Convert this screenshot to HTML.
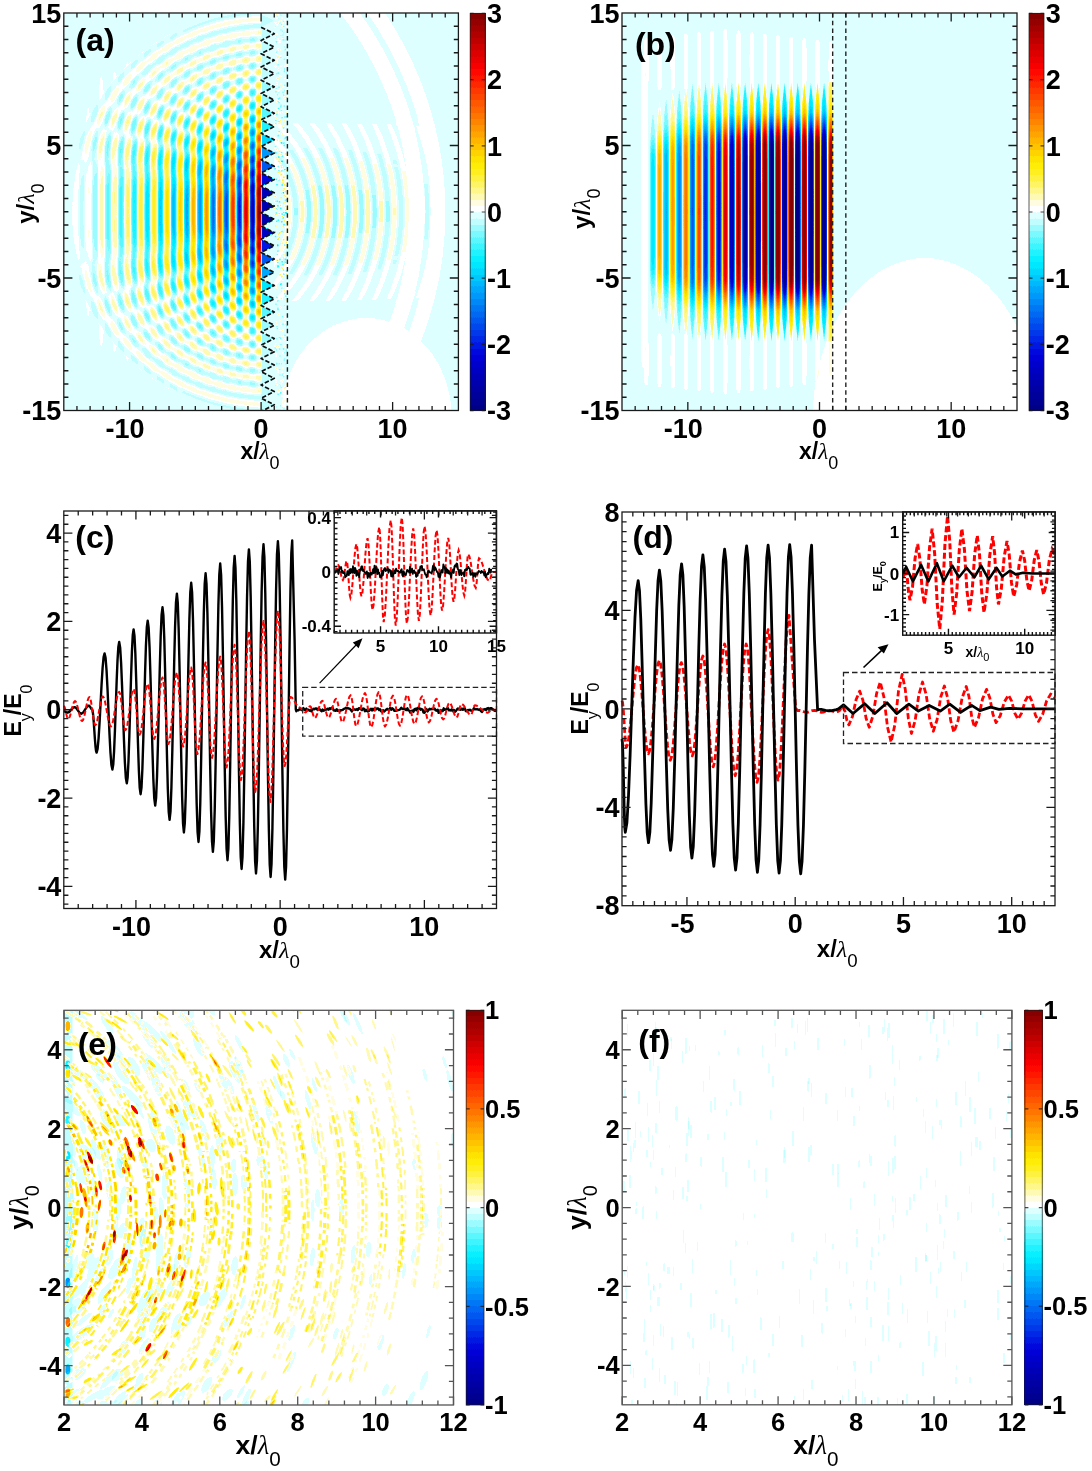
<!DOCTYPE html><html><head><meta charset="utf-8"><title>figure</title><style>html,body{margin:0;padding:0;background:#fff;}svg{display:block;}.p{mix-blend-mode:plus-lighter;}</style></head><body><svg width="1092" height="1471" viewBox="0 0 1092 1471" font-family='"Liberation Sans", Arial, sans-serif'><rect width="1092" height="1471" fill="#fff"/><defs><filter id="cma" filterUnits="userSpaceOnUse" x="61.8" y="11" width="398.6" height="401.5" color-interpolation-filters="sRGB"><feColorMatrix type="matrix" values="0.62 -0.62 0 0 0.5 0.62 -0.62 0 0 0.5 0.62 -0.62 0 0 0.5 0 0 0 0 1"/><feComponentTransfer><feFuncR type="discrete" tableValues="0 0 0 0 0 0 0 0 0 0 0 0 0 0 0 0 0 0 0 0 0 0 0 0 0 0 0 0 0 0 0 0 0 0 0 0 0 0 0 0 0 0 0 0 0 0 0 0 0 0 0 0 0 0 0 0 0 0 0 0 0 0 0 0 0 0 0 0 0 0 0 0 0 0 0 0 0 0 0 0 0 0 0 0 0 0 0 0 0 0 0 0 0 0 0 0 0.035 0.035 0.035 0.035 0.129 0.129 0.129 0.129 0.238 0.238 0.238 0.238 0.357 0.357 0.357 0.357 0.482 0.482 0.482 0.482 0.614 0.614 0.614 0.614 0.75 0.75 0.75 0.75 0.871 0.871 0.871 0.871 1 1 1 1 1 1 1 1 1 1 1 1 1 1 1 1 1 1 1 1 1 1 1 1 1 1 1 1 1 1 1 1 1 1 1 1 1 1 1 1 1 1 1 1 1 1 1 1 1 1 1 1 1 1 1 1 1 1 1 1 1 1 1 1 1 1 1 1 1 1 1 1 1 1 1 1 1 1 1 1 1 1 1 1 1 1 1 1 1 1 1 1 0.974 0.974 0.974 0.974 0.919 0.919 0.919 0.919 0.863 0.863 0.863 0.863 0.808 0.808 0.808 0.808 0.752 0.752 0.752 0.752 0.697 0.697 0.697 0.697 0.641 0.641 0.641 0.641 0.585 0.585 0.585 0.585 0.53 0.53 0.53 0.53"/><feFuncG type="discrete" tableValues="0 0 0 0 0 0 0 0 0 0 0 0 0 0 0 0 0 0 0 0 0 0 0 0 0 0 0 0 0 0 0 0 0 0 0 0 0.034 0.034 0.034 0.034 0.096 0.096 0.096 0.096 0.159 0.159 0.159 0.159 0.222 0.222 0.222 0.222 0.284 0.284 0.284 0.284 0.347 0.347 0.347 0.347 0.409 0.409 0.409 0.409 0.472 0.472 0.472 0.472 0.534 0.534 0.534 0.534 0.597 0.597 0.597 0.597 0.66 0.66 0.66 0.66 0.722 0.722 0.722 0.722 0.785 0.785 0.785 0.785 0.847 0.847 0.847 0.847 0.91 0.91 0.91 0.91 0.945 0.945 0.945 0.945 0.953 0.953 0.953 0.953 0.961 0.961 0.961 0.961 0.969 0.969 0.969 0.969 0.977 0.977 0.977 0.977 0.985 0.985 0.985 0.985 0.993 0.993 0.993 0.993 1 1 1 1 1 1 1 1 0.992 0.992 0.992 0.992 0.981 0.981 0.981 0.981 0.971 0.971 0.971 0.971 0.96 0.96 0.96 0.96 0.949 0.949 0.949 0.949 0.938 0.938 0.938 0.938 0.927 0.927 0.927 0.927 0.891 0.891 0.891 0.891 0.83 0.83 0.83 0.83 0.768 0.768 0.768 0.768 0.707 0.707 0.707 0.707 0.646 0.646 0.646 0.646 0.585 0.585 0.585 0.585 0.523 0.523 0.523 0.523 0.462 0.462 0.462 0.462 0.401 0.401 0.401 0.401 0.339 0.339 0.339 0.339 0.278 0.278 0.278 0.278 0.217 0.217 0.217 0.217 0.156 0.156 0.156 0.156 0.094 0.094 0.094 0.094 0.033 0.033 0.033 0.033 0 0 0 0 0 0 0 0 0 0 0 0 0 0 0 0 0 0 0 0 0 0 0 0 0 0 0 0 0 0 0 0 0 0 0 0"/><feFuncB type="discrete" tableValues="0.529 0.529 0.529 0.529 0.569 0.569 0.569 0.569 0.608 0.608 0.608 0.608 0.648 0.648 0.648 0.648 0.687 0.687 0.687 0.687 0.726 0.726 0.726 0.726 0.766 0.766 0.766 0.766 0.805 0.805 0.805 0.805 0.845 0.845 0.845 0.845 0.872 0.872 0.872 0.872 0.889 0.889 0.889 0.889 0.905 0.905 0.905 0.905 0.92 0.92 0.92 0.92 0.933 0.933 0.933 0.933 0.945 0.945 0.945 0.945 0.956 0.956 0.956 0.956 0.966 0.966 0.966 0.966 0.974 0.974 0.974 0.974 0.982 0.982 0.982 0.982 0.988 0.988 0.988 0.988 0.993 0.993 0.993 0.993 0.996 0.996 0.996 0.996 0.999 0.999 0.999 0.999 1 1 1 1 1 1 1 1 1 1 1 1 1 1 1 1 1 1 1 1 1 1 1 1 1 1 1 1 1 1 1 1 1 1 1 1 1 1 1 1 0.875 0.875 0.875 0.875 0.705 0.705 0.705 0.705 0.543 0.543 0.543 0.543 0.392 0.392 0.392 0.392 0.253 0.253 0.253 0.253 0.13 0.13 0.13 0.13 0.031 0.031 0.031 0.031 0 0 0 0 0 0 0 0 0 0 0 0 0 0 0 0 0 0 0 0 0 0 0 0 0 0 0 0 0 0 0 0 0 0 0 0 0 0 0 0 0 0 0 0 0 0 0 0 0 0 0 0 0 0 0 0 0 0 0 0 0 0 0 0 0 0 0 0 0 0 0 0 0 0 0 0 0 0 0 0 0 0 0 0 0 0 0 0 0 0 0 0 0 0 0 0"/></feComponentTransfer></filter>
<filter id="cmb" filterUnits="userSpaceOnUse" x="620" y="11" width="399" height="401.5" color-interpolation-filters="sRGB"><feColorMatrix type="matrix" values="0.62 -0.62 0 0 0.5 0.62 -0.62 0 0 0.5 0.62 -0.62 0 0 0.5 0 0 0 0 1"/><feComponentTransfer><feFuncR type="discrete" tableValues="0 0 0 0 0 0 0 0 0 0 0 0 0 0 0 0 0 0 0 0 0 0 0 0 0 0 0 0 0 0 0 0 0 0 0 0 0 0 0 0 0 0 0 0 0 0 0 0 0 0 0 0 0 0 0 0 0 0 0 0 0 0 0 0 0 0 0 0 0 0 0 0 0 0 0 0 0 0 0 0 0 0 0 0 0 0 0 0 0 0 0 0 0 0 0 0 0.035 0.035 0.035 0.035 0.129 0.129 0.129 0.129 0.238 0.238 0.238 0.238 0.357 0.357 0.357 0.357 0.482 0.482 0.482 0.482 0.614 0.614 0.614 0.614 0.75 0.75 0.75 0.75 0.871 0.871 0.871 0.871 1 1 1 1 1 1 1 1 1 1 1 1 1 1 1 1 1 1 1 1 1 1 1 1 1 1 1 1 1 1 1 1 1 1 1 1 1 1 1 1 1 1 1 1 1 1 1 1 1 1 1 1 1 1 1 1 1 1 1 1 1 1 1 1 1 1 1 1 1 1 1 1 1 1 1 1 1 1 1 1 1 1 1 1 1 1 1 1 1 1 1 1 0.974 0.974 0.974 0.974 0.919 0.919 0.919 0.919 0.863 0.863 0.863 0.863 0.808 0.808 0.808 0.808 0.752 0.752 0.752 0.752 0.697 0.697 0.697 0.697 0.641 0.641 0.641 0.641 0.585 0.585 0.585 0.585 0.53 0.53 0.53 0.53"/><feFuncG type="discrete" tableValues="0 0 0 0 0 0 0 0 0 0 0 0 0 0 0 0 0 0 0 0 0 0 0 0 0 0 0 0 0 0 0 0 0 0 0 0 0.034 0.034 0.034 0.034 0.096 0.096 0.096 0.096 0.159 0.159 0.159 0.159 0.222 0.222 0.222 0.222 0.284 0.284 0.284 0.284 0.347 0.347 0.347 0.347 0.409 0.409 0.409 0.409 0.472 0.472 0.472 0.472 0.534 0.534 0.534 0.534 0.597 0.597 0.597 0.597 0.66 0.66 0.66 0.66 0.722 0.722 0.722 0.722 0.785 0.785 0.785 0.785 0.847 0.847 0.847 0.847 0.91 0.91 0.91 0.91 0.945 0.945 0.945 0.945 0.953 0.953 0.953 0.953 0.961 0.961 0.961 0.961 0.969 0.969 0.969 0.969 0.977 0.977 0.977 0.977 0.985 0.985 0.985 0.985 0.993 0.993 0.993 0.993 1 1 1 1 1 1 1 1 0.992 0.992 0.992 0.992 0.981 0.981 0.981 0.981 0.971 0.971 0.971 0.971 0.96 0.96 0.96 0.96 0.949 0.949 0.949 0.949 0.938 0.938 0.938 0.938 0.927 0.927 0.927 0.927 0.891 0.891 0.891 0.891 0.83 0.83 0.83 0.83 0.768 0.768 0.768 0.768 0.707 0.707 0.707 0.707 0.646 0.646 0.646 0.646 0.585 0.585 0.585 0.585 0.523 0.523 0.523 0.523 0.462 0.462 0.462 0.462 0.401 0.401 0.401 0.401 0.339 0.339 0.339 0.339 0.278 0.278 0.278 0.278 0.217 0.217 0.217 0.217 0.156 0.156 0.156 0.156 0.094 0.094 0.094 0.094 0.033 0.033 0.033 0.033 0 0 0 0 0 0 0 0 0 0 0 0 0 0 0 0 0 0 0 0 0 0 0 0 0 0 0 0 0 0 0 0 0 0 0 0"/><feFuncB type="discrete" tableValues="0.529 0.529 0.529 0.529 0.569 0.569 0.569 0.569 0.608 0.608 0.608 0.608 0.648 0.648 0.648 0.648 0.687 0.687 0.687 0.687 0.726 0.726 0.726 0.726 0.766 0.766 0.766 0.766 0.805 0.805 0.805 0.805 0.845 0.845 0.845 0.845 0.872 0.872 0.872 0.872 0.889 0.889 0.889 0.889 0.905 0.905 0.905 0.905 0.92 0.92 0.92 0.92 0.933 0.933 0.933 0.933 0.945 0.945 0.945 0.945 0.956 0.956 0.956 0.956 0.966 0.966 0.966 0.966 0.974 0.974 0.974 0.974 0.982 0.982 0.982 0.982 0.988 0.988 0.988 0.988 0.993 0.993 0.993 0.993 0.996 0.996 0.996 0.996 0.999 0.999 0.999 0.999 1 1 1 1 1 1 1 1 1 1 1 1 1 1 1 1 1 1 1 1 1 1 1 1 1 1 1 1 1 1 1 1 1 1 1 1 1 1 1 1 0.875 0.875 0.875 0.875 0.705 0.705 0.705 0.705 0.543 0.543 0.543 0.543 0.392 0.392 0.392 0.392 0.253 0.253 0.253 0.253 0.13 0.13 0.13 0.13 0.031 0.031 0.031 0.031 0 0 0 0 0 0 0 0 0 0 0 0 0 0 0 0 0 0 0 0 0 0 0 0 0 0 0 0 0 0 0 0 0 0 0 0 0 0 0 0 0 0 0 0 0 0 0 0 0 0 0 0 0 0 0 0 0 0 0 0 0 0 0 0 0 0 0 0 0 0 0 0 0 0 0 0 0 0 0 0 0 0 0 0 0 0 0 0 0 0 0 0 0 0 0 0"/></feComponentTransfer></filter>
<filter id="cme" filterUnits="userSpaceOnUse" x="62" y="1008.3" width="393.5" height="398.7" color-interpolation-filters="sRGB"><feColorMatrix type="matrix" values="0.62 -0.62 0 0 0.5 0.62 -0.62 0 0 0.5 0.62 -0.62 0 0 0.5 0 0 0 0 1"/><feComponentTransfer><feFuncR type="discrete" tableValues="0 0 0 0 0 0 0 0 0 0 0 0 0 0 0 0 0 0 0 0 0 0 0 0 0 0 0 0 0 0 0 0 0 0 0 0 0 0 0 0 0 0 0 0 0 0 0 0 0 0 0 0 0 0 0 0 0 0 0 0 0 0 0 0 0 0 0 0 0 0 0 0 0 0 0 0 0 0 0 0 0 0 0 0 0 0 0 0 0 0 0 0 0 0 0 0 0.035 0.035 0.035 0.035 0.129 0.129 0.129 0.129 0.238 0.238 0.238 0.238 0.357 0.357 0.357 0.357 0.482 0.482 0.482 0.482 0.614 0.614 0.614 0.614 0.75 0.75 0.75 0.75 0.871 0.871 0.871 0.871 1 1 1 1 1 1 1 1 1 1 1 1 1 1 1 1 1 1 1 1 1 1 1 1 1 1 1 1 1 1 1 1 1 1 1 1 1 1 1 1 1 1 1 1 1 1 1 1 1 1 1 1 1 1 1 1 1 1 1 1 1 1 1 1 1 1 1 1 1 1 1 1 1 1 1 1 1 1 1 1 1 1 1 1 1 1 1 1 1 1 1 1 0.974 0.974 0.974 0.974 0.919 0.919 0.919 0.919 0.863 0.863 0.863 0.863 0.808 0.808 0.808 0.808 0.752 0.752 0.752 0.752 0.697 0.697 0.697 0.697 0.641 0.641 0.641 0.641 0.585 0.585 0.585 0.585 0.53 0.53 0.53 0.53"/><feFuncG type="discrete" tableValues="0 0 0 0 0 0 0 0 0 0 0 0 0 0 0 0 0 0 0 0 0 0 0 0 0 0 0 0 0 0 0 0 0 0 0 0 0.034 0.034 0.034 0.034 0.096 0.096 0.096 0.096 0.159 0.159 0.159 0.159 0.222 0.222 0.222 0.222 0.284 0.284 0.284 0.284 0.347 0.347 0.347 0.347 0.409 0.409 0.409 0.409 0.472 0.472 0.472 0.472 0.534 0.534 0.534 0.534 0.597 0.597 0.597 0.597 0.66 0.66 0.66 0.66 0.722 0.722 0.722 0.722 0.785 0.785 0.785 0.785 0.847 0.847 0.847 0.847 0.91 0.91 0.91 0.91 0.945 0.945 0.945 0.945 0.953 0.953 0.953 0.953 0.961 0.961 0.961 0.961 0.969 0.969 0.969 0.969 0.977 0.977 0.977 0.977 0.985 0.985 0.985 0.985 0.993 0.993 0.993 0.993 1 1 1 1 1 1 1 1 0.992 0.992 0.992 0.992 0.981 0.981 0.981 0.981 0.971 0.971 0.971 0.971 0.96 0.96 0.96 0.96 0.949 0.949 0.949 0.949 0.938 0.938 0.938 0.938 0.927 0.927 0.927 0.927 0.891 0.891 0.891 0.891 0.83 0.83 0.83 0.83 0.768 0.768 0.768 0.768 0.707 0.707 0.707 0.707 0.646 0.646 0.646 0.646 0.585 0.585 0.585 0.585 0.523 0.523 0.523 0.523 0.462 0.462 0.462 0.462 0.401 0.401 0.401 0.401 0.339 0.339 0.339 0.339 0.278 0.278 0.278 0.278 0.217 0.217 0.217 0.217 0.156 0.156 0.156 0.156 0.094 0.094 0.094 0.094 0.033 0.033 0.033 0.033 0 0 0 0 0 0 0 0 0 0 0 0 0 0 0 0 0 0 0 0 0 0 0 0 0 0 0 0 0 0 0 0 0 0 0 0"/><feFuncB type="discrete" tableValues="0.529 0.529 0.529 0.529 0.569 0.569 0.569 0.569 0.608 0.608 0.608 0.608 0.648 0.648 0.648 0.648 0.687 0.687 0.687 0.687 0.726 0.726 0.726 0.726 0.766 0.766 0.766 0.766 0.805 0.805 0.805 0.805 0.845 0.845 0.845 0.845 0.872 0.872 0.872 0.872 0.889 0.889 0.889 0.889 0.905 0.905 0.905 0.905 0.92 0.92 0.92 0.92 0.933 0.933 0.933 0.933 0.945 0.945 0.945 0.945 0.956 0.956 0.956 0.956 0.966 0.966 0.966 0.966 0.974 0.974 0.974 0.974 0.982 0.982 0.982 0.982 0.988 0.988 0.988 0.988 0.993 0.993 0.993 0.993 0.996 0.996 0.996 0.996 0.999 0.999 0.999 0.999 1 1 1 1 1 1 1 1 1 1 1 1 1 1 1 1 1 1 1 1 1 1 1 1 1 1 1 1 1 1 1 1 1 1 1 1 1 1 1 1 0.875 0.875 0.875 0.875 0.705 0.705 0.705 0.705 0.543 0.543 0.543 0.543 0.392 0.392 0.392 0.392 0.253 0.253 0.253 0.253 0.13 0.13 0.13 0.13 0.031 0.031 0.031 0.031 0 0 0 0 0 0 0 0 0 0 0 0 0 0 0 0 0 0 0 0 0 0 0 0 0 0 0 0 0 0 0 0 0 0 0 0 0 0 0 0 0 0 0 0 0 0 0 0 0 0 0 0 0 0 0 0 0 0 0 0 0 0 0 0 0 0 0 0 0 0 0 0 0 0 0 0 0 0 0 0 0 0 0 0 0 0 0 0 0 0 0 0 0 0 0 0"/></feComponentTransfer></filter>
<filter id="cmf" filterUnits="userSpaceOnUse" x="620.2" y="1008.3" width="393.7" height="398.5" color-interpolation-filters="sRGB"><feColorMatrix type="matrix" values="0.62 -0.62 0 0 0.5 0.62 -0.62 0 0 0.5 0.62 -0.62 0 0 0.5 0 0 0 0 1"/><feComponentTransfer><feFuncR type="discrete" tableValues="0 0 0 0 0 0 0 0 0 0 0 0 0 0 0 0 0 0 0 0 0 0 0 0 0 0 0 0 0 0 0 0 0 0 0 0 0 0 0 0 0 0 0 0 0 0 0 0 0 0 0 0 0 0 0 0 0 0 0 0 0 0 0 0 0 0 0 0 0 0 0 0 0 0 0 0 0 0 0 0 0 0 0 0 0 0 0 0 0 0 0 0 0 0 0 0 0.035 0.035 0.035 0.035 0.129 0.129 0.129 0.129 0.238 0.238 0.238 0.238 0.357 0.357 0.357 0.357 0.482 0.482 0.482 0.482 0.614 0.614 0.614 0.614 0.75 0.75 0.75 0.75 0.871 0.871 0.871 0.871 1 1 1 1 1 1 1 1 1 1 1 1 1 1 1 1 1 1 1 1 1 1 1 1 1 1 1 1 1 1 1 1 1 1 1 1 1 1 1 1 1 1 1 1 1 1 1 1 1 1 1 1 1 1 1 1 1 1 1 1 1 1 1 1 1 1 1 1 1 1 1 1 1 1 1 1 1 1 1 1 1 1 1 1 1 1 1 1 1 1 1 1 0.974 0.974 0.974 0.974 0.919 0.919 0.919 0.919 0.863 0.863 0.863 0.863 0.808 0.808 0.808 0.808 0.752 0.752 0.752 0.752 0.697 0.697 0.697 0.697 0.641 0.641 0.641 0.641 0.585 0.585 0.585 0.585 0.53 0.53 0.53 0.53"/><feFuncG type="discrete" tableValues="0 0 0 0 0 0 0 0 0 0 0 0 0 0 0 0 0 0 0 0 0 0 0 0 0 0 0 0 0 0 0 0 0 0 0 0 0.034 0.034 0.034 0.034 0.096 0.096 0.096 0.096 0.159 0.159 0.159 0.159 0.222 0.222 0.222 0.222 0.284 0.284 0.284 0.284 0.347 0.347 0.347 0.347 0.409 0.409 0.409 0.409 0.472 0.472 0.472 0.472 0.534 0.534 0.534 0.534 0.597 0.597 0.597 0.597 0.66 0.66 0.66 0.66 0.722 0.722 0.722 0.722 0.785 0.785 0.785 0.785 0.847 0.847 0.847 0.847 0.91 0.91 0.91 0.91 0.945 0.945 0.945 0.945 0.953 0.953 0.953 0.953 0.961 0.961 0.961 0.961 0.969 0.969 0.969 0.969 0.977 0.977 0.977 0.977 0.985 0.985 0.985 0.985 0.993 0.993 0.993 0.993 1 1 1 1 1 1 1 1 0.992 0.992 0.992 0.992 0.981 0.981 0.981 0.981 0.971 0.971 0.971 0.971 0.96 0.96 0.96 0.96 0.949 0.949 0.949 0.949 0.938 0.938 0.938 0.938 0.927 0.927 0.927 0.927 0.891 0.891 0.891 0.891 0.83 0.83 0.83 0.83 0.768 0.768 0.768 0.768 0.707 0.707 0.707 0.707 0.646 0.646 0.646 0.646 0.585 0.585 0.585 0.585 0.523 0.523 0.523 0.523 0.462 0.462 0.462 0.462 0.401 0.401 0.401 0.401 0.339 0.339 0.339 0.339 0.278 0.278 0.278 0.278 0.217 0.217 0.217 0.217 0.156 0.156 0.156 0.156 0.094 0.094 0.094 0.094 0.033 0.033 0.033 0.033 0 0 0 0 0 0 0 0 0 0 0 0 0 0 0 0 0 0 0 0 0 0 0 0 0 0 0 0 0 0 0 0 0 0 0 0"/><feFuncB type="discrete" tableValues="0.529 0.529 0.529 0.529 0.569 0.569 0.569 0.569 0.608 0.608 0.608 0.608 0.648 0.648 0.648 0.648 0.687 0.687 0.687 0.687 0.726 0.726 0.726 0.726 0.766 0.766 0.766 0.766 0.805 0.805 0.805 0.805 0.845 0.845 0.845 0.845 0.872 0.872 0.872 0.872 0.889 0.889 0.889 0.889 0.905 0.905 0.905 0.905 0.92 0.92 0.92 0.92 0.933 0.933 0.933 0.933 0.945 0.945 0.945 0.945 0.956 0.956 0.956 0.956 0.966 0.966 0.966 0.966 0.974 0.974 0.974 0.974 0.982 0.982 0.982 0.982 0.988 0.988 0.988 0.988 0.993 0.993 0.993 0.993 0.996 0.996 0.996 0.996 0.999 0.999 0.999 0.999 1 1 1 1 1 1 1 1 1 1 1 1 1 1 1 1 1 1 1 1 1 1 1 1 1 1 1 1 1 1 1 1 1 1 1 1 1 1 1 1 0.875 0.875 0.875 0.875 0.705 0.705 0.705 0.705 0.543 0.543 0.543 0.543 0.392 0.392 0.392 0.392 0.253 0.253 0.253 0.253 0.13 0.13 0.13 0.13 0.031 0.031 0.031 0.031 0 0 0 0 0 0 0 0 0 0 0 0 0 0 0 0 0 0 0 0 0 0 0 0 0 0 0 0 0 0 0 0 0 0 0 0 0 0 0 0 0 0 0 0 0 0 0 0 0 0 0 0 0 0 0 0 0 0 0 0 0 0 0 0 0 0 0 0 0 0 0 0 0 0 0 0 0 0 0 0 0 0 0 0 0 0 0 0 0 0 0 0 0 0 0 0"/></feComponentTransfer></filter>
<filter id="cmca" filterUnits="userSpaceOnUse" x="469.2" y="12.4" width="17" height="399.2" color-interpolation-filters="sRGB"><feColorMatrix type="matrix" values="0.5 -0.5 0 0 0.5 0.5 -0.5 0 0 0.5 0.5 -0.5 0 0 0.5 0 0 0 0 1"/><feComponentTransfer><feFuncR type="discrete" tableValues="0 0 0 0 0 0 0 0 0 0 0 0 0 0 0 0 0 0 0 0 0 0 0 0 0 0 0 0 0 0 0 0 0 0 0 0 0 0 0 0 0 0 0 0 0 0 0 0 0 0 0 0 0 0 0 0 0 0 0 0 0 0 0 0 0 0 0 0 0 0 0 0 0 0 0 0 0 0 0 0 0 0 0 0 0 0 0 0 0 0 0 0 0 0 0 0 0.035 0.035 0.035 0.035 0.129 0.129 0.129 0.129 0.238 0.238 0.238 0.238 0.357 0.357 0.357 0.357 0.482 0.482 0.482 0.482 0.614 0.614 0.614 0.614 0.75 0.75 0.75 0.75 0.871 0.871 0.871 0.871 1 1 1 1 1 1 1 1 1 1 1 1 1 1 1 1 1 1 1 1 1 1 1 1 1 1 1 1 1 1 1 1 1 1 1 1 1 1 1 1 1 1 1 1 1 1 1 1 1 1 1 1 1 1 1 1 1 1 1 1 1 1 1 1 1 1 1 1 1 1 1 1 1 1 1 1 1 1 1 1 1 1 1 1 1 1 1 1 1 1 1 1 0.974 0.974 0.974 0.974 0.919 0.919 0.919 0.919 0.863 0.863 0.863 0.863 0.808 0.808 0.808 0.808 0.752 0.752 0.752 0.752 0.697 0.697 0.697 0.697 0.641 0.641 0.641 0.641 0.585 0.585 0.585 0.585 0.53 0.53 0.53 0.53"/><feFuncG type="discrete" tableValues="0 0 0 0 0 0 0 0 0 0 0 0 0 0 0 0 0 0 0 0 0 0 0 0 0 0 0 0 0 0 0 0 0 0 0 0 0.034 0.034 0.034 0.034 0.096 0.096 0.096 0.096 0.159 0.159 0.159 0.159 0.222 0.222 0.222 0.222 0.284 0.284 0.284 0.284 0.347 0.347 0.347 0.347 0.409 0.409 0.409 0.409 0.472 0.472 0.472 0.472 0.534 0.534 0.534 0.534 0.597 0.597 0.597 0.597 0.66 0.66 0.66 0.66 0.722 0.722 0.722 0.722 0.785 0.785 0.785 0.785 0.847 0.847 0.847 0.847 0.91 0.91 0.91 0.91 0.945 0.945 0.945 0.945 0.953 0.953 0.953 0.953 0.961 0.961 0.961 0.961 0.969 0.969 0.969 0.969 0.977 0.977 0.977 0.977 0.985 0.985 0.985 0.985 0.993 0.993 0.993 0.993 1 1 1 1 1 1 1 1 0.992 0.992 0.992 0.992 0.981 0.981 0.981 0.981 0.971 0.971 0.971 0.971 0.96 0.96 0.96 0.96 0.949 0.949 0.949 0.949 0.938 0.938 0.938 0.938 0.927 0.927 0.927 0.927 0.891 0.891 0.891 0.891 0.83 0.83 0.83 0.83 0.768 0.768 0.768 0.768 0.707 0.707 0.707 0.707 0.646 0.646 0.646 0.646 0.585 0.585 0.585 0.585 0.523 0.523 0.523 0.523 0.462 0.462 0.462 0.462 0.401 0.401 0.401 0.401 0.339 0.339 0.339 0.339 0.278 0.278 0.278 0.278 0.217 0.217 0.217 0.217 0.156 0.156 0.156 0.156 0.094 0.094 0.094 0.094 0.033 0.033 0.033 0.033 0 0 0 0 0 0 0 0 0 0 0 0 0 0 0 0 0 0 0 0 0 0 0 0 0 0 0 0 0 0 0 0 0 0 0 0"/><feFuncB type="discrete" tableValues="0.529 0.529 0.529 0.529 0.569 0.569 0.569 0.569 0.608 0.608 0.608 0.608 0.648 0.648 0.648 0.648 0.687 0.687 0.687 0.687 0.726 0.726 0.726 0.726 0.766 0.766 0.766 0.766 0.805 0.805 0.805 0.805 0.845 0.845 0.845 0.845 0.872 0.872 0.872 0.872 0.889 0.889 0.889 0.889 0.905 0.905 0.905 0.905 0.92 0.92 0.92 0.92 0.933 0.933 0.933 0.933 0.945 0.945 0.945 0.945 0.956 0.956 0.956 0.956 0.966 0.966 0.966 0.966 0.974 0.974 0.974 0.974 0.982 0.982 0.982 0.982 0.988 0.988 0.988 0.988 0.993 0.993 0.993 0.993 0.996 0.996 0.996 0.996 0.999 0.999 0.999 0.999 1 1 1 1 1 1 1 1 1 1 1 1 1 1 1 1 1 1 1 1 1 1 1 1 1 1 1 1 1 1 1 1 1 1 1 1 1 1 1 1 0.875 0.875 0.875 0.875 0.705 0.705 0.705 0.705 0.543 0.543 0.543 0.543 0.392 0.392 0.392 0.392 0.253 0.253 0.253 0.253 0.13 0.13 0.13 0.13 0.031 0.031 0.031 0.031 0 0 0 0 0 0 0 0 0 0 0 0 0 0 0 0 0 0 0 0 0 0 0 0 0 0 0 0 0 0 0 0 0 0 0 0 0 0 0 0 0 0 0 0 0 0 0 0 0 0 0 0 0 0 0 0 0 0 0 0 0 0 0 0 0 0 0 0 0 0 0 0 0 0 0 0 0 0 0 0 0 0 0 0 0 0 0 0 0 0 0 0 0 0 0 0"/></feComponentTransfer></filter>
<filter id="cmcb" filterUnits="userSpaceOnUse" x="1028" y="12.4" width="17" height="399.2" color-interpolation-filters="sRGB"><feColorMatrix type="matrix" values="0.5 -0.5 0 0 0.5 0.5 -0.5 0 0 0.5 0.5 -0.5 0 0 0.5 0 0 0 0 1"/><feComponentTransfer><feFuncR type="discrete" tableValues="0 0 0 0 0 0 0 0 0 0 0 0 0 0 0 0 0 0 0 0 0 0 0 0 0 0 0 0 0 0 0 0 0 0 0 0 0 0 0 0 0 0 0 0 0 0 0 0 0 0 0 0 0 0 0 0 0 0 0 0 0 0 0 0 0 0 0 0 0 0 0 0 0 0 0 0 0 0 0 0 0 0 0 0 0 0 0 0 0 0 0 0 0 0 0 0 0.035 0.035 0.035 0.035 0.129 0.129 0.129 0.129 0.238 0.238 0.238 0.238 0.357 0.357 0.357 0.357 0.482 0.482 0.482 0.482 0.614 0.614 0.614 0.614 0.75 0.75 0.75 0.75 0.871 0.871 0.871 0.871 1 1 1 1 1 1 1 1 1 1 1 1 1 1 1 1 1 1 1 1 1 1 1 1 1 1 1 1 1 1 1 1 1 1 1 1 1 1 1 1 1 1 1 1 1 1 1 1 1 1 1 1 1 1 1 1 1 1 1 1 1 1 1 1 1 1 1 1 1 1 1 1 1 1 1 1 1 1 1 1 1 1 1 1 1 1 1 1 1 1 1 1 0.974 0.974 0.974 0.974 0.919 0.919 0.919 0.919 0.863 0.863 0.863 0.863 0.808 0.808 0.808 0.808 0.752 0.752 0.752 0.752 0.697 0.697 0.697 0.697 0.641 0.641 0.641 0.641 0.585 0.585 0.585 0.585 0.53 0.53 0.53 0.53"/><feFuncG type="discrete" tableValues="0 0 0 0 0 0 0 0 0 0 0 0 0 0 0 0 0 0 0 0 0 0 0 0 0 0 0 0 0 0 0 0 0 0 0 0 0.034 0.034 0.034 0.034 0.096 0.096 0.096 0.096 0.159 0.159 0.159 0.159 0.222 0.222 0.222 0.222 0.284 0.284 0.284 0.284 0.347 0.347 0.347 0.347 0.409 0.409 0.409 0.409 0.472 0.472 0.472 0.472 0.534 0.534 0.534 0.534 0.597 0.597 0.597 0.597 0.66 0.66 0.66 0.66 0.722 0.722 0.722 0.722 0.785 0.785 0.785 0.785 0.847 0.847 0.847 0.847 0.91 0.91 0.91 0.91 0.945 0.945 0.945 0.945 0.953 0.953 0.953 0.953 0.961 0.961 0.961 0.961 0.969 0.969 0.969 0.969 0.977 0.977 0.977 0.977 0.985 0.985 0.985 0.985 0.993 0.993 0.993 0.993 1 1 1 1 1 1 1 1 0.992 0.992 0.992 0.992 0.981 0.981 0.981 0.981 0.971 0.971 0.971 0.971 0.96 0.96 0.96 0.96 0.949 0.949 0.949 0.949 0.938 0.938 0.938 0.938 0.927 0.927 0.927 0.927 0.891 0.891 0.891 0.891 0.83 0.83 0.83 0.83 0.768 0.768 0.768 0.768 0.707 0.707 0.707 0.707 0.646 0.646 0.646 0.646 0.585 0.585 0.585 0.585 0.523 0.523 0.523 0.523 0.462 0.462 0.462 0.462 0.401 0.401 0.401 0.401 0.339 0.339 0.339 0.339 0.278 0.278 0.278 0.278 0.217 0.217 0.217 0.217 0.156 0.156 0.156 0.156 0.094 0.094 0.094 0.094 0.033 0.033 0.033 0.033 0 0 0 0 0 0 0 0 0 0 0 0 0 0 0 0 0 0 0 0 0 0 0 0 0 0 0 0 0 0 0 0 0 0 0 0"/><feFuncB type="discrete" tableValues="0.529 0.529 0.529 0.529 0.569 0.569 0.569 0.569 0.608 0.608 0.608 0.608 0.648 0.648 0.648 0.648 0.687 0.687 0.687 0.687 0.726 0.726 0.726 0.726 0.766 0.766 0.766 0.766 0.805 0.805 0.805 0.805 0.845 0.845 0.845 0.845 0.872 0.872 0.872 0.872 0.889 0.889 0.889 0.889 0.905 0.905 0.905 0.905 0.92 0.92 0.92 0.92 0.933 0.933 0.933 0.933 0.945 0.945 0.945 0.945 0.956 0.956 0.956 0.956 0.966 0.966 0.966 0.966 0.974 0.974 0.974 0.974 0.982 0.982 0.982 0.982 0.988 0.988 0.988 0.988 0.993 0.993 0.993 0.993 0.996 0.996 0.996 0.996 0.999 0.999 0.999 0.999 1 1 1 1 1 1 1 1 1 1 1 1 1 1 1 1 1 1 1 1 1 1 1 1 1 1 1 1 1 1 1 1 1 1 1 1 1 1 1 1 0.875 0.875 0.875 0.875 0.705 0.705 0.705 0.705 0.543 0.543 0.543 0.543 0.392 0.392 0.392 0.392 0.253 0.253 0.253 0.253 0.13 0.13 0.13 0.13 0.031 0.031 0.031 0.031 0 0 0 0 0 0 0 0 0 0 0 0 0 0 0 0 0 0 0 0 0 0 0 0 0 0 0 0 0 0 0 0 0 0 0 0 0 0 0 0 0 0 0 0 0 0 0 0 0 0 0 0 0 0 0 0 0 0 0 0 0 0 0 0 0 0 0 0 0 0 0 0 0 0 0 0 0 0 0 0 0 0 0 0 0 0 0 0 0 0 0 0 0 0 0 0"/></feComponentTransfer></filter>
<filter id="cmce" filterUnits="userSpaceOnUse" x="465.2" y="1009.3" width="19.8" height="396.7" color-interpolation-filters="sRGB"><feColorMatrix type="matrix" values="0.5 -0.5 0 0 0.5 0.5 -0.5 0 0 0.5 0.5 -0.5 0 0 0.5 0 0 0 0 1"/><feComponentTransfer><feFuncR type="discrete" tableValues="0 0 0 0 0 0 0 0 0 0 0 0 0 0 0 0 0 0 0 0 0 0 0 0 0 0 0 0 0 0 0 0 0 0 0 0 0 0 0 0 0 0 0 0 0 0 0 0 0 0 0 0 0 0 0 0 0 0 0 0 0 0 0 0 0 0 0 0 0 0 0 0 0 0 0 0 0 0 0 0 0 0 0 0 0 0 0 0 0 0 0 0 0 0 0 0 0.035 0.035 0.035 0.035 0.129 0.129 0.129 0.129 0.238 0.238 0.238 0.238 0.357 0.357 0.357 0.357 0.482 0.482 0.482 0.482 0.614 0.614 0.614 0.614 0.75 0.75 0.75 0.75 0.871 0.871 0.871 0.871 1 1 1 1 1 1 1 1 1 1 1 1 1 1 1 1 1 1 1 1 1 1 1 1 1 1 1 1 1 1 1 1 1 1 1 1 1 1 1 1 1 1 1 1 1 1 1 1 1 1 1 1 1 1 1 1 1 1 1 1 1 1 1 1 1 1 1 1 1 1 1 1 1 1 1 1 1 1 1 1 1 1 1 1 1 1 1 1 1 1 1 1 0.974 0.974 0.974 0.974 0.919 0.919 0.919 0.919 0.863 0.863 0.863 0.863 0.808 0.808 0.808 0.808 0.752 0.752 0.752 0.752 0.697 0.697 0.697 0.697 0.641 0.641 0.641 0.641 0.585 0.585 0.585 0.585 0.53 0.53 0.53 0.53"/><feFuncG type="discrete" tableValues="0 0 0 0 0 0 0 0 0 0 0 0 0 0 0 0 0 0 0 0 0 0 0 0 0 0 0 0 0 0 0 0 0 0 0 0 0.034 0.034 0.034 0.034 0.096 0.096 0.096 0.096 0.159 0.159 0.159 0.159 0.222 0.222 0.222 0.222 0.284 0.284 0.284 0.284 0.347 0.347 0.347 0.347 0.409 0.409 0.409 0.409 0.472 0.472 0.472 0.472 0.534 0.534 0.534 0.534 0.597 0.597 0.597 0.597 0.66 0.66 0.66 0.66 0.722 0.722 0.722 0.722 0.785 0.785 0.785 0.785 0.847 0.847 0.847 0.847 0.91 0.91 0.91 0.91 0.945 0.945 0.945 0.945 0.953 0.953 0.953 0.953 0.961 0.961 0.961 0.961 0.969 0.969 0.969 0.969 0.977 0.977 0.977 0.977 0.985 0.985 0.985 0.985 0.993 0.993 0.993 0.993 1 1 1 1 1 1 1 1 0.992 0.992 0.992 0.992 0.981 0.981 0.981 0.981 0.971 0.971 0.971 0.971 0.96 0.96 0.96 0.96 0.949 0.949 0.949 0.949 0.938 0.938 0.938 0.938 0.927 0.927 0.927 0.927 0.891 0.891 0.891 0.891 0.83 0.83 0.83 0.83 0.768 0.768 0.768 0.768 0.707 0.707 0.707 0.707 0.646 0.646 0.646 0.646 0.585 0.585 0.585 0.585 0.523 0.523 0.523 0.523 0.462 0.462 0.462 0.462 0.401 0.401 0.401 0.401 0.339 0.339 0.339 0.339 0.278 0.278 0.278 0.278 0.217 0.217 0.217 0.217 0.156 0.156 0.156 0.156 0.094 0.094 0.094 0.094 0.033 0.033 0.033 0.033 0 0 0 0 0 0 0 0 0 0 0 0 0 0 0 0 0 0 0 0 0 0 0 0 0 0 0 0 0 0 0 0 0 0 0 0"/><feFuncB type="discrete" tableValues="0.529 0.529 0.529 0.529 0.569 0.569 0.569 0.569 0.608 0.608 0.608 0.608 0.648 0.648 0.648 0.648 0.687 0.687 0.687 0.687 0.726 0.726 0.726 0.726 0.766 0.766 0.766 0.766 0.805 0.805 0.805 0.805 0.845 0.845 0.845 0.845 0.872 0.872 0.872 0.872 0.889 0.889 0.889 0.889 0.905 0.905 0.905 0.905 0.92 0.92 0.92 0.92 0.933 0.933 0.933 0.933 0.945 0.945 0.945 0.945 0.956 0.956 0.956 0.956 0.966 0.966 0.966 0.966 0.974 0.974 0.974 0.974 0.982 0.982 0.982 0.982 0.988 0.988 0.988 0.988 0.993 0.993 0.993 0.993 0.996 0.996 0.996 0.996 0.999 0.999 0.999 0.999 1 1 1 1 1 1 1 1 1 1 1 1 1 1 1 1 1 1 1 1 1 1 1 1 1 1 1 1 1 1 1 1 1 1 1 1 1 1 1 1 0.875 0.875 0.875 0.875 0.705 0.705 0.705 0.705 0.543 0.543 0.543 0.543 0.392 0.392 0.392 0.392 0.253 0.253 0.253 0.253 0.13 0.13 0.13 0.13 0.031 0.031 0.031 0.031 0 0 0 0 0 0 0 0 0 0 0 0 0 0 0 0 0 0 0 0 0 0 0 0 0 0 0 0 0 0 0 0 0 0 0 0 0 0 0 0 0 0 0 0 0 0 0 0 0 0 0 0 0 0 0 0 0 0 0 0 0 0 0 0 0 0 0 0 0 0 0 0 0 0 0 0 0 0 0 0 0 0 0 0 0 0 0 0 0 0 0 0 0 0 0 0"/></feComponentTransfer></filter>
<filter id="cmcf" filterUnits="userSpaceOnUse" x="1023.9" y="1009.3" width="19.4" height="396.5" color-interpolation-filters="sRGB"><feColorMatrix type="matrix" values="0.5 -0.5 0 0 0.5 0.5 -0.5 0 0 0.5 0.5 -0.5 0 0 0.5 0 0 0 0 1"/><feComponentTransfer><feFuncR type="discrete" tableValues="0 0 0 0 0 0 0 0 0 0 0 0 0 0 0 0 0 0 0 0 0 0 0 0 0 0 0 0 0 0 0 0 0 0 0 0 0 0 0 0 0 0 0 0 0 0 0 0 0 0 0 0 0 0 0 0 0 0 0 0 0 0 0 0 0 0 0 0 0 0 0 0 0 0 0 0 0 0 0 0 0 0 0 0 0 0 0 0 0 0 0 0 0 0 0 0 0.035 0.035 0.035 0.035 0.129 0.129 0.129 0.129 0.238 0.238 0.238 0.238 0.357 0.357 0.357 0.357 0.482 0.482 0.482 0.482 0.614 0.614 0.614 0.614 0.75 0.75 0.75 0.75 0.871 0.871 0.871 0.871 1 1 1 1 1 1 1 1 1 1 1 1 1 1 1 1 1 1 1 1 1 1 1 1 1 1 1 1 1 1 1 1 1 1 1 1 1 1 1 1 1 1 1 1 1 1 1 1 1 1 1 1 1 1 1 1 1 1 1 1 1 1 1 1 1 1 1 1 1 1 1 1 1 1 1 1 1 1 1 1 1 1 1 1 1 1 1 1 1 1 1 1 0.974 0.974 0.974 0.974 0.919 0.919 0.919 0.919 0.863 0.863 0.863 0.863 0.808 0.808 0.808 0.808 0.752 0.752 0.752 0.752 0.697 0.697 0.697 0.697 0.641 0.641 0.641 0.641 0.585 0.585 0.585 0.585 0.53 0.53 0.53 0.53"/><feFuncG type="discrete" tableValues="0 0 0 0 0 0 0 0 0 0 0 0 0 0 0 0 0 0 0 0 0 0 0 0 0 0 0 0 0 0 0 0 0 0 0 0 0.034 0.034 0.034 0.034 0.096 0.096 0.096 0.096 0.159 0.159 0.159 0.159 0.222 0.222 0.222 0.222 0.284 0.284 0.284 0.284 0.347 0.347 0.347 0.347 0.409 0.409 0.409 0.409 0.472 0.472 0.472 0.472 0.534 0.534 0.534 0.534 0.597 0.597 0.597 0.597 0.66 0.66 0.66 0.66 0.722 0.722 0.722 0.722 0.785 0.785 0.785 0.785 0.847 0.847 0.847 0.847 0.91 0.91 0.91 0.91 0.945 0.945 0.945 0.945 0.953 0.953 0.953 0.953 0.961 0.961 0.961 0.961 0.969 0.969 0.969 0.969 0.977 0.977 0.977 0.977 0.985 0.985 0.985 0.985 0.993 0.993 0.993 0.993 1 1 1 1 1 1 1 1 0.992 0.992 0.992 0.992 0.981 0.981 0.981 0.981 0.971 0.971 0.971 0.971 0.96 0.96 0.96 0.96 0.949 0.949 0.949 0.949 0.938 0.938 0.938 0.938 0.927 0.927 0.927 0.927 0.891 0.891 0.891 0.891 0.83 0.83 0.83 0.83 0.768 0.768 0.768 0.768 0.707 0.707 0.707 0.707 0.646 0.646 0.646 0.646 0.585 0.585 0.585 0.585 0.523 0.523 0.523 0.523 0.462 0.462 0.462 0.462 0.401 0.401 0.401 0.401 0.339 0.339 0.339 0.339 0.278 0.278 0.278 0.278 0.217 0.217 0.217 0.217 0.156 0.156 0.156 0.156 0.094 0.094 0.094 0.094 0.033 0.033 0.033 0.033 0 0 0 0 0 0 0 0 0 0 0 0 0 0 0 0 0 0 0 0 0 0 0 0 0 0 0 0 0 0 0 0 0 0 0 0"/><feFuncB type="discrete" tableValues="0.529 0.529 0.529 0.529 0.569 0.569 0.569 0.569 0.608 0.608 0.608 0.608 0.648 0.648 0.648 0.648 0.687 0.687 0.687 0.687 0.726 0.726 0.726 0.726 0.766 0.766 0.766 0.766 0.805 0.805 0.805 0.805 0.845 0.845 0.845 0.845 0.872 0.872 0.872 0.872 0.889 0.889 0.889 0.889 0.905 0.905 0.905 0.905 0.92 0.92 0.92 0.92 0.933 0.933 0.933 0.933 0.945 0.945 0.945 0.945 0.956 0.956 0.956 0.956 0.966 0.966 0.966 0.966 0.974 0.974 0.974 0.974 0.982 0.982 0.982 0.982 0.988 0.988 0.988 0.988 0.993 0.993 0.993 0.993 0.996 0.996 0.996 0.996 0.999 0.999 0.999 0.999 1 1 1 1 1 1 1 1 1 1 1 1 1 1 1 1 1 1 1 1 1 1 1 1 1 1 1 1 1 1 1 1 1 1 1 1 1 1 1 1 0.875 0.875 0.875 0.875 0.705 0.705 0.705 0.705 0.543 0.543 0.543 0.543 0.392 0.392 0.392 0.392 0.253 0.253 0.253 0.253 0.13 0.13 0.13 0.13 0.031 0.031 0.031 0.031 0 0 0 0 0 0 0 0 0 0 0 0 0 0 0 0 0 0 0 0 0 0 0 0 0 0 0 0 0 0 0 0 0 0 0 0 0 0 0 0 0 0 0 0 0 0 0 0 0 0 0 0 0 0 0 0 0 0 0 0 0 0 0 0 0 0 0 0 0 0 0 0 0 0 0 0 0 0 0 0 0 0 0 0 0 0 0 0 0 0 0 0 0 0 0 0"/></feComponentTransfer></filter>
<linearGradient id="cbg" x1="0" y1="0" x2="0" y2="1"><stop offset="0" stop-color="#ff0000"/><stop offset="0.5" stop-color="#000000"/><stop offset="1" stop-color="#00ff00"/></linearGradient>
<clipPath id="clipa"><rect x="63.8" y="13" width="394.6" height="397.5"/></clipPath>
<clipPath id="clipb"><rect x="622" y="13" width="395" height="397.5"/></clipPath>
<clipPath id="clipe"><rect x="64" y="1010.3" width="389.5" height="394.7"/></clipPath>
<clipPath id="clipf"><rect x="622.2" y="1010.3" width="389.7" height="394.5"/></clipPath>
<linearGradient id="lp" x1="0" y1="0" x2="1" y2="0"><stop offset="0" stop-color="#000000"/><stop offset="0.08" stop-color="#6a0000"/><stop offset="0.17" stop-color="#a30000"/><stop offset="0.25" stop-color="#cc0000"/><stop offset="0.33" stop-color="#e80000"/><stop offset="0.42" stop-color="#f90000"/><stop offset="0.5" stop-color="#ff0000"/><stop offset="0.58" stop-color="#f90000"/><stop offset="0.67" stop-color="#e80000"/><stop offset="0.75" stop-color="#cc0000"/><stop offset="0.83" stop-color="#a30000"/><stop offset="0.92" stop-color="#6a0000"/><stop offset="1" stop-color="#000000"/></linearGradient>
<linearGradient id="ln" x1="0" y1="0" x2="1" y2="0"><stop offset="0" stop-color="#000000"/><stop offset="0.08" stop-color="#006a00"/><stop offset="0.17" stop-color="#00a300"/><stop offset="0.25" stop-color="#00cc00"/><stop offset="0.33" stop-color="#00e800"/><stop offset="0.42" stop-color="#00f900"/><stop offset="0.5" stop-color="#00ff00"/><stop offset="0.58" stop-color="#00f900"/><stop offset="0.67" stop-color="#00e800"/><stop offset="0.75" stop-color="#00cc00"/><stop offset="0.83" stop-color="#00a300"/><stop offset="0.92" stop-color="#006a00"/><stop offset="1" stop-color="#000000"/></linearGradient>
<linearGradient id="envbg" x1="0" y1="0" x2="0" y2="1"><stop offset="0" stop-color="#fff" stop-opacity="0.1"/><stop offset="0.04" stop-color="#fff" stop-opacity="0.18"/><stop offset="0.09" stop-color="#fff" stop-opacity="0.24"/><stop offset="0.12" stop-color="#fff" stop-opacity="0.3"/><stop offset="0.15" stop-color="#fff" stop-opacity="0.45"/><stop offset="0.18" stop-color="#fff" stop-opacity="0.6"/><stop offset="0.21" stop-color="#fff" stop-opacity="0.78"/><stop offset="0.24" stop-color="#fff" stop-opacity="0.9"/><stop offset="0.3" stop-color="#fff" stop-opacity="0.97"/><stop offset="0.5" stop-color="#fff" stop-opacity="1"/><stop offset="0.7" stop-color="#fff" stop-opacity="0.97"/><stop offset="0.76" stop-color="#fff" stop-opacity="0.9"/><stop offset="0.79" stop-color="#fff" stop-opacity="0.78"/><stop offset="0.82" stop-color="#fff" stop-opacity="0.6"/><stop offset="0.85" stop-color="#fff" stop-opacity="0.45"/><stop offset="0.88" stop-color="#fff" stop-opacity="0.3"/><stop offset="0.91" stop-color="#fff" stop-opacity="0.24"/><stop offset="0.96" stop-color="#fff" stop-opacity="0.18"/><stop offset="1" stop-color="#fff" stop-opacity="0.1"/></linearGradient><mask id="envb" maskContentUnits="objectBoundingBox"><rect width="1" height="1" fill="url(#envbg)"/></mask>
<linearGradient id="envsg" x1="0" y1="0" x2="0" y2="1"><stop offset="0" stop-color="#fff" stop-opacity="0"/><stop offset="0.1" stop-color="#fff" stop-opacity="0.5"/><stop offset="0.3" stop-color="#fff" stop-opacity="0.9"/><stop offset="0.5" stop-color="#fff" stop-opacity="1"/><stop offset="0.7" stop-color="#fff" stop-opacity="0.9"/><stop offset="0.9" stop-color="#fff" stop-opacity="0.5"/><stop offset="1" stop-color="#fff" stop-opacity="0"/></linearGradient><mask id="envs" maskContentUnits="objectBoundingBox"><rect width="1" height="1" fill="url(#envsg)"/></mask>
<linearGradient id="envgg" x1="0" y1="0" x2="0" y2="1"><stop offset="0" stop-color="#fff" stop-opacity="0.01"/><stop offset="0.05" stop-color="#fff" stop-opacity="0.02"/><stop offset="0.09" stop-color="#fff" stop-opacity="0.04"/><stop offset="0.14" stop-color="#fff" stop-opacity="0.08"/><stop offset="0.18" stop-color="#fff" stop-opacity="0.14"/><stop offset="0.23" stop-color="#fff" stop-opacity="0.24"/><stop offset="0.27" stop-color="#fff" stop-opacity="0.37"/><stop offset="0.32" stop-color="#fff" stop-opacity="0.53"/><stop offset="0.36" stop-color="#fff" stop-opacity="0.7"/><stop offset="0.41" stop-color="#fff" stop-opacity="0.85"/><stop offset="0.45" stop-color="#fff" stop-opacity="0.96"/><stop offset="0.5" stop-color="#fff" stop-opacity="1"/><stop offset="0.5" stop-color="#fff" stop-opacity="1"/><stop offset="0.55" stop-color="#fff" stop-opacity="0.96"/><stop offset="0.59" stop-color="#fff" stop-opacity="0.85"/><stop offset="0.64" stop-color="#fff" stop-opacity="0.7"/><stop offset="0.68" stop-color="#fff" stop-opacity="0.53"/><stop offset="0.73" stop-color="#fff" stop-opacity="0.37"/><stop offset="0.77" stop-color="#fff" stop-opacity="0.24"/><stop offset="0.82" stop-color="#fff" stop-opacity="0.14"/><stop offset="0.86" stop-color="#fff" stop-opacity="0.08"/><stop offset="0.91" stop-color="#fff" stop-opacity="0.04"/><stop offset="0.95" stop-color="#fff" stop-opacity="0.02"/><stop offset="1" stop-color="#fff" stop-opacity="0.01"/></linearGradient><mask id="envg" maskContentUnits="objectBoundingBox"><rect width="1" height="1" fill="url(#envgg)"/></mask><clipPath id="aleft"><rect x="63.8" y="13" width="197.3" height="397.5"/></clipPath><linearGradient id="alg" x1="0" y1="0" x2="0" y2="1"><stop offset="0" stop-color="#fff" stop-opacity="1"/><stop offset="0.27" stop-color="#fff" stop-opacity="1"/><stop offset="0.38" stop-color="#fff" stop-opacity="0.45"/><stop offset="0.5" stop-color="#fff" stop-opacity="0.12"/><stop offset="0.62" stop-color="#fff" stop-opacity="0.45"/><stop offset="0.73" stop-color="#fff" stop-opacity="1"/><stop offset="1" stop-color="#fff" stop-opacity="1"/></linearGradient><mask id="almask" maskUnits="userSpaceOnUse" x="63.8" y="13" width="394.6" height="397.5"><rect x="63.8" y="13" width="394.6" height="397.5" fill="url(#alg)"/></mask><clipPath id="aright"><rect x="274.25" y="13" width="184.15" height="397.5"/></clipPath><radialGradient id="aangm" cx="0" cy="0.5" r="1" gradientTransform="translate(0,0.5) scale(1,1) translate(0,-0.5)"><stop offset="0" stop-color="#fff" stop-opacity="1"/><stop offset="1" stop-color="#fff" stop-opacity="1"/></radialGradient><linearGradient id="angg" x1="0" y1="0" x2="0" y2="1"><stop offset="0" stop-color="#fff" stop-opacity="0"/><stop offset="0.27" stop-color="#fff" stop-opacity="0"/><stop offset="0.4" stop-color="#fff" stop-opacity="0.6"/><stop offset="0.5" stop-color="#fff" stop-opacity="1"/><stop offset="0.6" stop-color="#fff" stop-opacity="0.6"/><stop offset="0.73" stop-color="#fff" stop-opacity="0"/><stop offset="1" stop-color="#fff" stop-opacity="0"/></linearGradient><mask id="amask" maskUnits="userSpaceOnUse" x="63.8" y="13" width="394.6" height="397.5"><rect x="63.8" y="13" width="394.6" height="397.5" fill="url(#angg)"/></mask>
<linearGradient id="lpc" x1="0" y1="0" x2="1" y2="0"><stop offset="0" stop-color="#000"/><stop offset="0.3" stop-color="#b00000"/><stop offset="0.5" stop-color="#ff0000"/><stop offset="1" stop-color="#ff0000"/></linearGradient>

</defs>
<g clip-path="url(#clipa)"><g filter="url(#cma)"><rect x="61.8" y="11" width="398.6" height="401.5" fill="rgb(0,2,0)"/>
<g clip-path="url(#aleft)"><g mask="url(#almask)" class="p"><circle cx="267.68" cy="211.75" r="8.55" fill="none" stroke="rgb(18,0,0)" stroke-width="6.05"  class="p"/><circle cx="267.68" cy="211.75" r="8.55" fill="none" stroke="rgb(14,0,0)" stroke-width="3.42"  class="p"/><circle cx="267.68" cy="211.75" r="15.13" fill="none" stroke="rgb(0,17,0)" stroke-width="6.05"  class="p"/><circle cx="267.68" cy="211.75" r="15.13" fill="none" stroke="rgb(0,12,0)" stroke-width="3.42"  class="p"/><circle cx="267.68" cy="211.75" r="21.7" fill="none" stroke="rgb(18,0,0)" stroke-width="6.05"  class="p"/><circle cx="267.68" cy="211.75" r="21.7" fill="none" stroke="rgb(14,0,0)" stroke-width="3.42"  class="p"/><circle cx="267.68" cy="211.75" r="28.28" fill="none" stroke="rgb(0,17,0)" stroke-width="6.05"  class="p"/><circle cx="267.68" cy="211.75" r="28.28" fill="none" stroke="rgb(0,12,0)" stroke-width="3.42"  class="p"/><circle cx="267.68" cy="211.75" r="34.86" fill="none" stroke="rgb(18,0,0)" stroke-width="6.05"  class="p"/><circle cx="267.68" cy="211.75" r="34.86" fill="none" stroke="rgb(14,0,0)" stroke-width="3.42"  class="p"/><circle cx="267.68" cy="211.75" r="41.43" fill="none" stroke="rgb(0,16,0)" stroke-width="6.05"  class="p"/><circle cx="267.68" cy="211.75" r="41.43" fill="none" stroke="rgb(0,12,0)" stroke-width="3.42"  class="p"/><circle cx="267.68" cy="211.75" r="48.01" fill="none" stroke="rgb(18,0,0)" stroke-width="6.05"  class="p"/><circle cx="267.68" cy="211.75" r="48.01" fill="none" stroke="rgb(13,0,0)" stroke-width="3.42"  class="p"/><circle cx="267.68" cy="211.75" r="54.59" fill="none" stroke="rgb(0,15,0)" stroke-width="6.05"  class="p"/><circle cx="267.68" cy="211.75" r="54.59" fill="none" stroke="rgb(0,11,0)" stroke-width="3.42"  class="p"/><circle cx="267.68" cy="211.75" r="61.16" fill="none" stroke="rgb(16,0,0)" stroke-width="6.05"  class="p"/><circle cx="267.68" cy="211.75" r="61.16" fill="none" stroke="rgb(12,0,0)" stroke-width="3.42"  class="p"/><circle cx="267.68" cy="211.75" r="67.74" fill="none" stroke="rgb(0,14,0)" stroke-width="6.05"  class="p"/><circle cx="267.68" cy="211.75" r="67.74" fill="none" stroke="rgb(0,11,0)" stroke-width="3.42"  class="p"/><circle cx="267.68" cy="211.75" r="74.32" fill="none" stroke="rgb(15,0,0)" stroke-width="6.05"  class="p"/><circle cx="267.68" cy="211.75" r="74.32" fill="none" stroke="rgb(11,0,0)" stroke-width="3.42"  class="p"/><circle cx="267.68" cy="211.75" r="80.89" fill="none" stroke="rgb(0,13,0)" stroke-width="6.05"  class="p"/><circle cx="267.68" cy="211.75" r="80.89" fill="none" stroke="rgb(0,10,0)" stroke-width="3.42"  class="p"/><circle cx="267.68" cy="211.75" r="87.47" fill="none" stroke="rgb(14,0,0)" stroke-width="6.05"  class="p"/><circle cx="267.68" cy="211.75" r="87.47" fill="none" stroke="rgb(10,0,0)" stroke-width="3.42"  class="p"/><circle cx="267.68" cy="211.75" r="94.05" fill="none" stroke="rgb(0,12,0)" stroke-width="6.05"  class="p"/><circle cx="267.68" cy="211.75" r="94.05" fill="none" stroke="rgb(0,9,0)" stroke-width="3.42"  class="p"/><circle cx="267.68" cy="211.75" r="100.62" fill="none" stroke="rgb(12,0,0)" stroke-width="6.05"  class="p"/><circle cx="267.68" cy="211.75" r="100.62" fill="none" stroke="rgb(9,0,0)" stroke-width="3.42"  class="p"/><circle cx="267.68" cy="211.75" r="107.2" fill="none" stroke="rgb(0,10,0)" stroke-width="6.05"  class="p"/><circle cx="267.68" cy="211.75" r="107.2" fill="none" stroke="rgb(0,8,0)" stroke-width="3.42"  class="p"/><circle cx="267.68" cy="211.75" r="113.78" fill="none" stroke="rgb(11,0,0)" stroke-width="6.05"  class="p"/><circle cx="267.68" cy="211.75" r="113.78" fill="none" stroke="rgb(8,0,0)" stroke-width="3.42"  class="p"/><circle cx="267.68" cy="211.75" r="120.35" fill="none" stroke="rgb(0,9,0)" stroke-width="6.05"  class="p"/><circle cx="267.68" cy="211.75" r="120.35" fill="none" stroke="rgb(0,7,0)" stroke-width="3.42"  class="p"/><circle cx="267.68" cy="211.75" r="126.93" fill="none" stroke="rgb(10,0,0)" stroke-width="6.05"  class="p"/><circle cx="267.68" cy="211.75" r="126.93" fill="none" stroke="rgb(7,0,0)" stroke-width="3.42"  class="p"/><circle cx="267.68" cy="211.75" r="133.51" fill="none" stroke="rgb(0,8,0)" stroke-width="6.05"  class="p"/><circle cx="267.68" cy="211.75" r="133.51" fill="none" stroke="rgb(0,6,0)" stroke-width="3.42"  class="p"/><circle cx="267.68" cy="211.75" r="140.08" fill="none" stroke="rgb(9,0,0)" stroke-width="6.05"  class="p"/><circle cx="267.68" cy="211.75" r="140.08" fill="none" stroke="rgb(7,0,0)" stroke-width="3.42"  class="p"/><circle cx="267.68" cy="211.75" r="146.66" fill="none" stroke="rgb(0,7,0)" stroke-width="6.05"  class="p"/><circle cx="267.68" cy="211.75" r="146.66" fill="none" stroke="rgb(0,6,0)" stroke-width="3.42"  class="p"/><circle cx="267.68" cy="211.75" r="153.24" fill="none" stroke="rgb(8,0,0)" stroke-width="6.05"  class="p"/><circle cx="267.68" cy="211.75" r="153.24" fill="none" stroke="rgb(6,0,0)" stroke-width="3.42"  class="p"/><circle cx="267.68" cy="211.75" r="159.81" fill="none" stroke="rgb(0,6,0)" stroke-width="6.05"  class="p"/><circle cx="267.68" cy="211.75" r="159.81" fill="none" stroke="rgb(0,5,0)" stroke-width="3.42"  class="p"/><circle cx="267.68" cy="211.75" r="166.39" fill="none" stroke="rgb(7,0,0)" stroke-width="6.05"  class="p"/><circle cx="267.68" cy="211.75" r="166.39" fill="none" stroke="rgb(5,0,0)" stroke-width="3.42"  class="p"/><circle cx="267.68" cy="211.75" r="172.97" fill="none" stroke="rgb(0,6,0)" stroke-width="6.05"  class="p"/><circle cx="267.68" cy="211.75" r="172.97" fill="none" stroke="rgb(0,4,0)" stroke-width="3.42"  class="p"/><circle cx="267.68" cy="211.75" r="179.54" fill="none" stroke="rgb(6,0,0)" stroke-width="6.05"  class="p"/><circle cx="267.68" cy="211.75" r="179.54" fill="none" stroke="rgb(4,0,0)" stroke-width="3.42"  class="p"/><circle cx="267.68" cy="211.75" r="186.12" fill="none" stroke="rgb(0,5,0)" stroke-width="6.05"  class="p"/><circle cx="267.68" cy="211.75" r="186.12" fill="none" stroke="rgb(0,4,0)" stroke-width="3.42"  class="p"/><circle cx="267.68" cy="211.75" r="192.7" fill="none" stroke="rgb(5,0,0)" stroke-width="6.05"  class="p"/><circle cx="267.68" cy="211.75" r="192.7" fill="none" stroke="rgb(4,0,0)" stroke-width="3.42"  class="p"/><circle cx="267.68" cy="211.75" r="199.27" fill="none" stroke="rgb(0,4,0)" stroke-width="6.05"  class="p"/><circle cx="267.68" cy="211.75" r="199.27" fill="none" stroke="rgb(0,3,0)" stroke-width="3.42"  class="p"/></g></g>
<rect x="84.85" y="31.02" width="6.58" height="361.46" fill="url(#lp)" opacity="0.02" mask="url(#envg)" class="p"/>
<rect x="98" y="31.02" width="6.58" height="361.46" fill="url(#lp)" opacity="0.06" mask="url(#envg)" class="p"/>
<rect x="111.15" y="31.02" width="6.58" height="361.46" fill="url(#lp)" opacity="0.07" mask="url(#envg)" class="p"/>
<rect x="124.31" y="31.02" width="6.58" height="361.46" fill="url(#lp)" opacity="0.1" mask="url(#envg)" class="p"/>
<rect x="137.46" y="31.02" width="6.58" height="361.46" fill="url(#lp)" opacity="0.14" mask="url(#envg)" class="p"/>
<rect x="150.61" y="31.02" width="6.58" height="361.46" fill="url(#lp)" opacity="0.17" mask="url(#envg)" class="p"/>
<rect x="163.77" y="31.02" width="6.58" height="361.46" fill="url(#lp)" opacity="0.21" mask="url(#envg)" class="p"/>
<rect x="176.92" y="31.02" width="6.58" height="361.46" fill="url(#lp)" opacity="0.23" mask="url(#envg)" class="p"/>
<rect x="190.07" y="31.02" width="6.58" height="361.46" fill="url(#lp)" opacity="0.29" mask="url(#envg)" class="p"/>
<rect x="203.23" y="31.02" width="6.58" height="361.46" fill="url(#lp)" opacity="0.33" mask="url(#envg)" class="p"/>
<rect x="216.38" y="31.02" width="6.58" height="361.46" fill="url(#lp)" opacity="0.41" mask="url(#envg)" class="p"/>
<rect x="229.53" y="31.02" width="6.58" height="361.46" fill="url(#lp)" opacity="0.5" mask="url(#envg)" class="p"/>
<rect x="242.69" y="31.02" width="6.58" height="361.46" fill="url(#lp)" opacity="0.64" mask="url(#envg)" class="p"/>
<rect x="255.84" y="31.02" width="6.58" height="361.46" fill="url(#lp)" opacity="0.8" mask="url(#envg)" class="p"/>
<rect x="78.27" y="31.02" width="6.58" height="361.46" fill="url(#ln)" opacity="0.02" mask="url(#envg)" class="p"/>
<rect x="91.42" y="31.02" width="6.58" height="361.46" fill="url(#ln)" opacity="0.06" mask="url(#envg)" class="p"/>
<rect x="104.58" y="31.02" width="6.58" height="361.46" fill="url(#ln)" opacity="0.1" mask="url(#envg)" class="p"/>
<rect x="117.73" y="31.02" width="6.58" height="361.46" fill="url(#ln)" opacity="0.13" mask="url(#envg)" class="p"/>
<rect x="130.88" y="31.02" width="6.58" height="361.46" fill="url(#ln)" opacity="0.17" mask="url(#envg)" class="p"/>
<rect x="144.04" y="31.02" width="6.58" height="361.46" fill="url(#ln)" opacity="0.21" mask="url(#envg)" class="p"/>
<rect x="157.19" y="31.02" width="6.58" height="361.46" fill="url(#ln)" opacity="0.24" mask="url(#envg)" class="p"/>
<rect x="170.34" y="31.02" width="6.58" height="361.46" fill="url(#ln)" opacity="0.27" mask="url(#envg)" class="p"/>
<rect x="183.5" y="31.02" width="6.58" height="361.46" fill="url(#ln)" opacity="0.3" mask="url(#envg)" class="p"/>
<rect x="196.65" y="31.02" width="6.58" height="361.46" fill="url(#ln)" opacity="0.34" mask="url(#envg)" class="p"/>
<rect x="209.8" y="31.02" width="6.58" height="361.46" fill="url(#ln)" opacity="0.4" mask="url(#envg)" class="p"/>
<rect x="222.96" y="31.02" width="6.58" height="361.46" fill="url(#ln)" opacity="0.46" mask="url(#envg)" class="p"/>
<rect x="236.11" y="31.02" width="6.58" height="361.46" fill="url(#ln)" opacity="0.54" mask="url(#envg)" class="p"/>
<rect x="249.26" y="31.02" width="6.58" height="361.46" fill="url(#ln)" opacity="0.67" mask="url(#envg)" class="p"/>
<polygon points="261.1,13.93 274.25,20.55 261.1,27.18" fill="rgb(0,6,0)" class="p"/><polygon points="261.1,27.18 274.25,33.8 261.1,40.43" fill="rgb(0,6,0)" class="p"/><polygon points="261.1,40.43 274.25,47.05 261.1,53.68" fill="rgb(0,6,0)" class="p"/><polygon points="261.1,53.68 274.25,60.3 261.1,66.93" fill="rgb(0,7,0)" class="p"/><polygon points="261.1,66.93 274.25,73.55 261.1,80.18" fill="rgb(0,8,0)" class="p"/><polygon points="261.1,80.18 274.25,86.8 261.1,93.43" fill="rgb(0,11,0)" class="p"/><polygon points="261.1,93.43 274.25,100.05 261.1,106.68" fill="rgb(0,16,0)" class="p"/><polygon points="261.1,106.68 274.25,113.3 261.1,119.93" fill="rgb(0,25,0)" class="p"/><polygon points="261.1,119.93 274.25,126.55 261.1,133.18" fill="rgb(0,39,0)" class="p"/><polygon points="261.1,133.18 274.25,139.8 261.1,146.43" fill="rgb(0,59,0)" class="p"/><polygon points="261.1,146.43 274.25,153.05 261.1,159.68" fill="rgb(0,85,0)" class="p"/><polygon points="261.1,159.68 274.25,166.3 261.1,172.93" fill="rgb(0,114,0)" class="p"/><polygon points="261.1,172.93 274.25,179.55 261.1,186.18" fill="rgb(0,143,0)" class="p"/><polygon points="261.1,186.18 274.25,192.8 261.1,199.43" fill="rgb(0,166,0)" class="p"/><polygon points="261.1,199.43 274.25,206.05 261.1,212.68" fill="rgb(0,178,0)" class="p"/><polygon points="261.1,212.68 274.25,219.3 261.1,225.93" fill="rgb(0,177,0)" class="p"/><polygon points="261.1,225.93 274.25,232.55 261.1,239.18" fill="rgb(0,163,0)" class="p"/><polygon points="261.1,239.18 274.25,245.8 261.1,252.43" fill="rgb(0,139,0)" class="p"/><polygon points="261.1,252.43 274.25,259.05 261.1,265.68" fill="rgb(0,110,0)" class="p"/><polygon points="261.1,265.68 274.25,272.3 261.1,278.93" fill="rgb(0,81,0)" class="p"/><polygon points="261.1,278.93 274.25,285.55 261.1,292.18" fill="rgb(0,56,0)" class="p"/><polygon points="261.1,292.18 274.25,298.8 261.1,305.43" fill="rgb(0,37,0)" class="p"/><polygon points="261.1,305.43 274.25,312.05 261.1,318.68" fill="rgb(0,24,0)" class="p"/><polygon points="261.1,318.68 274.25,325.3 261.1,331.93" fill="rgb(0,15,0)" class="p"/><polygon points="261.1,331.93 274.25,338.55 261.1,345.18" fill="rgb(0,11,0)" class="p"/><polygon points="261.1,345.18 274.25,351.8 261.1,358.43" fill="rgb(0,8,0)" class="p"/><polygon points="261.1,358.43 274.25,365.05 261.1,371.68" fill="rgb(0,7,0)" class="p"/><polygon points="261.1,371.68 274.25,378.3 261.1,384.93" fill="rgb(0,6,0)" class="p"/><polygon points="261.1,384.93 274.25,391.55 261.1,398.18" fill="rgb(0,6,0)" class="p"/><polygon points="261.1,398.18 274.25,404.8 261.1,411.43" fill="rgb(0,6,0)" class="p"/><polygon points="261.1,411.43 274.25,418.05 261.1,424.68" fill="rgb(0,6,0)" class="p"/>
<g clip-path="url(#aright)"><g mask="url(#amask)" class="p"><circle cx="195.33" cy="211.75" r="94.05" fill="none" stroke="rgb(11,0,0)" stroke-width="4.47"  class="p"/><circle cx="195.33" cy="211.75" r="100.62" fill="none" stroke="rgb(0,13,0)" stroke-width="4.47"  class="p"/><circle cx="195.33" cy="211.75" r="107.2" fill="none" stroke="rgb(14,0,0)" stroke-width="4.47"  class="p"/><circle cx="195.33" cy="211.75" r="113.78" fill="none" stroke="rgb(0,16,0)" stroke-width="4.47"  class="p"/><circle cx="195.33" cy="211.75" r="120.35" fill="none" stroke="rgb(17,0,0)" stroke-width="4.47"  class="p"/><circle cx="195.33" cy="211.75" r="126.93" fill="none" stroke="rgb(0,17,0)" stroke-width="4.47"  class="p"/><circle cx="195.33" cy="211.75" r="133.51" fill="none" stroke="rgb(17,0,0)" stroke-width="4.47"  class="p"/><circle cx="195.33" cy="211.75" r="140.08" fill="none" stroke="rgb(0,17,0)" stroke-width="4.47"  class="p"/><circle cx="195.33" cy="211.75" r="146.66" fill="none" stroke="rgb(17,0,0)" stroke-width="4.47"  class="p"/><circle cx="195.33" cy="211.75" r="153.24" fill="none" stroke="rgb(0,17,0)" stroke-width="4.47"  class="p"/><circle cx="195.33" cy="211.75" r="159.81" fill="none" stroke="rgb(17,0,0)" stroke-width="4.47"  class="p"/><circle cx="195.33" cy="211.75" r="166.39" fill="none" stroke="rgb(0,16,0)" stroke-width="4.47"  class="p"/><circle cx="195.33" cy="211.75" r="172.97" fill="none" stroke="rgb(16,0,0)" stroke-width="4.47"  class="p"/><circle cx="195.33" cy="211.75" r="179.54" fill="none" stroke="rgb(0,15,0)" stroke-width="4.47"  class="p"/><circle cx="195.33" cy="211.75" r="186.12" fill="none" stroke="rgb(14,0,0)" stroke-width="4.47"  class="p"/><circle cx="195.33" cy="211.75" r="192.7" fill="none" stroke="rgb(0,14,0)" stroke-width="4.47"  class="p"/><circle cx="195.33" cy="211.75" r="199.27" fill="none" stroke="rgb(13,0,0)" stroke-width="4.47"  class="p"/><circle cx="195.33" cy="211.75" r="205.85" fill="none" stroke="rgb(0,12,0)" stroke-width="4.47"  class="p"/><circle cx="195.33" cy="211.75" r="212.43" fill="none" stroke="rgb(11,0,0)" stroke-width="4.47"  class="p"/><circle cx="195.33" cy="211.75" r="219" fill="none" stroke="rgb(0,10,0)" stroke-width="4.47"  class="p"/><circle cx="195.33" cy="211.75" r="225.58" fill="none" stroke="rgb(10,0,0)" stroke-width="4.47"  class="p"/><circle cx="195.33" cy="211.75" r="232.16" fill="none" stroke="rgb(0,9,0)" stroke-width="4.47"  class="p"/><circle cx="195.33" cy="211.75" r="238.73" fill="none" stroke="rgb(8,0,0)" stroke-width="4.47"  class="p"/></g></g>
<g clip-path="url(#aright)"><circle cx="88.13" cy="211.75" r="349.88" fill="none" stroke="rgb(3,0,0)" stroke-width="14.47"  class="p"/><circle cx="88.13" cy="211.75" r="328.83" fill="none" stroke="rgb(2,0,0)" stroke-width="15.78"  class="p"/></g>
<ellipse cx="366.33" cy="417.12" rx="85.5" ry="99.38" fill="rgb(3,0,0)" class="p"/>
<rect x="278.03" y="72.74" width="1.6" height="1.6" fill="rgb(0,15,0)" class="p"/><rect x="275.1" y="225.21" width="1.6" height="1.6" fill="rgb(34,0,0)" class="p"/><rect x="274.93" y="213.94" width="1.6" height="1.6" fill="rgb(35,0,0)" class="p"/><rect x="279.31" y="40.66" width="1.6" height="1.6" fill="rgb(12,0,0)" class="p"/><rect x="279.2" y="340.43" width="1.6" height="1.6" fill="rgb(16,0,0)" class="p"/><rect x="276.85" y="261.46" width="1.6" height="1.6" fill="rgb(0,30,0)" class="p"/><rect x="280.98" y="170.09" width="1.6" height="1.6" fill="rgb(0,31,0)" class="p"/><rect x="274.8" y="352.95" width="1.6" height="1.6" fill="rgb(14,0,0)" class="p"/><rect x="275.93" y="59.65" width="1.6" height="1.6" fill="rgb(13,0,0)" class="p"/><rect x="283.76" y="84.57" width="1.6" height="1.6" fill="rgb(0,16,0)" class="p"/><rect x="281.7" y="160.47" width="1.6" height="1.6" fill="rgb(0,30,0)" class="p"/><rect x="274.99" y="36.6" width="1.6" height="1.6" fill="rgb(12,0,0)" class="p"/><rect x="282.18" y="182.33" width="1.6" height="1.6" fill="rgb(33,0,0)" class="p"/><rect x="281.08" y="192.46" width="1.6" height="1.6" fill="rgb(34,0,0)" class="p"/><rect x="283.51" y="289.8" width="1.6" height="1.6" fill="rgb(24,0,0)" class="p"/><rect x="280.95" y="220.98" width="1.6" height="1.6" fill="rgb(0,34,0)" class="p"/><rect x="282.75" y="127.02" width="1.6" height="1.6" fill="rgb(0,23,0)" class="p"/><rect x="275.63" y="178.58" width="1.6" height="1.6" fill="rgb(0,32,0)" class="p"/><rect x="276.02" y="206.63" width="1.6" height="1.6" fill="rgb(35,0,0)" class="p"/><rect x="282.04" y="315.77" width="1.6" height="1.6" fill="rgb(0,20,0)" class="p"/><rect x="284.46" y="137.24" width="1.6" height="1.6" fill="rgb(0,25,0)" class="p"/><rect x="281.18" y="242.64" width="1.6" height="1.6" fill="rgb(33,0,0)" class="p"/><rect x="284.04" y="387.09" width="1.6" height="1.6" fill="rgb(12,0,0)" class="p"/><rect x="281.99" y="37.03" width="1.6" height="1.6" fill="rgb(0,12,0)" class="p"/><rect x="281.79" y="406.27" width="1.6" height="1.6" fill="rgb(0,11,0)" class="p"/><rect x="277.57" y="165.77" width="1.6" height="1.6" fill="rgb(0,30,0)" class="p"/><rect x="274.52" y="195.83" width="1.6" height="1.6" fill="rgb(34,0,0)" class="p"/><rect x="275.62" y="36.35" width="1.6" height="1.6" fill="rgb(0,12,0)" class="p"/><rect x="275.76" y="111.06" width="1.6" height="1.6" fill="rgb(20,0,0)" class="p"/><rect x="284.41" y="44.91" width="1.6" height="1.6" fill="rgb(12,0,0)" class="p"/><rect x="280.66" y="362.82" width="1.6" height="1.6" fill="rgb(0,13,0)" class="p"/><rect x="284.32" y="123.25" width="1.6" height="1.6" fill="rgb(22,0,0)" class="p"/><rect x="278.43" y="363.14" width="1.6" height="1.6" fill="rgb(0,13,0)" class="p"/><rect x="276.01" y="82.78" width="1.6" height="1.6" fill="rgb(16,0,0)" class="p"/><rect x="276.97" y="205.05" width="1.6" height="1.6" fill="rgb(0,35,0)" class="p"/><rect x="277.32" y="14.62" width="1.6" height="1.6" fill="rgb(11,0,0)" class="p"/><rect x="278.56" y="237.27" width="1.6" height="1.6" fill="rgb(0,33,0)" class="p"/><rect x="282.3" y="217.13" width="1.6" height="1.6" fill="rgb(0,35,0)" class="p"/><rect x="282.13" y="34.38" width="1.6" height="1.6" fill="rgb(0,12,0)" class="p"/><rect x="283.34" y="359.31" width="1.6" height="1.6" fill="rgb(0,14,0)" class="p"/><rect x="278.83" y="171" width="1.6" height="1.6" fill="rgb(31,0,0)" class="p"/><rect x="281.64" y="37.65" width="1.6" height="1.6" fill="rgb(12,0,0)" class="p"/><rect x="276.69" y="77.27" width="1.6" height="1.6" fill="rgb(15,0,0)" class="p"/><rect x="274.87" y="13.09" width="1.6" height="1.6" fill="rgb(11,0,0)" class="p"/><rect x="275.44" y="156.99" width="1.6" height="1.6" fill="rgb(29,0,0)" class="p"/><rect x="284.44" y="256.17" width="1.6" height="1.6" fill="rgb(31,0,0)" class="p"/><rect x="277.19" y="150.57" width="1.6" height="1.6" fill="rgb(28,0,0)" class="p"/><rect x="275.68" y="349.18" width="1.6" height="1.6" fill="rgb(0,15,0)" class="p"/><rect x="279.68" y="204.6" width="1.6" height="1.6" fill="rgb(35,0,0)" class="p"/><rect x="275.44" y="148.68" width="1.6" height="1.6" fill="rgb(27,0,0)" class="p"/><rect x="283.91" y="76.93" width="1.6" height="1.6" fill="rgb(15,0,0)" class="p"/><rect x="285.34" y="222.19" width="1.6" height="1.6" fill="rgb(34,0,0)" class="p"/><rect x="280.58" y="23.71" width="1.6" height="1.6" fill="rgb(0,11,0)" class="p"/><rect x="285.66" y="354.88" width="1.6" height="1.6" fill="rgb(0,14,0)" class="p"/><rect x="277.3" y="158.21" width="1.6" height="1.6" fill="rgb(29,0,0)" class="p"/><rect x="283.25" y="223.91" width="1.6" height="1.6" fill="rgb(0,34,0)" class="p"/><rect x="278.1" y="101.32" width="1.6" height="1.6" fill="rgb(0,18,0)" class="p"/><rect x="285.73" y="350.64" width="1.6" height="1.6" fill="rgb(0,15,0)" class="p"/><rect x="283.79" y="305.99" width="1.6" height="1.6" fill="rgb(21,0,0)" class="p"/><rect x="280.29" y="153.8" width="1.6" height="1.6" fill="rgb(28,0,0)" class="p"/><rect x="274.58" y="123.65" width="1.6" height="1.6" fill="rgb(22,0,0)" class="p"/><rect x="282.32" y="391.78" width="1.6" height="1.6" fill="rgb(12,0,0)" class="p"/><rect x="285.17" y="404.26" width="1.6" height="1.6" fill="rgb(0,11,0)" class="p"/><rect x="278.5" y="100.3" width="1.6" height="1.6" fill="rgb(18,0,0)" class="p"/><rect x="276.55" y="93.93" width="1.6" height="1.6" fill="rgb(0,17,0)" class="p"/><rect x="284.74" y="345.81" width="1.6" height="1.6" fill="rgb(15,0,0)" class="p"/><rect x="281.86" y="329.66" width="1.6" height="1.6" fill="rgb(17,0,0)" class="p"/><rect x="281.95" y="373.27" width="1.6" height="1.6" fill="rgb(0,13,0)" class="p"/><rect x="282.99" y="202.3" width="1.6" height="1.6" fill="rgb(34,0,0)" class="p"/><rect x="283.45" y="144.68" width="1.6" height="1.6" fill="rgb(0,27,0)" class="p"/><rect x="285.58" y="169.75" width="1.6" height="1.6" fill="rgb(31,0,0)" class="p"/><rect x="285.29" y="300.02" width="1.6" height="1.6" fill="rgb(22,0,0)" class="p"/><rect x="275.73" y="72.86" width="1.6" height="1.6" fill="rgb(0,15,0)" class="p"/><rect x="283.65" y="70.89" width="1.6" height="1.6" fill="rgb(0,14,0)" class="p"/><rect x="285.68" y="273.28" width="1.6" height="1.6" fill="rgb(28,0,0)" class="p"/><rect x="280.65" y="64.87" width="1.6" height="1.6" fill="rgb(14,0,0)" class="p"/><rect x="285.57" y="270.27" width="1.6" height="1.6" fill="rgb(0,28,0)" class="p"/><rect x="285.13" y="184.79" width="1.6" height="1.6" fill="rgb(0,33,0)" class="p"/><rect x="283.88" y="96.57" width="1.6" height="1.6" fill="rgb(18,0,0)" class="p"/><rect x="277.67" y="108.25" width="1.6" height="1.6" fill="rgb(0,20,0)" class="p"/><rect x="277.28" y="178.93" width="1.6" height="1.6" fill="rgb(32,0,0)" class="p"/><rect x="284.86" y="153.1" width="1.6" height="1.6" fill="rgb(28,0,0)" class="p"/><rect x="281.05" y="371.1" width="1.6" height="1.6" fill="rgb(13,0,0)" class="p"/><rect x="284.95" y="211.65" width="1.6" height="1.6" fill="rgb(0,35,0)" class="p"/><rect x="280.35" y="20.41" width="1.6" height="1.6" fill="rgb(11,0,0)" class="p"/><rect x="276.39" y="14.56" width="1.6" height="1.6" fill="rgb(0,11,0)" class="p"/><rect x="276.26" y="200.5" width="1.6" height="1.6" fill="rgb(0,34,0)" class="p"/><rect x="280.74" y="142.09" width="1.6" height="1.6" fill="rgb(0,26,0)" class="p"/><rect x="280.73" y="323.57" width="1.6" height="1.6" fill="rgb(18,0,0)" class="p"/><rect x="280.78" y="111.4" width="1.6" height="1.6" fill="rgb(20,0,0)" class="p"/><rect x="283.25" y="214.05" width="1.6" height="1.6" fill="rgb(0,35,0)" class="p"/><rect x="283.11" y="374.35" width="1.6" height="1.6" fill="rgb(13,0,0)" class="p"/><rect x="281.39" y="213.2" width="1.6" height="1.6" fill="rgb(0,35,0)" class="p"/><rect x="282.33" y="192.13" width="1.6" height="1.6" fill="rgb(0,34,0)" class="p"/><rect x="279.82" y="385.83" width="1.6" height="1.6" fill="rgb(0,12,0)" class="p"/><rect x="284.47" y="386.1" width="1.6" height="1.6" fill="rgb(12,0,0)" class="p"/><rect x="280.77" y="386.53" width="1.6" height="1.6" fill="rgb(0,12,0)" class="p"/><rect x="275.85" y="61.16" width="1.6" height="1.6" fill="rgb(13,0,0)" class="p"/><rect x="275.1" y="108.29" width="1.6" height="1.6" fill="rgb(20,0,0)" class="p"/><rect x="282.05" y="323.44" width="1.6" height="1.6" fill="rgb(0,18,0)" class="p"/><rect x="276.05" y="296.58" width="1.6" height="1.6" fill="rgb(0,23,0)" class="p"/><rect x="275.92" y="362.6" width="1.6" height="1.6" fill="rgb(0,13,0)" class="p"/><rect x="276.81" y="390.19" width="1.6" height="1.6" fill="rgb(12,0,0)" class="p"/><rect x="279.93" y="404.99" width="1.6" height="1.6" fill="rgb(0,11,0)" class="p"/><rect x="276.13" y="183.88" width="1.6" height="1.6" fill="rgb(0,33,0)" class="p"/><rect x="278.21" y="90.51" width="1.6" height="1.6" fill="rgb(17,0,0)" class="p"/><rect x="282.67" y="20.72" width="1.6" height="1.6" fill="rgb(0,11,0)" class="p"/><rect x="279.39" y="20.16" width="1.6" height="1.6" fill="rgb(11,0,0)" class="p"/><rect x="281.52" y="215.86" width="1.6" height="1.6" fill="rgb(35,0,0)" class="p"/><rect x="285.73" y="325.19" width="1.6" height="1.6" fill="rgb(0,18,0)" class="p"/><rect x="275.47" y="118.16" width="1.6" height="1.6" fill="rgb(21,0,0)" class="p"/><rect x="283.33" y="120.1" width="1.6" height="1.6" fill="rgb(22,0,0)" class="p"/><rect x="279.17" y="373.92" width="1.6" height="1.6" fill="rgb(0,13,0)" class="p"/><rect x="277.27" y="72.15" width="1.6" height="1.6" fill="rgb(0,15,0)" class="p"/><rect x="280.9" y="290.37" width="1.6" height="1.6" fill="rgb(24,0,0)" class="p"/><rect x="274.92" y="285.53" width="1.6" height="1.6" fill="rgb(25,0,0)" class="p"/><rect x="275.1" y="384.59" width="1.6" height="1.6" fill="rgb(0,12,0)" class="p"/><rect x="283.59" y="46.16" width="1.6" height="1.6" fill="rgb(0,12,0)" class="p"/><rect x="275.03" y="354.66" width="1.6" height="1.6" fill="rgb(14,0,0)" class="p"/><rect x="278.21" y="232.01" width="1.6" height="1.6" fill="rgb(0,34,0)" class="p"/><rect x="277.37" y="64.17" width="1.6" height="1.6" fill="rgb(0,14,0)" class="p"/><rect x="277.03" y="56.34" width="1.6" height="1.6" fill="rgb(13,0,0)" class="p"/><rect x="274.84" y="92.9" width="1.6" height="1.6" fill="rgb(17,0,0)" class="p"/><rect x="277.81" y="313.76" width="1.6" height="1.6" fill="rgb(20,0,0)" class="p"/><rect x="280.08" y="83.45" width="1.6" height="1.6" fill="rgb(16,0,0)" class="p"/><rect x="274.46" y="112.18" width="1.6" height="1.6" fill="rgb(20,0,0)" class="p"/><rect x="282.8" y="231.22" width="1.6" height="1.6" fill="rgb(34,0,0)" class="p"/><rect x="279.79" y="383.12" width="1.6" height="1.6" fill="rgb(12,0,0)" class="p"/><rect x="283.8" y="184.14" width="1.6" height="1.6" fill="rgb(33,0,0)" class="p"/><rect x="283.98" y="168.66" width="1.6" height="1.6" fill="rgb(0,31,0)" class="p"/><rect x="282.27" y="402.05" width="1.6" height="1.6" fill="rgb(11,0,0)" class="p"/><rect x="283.95" y="292.86" width="1.6" height="1.6" fill="rgb(0,24,0)" class="p"/><rect x="278.97" y="150.63" width="1.6" height="1.6" fill="rgb(28,0,0)" class="p"/><rect x="275.77" y="41.01" width="1.6" height="1.6" fill="rgb(0,12,0)" class="p"/><rect x="277.23" y="77.65" width="1.6" height="1.6" fill="rgb(15,0,0)" class="p"/><rect x="284.06" y="357.73" width="1.6" height="1.6" fill="rgb(0,14,0)" class="p"/><rect x="277.54" y="108.92" width="1.6" height="1.6" fill="rgb(20,0,0)" class="p"/><rect x="279.61" y="75.38" width="1.6" height="1.6" fill="rgb(15,0,0)" class="p"/><rect x="277.32" y="393.87" width="1.6" height="1.6" fill="rgb(0,11,0)" class="p"/><rect x="280.63" y="109.8" width="1.6" height="1.6" fill="rgb(0,20,0)" class="p"/><rect x="277.86" y="154.21" width="1.6" height="1.6" fill="rgb(28,0,0)" class="p"/><rect x="278.7" y="200.96" width="1.6" height="1.6" fill="rgb(0,34,0)" class="p"/><rect x="276.6" y="212.88" width="1.6" height="1.6" fill="rgb(35,0,0)" class="p"/><rect x="277.33" y="48.54" width="1.6" height="1.6" fill="rgb(12,0,0)" class="p"/><rect x="274.74" y="21.91" width="1.6" height="1.6" fill="rgb(11,0,0)" class="p"/><rect x="276.97" y="244.89" width="1.6" height="1.6" fill="rgb(0,32,0)" class="p"/><rect x="283" y="273.39" width="1.6" height="1.6" fill="rgb(0,28,0)" class="p"/><rect x="284.5" y="167.25" width="1.6" height="1.6" fill="rgb(31,0,0)" class="p"/><rect x="285.73" y="72.19" width="1.6" height="1.6" fill="rgb(0,15,0)" class="p"/><rect x="281.75" y="30.34" width="1.6" height="1.6" fill="rgb(0,12,0)" class="p"/><rect x="284.65" y="261.42" width="1.6" height="1.6" fill="rgb(0,30,0)" class="p"/><rect x="283.72" y="68.17" width="1.6" height="1.6" fill="rgb(0,14,0)" class="p"/><rect x="280.13" y="343.64" width="1.6" height="1.6" fill="rgb(0,15,0)" class="p"/><rect x="283.88" y="244.29" width="1.6" height="1.6" fill="rgb(0,32,0)" class="p"/><rect x="282.21" y="287.56" width="1.6" height="1.6" fill="rgb(25,0,0)" class="p"/><rect x="274.62" y="65.7" width="1.6" height="1.6" fill="rgb(14,0,0)" class="p"/><rect x="275.48" y="343.99" width="1.6" height="1.6" fill="rgb(0,15,0)" class="p"/><rect x="281.57" y="260.99" width="1.6" height="1.6" fill="rgb(0,30,0)" class="p"/><rect x="279.96" y="14.31" width="1.6" height="1.6" fill="rgb(0,11,0)" class="p"/><rect x="282.97" y="212.18" width="1.6" height="1.6" fill="rgb(0,35,0)" class="p"/><rect x="281.94" y="39.16" width="1.6" height="1.6" fill="rgb(0,12,0)" class="p"/><rect x="277.19" y="42.48" width="1.6" height="1.6" fill="rgb(12,0,0)" class="p"/><rect x="282.75" y="94.27" width="1.6" height="1.6" fill="rgb(0,17,0)" class="p"/><rect x="285.62" y="208.6" width="1.6" height="1.6" fill="rgb(35,0,0)" class="p"/><rect x="279.84" y="283.74" width="1.6" height="1.6" fill="rgb(0,26,0)" class="p"/><rect x="281.44" y="267.53" width="1.6" height="1.6" fill="rgb(29,0,0)" class="p"/><rect x="275.97" y="113.56" width="1.6" height="1.6" fill="rgb(0,21,0)" class="p"/><rect x="277.8" y="237.83" width="1.6" height="1.6" fill="rgb(33,0,0)" class="p"/><rect x="274.96" y="119.43" width="1.6" height="1.6" fill="rgb(0,22,0)" class="p"/><rect x="282.32" y="280.58" width="1.6" height="1.6" fill="rgb(26,0,0)" class="p"/><rect x="280.27" y="197.01" width="1.6" height="1.6" fill="rgb(34,0,0)" class="p"/><rect x="275.63" y="366.89" width="1.6" height="1.6" fill="rgb(13,0,0)" class="p"/><rect x="285.65" y="383.76" width="1.6" height="1.6" fill="rgb(12,0,0)" class="p"/><rect x="279.6" y="337.68" width="1.6" height="1.6" fill="rgb(0,16,0)" class="p"/><rect x="279.49" y="119.39" width="1.6" height="1.6" fill="rgb(22,0,0)" class="p"/><rect x="285.27" y="96.44" width="1.6" height="1.6" fill="rgb(0,18,0)" class="p"/><rect x="275.91" y="220.53" width="1.6" height="1.6" fill="rgb(0,35,0)" class="p"/><rect x="275.8" y="337.81" width="1.6" height="1.6" fill="rgb(0,16,0)" class="p"/><rect x="284.59" y="291.52" width="1.6" height="1.6" fill="rgb(24,0,0)" class="p"/><rect x="284.71" y="205.51" width="1.6" height="1.6" fill="rgb(35,0,0)" class="p"/><rect x="274.3" y="207.71" width="1.6" height="1.6" fill="rgb(35,0,0)" class="p"/><rect x="277.77" y="68.72" width="1.6" height="1.6" fill="rgb(14,0,0)" class="p"/><rect x="277.94" y="345.73" width="1.6" height="1.6" fill="rgb(15,0,0)" class="p"/><rect x="283" y="345.29" width="1.6" height="1.6" fill="rgb(15,0,0)" class="p"/><rect x="285.05" y="295.36" width="1.6" height="1.6" fill="rgb(0,23,0)" class="p"/><rect x="277.63" y="160.4" width="1.6" height="1.6" fill="rgb(30,0,0)" class="p"/><rect x="285.89" y="246.31" width="1.6" height="1.6" fill="rgb(32,0,0)" class="p"/><rect x="279.24" y="121.96" width="1.6" height="1.6" fill="rgb(22,0,0)" class="p"/><rect x="275.44" y="343.53" width="1.6" height="1.6" fill="rgb(15,0,0)" class="p"/><rect x="285.16" y="111.73" width="1.6" height="1.6" fill="rgb(20,0,0)" class="p"/><rect x="280.21" y="88.18" width="1.6" height="1.6" fill="rgb(16,0,0)" class="p"/><rect x="285.4" y="363.17" width="1.6" height="1.6" fill="rgb(0,13,0)" class="p"/><rect x="281.61" y="374.72" width="1.6" height="1.6" fill="rgb(0,13,0)" class="p"/><rect x="280.65" y="297.95" width="1.6" height="1.6" fill="rgb(23,0,0)" class="p"/><rect x="282.79" y="191.54" width="1.6" height="1.6" fill="rgb(0,34,0)" class="p"/><rect x="281.76" y="126.34" width="1.6" height="1.6" fill="rgb(23,0,0)" class="p"/><rect x="285.05" y="63.42" width="1.6" height="1.6" fill="rgb(14,0,0)" class="p"/><rect x="278.26" y="130.92" width="1.6" height="1.6" fill="rgb(0,24,0)" class="p"/><rect x="285.63" y="116.03" width="1.6" height="1.6" fill="rgb(0,21,0)" class="p"/><rect x="277.76" y="233.7" width="1.6" height="1.6" fill="rgb(34,0,0)" class="p"/><rect x="276.2" y="77.02" width="1.6" height="1.6" fill="rgb(15,0,0)" class="p"/><rect x="284.81" y="209.84" width="1.6" height="1.6" fill="rgb(35,0,0)" class="p"/><rect x="284.81" y="407.6" width="1.6" height="1.6" fill="rgb(11,0,0)" class="p"/><rect x="275.88" y="89.19" width="1.6" height="1.6" fill="rgb(17,0,0)" class="p"/><rect x="278.24" y="49.07" width="1.6" height="1.6" fill="rgb(13,0,0)" class="p"/><rect x="277.26" y="238.57" width="1.6" height="1.6" fill="rgb(0,33,0)" class="p"/><rect x="282.99" y="176.46" width="1.6" height="1.6" fill="rgb(32,0,0)" class="p"/><rect x="280.36" y="162.24" width="1.6" height="1.6" fill="rgb(30,0,0)" class="p"/><rect x="274.98" y="122.9" width="1.6" height="1.6" fill="rgb(0,22,0)" class="p"/><rect x="275.72" y="212.34" width="1.6" height="1.6" fill="rgb(0,35,0)" class="p"/><rect x="284.31" y="98.52" width="1.6" height="1.6" fill="rgb(18,0,0)" class="p"/><rect x="277.15" y="171.3" width="1.6" height="1.6" fill="rgb(31,0,0)" class="p"/><rect x="285.37" y="349.08" width="1.6" height="1.6" fill="rgb(0,15,0)" class="p"/><rect x="274.51" y="25.77" width="1.6" height="1.6" fill="rgb(0,11,0)" class="p"/><rect x="284.69" y="200.41" width="1.6" height="1.6" fill="rgb(0,34,0)" class="p"/><rect x="274.26" y="168.04" width="1.6" height="1.6" fill="rgb(0,31,0)" class="p"/><rect x="283.87" y="351.76" width="1.6" height="1.6" fill="rgb(0,14,0)" class="p"/><rect x="277.15" y="56.18" width="1.6" height="1.6" fill="rgb(13,0,0)" class="p"/><rect x="280.34" y="283.1" width="1.6" height="1.6" fill="rgb(0,26,0)" class="p"/><rect x="282.66" y="269.35" width="1.6" height="1.6" fill="rgb(0,28,0)" class="p"/><rect x="279.58" y="231.39" width="1.6" height="1.6" fill="rgb(34,0,0)" class="p"/><rect x="283.37" y="105.1" width="1.6" height="1.6" fill="rgb(0,19,0)" class="p"/><rect x="281.78" y="133.3" width="1.6" height="1.6" fill="rgb(24,0,0)" class="p"/><rect x="277.19" y="264.97" width="1.6" height="1.6" fill="rgb(0,29,0)" class="p"/><rect x="275.56" y="40.86" width="1.6" height="1.6" fill="rgb(0,12,0)" class="p"/><rect x="281.05" y="166.68" width="1.6" height="1.6" fill="rgb(31,0,0)" class="p"/><rect x="281.26" y="17.14" width="1.6" height="1.6" fill="rgb(11,0,0)" class="p"/><rect x="279.62" y="392.74" width="1.6" height="1.6" fill="rgb(0,12,0)" class="p"/><rect x="284.55" y="201.22" width="1.6" height="1.6" fill="rgb(34,0,0)" class="p"/><rect x="277.13" y="393.4" width="1.6" height="1.6" fill="rgb(0,11,0)" class="p"/><rect x="277.84" y="21.63" width="1.6" height="1.6" fill="rgb(11,0,0)" class="p"/><rect x="282.11" y="179.33" width="1.6" height="1.6" fill="rgb(32,0,0)" class="p"/><rect x="282.03" y="379.36" width="1.6" height="1.6" fill="rgb(12,0,0)" class="p"/><rect x="274.65" y="146.87" width="1.6" height="1.6" fill="rgb(27,0,0)" class="p"/><rect x="282.21" y="91.44" width="1.6" height="1.6" fill="rgb(0,17,0)" class="p"/><rect x="282.87" y="212.93" width="1.6" height="1.6" fill="rgb(35,0,0)" class="p"/><rect x="285.56" y="136.44" width="1.6" height="1.6" fill="rgb(0,25,0)" class="p"/><rect x="276.94" y="100.69" width="1.6" height="1.6" fill="rgb(0,18,0)" class="p"/><rect x="277.69" y="389.96" width="1.6" height="1.6" fill="rgb(12,0,0)" class="p"/><rect x="276.44" y="101.44" width="1.6" height="1.6" fill="rgb(18,0,0)" class="p"/><rect x="282.01" y="388.71" width="1.6" height="1.6" fill="rgb(12,0,0)" class="p"/><rect x="278.84" y="97.33" width="1.6" height="1.6" fill="rgb(0,18,0)" class="p"/><rect x="275.91" y="33.53" width="1.6" height="1.6" fill="rgb(12,0,0)" class="p"/><rect x="278.84" y="368.67" width="1.6" height="1.6" fill="rgb(0,13,0)" class="p"/><rect x="282.79" y="408.02" width="1.6" height="1.6" fill="rgb(0,11,0)" class="p"/><rect x="278.09" y="86.46" width="1.6" height="1.6" fill="rgb(0,16,0)" class="p"/><rect x="282.95" y="25.63" width="1.6" height="1.6" fill="rgb(0,11,0)" class="p"/><rect x="278.67" y="161.06" width="1.6" height="1.6" fill="rgb(30,0,0)" class="p"/><rect x="276.23" y="14.14" width="1.6" height="1.6" fill="rgb(11,0,0)" class="p"/><rect x="278.35" y="391.38" width="1.6" height="1.6" fill="rgb(12,0,0)" class="p"/><rect x="285.49" y="95.13" width="1.6" height="1.6" fill="rgb(17,0,0)" class="p"/><rect x="283.83" y="338.52" width="1.6" height="1.6" fill="rgb(16,0,0)" class="p"/><rect x="274.83" y="200.49" width="1.6" height="1.6" fill="rgb(34,0,0)" class="p"/><rect x="284.97" y="89.44" width="1.6" height="1.6" fill="rgb(17,0,0)" class="p"/><rect x="284.71" y="24.99" width="1.6" height="1.6" fill="rgb(11,0,0)" class="p"/><rect x="283.71" y="316.6" width="1.6" height="1.6" fill="rgb(19,0,0)" class="p"/><rect x="274.66" y="37.78" width="1.6" height="1.6" fill="rgb(0,12,0)" class="p"/><rect x="277.25" y="308.93" width="1.6" height="1.6" fill="rgb(0,21,0)" class="p"/><rect x="278.2" y="120.84" width="1.6" height="1.6" fill="rgb(0,22,0)" class="p"/><rect x="281.44" y="116.82" width="1.6" height="1.6" fill="rgb(0,21,0)" class="p"/><rect x="277.94" y="122.15" width="1.6" height="1.6" fill="rgb(22,0,0)" class="p"/><rect x="283.06" y="375.92" width="1.6" height="1.6" fill="rgb(0,12,0)" class="p"/><rect x="285.25" y="22.61" width="1.6" height="1.6" fill="rgb(11,0,0)" class="p"/><rect x="279.79" y="391.88" width="1.6" height="1.6" fill="rgb(0,12,0)" class="p"/><rect x="278.76" y="112.41" width="1.6" height="1.6" fill="rgb(20,0,0)" class="p"/><rect x="280" y="380.53" width="1.6" height="1.6" fill="rgb(12,0,0)" class="p"/><rect x="283.61" y="305.44" width="1.6" height="1.6" fill="rgb(0,21,0)" class="p"/><rect x="283.26" y="253.47" width="1.6" height="1.6" fill="rgb(31,0,0)" class="p"/><rect x="277.98" y="156.3" width="1.6" height="1.6" fill="rgb(0,29,0)" class="p"/><rect x="275.17" y="91.14" width="1.6" height="1.6" fill="rgb(0,17,0)" class="p"/><rect x="277.14" y="38.63" width="1.6" height="1.6" fill="rgb(12,0,0)" class="p"/><rect x="280.69" y="142" width="1.6" height="1.6" fill="rgb(0,26,0)" class="p"/><rect x="284.55" y="404.18" width="1.6" height="1.6" fill="rgb(11,0,0)" class="p"/><rect x="275.23" y="51.18" width="1.6" height="1.6" fill="rgb(13,0,0)" class="p"/><rect x="282.52" y="190" width="1.6" height="1.6" fill="rgb(34,0,0)" class="p"/><rect x="279.11" y="258.64" width="1.6" height="1.6" fill="rgb(0,30,0)" class="p"/><rect x="282.97" y="348.41" width="1.6" height="1.6" fill="rgb(0,15,0)" class="p"/><rect x="275.67" y="345.98" width="1.6" height="1.6" fill="rgb(15,0,0)" class="p"/><rect x="280.86" y="160.7" width="1.6" height="1.6" fill="rgb(0,30,0)" class="p"/><rect x="276.57" y="110.98" width="1.6" height="1.6" fill="rgb(20,0,0)" class="p"/><rect x="276.04" y="363.13" width="1.6" height="1.6" fill="rgb(0,13,0)" class="p"/><rect x="278.06" y="169.84" width="1.6" height="1.6" fill="rgb(0,31,0)" class="p"/><rect x="280.17" y="104.63" width="1.6" height="1.6" fill="rgb(0,19,0)" class="p"/><rect x="281.87" y="405.42" width="1.6" height="1.6" fill="rgb(11,0,0)" class="p"/><rect x="279.79" y="337.36" width="1.6" height="1.6" fill="rgb(0,16,0)" class="p"/><rect x="284.91" y="28.98" width="1.6" height="1.6" fill="rgb(11,0,0)" class="p"/><rect x="275.64" y="88.07" width="1.6" height="1.6" fill="rgb(0,16,0)" class="p"/><rect x="281.05" y="381.35" width="1.6" height="1.6" fill="rgb(12,0,0)" class="p"/><rect x="284.35" y="190.85" width="1.6" height="1.6" fill="rgb(34,0,0)" class="p"/><rect x="283.32" y="387.5" width="1.6" height="1.6" fill="rgb(12,0,0)" class="p"/><rect x="281.2" y="258.5" width="1.6" height="1.6" fill="rgb(30,0,0)" class="p"/><rect x="278.55" y="68.98" width="1.6" height="1.6" fill="rgb(14,0,0)" class="p"/><rect x="277.22" y="250.37" width="1.6" height="1.6" fill="rgb(0,32,0)" class="p"/><rect x="276.62" y="17.51" width="1.6" height="1.6" fill="rgb(11,0,0)" class="p"/><rect x="282.16" y="86.32" width="1.6" height="1.6" fill="rgb(16,0,0)" class="p"/><rect x="276.62" y="327.93" width="1.6" height="1.6" fill="rgb(0,18,0)" class="p"/><rect x="274.99" y="53.15" width="1.6" height="1.6" fill="rgb(13,0,0)" class="p"/><rect x="280.66" y="266.12" width="1.6" height="1.6" fill="rgb(29,0,0)" class="p"/><rect x="276.16" y="288.38" width="1.6" height="1.6" fill="rgb(25,0,0)" class="p"/><rect x="277.55" y="134.81" width="1.6" height="1.6" fill="rgb(0,25,0)" class="p"/><rect x="277.89" y="237.34" width="1.6" height="1.6" fill="rgb(33,0,0)" class="p"/><rect x="279.11" y="355.24" width="1.6" height="1.6" fill="rgb(0,14,0)" class="p"/><rect x="278.49" y="91.09" width="1.6" height="1.6" fill="rgb(0,17,0)" class="p"/><rect x="276.63" y="15.33" width="1.6" height="1.6" fill="rgb(0,11,0)" class="p"/><rect x="279.19" y="337.87" width="1.6" height="1.6" fill="rgb(16,0,0)" class="p"/><rect x="284.54" y="195.52" width="1.6" height="1.6" fill="rgb(34,0,0)" class="p"/><rect x="274.43" y="231.41" width="1.6" height="1.6" fill="rgb(0,34,0)" class="p"/><rect x="284.86" y="48.26" width="1.6" height="1.6" fill="rgb(0,12,0)" class="p"/><rect x="278.57" y="212.77" width="1.6" height="1.6" fill="rgb(35,0,0)" class="p"/><rect x="277.55" y="219.38" width="1.6" height="1.6" fill="rgb(0,35,0)" class="p"/><rect x="275.52" y="207.24" width="1.6" height="1.6" fill="rgb(0,35,0)" class="p"/><rect x="285.52" y="91.15" width="1.6" height="1.6" fill="rgb(17,0,0)" class="p"/><rect x="285.24" y="399.32" width="1.6" height="1.6" fill="rgb(11,0,0)" class="p"/><rect x="274.88" y="379.76" width="1.6" height="1.6" fill="rgb(12,0,0)" class="p"/><rect x="284.79" y="258.66" width="1.6" height="1.6" fill="rgb(0,30,0)" class="p"/><rect x="276.12" y="324.19" width="1.6" height="1.6" fill="rgb(18,0,0)" class="p"/><rect x="278.97" y="348.16" width="1.6" height="1.6" fill="rgb(0,15,0)" class="p"/><rect x="276.39" y="99.38" width="1.6" height="1.6" fill="rgb(18,0,0)" class="p"/><rect x="280.29" y="164.9" width="1.6" height="1.6" fill="rgb(30,0,0)" class="p"/><rect x="277.13" y="300.05" width="1.6" height="1.6" fill="rgb(0,22,0)" class="p"/><rect x="274.73" y="235.69" width="1.6" height="1.6" fill="rgb(0,33,0)" class="p"/><rect x="274.7" y="344.93" width="1.6" height="1.6" fill="rgb(15,0,0)" class="p"/><rect x="281.24" y="230.82" width="1.6" height="1.6" fill="rgb(0,34,0)" class="p"/><rect x="277.82" y="179.35" width="1.6" height="1.6" fill="rgb(0,32,0)" class="p"/><rect x="279.21" y="273.9" width="1.6" height="1.6" fill="rgb(28,0,0)" class="p"/><rect x="279.36" y="22.26" width="1.6" height="1.6" fill="rgb(0,11,0)" class="p"/><rect x="279.96" y="106.16" width="1.6" height="1.6" fill="rgb(0,19,0)" class="p"/><rect x="283.34" y="194.48" width="1.6" height="1.6" fill="rgb(34,0,0)" class="p"/><rect x="279.77" y="55.4" width="1.6" height="1.6" fill="rgb(13,0,0)" class="p"/><rect x="279.27" y="49.32" width="1.6" height="1.6" fill="rgb(13,0,0)" class="p"/><rect x="280.2" y="29.14" width="1.6" height="1.6" fill="rgb(0,11,0)" class="p"/><rect x="275.21" y="303.46" width="1.6" height="1.6" fill="rgb(0,22,0)" class="p"/><rect x="280.21" y="34.49" width="1.6" height="1.6" fill="rgb(0,12,0)" class="p"/><rect x="278.66" y="389.54" width="1.6" height="1.6" fill="rgb(12,0,0)" class="p"/><rect x="284.24" y="407.47" width="1.6" height="1.6" fill="rgb(0,11,0)" class="p"/><rect x="283.75" y="89.71" width="1.6" height="1.6" fill="rgb(0,17,0)" class="p"/><rect x="279.99" y="391.83" width="1.6" height="1.6" fill="rgb(0,12,0)" class="p"/><rect x="276.18" y="325.2" width="1.6" height="1.6" fill="rgb(0,18,0)" class="p"/><rect x="275.02" y="151.96" width="1.6" height="1.6" fill="rgb(0,28,0)" class="p"/><rect x="276.1" y="368.03" width="1.6" height="1.6" fill="rgb(13,0,0)" class="p"/><rect x="283.76" y="69.85" width="1.6" height="1.6" fill="rgb(0,14,0)" class="p"/><rect x="284.97" y="95.5" width="1.6" height="1.6" fill="rgb(18,0,0)" class="p"/><rect x="280.15" y="139.35" width="1.6" height="1.6" fill="rgb(26,0,0)" class="p"/><rect x="276.38" y="76.85" width="1.6" height="1.6" fill="rgb(0,15,0)" class="p"/><rect x="282.17" y="367.58" width="1.6" height="1.6" fill="rgb(13,0,0)" class="p"/><rect x="283.4" y="58.57" width="1.6" height="1.6" fill="rgb(0,13,0)" class="p"/><rect x="281.67" y="155.47" width="1.6" height="1.6" fill="rgb(0,29,0)" class="p"/><rect x="280.72" y="242.7" width="1.6" height="1.6" fill="rgb(0,33,0)" class="p"/><rect x="275.47" y="406.21" width="1.6" height="1.6" fill="rgb(0,11,0)" class="p"/><rect x="278.85" y="328.88" width="1.6" height="1.6" fill="rgb(17,0,0)" class="p"/><rect x="285.8" y="241.63" width="1.6" height="1.6" fill="rgb(33,0,0)" class="p"/><rect x="283.16" y="188.14" width="1.6" height="1.6" fill="rgb(33,0,0)" class="p"/><rect x="282.92" y="32.12" width="1.6" height="1.6" fill="rgb(0,12,0)" class="p"/><rect x="277.21" y="266.14" width="1.6" height="1.6" fill="rgb(0,29,0)" class="p"/><rect x="281.08" y="275.82" width="1.6" height="1.6" fill="rgb(27,0,0)" class="p"/><rect x="274.27" y="26.38" width="1.6" height="1.6" fill="rgb(11,0,0)" class="p"/><rect x="281.43" y="184.16" width="1.6" height="1.6" fill="rgb(0,33,0)" class="p"/><rect x="284.69" y="65.28" width="1.6" height="1.6" fill="rgb(14,0,0)" class="p"/><rect x="281.86" y="21.83" width="1.6" height="1.6" fill="rgb(11,0,0)" class="p"/><rect x="278.39" y="55.12" width="1.6" height="1.6" fill="rgb(13,0,0)" class="p"/><rect x="276.87" y="244.1" width="1.6" height="1.6" fill="rgb(0,33,0)" class="p"/><rect x="276.63" y="260.08" width="1.6" height="1.6" fill="rgb(30,0,0)" class="p"/><rect x="275.82" y="383.89" width="1.6" height="1.6" fill="rgb(12,0,0)" class="p"/><rect x="275.99" y="50.94" width="1.6" height="1.6" fill="rgb(0,13,0)" class="p"/><rect x="284.41" y="322.73" width="1.6" height="1.6" fill="rgb(18,0,0)" class="p"/><rect x="277.33" y="17.55" width="1.6" height="1.6" fill="rgb(0,11,0)" class="p"/><rect x="280.81" y="151.73" width="1.6" height="1.6" fill="rgb(0,28,0)" class="p"/><rect x="279.42" y="384.11" width="1.6" height="1.6" fill="rgb(0,12,0)" class="p"/><rect x="277.15" y="370.79" width="1.6" height="1.6" fill="rgb(13,0,0)" class="p"/><rect x="280.45" y="173.77" width="1.6" height="1.6" fill="rgb(32,0,0)" class="p"/><rect x="274.93" y="321.43" width="1.6" height="1.6" fill="rgb(19,0,0)" class="p"/><rect x="280.67" y="385.6" width="1.6" height="1.6" fill="rgb(12,0,0)" class="p"/><rect x="276.58" y="253.8" width="1.6" height="1.6" fill="rgb(0,31,0)" class="p"/><rect x="281.73" y="335.1" width="1.6" height="1.6" fill="rgb(17,0,0)" class="p"/><rect x="277.86" y="131.91" width="1.6" height="1.6" fill="rgb(24,0,0)" class="p"/><rect x="284.62" y="323.06" width="1.6" height="1.6" fill="rgb(0,18,0)" class="p"/><rect x="274.33" y="347.4" width="1.6" height="1.6" fill="rgb(0,15,0)" class="p"/><rect x="279.68" y="306.73" width="1.6" height="1.6" fill="rgb(21,0,0)" class="p"/><rect x="276.89" y="54.69" width="1.6" height="1.6" fill="rgb(13,0,0)" class="p"/><rect x="274.71" y="145.86" width="1.6" height="1.6" fill="rgb(0,27,0)" class="p"/><rect x="282.35" y="347.75" width="1.6" height="1.6" fill="rgb(0,15,0)" class="p"/><rect x="277.35" y="232.3" width="1.6" height="1.6" fill="rgb(34,0,0)" class="p"/><rect x="283.44" y="220.2" width="1.6" height="1.6" fill="rgb(35,0,0)" class="p"/><rect x="281.73" y="395.2" width="1.6" height="1.6" fill="rgb(11,0,0)" class="p"/><rect x="284.51" y="19.03" width="1.6" height="1.6" fill="rgb(11,0,0)" class="p"/><rect x="277" y="307.58" width="1.6" height="1.6" fill="rgb(0,21,0)" class="p"/><rect x="282.95" y="142.44" width="1.6" height="1.6" fill="rgb(0,26,0)" class="p"/><rect x="278.08" y="107.71" width="1.6" height="1.6" fill="rgb(0,20,0)" class="p"/><rect x="281.6" y="287.37" width="1.6" height="1.6" fill="rgb(0,25,0)" class="p"/><rect x="285.66" y="198.92" width="1.6" height="1.6" fill="rgb(0,34,0)" class="p"/><rect x="282.38" y="352.58" width="1.6" height="1.6" fill="rgb(14,0,0)" class="p"/><rect x="282.7" y="238.85" width="1.6" height="1.6" fill="rgb(33,0,0)" class="p"/><rect x="276.72" y="259.56" width="1.6" height="1.6" fill="rgb(30,0,0)" class="p"/><rect x="284.87" y="70.26" width="1.6" height="1.6" fill="rgb(14,0,0)" class="p"/><rect x="275.5" y="380.86" width="1.6" height="1.6" fill="rgb(12,0,0)" class="p"/><rect x="275.91" y="24.38" width="1.6" height="1.6" fill="rgb(11,0,0)" class="p"/><rect x="282.32" y="264.02" width="1.6" height="1.6" fill="rgb(0,29,0)" class="p"/><rect x="282.84" y="39.04" width="1.6" height="1.6" fill="rgb(0,12,0)" class="p"/><rect x="278.49" y="336.75" width="1.6" height="1.6" fill="rgb(0,16,0)" class="p"/><rect x="284.64" y="39.12" width="1.6" height="1.6" fill="rgb(0,12,0)" class="p"/><rect x="284.91" y="386.95" width="1.6" height="1.6" fill="rgb(12,0,0)" class="p"/><rect x="276.65" y="57.34" width="1.6" height="1.6" fill="rgb(13,0,0)" class="p"/><rect x="284.13" y="334.56" width="1.6" height="1.6" fill="rgb(0,17,0)" class="p"/><rect x="283.87" y="263.09" width="1.6" height="1.6" fill="rgb(30,0,0)" class="p"/><rect x="275.42" y="51.75" width="1.6" height="1.6" fill="rgb(0,13,0)" class="p"/><rect x="276.64" y="139.38" width="1.6" height="1.6" fill="rgb(26,0,0)" class="p"/><rect x="274.5" y="114.65" width="1.6" height="1.6" fill="rgb(21,0,0)" class="p"/><rect x="282.59" y="158.74" width="1.6" height="1.6" fill="rgb(29,0,0)" class="p"/><rect x="285.49" y="212.48" width="1.6" height="1.6" fill="rgb(0,35,0)" class="p"/><rect x="281.46" y="25.27" width="1.6" height="1.6" fill="rgb(11,0,0)" class="p"/><rect x="279.34" y="319.12" width="1.6" height="1.6" fill="rgb(19,0,0)" class="p"/><rect x="282.46" y="226" width="1.6" height="1.6" fill="rgb(34,0,0)" class="p"/><rect x="284.3" y="48.99" width="1.6" height="1.6" fill="rgb(0,13,0)" class="p"/><rect x="276.24" y="13.51" width="1.6" height="1.6" fill="rgb(11,0,0)" class="p"/><rect x="283.14" y="400.23" width="1.6" height="1.6" fill="rgb(11,0,0)" class="p"/><rect x="279.97" y="207.63" width="1.6" height="1.6" fill="rgb(0,35,0)" class="p"/><rect x="276.4" y="208.85" width="1.6" height="1.6" fill="rgb(35,0,0)" class="p"/><rect x="283.95" y="116.19" width="1.6" height="1.6" fill="rgb(0,21,0)" class="p"/><rect x="277.56" y="98.03" width="1.6" height="1.6" fill="rgb(0,18,0)" class="p"/><rect x="280.06" y="56.53" width="1.6" height="1.6" fill="rgb(0,13,0)" class="p"/></g></g>
<g clip-path="url(#clipb)"><g filter="url(#cmb)"><rect x="620" y="11" width="399" height="401.5" fill="rgb(0,2,0)"/>
<path d="M656.23 275.35L656.23 148.15Q656.23 124.96 659.52 101.77Q662.82 124.96 662.82 148.15L662.82 275.35Q662.82 298.54 659.52 321.73Q656.23 298.54 656.23 275.35Z" fill="url(#lp)" opacity="0.32" mask="url(#envb)" class="p"/>
<path d="M669.4 284.62L669.4 138.88Q669.4 115.69 672.69 92.5Q675.98 115.69 675.98 138.88L675.98 284.62Q675.98 307.81 672.69 331Q669.4 307.81 669.4 284.62Z" fill="url(#lp)" opacity="0.35" mask="url(#envb)" class="p"/>
<path d="M682.57 291.25L682.57 132.25Q682.57 109.06 685.86 85.88Q689.15 109.06 689.15 132.25L689.15 291.25Q689.15 314.44 685.86 337.62Q682.57 314.44 682.57 291.25Z" fill="url(#lp)" opacity="0.42" mask="url(#envb)" class="p"/>
<path d="M695.73 295.23L695.73 128.27Q695.73 105.09 699.02 81.9Q702.32 105.09 702.32 128.27L702.32 295.23Q702.32 318.41 699.02 341.6Q695.73 318.41 695.73 295.23Z" fill="url(#lp)" opacity="0.5" mask="url(#envb)" class="p"/>
<path d="M708.9 295.23L708.9 128.27Q708.9 105.09 712.19 81.9Q715.48 105.09 715.48 128.27L715.48 295.23Q715.48 318.41 712.19 341.6Q708.9 318.41 708.9 295.23Z" fill="url(#lp)" opacity="0.59" mask="url(#envb)" class="p"/>
<path d="M722.07 295.23L722.07 128.27Q722.07 105.09 725.36 81.9Q728.65 105.09 728.65 128.27L728.65 295.23Q728.65 318.41 725.36 341.6Q722.07 318.41 722.07 295.23Z" fill="url(#lp)" opacity="0.69" mask="url(#envb)" class="p"/>
<path d="M735.23 295.23L735.23 128.27Q735.23 105.09 738.53 81.9Q741.82 105.09 741.82 128.27L741.82 295.23Q741.82 318.41 738.53 341.6Q735.23 318.41 735.23 295.23Z" fill="url(#lp)" opacity="0.78" mask="url(#envb)" class="p"/>
<path d="M748.4 295.23L748.4 128.27Q748.4 105.09 751.69 81.9Q754.98 105.09 754.98 128.27L754.98 295.23Q754.98 318.41 751.69 341.6Q748.4 318.41 748.4 295.23Z" fill="url(#lp)" opacity="0.86" mask="url(#envb)" class="p"/>
<path d="M761.57 295.23L761.57 128.27Q761.57 105.09 764.86 81.9Q768.15 105.09 768.15 128.27L768.15 295.23Q768.15 318.41 764.86 341.6Q761.57 318.41 761.57 295.23Z" fill="url(#lp)" opacity="0.93" mask="url(#envb)" class="p"/>
<path d="M774.73 295.23L774.73 128.27Q774.73 105.09 778.02 81.9Q781.32 105.09 781.32 128.27L781.32 295.23Q781.32 318.41 778.02 341.6Q774.73 318.41 774.73 295.23Z" fill="url(#lp)" opacity="0.96" mask="url(#envb)" class="p"/>
<path d="M787.9 295.23L787.9 128.27Q787.9 105.09 791.19 81.9Q794.48 105.09 794.48 128.27L794.48 295.23Q794.48 318.41 791.19 341.6Q787.9 318.41 787.9 295.23Z" fill="url(#lp)" opacity="0.96" mask="url(#envb)" class="p"/>
<path d="M801.07 295.23L801.07 128.27Q801.07 105.09 804.36 81.9Q807.65 105.09 807.65 128.27L807.65 295.23Q807.65 318.41 804.36 341.6Q801.07 318.41 801.07 295.23Z" fill="url(#lp)" opacity="0.97" mask="url(#envb)" class="p"/>
<path d="M814.23 295.23L814.23 128.27Q814.23 105.09 817.52 81.9Q820.82 105.09 820.82 128.27L820.82 295.23Q820.82 318.41 817.52 341.6Q814.23 318.41 814.23 295.23Z" fill="url(#lp)" opacity="0.97" mask="url(#envb)" class="p"/>
<path d="M649.65 266.92L649.65 156.58Q649.65 133.39 652.94 110.21Q656.23 133.39 656.23 156.58L656.23 266.92Q656.23 290.11 652.94 313.29Q649.65 290.11 649.65 266.92Z" fill="url(#ln)" opacity="0.22" mask="url(#envb)" class="p"/>
<path d="M662.82 279.99L662.82 143.51Q662.82 120.32 666.11 97.14Q669.4 120.32 669.4 143.51L669.4 279.99Q669.4 303.18 666.11 326.36Q662.82 303.18 662.82 279.99Z" fill="url(#ln)" opacity="0.3" mask="url(#envb)" class="p"/>
<path d="M675.98 287.94L675.98 135.56Q675.98 112.38 679.27 89.19Q682.57 112.38 682.57 135.56L682.57 287.94Q682.57 311.12 679.27 334.31Q675.98 311.12 675.98 287.94Z" fill="url(#ln)" opacity="0.38" mask="url(#envb)" class="p"/>
<path d="M689.15 294.31L689.15 129.19Q689.15 106 692.44 82.82Q695.73 106 695.73 129.19L695.73 294.31Q695.73 317.5 692.44 340.68Q689.15 317.5 689.15 294.31Z" fill="url(#ln)" opacity="0.45" mask="url(#envb)" class="p"/>
<path d="M702.32 295.23L702.32 128.27Q702.32 105.09 705.61 81.9Q708.9 105.09 708.9 128.27L708.9 295.23Q708.9 318.41 705.61 341.6Q702.32 318.41 702.32 295.23Z" fill="url(#ln)" opacity="0.53" mask="url(#envb)" class="p"/>
<path d="M715.48 295.23L715.48 128.27Q715.48 105.09 718.77 81.9Q722.07 105.09 722.07 128.27L722.07 295.23Q722.07 318.41 718.77 341.6Q715.48 318.41 715.48 295.23Z" fill="url(#ln)" opacity="0.62" mask="url(#envb)" class="p"/>
<path d="M728.65 295.23L728.65 128.27Q728.65 105.09 731.94 81.9Q735.23 105.09 735.23 128.27L735.23 295.23Q735.23 318.41 731.94 341.6Q728.65 318.41 728.65 295.23Z" fill="url(#ln)" opacity="0.72" mask="url(#envb)" class="p"/>
<path d="M741.82 295.23L741.82 128.27Q741.82 105.09 745.11 81.9Q748.4 105.09 748.4 128.27L748.4 295.23Q748.4 318.41 745.11 341.6Q741.82 318.41 741.82 295.23Z" fill="url(#ln)" opacity="0.8" mask="url(#envb)" class="p"/>
<path d="M754.98 295.23L754.98 128.27Q754.98 105.09 758.27 81.9Q761.57 105.09 761.57 128.27L761.57 295.23Q761.57 318.41 758.27 341.6Q754.98 318.41 754.98 295.23Z" fill="url(#ln)" opacity="0.86" mask="url(#envb)" class="p"/>
<path d="M768.15 295.23L768.15 128.27Q768.15 105.09 771.44 81.9Q774.73 105.09 774.73 128.27L774.73 295.23Q774.73 318.41 771.44 341.6Q768.15 318.41 768.15 295.23Z" fill="url(#ln)" opacity="0.91" mask="url(#envb)" class="p"/>
<path d="M781.32 295.23L781.32 128.27Q781.32 105.09 784.61 81.9Q787.9 105.09 787.9 128.27L787.9 295.23Q787.9 318.41 784.61 341.6Q781.32 318.41 781.32 295.23Z" fill="url(#ln)" opacity="0.92" mask="url(#envb)" class="p"/>
<path d="M794.48 295.23L794.48 128.27Q794.48 105.09 797.77 81.9Q801.07 105.09 801.07 128.27L801.07 295.23Q801.07 318.41 797.77 341.6Q794.48 318.41 794.48 295.23Z" fill="url(#ln)" opacity="0.92" mask="url(#envb)" class="p"/>
<path d="M807.65 295.23L807.65 128.27Q807.65 105.09 810.94 81.9Q814.23 105.09 814.23 128.27L814.23 295.23Q814.23 318.41 810.94 341.6Q807.65 318.41 807.65 295.23Z" fill="url(#ln)" opacity="0.92" mask="url(#envb)" class="p"/>
<path d="M820.82 295.23L820.82 128.27Q820.82 105.09 824.11 81.9Q827.4 105.09 827.4 128.27L827.4 295.23Q827.4 318.41 824.11 341.6Q820.82 318.41 820.82 295.23Z" fill="url(#ln)" opacity="0.93" mask="url(#envb)" class="p"/>
<rect x="827.4" y="81.9" width="5.27" height="259.7" fill="url(#lpc)" opacity="0.8" mask="url(#envb)" class="p"/>
<rect x="643.86" y="35.79" width="5" height="56.71" fill="url(#lp)" opacity="0.02" mask="url(#envs)" class="p"/>
<rect x="643.86" y="331" width="5" height="56.71" fill="url(#lp)" opacity="0.02" mask="url(#envs)" class="p"/>
<rect x="657.02" y="34.2" width="5" height="58.3" fill="url(#lp)" opacity="0.02" mask="url(#envs)" class="p"/>
<rect x="657.02" y="331" width="5" height="58.3" fill="url(#lp)" opacity="0.02" mask="url(#envs)" class="p"/>
<rect x="670.19" y="32.61" width="5" height="59.89" fill="url(#lp)" opacity="0.02" mask="url(#envs)" class="p"/>
<rect x="670.19" y="331" width="5" height="59.89" fill="url(#lp)" opacity="0.02" mask="url(#envs)" class="p"/>
<rect x="683.36" y="31.02" width="5" height="61.48" fill="url(#lp)" opacity="0.02" mask="url(#envs)" class="p"/>
<rect x="683.36" y="331" width="5" height="61.48" fill="url(#lp)" opacity="0.02" mask="url(#envs)" class="p"/>
<rect x="696.52" y="29.43" width="5" height="63.07" fill="url(#lp)" opacity="0.02" mask="url(#envs)" class="p"/>
<rect x="696.52" y="331" width="5" height="63.07" fill="url(#lp)" opacity="0.02" mask="url(#envs)" class="p"/>
<rect x="709.69" y="27.84" width="5" height="64.66" fill="url(#lp)" opacity="0.02" mask="url(#envs)" class="p"/>
<rect x="709.69" y="331" width="5" height="64.66" fill="url(#lp)" opacity="0.02" mask="url(#envs)" class="p"/>
<rect x="722.86" y="26.25" width="5" height="66.25" fill="url(#lp)" opacity="0.02" mask="url(#envs)" class="p"/>
<rect x="722.86" y="331" width="5" height="66.25" fill="url(#lp)" opacity="0.02" mask="url(#envs)" class="p"/>
<rect x="736.02" y="27.84" width="5" height="64.66" fill="url(#lp)" opacity="0.02" mask="url(#envs)" class="p"/>
<rect x="736.02" y="331" width="5" height="64.66" fill="url(#lp)" opacity="0.02" mask="url(#envs)" class="p"/>
<rect x="749.19" y="29.43" width="5" height="63.07" fill="url(#lp)" opacity="0.02" mask="url(#envs)" class="p"/>
<rect x="749.19" y="331" width="5" height="63.07" fill="url(#lp)" opacity="0.02" mask="url(#envs)" class="p"/>
<rect x="762.36" y="31.02" width="5" height="61.48" fill="url(#lp)" opacity="0.02" mask="url(#envs)" class="p"/>
<rect x="762.36" y="331" width="5" height="61.48" fill="url(#lp)" opacity="0.02" mask="url(#envs)" class="p"/>
<rect x="775.52" y="32.61" width="5" height="59.89" fill="url(#lp)" opacity="0.02" mask="url(#envs)" class="p"/>
<rect x="775.52" y="331" width="5" height="59.89" fill="url(#lp)" opacity="0.02" mask="url(#envs)" class="p"/>
<rect x="788.69" y="34.2" width="5" height="58.3" fill="url(#lp)" opacity="0.02" mask="url(#envs)" class="p"/>
<rect x="788.69" y="331" width="5" height="58.3" fill="url(#lp)" opacity="0.02" mask="url(#envs)" class="p"/>
<rect x="801.86" y="35.79" width="5" height="56.71" fill="url(#lp)" opacity="0.02" mask="url(#envs)" class="p"/>
<rect x="801.86" y="331" width="5" height="56.71" fill="url(#lp)" opacity="0.02" mask="url(#envs)" class="p"/>
<rect x="815.02" y="37.38" width="5" height="55.12" fill="url(#lp)" opacity="0.02" mask="url(#envs)" class="p"/>
<rect x="815.02" y="331" width="5" height="55.12" fill="url(#lp)" opacity="0.02" mask="url(#envs)" class="p"/>
<rect x="828.19" y="38.97" width="5" height="53.53" fill="url(#lp)" opacity="0.02" mask="url(#envs)" class="p"/>
<rect x="828.19" y="331" width="5" height="53.53" fill="url(#lp)" opacity="0.02" mask="url(#envs)" class="p"/>
<rect x="640.43" y="46.12" width="7.9" height="331.25" fill="url(#lp)" opacity="0.03" mask="url(#envs)" class="p"/>
<ellipse cx="924.83" cy="417.12" rx="111.92" ry="159" fill="rgb(5,0,0)" class="p"/></g></g>
<g clip-path="url(#clipe)"><g filter="url(#cme)"><rect x="62" y="1008.3" width="393.5" height="398.7" fill="rgb(2,0,0)"/>
<ellipse cx="243.73" cy="1182.64" rx="2.89" ry="8.26" transform="rotate(-4.64 243.73 1182.64)" fill="rgb(0,6,0)" class="p"/><ellipse cx="265.76" cy="1171.09" rx="1.78" ry="8.58" transform="rotate(-6.31 265.76 1171.09)" fill="rgb(0,6,0)" class="p"/><ellipse cx="314.25" cy="1085.07" rx="1.64" ry="7.12" transform="rotate(-17.88 314.25 1085.07)" fill="rgb(0,6,0)" class="p"/><ellipse cx="100.02" cy="1078.1" rx="2.54" ry="5.29" transform="rotate(-38.51 100.02 1078.1)" fill="rgb(0,6,0)" class="p"/><ellipse cx="454.22" cy="1013.2" rx="2.48" ry="9.31" transform="rotate(-20.44 454.22 1013.2)" fill="rgb(0,6,0)" class="p"/><ellipse cx="126.57" cy="1410.56" rx="2.29" ry="5.42" transform="rotate(46.93 126.57 1410.56)" fill="rgb(0,6,0)" class="p"/><ellipse cx="139.57" cy="1315.62" rx="1.55" ry="8.25" transform="rotate(28.02 139.57 1315.62)" fill="rgb(0,6,0)" class="p"/><ellipse cx="239.02" cy="1064.38" rx="2.28" ry="9.48" transform="rotate(-25.26 239.02 1064.38)" fill="rgb(0,6,0)" class="p"/><ellipse cx="262.55" cy="1139.68" rx="2.19" ry="6.95" transform="rotate(-11.72 262.55 1139.68)" fill="rgb(0,6,0)" class="p"/><ellipse cx="460.36" cy="1000.26" rx="2.76" ry="9.95" transform="rotate(-21.45 460.36 1000.26)" fill="rgb(0,6,0)" class="p"/><ellipse cx="189.26" cy="1320.75" rx="1.93" ry="5.49" transform="rotate(24.07 189.26 1320.75)" fill="rgb(0,6,0)" class="p"/><ellipse cx="368.44" cy="1249.32" rx="2.77" ry="7.71" transform="rotate(5.47 368.44 1249.32)" fill="rgb(0,6,0)" class="p"/><ellipse cx="444.62" cy="1062.34" rx="1.5" ry="6.47" transform="rotate(-15.84 444.62 1062.34)" fill="rgb(0,6,0)" class="p"/><ellipse cx="425.64" cy="1220.21" rx="2.97" ry="7.78" transform="rotate(1.46 425.64 1220.21)" fill="rgb(0,6,0)" class="p"/><ellipse cx="93.02" cy="1153.49" rx="2.67" ry="6.89" transform="rotate(-19.18 93.02 1153.49)" fill="rgb(0,6,0)" class="p"/><ellipse cx="98.62" cy="1277.69" rx="2.95" ry="10.31" transform="rotate(23.46 98.62 1277.69)" fill="rgb(0,6,0)" class="p"/><ellipse cx="110.88" cy="1313.76" rx="1.65" ry="5.42" transform="rotate(31.4 110.88 1313.76)" fill="rgb(0,6,0)" class="p"/><ellipse cx="380.65" cy="1342.5" rx="2.34" ry="8.13" transform="rotate(16.78 380.65 1342.5)" fill="rgb(0,6,0)" class="p"/><ellipse cx="139.76" cy="1110.63" rx="1.7" ry="9.51" transform="rotate(-25.54 139.76 1110.63)" fill="rgb(0,6,0)" class="p"/><ellipse cx="110.29" cy="1240.8" rx="1.82" ry="6.89" transform="rotate(10.84 110.29 1240.8)" fill="rgb(0,6,0)" class="p"/><ellipse cx="449.74" cy="1080.71" rx="1.96" ry="11.19" transform="rotate(-13.79 449.74 1080.71)" fill="rgb(0,6,0)" class="p"/><ellipse cx="147.71" cy="1251.88" rx="2.78" ry="9.49" transform="rotate(11.83 147.71 1251.88)" fill="rgb(0,6,0)" class="p"/><ellipse cx="103.86" cy="1002.93" rx="1.82" ry="6.81" transform="rotate(-50.84 103.86 1002.93)" fill="rgb(0,6,0)" class="p"/><ellipse cx="370.98" cy="1279.21" rx="1.94" ry="5.51" transform="rotate(9.29 370.98 1279.21)" fill="rgb(0,6,0)" class="p"/><ellipse cx="99.8" cy="1173.04" rx="1.86" ry="9.21" transform="rotate(-12.02 99.8 1173.04)" fill="rgb(0,6,0)" class="p"/><ellipse cx="211.67" cy="1227.23" rx="2.94" ry="8.39" transform="rotate(4.06 211.67 1227.23)" fill="rgb(0,6,0)" class="p"/><ellipse cx="292.27" cy="1054.3" rx="1.77" ry="6.08" transform="rotate(-23.21 292.27 1054.3)" fill="rgb(0,6,0)" class="p"/><ellipse cx="424.91" cy="1074.69" rx="1.87" ry="6.33" transform="rotate(-15.12 424.91 1074.69)" fill="rgb(0,6,0)" class="p"/><ellipse cx="357.77" cy="1023.39" rx="1.79" ry="11.65" transform="rotate(-23.49 357.77 1023.39)" fill="rgb(0,6,0)" class="p"/><ellipse cx="414.49" cy="1164.33" rx="2.13" ry="5.73" transform="rotate(-5.14 414.49 1164.33)" fill="rgb(0,6,0)" class="p"/><ellipse cx="79.37" cy="1014.07" rx="1.86" ry="9.93" transform="rotate(-53.76 79.37 1014.07)" fill="rgb(0,6,0)" class="p"/><ellipse cx="166.1" cy="1072.21" rx="2.39" ry="7.05" transform="rotate(-30.52 166.1 1072.21)" fill="rgb(0,6,0)" class="p"/><ellipse cx="133.7" cy="1115.46" rx="1.6" ry="6.6" transform="rotate(-25.09 133.7 1115.46)" fill="rgb(0,6,0)" class="p"/><ellipse cx="286.23" cy="1060.21" rx="2.42" ry="6.96" transform="rotate(-22.76 286.23 1060.21)" fill="rgb(0,6,0)" class="p"/><ellipse cx="428.46" cy="1331.5" rx="1.52" ry="6.88" transform="rotate(14.03 428.46 1331.5)" fill="rgb(0,6,0)" class="p"/><ellipse cx="241.07" cy="1391.55" rx="1.76" ry="7.58" transform="rotate(31.03 241.07 1391.55)" fill="rgb(0,6,0)" class="p"/><ellipse cx="291.32" cy="1361.79" rx="2.04" ry="11.24" transform="rotate(23.37 291.32 1361.79)" fill="rgb(0,6,0)" class="p"/><ellipse cx="453.54" cy="1141.99" rx="2.54" ry="9.09" transform="rotate(-7.18 453.54 1141.99)" fill="rgb(0,6,0)" class="p"/><ellipse cx="119.76" cy="1402.16" rx="1.53" ry="11.37" transform="rotate(46.78 119.76 1402.16)" fill="rgb(0,6,0)" class="p"/><ellipse cx="342.49" cy="1014.03" rx="1.53" ry="9.45" transform="rotate(-25.36 342.49 1014.03)" fill="rgb(0,6,0)" class="p"/><ellipse cx="255.59" cy="1111.21" rx="1.98" ry="12" transform="rotate(-16.75 255.59 1111.21)" fill="rgb(0,6,0)" class="p"/><ellipse cx="93.9" cy="1188.36" rx="2.61" ry="11.3" transform="rotate(-7.02 93.9 1188.36)" fill="rgb(0,6,0)" class="p"/><ellipse cx="356.84" cy="1122.43" rx="2.69" ry="11.41" transform="rotate(-11.39 356.84 1122.43)" fill="rgb(0,6,0)" class="p"/><ellipse cx="203.78" cy="1130.19" rx="2.85" ry="11.1" transform="rotate(-16.12 203.78 1130.19)" fill="rgb(0,6,0)" class="p"/><ellipse cx="229.73" cy="1086.1" rx="2.8" ry="9.01" transform="rotate(-22.45 229.73 1086.1)" fill="rgb(0,6,0)" class="p"/><ellipse cx="312.29" cy="1256.88" rx="2.37" ry="9.26" transform="rotate(7.42 312.29 1256.88)" fill="rgb(0,6,0)" class="p"/><ellipse cx="95.86" cy="1149.33" rx="2.99" ry="11.16" transform="rotate(-20.19 95.86 1149.33)" fill="rgb(0,6,0)" class="p"/><ellipse cx="353.31" cy="1254.33" rx="2.6" ry="9.07" transform="rotate(6.35 353.31 1254.33)" fill="rgb(0,6,0)" class="p"/><ellipse cx="239.02" cy="1066.08" rx="1.63" ry="10.25" transform="rotate(-25 239.02 1066.08)" fill="rgb(0,6,0)" class="p"/><ellipse cx="75.84" cy="1165.27" rx="2.22" ry="6.61" transform="rotate(-17.04 75.84 1165.27)" fill="rgb(0,6,0)" class="p"/><ellipse cx="341.44" cy="1208.8" rx="2.42" ry="11.44" transform="rotate(0.16 341.44 1208.8)" fill="rgb(0,6,0)" class="p"/><ellipse cx="165.64" cy="1412.11" rx="1.95" ry="9.75" transform="rotate(41.72 165.64 1412.11)" fill="rgb(0,6,0)" class="p"/><ellipse cx="144.48" cy="1345.88" rx="2.86" ry="9.62" transform="rotate(33.62 144.48 1345.88)" fill="rgb(0,6,0)" class="p"/><ellipse cx="239.58" cy="1043.76" rx="1.99" ry="9.66" transform="rotate(-28.31 239.58 1043.76)" fill="rgb(0,6,0)" class="p"/><ellipse cx="142.86" cy="1236.56" rx="2.71" ry="11.4" transform="rotate(7.98 142.86 1236.56)" fill="rgb(0,6,0)" class="p"/><ellipse cx="413.72" cy="1256.01" rx="2.37" ry="7.22" transform="rotate(5.74 413.72 1256.01)" fill="rgb(0,6,0)" class="p"/><ellipse cx="118.1" cy="1209.13" rx="2.76" ry="10.94" transform="rotate(0.47 118.1 1209.13)" fill="rgb(0,6,0)" class="p"/><ellipse cx="346.56" cy="1019.38" rx="1.92" ry="6.18" transform="rotate(-24.53 346.56 1019.38)" fill="rgb(0,6,0)" class="p"/><ellipse cx="243.04" cy="1301.72" rx="1.82" ry="7.9" transform="rotate(17 243.04 1301.72)" fill="rgb(0,6,0)" class="p"/><ellipse cx="312.6" cy="1210.21" rx="1.97" ry="10.87" transform="rotate(0.39 312.6 1210.21)" fill="rgb(0,6,0)" class="p"/><ellipse cx="454.15" cy="1227.53" rx="1.61" ry="5.22" transform="rotate(2.18 454.15 1227.53)" fill="rgb(0,6,0)" class="p"/><ellipse cx="410.77" cy="1399.48" rx="2.56" ry="8.99" transform="rotate(21.88 410.77 1399.48)" fill="rgb(0,6,0)" class="p"/><ellipse cx="186.77" cy="1085.69" rx="1.53" ry="5.95" transform="rotate(-25.94 186.77 1085.69)" fill="rgb(0,6,0)" class="p"/><ellipse cx="244.7" cy="1406.5" rx="2.74" ry="6.66" transform="rotate(32.73 244.7 1406.5)" fill="rgb(0,6,0)" class="p"/><ellipse cx="119.97" cy="1397.2" rx="2.44" ry="8.13" transform="rotate(46 119.97 1397.2)" fill="rgb(0,6,0)" class="p"/><ellipse cx="314.28" cy="1142.78" rx="2.71" ry="11.71" transform="rotate(-9.69 314.28 1142.78)" fill="rgb(0,6,0)" class="p"/><ellipse cx="335.94" cy="1333.44" rx="2.21" ry="6.25" transform="rotate(17.38 335.94 1333.44)" fill="rgb(0,6,0)" class="p"/><ellipse cx="68.28" cy="1219.28" rx="2.57" ry="6.25" transform="rotate(5.09 68.28 1219.28)" fill="rgb(0,6,0)" class="p"/><ellipse cx="172.2" cy="1272.19" rx="2.55" ry="8.64" transform="rotate(15.3 172.2 1272.19)" fill="rgb(0,6,0)" class="p"/><ellipse cx="308.11" cy="1100.46" rx="2.09" ry="10.54" transform="rotate(-16.01 308.11 1100.46)" fill="rgb(0,6,0)" class="p"/><ellipse cx="424.04" cy="1380.35" rx="2.9" ry="10.06" transform="rotate(19.37 424.04 1380.35)" fill="rgb(0,6,0)" class="p"/><ellipse cx="115.61" cy="1227.09" rx="2.44" ry="11.37" transform="rotate(6.21 115.61 1227.09)" fill="rgb(0,6,0)" class="p"/><ellipse cx="213.7" cy="1178.86" rx="2.82" ry="10.58" transform="rotate(-5.91 213.7 1178.86)" fill="rgb(0,6,0)" class="p"/><ellipse cx="439.14" cy="1222.83" rx="2.48" ry="6.43" transform="rotate(1.72 439.14 1222.83)" fill="rgb(0,6,0)" class="p"/><ellipse cx="350.82" cy="1074.46" rx="2.46" ry="10.02" transform="rotate(-17.72 350.82 1074.46)" fill="rgb(0,6,0)" class="p"/><ellipse cx="148.74" cy="1040.3" rx="2.97" ry="11.84" transform="rotate(-38.26 148.74 1040.3)" fill="rgb(0,6,0)" class="p"/><ellipse cx="277.33" cy="1085.99" rx="1.98" ry="11.37" transform="rotate(-19.56 277.33 1085.99)" fill="rgb(0,6,0)" class="p"/><ellipse cx="403.99" cy="1271.03" rx="1.62" ry="8.09" transform="rotate(7.67 403.99 1271.03)" fill="rgb(0,6,0)" class="p"/><ellipse cx="282.63" cy="1095.43" rx="2.23" ry="5.2" transform="rotate(-17.88 282.63 1095.43)" fill="rgb(0,6,0)" class="p"/><ellipse cx="385.46" cy="1390.04" rx="2.7" ry="6.21" transform="rotate(21.97 385.46 1390.04)" fill="rgb(0,6,0)" class="p"/><ellipse cx="197.09" cy="1087.2" rx="1.71" ry="6.04" transform="rotate(-24.76 197.09 1087.2)" fill="rgb(0,6,0)" class="p"/><ellipse cx="269.21" cy="1114.11" rx="2.76" ry="9.83" transform="rotate(-15.63 269.21 1114.11)" fill="rgb(0,6,0)" class="p"/><ellipse cx="439.74" cy="1210.75" rx="2.92" ry="5.6" transform="rotate(0.35 439.74 1210.75)" fill="rgb(0,6,0)" class="p"/><ellipse cx="151.97" cy="1196.49" rx="1.94" ry="10.1" transform="rotate(-2.96 151.97 1196.49)" fill="rgb(0,6,0)" class="p"/><ellipse cx="317.82" cy="1198.12" rx="2.77" ry="8.92" transform="rotate(-1.42 317.82 1198.12)" fill="rgb(0,6,0)" class="p"/><ellipse cx="187.83" cy="1257.35" rx="2.77" ry="11.3" transform="rotate(11.17 187.83 1257.35)" fill="rgb(0,6,0)" class="p"/><ellipse cx="146.73" cy="1060.89" rx="2.95" ry="8.67" transform="rotate(-34.93 146.73 1060.89)" fill="rgb(0,6,0)" class="p"/><ellipse cx="291.64" cy="1332.76" rx="2.3" ry="8.52" transform="rotate(19.31 291.64 1332.76)" fill="rgb(0,6,0)" class="p"/><ellipse cx="304.45" cy="1405.23" rx="2.95" ry="8.61" transform="rotate(28.1 304.45 1405.23)" fill="rgb(0,6,0)" class="p"/><ellipse cx="223.15" cy="1081.69" rx="2.34" ry="8.44" transform="rotate(-23.65 223.15 1081.69)" fill="rgb(0,6,0)" class="p"/>
<ellipse cx="155.83" cy="1081.82" rx="4.35" ry="15.3" transform="rotate(-16.57 155.83 1081.82)" fill="rgb(0,4,0)" class="p"/><ellipse cx="153.44" cy="1408.42" rx="4.86" ry="12.84" transform="rotate(41.75 153.44 1408.42)" fill="rgb(0,4,0)" class="p"/><ellipse cx="95.02" cy="1220.84" rx="3.86" ry="12.17" transform="rotate(-2.82 95.02 1220.84)" fill="rgb(0,4,0)" class="p"/><ellipse cx="86.27" cy="1415.2" rx="3.2" ry="15.25" transform="rotate(45.85 86.27 1415.2)" fill="rgb(0,4,0)" class="p"/><ellipse cx="68.53" cy="1080.98" rx="4.04" ry="8.14" transform="rotate(-54.9 68.53 1080.98)" fill="rgb(0,4,0)" class="p"/><ellipse cx="109.71" cy="1420.03" rx="3.02" ry="8.94" transform="rotate(62.04 109.71 1420.03)" fill="rgb(0,4,0)" class="p"/><ellipse cx="221.11" cy="1297.46" rx="3.85" ry="13.1" transform="rotate(31.31 221.11 1297.46)" fill="rgb(0,4,0)" class="p"/><ellipse cx="81.42" cy="1333.5" rx="4.23" ry="15.7" transform="rotate(54.39 81.42 1333.5)" fill="rgb(0,4,0)" class="p"/><ellipse cx="115.54" cy="1266.82" rx="2.86" ry="7.59" transform="rotate(8.32 115.54 1266.82)" fill="rgb(0,4,0)" class="p"/><ellipse cx="104.64" cy="1292.33" rx="2.51" ry="13.1" transform="rotate(29.91 104.64 1292.33)" fill="rgb(0,4,0)" class="p"/><ellipse cx="99.2" cy="1071.87" rx="3.29" ry="11.33" transform="rotate(-40.55 99.2 1071.87)" fill="rgb(0,4,0)" class="p"/><ellipse cx="121.13" cy="1120.4" rx="4.94" ry="7.21" transform="rotate(-38.64 121.13 1120.4)" fill="rgb(0,4,0)" class="p"/><ellipse cx="64.19" cy="1413.09" rx="3.42" ry="12.21" transform="rotate(67.01 64.19 1413.09)" fill="rgb(0,4,0)" class="p"/><ellipse cx="214.39" cy="1416.92" rx="2.95" ry="15.6" transform="rotate(23.3 214.39 1416.92)" fill="rgb(0,4,0)" class="p"/><ellipse cx="107.13" cy="1024.5" rx="3.36" ry="10.19" transform="rotate(-33.87 107.13 1024.5)" fill="rgb(0,4,0)" class="p"/><ellipse cx="187.48" cy="1197.12" rx="2.77" ry="13.74" transform="rotate(5.87 187.48 1197.12)" fill="rgb(0,4,0)" class="p"/><ellipse cx="109.14" cy="1405.17" rx="2.73" ry="10.07" transform="rotate(62.32 109.14 1405.17)" fill="rgb(0,4,0)" class="p"/><ellipse cx="211.64" cy="1160.41" rx="3.35" ry="15.32" transform="rotate(2.83 211.64 1160.41)" fill="rgb(0,4,0)" class="p"/><ellipse cx="128.73" cy="1285.74" rx="2.7" ry="8.34" transform="rotate(12.47 128.73 1285.74)" fill="rgb(0,4,0)" class="p"/><ellipse cx="82.87" cy="1127.01" rx="2.9" ry="7.44" transform="rotate(-14.11 82.87 1127.01)" fill="rgb(0,4,0)" class="p"/><ellipse cx="159.87" cy="1247.77" rx="3.98" ry="14.44" transform="rotate(2.3 159.87 1247.77)" fill="rgb(0,4,0)" class="p"/><ellipse cx="72.03" cy="1226.55" rx="2.64" ry="15.24" transform="rotate(5.65 72.03 1226.55)" fill="rgb(0,4,0)" class="p"/><ellipse cx="152.96" cy="1063.39" rx="4.33" ry="15.55" transform="rotate(-44.77 152.96 1063.39)" fill="rgb(0,4,0)" class="p"/><ellipse cx="82.55" cy="1152.06" rx="2.77" ry="10.91" transform="rotate(-12.32 82.55 1152.06)" fill="rgb(0,4,0)" class="p"/><ellipse cx="152.95" cy="1295.12" rx="5" ry="14.67" transform="rotate(20.6 152.95 1295.12)" fill="rgb(0,4,0)" class="p"/><ellipse cx="185.22" cy="1004.74" rx="3.72" ry="13.57" transform="rotate(-40.55 185.22 1004.74)" fill="rgb(0,4,0)" class="p"/><ellipse cx="128.05" cy="1248.66" rx="3.44" ry="15.9" transform="rotate(1.5 128.05 1248.66)" fill="rgb(0,4,0)" class="p"/><ellipse cx="72.48" cy="1011.64" rx="3.75" ry="10.05" transform="rotate(-51.65 72.48 1011.64)" fill="rgb(0,4,0)" class="p"/><ellipse cx="116.62" cy="1087.43" rx="3.4" ry="14.07" transform="rotate(-22.77 116.62 1087.43)" fill="rgb(0,4,0)" class="p"/><ellipse cx="97" cy="1090.47" rx="4.16" ry="13.84" transform="rotate(-30.42 97 1090.47)" fill="rgb(0,4,0)" class="p"/><ellipse cx="143.53" cy="1301.07" rx="4.42" ry="13.22" transform="rotate(23.87 143.53 1301.07)" fill="rgb(0,4,0)" class="p"/><ellipse cx="156.03" cy="1295.53" rx="4.12" ry="12.23" transform="rotate(35.18 156.03 1295.53)" fill="rgb(0,4,0)" class="p"/><ellipse cx="161.77" cy="1313.92" rx="3.66" ry="14.35" transform="rotate(30.39 161.77 1313.92)" fill="rgb(0,4,0)" class="p"/><ellipse cx="71.13" cy="1144.8" rx="3.37" ry="12.8" transform="rotate(-16.28 71.13 1144.8)" fill="rgb(0,4,0)" class="p"/><ellipse cx="75.17" cy="1271.57" rx="4.67" ry="13.2" transform="rotate(35.2 75.17 1271.57)" fill="rgb(0,4,0)" class="p"/><ellipse cx="209.78" cy="1004.69" rx="3.8" ry="11.76" transform="rotate(-22.83 209.78 1004.69)" fill="rgb(0,4,0)" class="p"/><ellipse cx="138.54" cy="1021.2" rx="4.23" ry="13.48" transform="rotate(-43.41 138.54 1021.2)" fill="rgb(0,4,0)" class="p"/><ellipse cx="192.19" cy="1109.46" rx="4.45" ry="12.23" transform="rotate(-30.82 192.19 1109.46)" fill="rgb(0,4,0)" class="p"/><ellipse cx="105.2" cy="1154.9" rx="4.09" ry="13.48" transform="rotate(-9.18 105.2 1154.9)" fill="rgb(0,4,0)" class="p"/><ellipse cx="134.22" cy="1409.01" rx="3.6" ry="12.85" transform="rotate(35.36 134.22 1409.01)" fill="rgb(0,4,0)" class="p"/><ellipse cx="86.92" cy="1151.87" rx="3.68" ry="9.04" transform="rotate(-34.2 86.92 1151.87)" fill="rgb(0,4,0)" class="p"/><ellipse cx="180.33" cy="1397.71" rx="3.29" ry="8.63" transform="rotate(26.9 180.33 1397.71)" fill="rgb(0,4,0)" class="p"/><ellipse cx="71.31" cy="1222.43" rx="4.03" ry="12.31" transform="rotate(2.72 71.31 1222.43)" fill="rgb(0,4,0)" class="p"/><ellipse cx="83.68" cy="1319.4" rx="2.5" ry="10.65" transform="rotate(49.48 83.68 1319.4)" fill="rgb(0,4,0)" class="p"/><ellipse cx="78.27" cy="1371.73" rx="3.43" ry="7.32" transform="rotate(59.32 78.27 1371.73)" fill="rgb(0,4,0)" class="p"/><ellipse cx="142.75" cy="1159.24" rx="3.86" ry="10.05" transform="rotate(-25.37 142.75 1159.24)" fill="rgb(0,4,0)" class="p"/><ellipse cx="235.55" cy="1071.87" rx="4.53" ry="12.78" transform="rotate(-26.77 235.55 1071.87)" fill="rgb(0,4,0)" class="p"/><ellipse cx="159.57" cy="1263.3" rx="3.99" ry="12.07" transform="rotate(3.27 159.57 1263.3)" fill="rgb(0,4,0)" class="p"/><ellipse cx="261.05" cy="1161.35" rx="4.73" ry="7.01" transform="rotate(-12.55 261.05 1161.35)" fill="rgb(0,4,0)" class="p"/><ellipse cx="118.29" cy="1374.79" rx="4.04" ry="8.27" transform="rotate(44.64 118.29 1374.79)" fill="rgb(0,4,0)" class="p"/><ellipse cx="176.75" cy="1260.57" rx="3.07" ry="9.62" transform="rotate(10.36 176.75 1260.57)" fill="rgb(0,4,0)" class="p"/><ellipse cx="183.25" cy="1006.25" rx="4.9" ry="15.22" transform="rotate(-42.78 183.25 1006.25)" fill="rgb(0,4,0)" class="p"/><ellipse cx="113.81" cy="1002.62" rx="3.54" ry="9.87" transform="rotate(-49.34 113.81 1002.62)" fill="rgb(0,4,0)" class="p"/><ellipse cx="98.22" cy="1001.21" rx="3.22" ry="11.29" transform="rotate(-52.3 98.22 1001.21)" fill="rgb(0,4,0)" class="p"/><ellipse cx="142.29" cy="1231.75" rx="4.45" ry="14.44" transform="rotate(0.48 142.29 1231.75)" fill="rgb(0,4,0)" class="p"/><ellipse cx="139.29" cy="1415.16" rx="3.18" ry="15.42" transform="rotate(46.66 139.29 1415.16)" fill="rgb(0,4,0)" class="p"/><ellipse cx="75.65" cy="1306.68" rx="4.97" ry="9.64" transform="rotate(25.28 75.65 1306.68)" fill="rgb(0,4,0)" class="p"/><ellipse cx="121.32" cy="1161.6" rx="4.11" ry="12.43" transform="rotate(-14.78 121.32 1161.6)" fill="rgb(0,4,0)" class="p"/><ellipse cx="65.6" cy="1096.65" rx="3.83" ry="10.03" transform="rotate(-46.93 65.6 1096.65)" fill="rgb(0,4,0)" class="p"/><ellipse cx="103.04" cy="1294.26" rx="3.66" ry="10.25" transform="rotate(28.47 103.04 1294.26)" fill="rgb(0,4,0)" class="p"/><ellipse cx="67.26" cy="1405.26" rx="3.64" ry="15.25" transform="rotate(49.31 67.26 1405.26)" fill="rgb(0,4,0)" class="p"/><ellipse cx="168.09" cy="1042.28" rx="2.54" ry="14.01" transform="rotate(-34.14 168.09 1042.28)" fill="rgb(0,4,0)" class="p"/><ellipse cx="155.66" cy="1118.91" rx="3.7" ry="15.21" transform="rotate(-18.07 155.66 1118.91)" fill="rgb(0,4,0)" class="p"/><ellipse cx="108.74" cy="1256.47" rx="4.63" ry="8.77" transform="rotate(12.63 108.74 1256.47)" fill="rgb(0,4,0)" class="p"/><ellipse cx="106.2" cy="1392.63" rx="4.24" ry="10.9" transform="rotate(57.66 106.2 1392.63)" fill="rgb(0,4,0)" class="p"/><ellipse cx="204.45" cy="1298.72" rx="4.78" ry="8.28" transform="rotate(27.15 204.45 1298.72)" fill="rgb(0,4,0)" class="p"/><ellipse cx="161.42" cy="1208.64" rx="2.88" ry="12.27" transform="rotate(-4.83 161.42 1208.64)" fill="rgb(0,4,0)" class="p"/><ellipse cx="77.3" cy="1074.73" rx="3.08" ry="14.38" transform="rotate(-56.51 77.3 1074.73)" fill="rgb(0,4,0)" class="p"/><ellipse cx="93.82" cy="1409.9" rx="4.95" ry="15.99" transform="rotate(58.94 93.82 1409.9)" fill="rgb(0,4,0)" class="p"/><ellipse cx="175.06" cy="1121.86" rx="4.61" ry="8.97" transform="rotate(-33.29 175.06 1121.86)" fill="rgb(0,4,0)" class="p"/><ellipse cx="181.06" cy="1117.09" rx="3.23" ry="15.26" transform="rotate(-31.25 181.06 1117.09)" fill="rgb(0,4,0)" class="p"/><ellipse cx="216.36" cy="1356.96" rx="3.53" ry="8.45" transform="rotate(31.33 216.36 1356.96)" fill="rgb(0,4,0)" class="p"/><ellipse cx="80.71" cy="1374.66" rx="2.68" ry="7.52" transform="rotate(45.76 80.71 1374.66)" fill="rgb(0,4,0)" class="p"/><ellipse cx="80.17" cy="1175.57" rx="4.7" ry="8.21" transform="rotate(-5.4 80.17 1175.57)" fill="rgb(0,4,0)" class="p"/><ellipse cx="125.56" cy="1164.93" rx="4.85" ry="10.37" transform="rotate(-13.07 125.56 1164.93)" fill="rgb(0,4,0)" class="p"/><ellipse cx="92.18" cy="1397.02" rx="2.88" ry="12.68" transform="rotate(56.64 92.18 1397.02)" fill="rgb(0,4,0)" class="p"/><ellipse cx="235" cy="1184.25" rx="3.16" ry="11.97" transform="rotate(-0.84 235 1184.25)" fill="rgb(0,4,0)" class="p"/><ellipse cx="70.28" cy="1312.43" rx="3.79" ry="8.2" transform="rotate(45.82 70.28 1312.43)" fill="rgb(0,4,0)" class="p"/><ellipse cx="71.33" cy="1106.73" rx="4.28" ry="12.9" transform="rotate(-46.66 71.33 1106.73)" fill="rgb(0,4,0)" class="p"/><ellipse cx="138.68" cy="1384.45" rx="2.73" ry="8.12" transform="rotate(46.24 138.68 1384.45)" fill="rgb(0,4,0)" class="p"/><ellipse cx="111.78" cy="1046.98" rx="3.31" ry="14.17" transform="rotate(-43.19 111.78 1046.98)" fill="rgb(0,4,0)" class="p"/><ellipse cx="96.02" cy="1408.23" rx="2.63" ry="8.36" transform="rotate(58.39 96.02 1408.23)" fill="rgb(0,4,0)" class="p"/><ellipse cx="176.47" cy="1325.69" rx="4.93" ry="12.99" transform="rotate(14.65 176.47 1325.69)" fill="rgb(0,4,0)" class="p"/><ellipse cx="98.96" cy="1070.99" rx="4.06" ry="10.19" transform="rotate(-51.01 98.96 1070.99)" fill="rgb(0,4,0)" class="p"/><ellipse cx="70.59" cy="1159.16" rx="3.46" ry="8.23" transform="rotate(-24.57 70.59 1159.16)" fill="rgb(0,4,0)" class="p"/><ellipse cx="133.83" cy="1066.51" rx="4.51" ry="10.9" transform="rotate(-31.17 133.83 1066.51)" fill="rgb(0,4,0)" class="p"/><ellipse cx="120.03" cy="1168.17" rx="4.35" ry="10.56" transform="rotate(-9.97 120.03 1168.17)" fill="rgb(0,4,0)" class="p"/><ellipse cx="139.53" cy="1379.44" rx="3.01" ry="7.36" transform="rotate(26.26 139.53 1379.44)" fill="rgb(0,4,0)" class="p"/><ellipse cx="132.48" cy="1096.67" rx="3.68" ry="15.01" transform="rotate(-44.54 132.48 1096.67)" fill="rgb(0,4,0)" class="p"/><ellipse cx="121.19" cy="1156.72" rx="3.66" ry="7.9" transform="rotate(-17.59 121.19 1156.72)" fill="rgb(0,4,0)" class="p"/><ellipse cx="89.85" cy="1261.09" rx="4.7" ry="8.37" transform="rotate(15.88 89.85 1261.09)" fill="rgb(0,4,0)" class="p"/><ellipse cx="101.87" cy="1312.49" rx="2.9" ry="9.58" transform="rotate(25.8 101.87 1312.49)" fill="rgb(0,4,0)" class="p"/><ellipse cx="72.32" cy="1407.11" rx="3.42" ry="15.44" transform="rotate(68.7 72.32 1407.11)" fill="rgb(0,4,0)" class="p"/><ellipse cx="152.97" cy="1127.63" rx="3.68" ry="15.51" transform="rotate(-15.07 152.97 1127.63)" fill="rgb(0,4,0)" class="p"/><ellipse cx="149.43" cy="1296.7" rx="4.32" ry="8.47" transform="rotate(27.93 149.43 1296.7)" fill="rgb(0,4,0)" class="p"/><ellipse cx="142.14" cy="1335.1" rx="3.08" ry="7.7" transform="rotate(17.56 142.14 1335.1)" fill="rgb(0,4,0)" class="p"/><ellipse cx="234.73" cy="1265.52" rx="3.67" ry="9.55" transform="rotate(5.3 234.73 1265.52)" fill="rgb(0,4,0)" class="p"/><ellipse cx="186.3" cy="1108.61" rx="2.91" ry="9.16" transform="rotate(-15.06 186.3 1108.61)" fill="rgb(0,4,0)" class="p"/><ellipse cx="150.91" cy="1145.47" rx="4.94" ry="7.06" transform="rotate(-18.26 150.91 1145.47)" fill="rgb(0,4,0)" class="p"/><ellipse cx="227.37" cy="1394.84" rx="3.53" ry="7.4" transform="rotate(41.05 227.37 1394.84)" fill="rgb(0,4,0)" class="p"/><ellipse cx="134.52" cy="1271.59" rx="2.68" ry="15.09" transform="rotate(5.73 134.52 1271.59)" fill="rgb(0,4,0)" class="p"/><ellipse cx="246.24" cy="1397.87" rx="2.63" ry="10.58" transform="rotate(23.76 246.24 1397.87)" fill="rgb(0,4,0)" class="p"/><ellipse cx="74.13" cy="1395.15" rx="3.52" ry="9.75" transform="rotate(46.59 74.13 1395.15)" fill="rgb(0,4,0)" class="p"/><ellipse cx="84.46" cy="1006.61" rx="3.77" ry="10.62" transform="rotate(-63.44 84.46 1006.61)" fill="rgb(0,4,0)" class="p"/><ellipse cx="70.84" cy="1194.3" rx="3.28" ry="7.97" transform="rotate(-18.19 70.84 1194.3)" fill="rgb(0,4,0)" class="p"/><ellipse cx="233.59" cy="1165.75" rx="3.04" ry="7.16" transform="rotate(2.7 233.59 1165.75)" fill="rgb(0,4,0)" class="p"/><ellipse cx="109.75" cy="1190.76" rx="3.93" ry="10.39" transform="rotate(-5.99 109.75 1190.76)" fill="rgb(0,4,0)" class="p"/><ellipse cx="152.54" cy="1031.6" rx="3.62" ry="14.44" transform="rotate(-44.95 152.54 1031.6)" fill="rgb(0,4,0)" class="p"/><ellipse cx="152.65" cy="1325.31" rx="3.28" ry="7.79" transform="rotate(17.03 152.65 1325.31)" fill="rgb(0,4,0)" class="p"/><ellipse cx="84.22" cy="1287.42" rx="2.7" ry="9.2" transform="rotate(17.41 84.22 1287.42)" fill="rgb(0,4,0)" class="p"/><ellipse cx="206.71" cy="1384.84" rx="3.94" ry="9.21" transform="rotate(31.05 206.71 1384.84)" fill="rgb(0,4,0)" class="p"/><ellipse cx="176.08" cy="1400.31" rx="3.22" ry="10.36" transform="rotate(29.77 176.08 1400.31)" fill="rgb(0,4,0)" class="p"/><ellipse cx="109.55" cy="1378.79" rx="3.28" ry="13.77" transform="rotate(42.4 109.55 1378.79)" fill="rgb(0,4,0)" class="p"/><ellipse cx="219.59" cy="1141.96" rx="3.94" ry="10.98" transform="rotate(-5.23 219.59 1141.96)" fill="rgb(0,4,0)" class="p"/><ellipse cx="121.21" cy="1072.61" rx="4.89" ry="13.55" transform="rotate(-31.57 121.21 1072.61)" fill="rgb(0,4,0)" class="p"/><ellipse cx="82.57" cy="1074.62" rx="2.83" ry="7.59" transform="rotate(-46.04 82.57 1074.62)" fill="rgb(0,4,0)" class="p"/><ellipse cx="122.62" cy="1348.59" rx="4.19" ry="9.57" transform="rotate(30.07 122.62 1348.59)" fill="rgb(0,4,0)" class="p"/><ellipse cx="185.94" cy="1183.26" rx="2.63" ry="8.17" transform="rotate(-19.75 185.94 1183.26)" fill="rgb(0,4,0)" class="p"/><ellipse cx="115.43" cy="1268.54" rx="4.87" ry="12.51" transform="rotate(29.64 115.43 1268.54)" fill="rgb(0,4,0)" class="p"/><ellipse cx="73.77" cy="1266.3" rx="2.53" ry="12.26" transform="rotate(18.21 73.77 1266.3)" fill="rgb(0,4,0)" class="p"/><ellipse cx="145.88" cy="1068.29" rx="2.74" ry="11.77" transform="rotate(-26.86 145.88 1068.29)" fill="rgb(0,4,0)" class="p"/><ellipse cx="122.2" cy="1230.58" rx="4.49" ry="8.06" transform="rotate(20.21 122.2 1230.58)" fill="rgb(0,4,0)" class="p"/><ellipse cx="171.77" cy="1285.63" rx="3.65" ry="10.91" transform="rotate(30.77 171.77 1285.63)" fill="rgb(0,4,0)" class="p"/><ellipse cx="188.15" cy="1021.67" rx="4.92" ry="12.36" transform="rotate(-35.44 188.15 1021.67)" fill="rgb(0,4,0)" class="p"/><ellipse cx="111.87" cy="1376.64" rx="3.55" ry="7.47" transform="rotate(53.46 111.87 1376.64)" fill="rgb(0,4,0)" class="p"/><ellipse cx="83.95" cy="1174.83" rx="4.7" ry="10.53" transform="rotate(-13.17 83.95 1174.83)" fill="rgb(0,4,0)" class="p"/><ellipse cx="66.77" cy="1328.87" rx="3" ry="12.06" transform="rotate(36.51 66.77 1328.87)" fill="rgb(0,4,0)" class="p"/><ellipse cx="144.9" cy="1317.82" rx="3.12" ry="15.84" transform="rotate(23.43 144.9 1317.82)" fill="rgb(0,4,0)" class="p"/><ellipse cx="165.65" cy="1062.63" rx="4.05" ry="10.61" transform="rotate(-21.82 165.65 1062.63)" fill="rgb(0,4,0)" class="p"/><ellipse cx="155.55" cy="1211.86" rx="2.92" ry="7.89" transform="rotate(-12.77 155.55 1211.86)" fill="rgb(0,4,0)" class="p"/><ellipse cx="179.09" cy="1114.85" rx="3" ry="14.17" transform="rotate(-8.9 179.09 1114.85)" fill="rgb(0,4,0)" class="p"/><ellipse cx="116.98" cy="1052.86" rx="4.5" ry="10.39" transform="rotate(-37 116.98 1052.86)" fill="rgb(0,4,0)" class="p"/><ellipse cx="169.51" cy="1416.49" rx="3.97" ry="8.66" transform="rotate(42.19 169.51 1416.49)" fill="rgb(0,4,0)" class="p"/><ellipse cx="116.19" cy="1409.26" rx="3.46" ry="11.28" transform="rotate(42.73 116.19 1409.26)" fill="rgb(0,4,0)" class="p"/><ellipse cx="107.68" cy="1120.97" rx="4.96" ry="14.34" transform="rotate(-29.97 107.68 1120.97)" fill="rgb(0,4,0)" class="p"/><ellipse cx="170.26" cy="1135.11" rx="4.5" ry="10.27" transform="rotate(-16.12 170.26 1135.11)" fill="rgb(0,4,0)" class="p"/><ellipse cx="119.08" cy="1167.77" rx="3.81" ry="9.56" transform="rotate(-6.97 119.08 1167.77)" fill="rgb(0,4,0)" class="p"/><ellipse cx="93.4" cy="1269.09" rx="4.4" ry="13.43" transform="rotate(23.9 93.4 1269.09)" fill="rgb(0,4,0)" class="p"/><ellipse cx="79.62" cy="1290.01" rx="3.19" ry="13.44" transform="rotate(42.97 79.62 1290.01)" fill="rgb(0,4,0)" class="p"/><ellipse cx="181.23" cy="1135.21" rx="4.74" ry="13.19" transform="rotate(-2.76 181.23 1135.21)" fill="rgb(0,4,0)" class="p"/><ellipse cx="121" cy="1063.46" rx="4.03" ry="8.88" transform="rotate(-30.92 121 1063.46)" fill="rgb(0,4,0)" class="p"/><ellipse cx="228.88" cy="1318.87" rx="3.86" ry="10.54" transform="rotate(35 228.88 1318.87)" fill="rgb(0,4,0)" class="p"/><ellipse cx="81.35" cy="1419.53" rx="2.95" ry="12.88" transform="rotate(52.52 81.35 1419.53)" fill="rgb(0,4,0)" class="p"/><ellipse cx="202.07" cy="1159.25" rx="2.77" ry="13.2" transform="rotate(-13.7 202.07 1159.25)" fill="rgb(0,4,0)" class="p"/><ellipse cx="164.93" cy="1184.88" rx="3.44" ry="14.98" transform="rotate(0.77 164.93 1184.88)" fill="rgb(0,4,0)" class="p"/><ellipse cx="79.45" cy="1306.69" rx="4.74" ry="8.51" transform="rotate(38.57 79.45 1306.69)" fill="rgb(0,4,0)" class="p"/><ellipse cx="128.71" cy="1151.04" rx="3.06" ry="7.56" transform="rotate(-8.44 128.71 1151.04)" fill="rgb(0,4,0)" class="p"/><ellipse cx="198.32" cy="1046.27" rx="3.54" ry="10.83" transform="rotate(-24.75 198.32 1046.27)" fill="rgb(0,4,0)" class="p"/><ellipse cx="123.02" cy="1195.39" rx="3.26" ry="9.53" transform="rotate(8.37 123.02 1195.39)" fill="rgb(0,4,0)" class="p"/>
<path d="M48.79 1287.16A134.65 134.65 0 0 0 56.48 1274.98" fill="none" stroke="rgb(47,0,0)" stroke-width="2.23" stroke-dasharray="3.89 4.17 8.71 6.5 6.34 3.59" stroke-dashoffset="18.51" class="p"/><path d="M51.64 1289.23A138.16 138.16 0 0 0 59.53 1276.73" fill="none" stroke="rgb(25,0,0)" stroke-width="2.43" stroke-dasharray="8.46 2.11 4.36 3.14 7.81 3.61" stroke-dashoffset="2.1" class="p"/><path d="M45.55 1284.81A130.67 130.67 0 0 0 53.02 1272.98" fill="none" stroke="rgb(35,0,0)" stroke-width="2.45" stroke-dasharray="3.86 4.55 4.75 2.99 6.71 4.18" stroke-dashoffset="10.59" class="p"/><path d="M56.73 1275.12A134.94 134.94 0 0 0 62.71 1263.11" fill="none" stroke="rgb(36,0,0)" stroke-width="2.28" stroke-dasharray="7.42 5.19 6.71 6.26 7.28 6.28" stroke-dashoffset="16.21" class="p"/><path d="M58.76 1276.29A137.27 137.27 0 0 0 64.84 1264.06" fill="none" stroke="rgb(55,0,0)" stroke-width="2.16" stroke-dasharray="5.21 3.57 9.46 3.09 9.99 6.44" stroke-dashoffset="14.53" class="p"/><path d="M52.21 1272.52A129.75 129.75 0 0 0 57.96 1260.97" fill="none" stroke="rgb(23,0,0)" stroke-width="2.82" stroke-dasharray="3.68 6.16 5.95 5.95 3.88 4.01" stroke-dashoffset="4.02" class="p"/><path d="M61.27 1262.46A133.37 133.37 0 0 0 67.44 1245.35" fill="none" stroke="rgb(72,0,0)" stroke-width="2.23" stroke-dasharray="9.78 2.58 6.54 5.79 6.52 5.43" stroke-dashoffset="2.12" class="p"/><path d="M66.44 1264.79A139.03 139.03 0 0 0 72.87 1246.95" fill="none" stroke="rgb(24,0,0)" stroke-width="3.01" stroke-dasharray="6.86 4.57 6.98 2.73 4.29 3.02" stroke-dashoffset="18.54" class="p"/><path d="M58.84 1261.37A130.71 130.71 0 0 0 64.88 1244.59" fill="none" stroke="rgb(19,0,0)" stroke-width="2.62" stroke-dasharray="3.43 6.76 6.23 5.82 5.29 4.33" stroke-dashoffset="12.02" class="p"/><path d="M68.43 1245.64A134.41 134.41 0 0 0 71.23 1233.97" fill="none" stroke="rgb(64,0,0)" stroke-width="2.2" stroke-dasharray="8.91 2.91 6.18 5.7 5.84 2.98" stroke-dashoffset="0.31" class="p"/><path d="M72.85 1246.94A139.01 139.01 0 0 0 75.75 1234.87" fill="none" stroke="rgb(59,0,0)" stroke-width="2.61" stroke-dasharray="8.61 5.52 9.03 5.15 5.83 5" stroke-dashoffset="16.1" class="p"/><path d="M65.48 1244.77A131.33 131.33 0 0 0 68.21 1233.37" fill="none" stroke="rgb(25,0,0)" stroke-width="3.06" stroke-dasharray="9.38 5.72 8.45 6.07 5.84 6.48" stroke-dashoffset="15.35" class="p"/><path d="M71.49 1234.02A134.67 134.67 0 0 0 73.83 1214.99" fill="none" stroke="rgb(50,0,0)" stroke-width="2.77" stroke-dasharray="8.06 2.35 5.39 4.34 3.07 3.78" stroke-dashoffset="4.64" class="p"/><path d="M74.97 1234.72A138.22 138.22 0 0 0 77.38 1215.18" fill="none" stroke="rgb(62,0,0)" stroke-width="3.2" stroke-dasharray="7.66 3.69 7.62 4.85 6.73 3.95" stroke-dashoffset="14.03" class="p"/><path d="M67.07 1233.14A130.16 130.16 0 0 0 69.33 1214.74" fill="none" stroke="rgb(41,0,0)" stroke-width="2.06" stroke-dasharray="9.86 2.11 7.31 5.69 4.8 4.01" stroke-dashoffset="7.51" class="p"/><path d="M74.27 1215.01A135.1 135.1 0 0 0 74.35 1202.13" fill="none" stroke="rgb(42,0,0)" stroke-width="2.77" stroke-dasharray="9.34 4.75 6.55 6.84 6.98 6.98" stroke-dashoffset="1.52" class="p"/><path d="M77.3 1215.18A138.14 138.14 0 0 0 77.39 1202" fill="none" stroke="rgb(48,0,0)" stroke-width="2.59" stroke-dasharray="8.31 2.23 9.51 2.8 6.3 2.85" stroke-dashoffset="1.17" class="p"/><path d="M69.54 1214.75A130.37 130.37 0 0 0 69.62 1202.32" fill="none" stroke="rgb(47,0,0)" stroke-width="2.67" stroke-dasharray="5.94 4.63 7.18 3.83 5 5.28" stroke-dashoffset="14.33" class="p"/><path d="M72.58 1202.2A133.33 133.33 0 0 0 71.22 1187.69" fill="none" stroke="rgb(30,0,0)" stroke-width="2.9" stroke-dasharray="4.72 2.21 4.1 5.77 5.73 6.49" stroke-dashoffset="19.78" class="p"/><path d="M78.15 1201.97A138.9 138.9 0 0 0 76.74 1186.85" fill="none" stroke="rgb(62,0,0)" stroke-width="2.63" stroke-dasharray="3.51 6.53 6.01 4.39 9.81 3.22" stroke-dashoffset="14.45" class="p"/><path d="M69.08 1202.34A129.83 129.83 0 0 0 67.76 1188.21" fill="none" stroke="rgb(32,0,0)" stroke-width="2.24" stroke-dasharray="9.85 6.08 7.23 2.58 7.37 4.28" stroke-dashoffset="10.56" class="p"/><path d="M73.41 1187.36A135.54 135.54 0 0 0 70.88 1174.44" fill="none" stroke="rgb(51,0,0)" stroke-width="2.64" stroke-dasharray="7.68 4.28 4.83 4.91 5.94 5.89" stroke-dashoffset="19.05" class="p"/><path d="M76.16 1186.94A138.32 138.32 0 0 0 73.57 1173.76" fill="none" stroke="rgb(53,0,0)" stroke-width="2.33" stroke-dasharray="4.67 2.57 9.25 5.92 7.37 3.8" stroke-dashoffset="11.3" class="p"/><path d="M67.73 1188.22A129.8 129.8 0 0 0 65.3 1175.85" fill="none" stroke="rgb(35,0,0)" stroke-width="3.05" stroke-dasharray="7.43 5.77 4.33 3.24 9.86 6.58" stroke-dashoffset="1.22" class="p"/><path d="M70.05 1174.65A134.68 134.68 0 0 0 65.86 1160.8" fill="none" stroke="rgb(49,0,0)" stroke-width="2.66" stroke-dasharray="7.36 2.51 6.79 2.36 3.61 5.38" stroke-dashoffset="7.46" class="p"/><path d="M73.43 1173.79A138.17 138.17 0 0 0 69.14 1159.58" fill="none" stroke="rgb(41,0,0)" stroke-width="2.97" stroke-dasharray="4.47 3.72 8.21 6.19 3.52 2.6" stroke-dashoffset="15.38" class="p"/><path d="M66.46 1175.55A130.99 130.99 0 0 0 62.39 1162.08" fill="none" stroke="rgb(23,0,0)" stroke-width="2.39" stroke-dasharray="5.97 3.29 8.67 3.84 7.58 6.95" stroke-dashoffset="14.92" class="p"/><path d="M65.98 1160.75A134.81 134.81 0 0 0 57.54 1141.92" fill="none" stroke="rgb(47,0,0)" stroke-width="2.58" stroke-dasharray="5.58 2.49 9.13 2.39 3.58 4.82" stroke-dashoffset="5.98" class="p"/><path d="M68.39 1159.86A137.38 137.38 0 0 0 59.79 1140.67" fill="none" stroke="rgb(51,0,0)" stroke-width="2.83" stroke-dasharray="3.53 3.07 7.63 2.41 5.13 5.62" stroke-dashoffset="2.86" class="p"/><path d="M63.19 1161.79A131.84 131.84 0 0 0 54.93 1143.37" fill="none" stroke="rgb(26,0,0)" stroke-width="3.13" stroke-dasharray="8.08 3.83 3.82 5.55 6.98 6.59" stroke-dashoffset="8.76" class="p"/><path d="M58.44 1306.03A153.64 153.64 0 0 0 69.62 1290.22" fill="none" stroke="rgb(59,0,0)" stroke-width="2.62" stroke-dasharray="6.94 2.88 8.31 6.4 4.97 2.11" stroke-dashoffset="11.35" class="p"/><path d="M61.51 1308.57A157.6 157.6 0 0 0 72.97 1292.35" fill="none" stroke="rgb(51,0,0)" stroke-width="2.1" stroke-dasharray="7.56 6.02 3.45 4.73 8.52 2.42" stroke-dashoffset="17.98" class="p"/><path d="M55.68 1303.75A150.08 150.08 0 0 0 66.6 1288.31" fill="none" stroke="rgb(16,0,0)" stroke-width="2.92" stroke-dasharray="7.44 2.72 8.22 5.25 4.72 3.1" stroke-dashoffset="15.29" class="p"/><path d="M69.35 1290.05A153.33 153.33 0 0 0 77.81 1274.42" fill="none" stroke="rgb(40,0,0)" stroke-width="3.1" stroke-dasharray="9.78 5.36 6.46 4.69 8.05 5.54" stroke-dashoffset="16.52" class="p"/><path d="M72.92 1292.31A157.53 157.53 0 0 0 81.61 1276.25" fill="none" stroke="rgb(44,0,0)" stroke-width="2.63" stroke-dasharray="8.97 6.03 8.84 6.44 9.7 5.2" stroke-dashoffset="16.05" class="p"/><path d="M66.41 1288.19A149.86 149.86 0 0 0 74.67 1272.91" fill="none" stroke="rgb(27,0,0)" stroke-width="2.25" stroke-dasharray="5.94 2.73 8.19 6.96 5.63 2.84" stroke-dashoffset="5.84" class="p"/><path d="M78.18 1274.6A153.73 153.73 0 0 0 86.71 1252.08" fill="none" stroke="rgb(30,0,0)" stroke-width="2.55" stroke-dasharray="5.16 2.57 7.54 5.88 4.26 2.31" stroke-dashoffset="18.19" class="p"/><path d="M80.5 1275.72A156.31 156.31 0 0 0 89.18 1252.83" fill="none" stroke="rgb(23,0,0)" stroke-width="2.27" stroke-dasharray="3.76 2.92 4.52 3.18 8.02 4.97" stroke-dashoffset="5.62" class="p"/><path d="M75.71 1273.41A151 151 0 0 0 84.09 1251.29" fill="none" stroke="rgb(21,0,0)" stroke-width="3.06" stroke-dasharray="8.3 3.56 6.84 6.09 6.36 3.3" stroke-dashoffset="6.84" class="p"/><path d="M86.56 1252.04A153.58 153.58 0 0 0 90.88 1233.02" fill="none" stroke="rgb(76,0,0)" stroke-width="2.63" stroke-dasharray="6.38 3.11 3.35 6.74 8.61 3.92" stroke-dashoffset="5.49" class="p"/><path d="M90.12 1253.11A157.29 157.29 0 0 0 94.55 1233.63" fill="none" stroke="rgb(62,0,0)" stroke-width="2.86" stroke-dasharray="7.6 3.19 3.08 4.36 5.6 5.98" stroke-dashoffset="3.15" class="p"/><path d="M83.24 1251.04A150.11 150.11 0 0 0 87.47 1232.45" fill="none" stroke="rgb(22,0,0)" stroke-width="2.32" stroke-dasharray="5.25 3.3 9.08 4.58 7.46 6.97" stroke-dashoffset="3.01" class="p"/><path d="M90.8 1233.01A153.49 153.49 0 0 0 92.81 1211.18" fill="none" stroke="rgb(29,0,0)" stroke-width="2.12" stroke-dasharray="8.75 6.23 8.75 2.41 4.89 5.58" stroke-dashoffset="9.37" class="p"/><path d="M95.06 1233.72A157.81 157.81 0 0 0 97.13 1211.28" fill="none" stroke="rgb(62,0,0)" stroke-width="2.11" stroke-dasharray="7.11 6.29 5.13 5.95 5.92 6.58" stroke-dashoffset="4.17" class="p"/><path d="M87.31 1232.42A149.96 149.96 0 0 0 89.28 1211.1" fill="none" stroke="rgb(34,0,0)" stroke-width="2.37" stroke-dasharray="6.68 2.79 8.82 3.56 5.18 2.38" stroke-dashoffset="14.3" class="p"/><path d="M92.57 1211.18A153.25 153.25 0 0 0 92 1193.74" fill="none" stroke="rgb(65,0,0)" stroke-width="2.01" stroke-dasharray="3.74 3.97 6.23 6.83 8.81 5.27" stroke-dashoffset="14.2" class="p"/><path d="M95.87 1211.25A156.55 156.55 0 0 0 95.28 1193.44" fill="none" stroke="rgb(33,0,0)" stroke-width="2.74" stroke-dasharray="6.95 4.29 3.07 6.96 8.6 3.03" stroke-dashoffset="7.52" class="p"/><path d="M88.96 1211.09A149.63 149.63 0 0 0 88.39 1194.07" fill="none" stroke="rgb(34,0,0)" stroke-width="2.88" stroke-dasharray="5.09 3.69 5.75 5.33 4.8 3" stroke-dashoffset="18.9" class="p"/><path d="M91.54 1193.78A152.79 152.79 0 0 0 88.59 1174.43" fill="none" stroke="rgb(66,0,0)" stroke-width="2.85" stroke-dasharray="5.32 6.13 3.65 2.7 3.66 5.39" stroke-dashoffset="8.05" class="p"/><path d="M96.75 1193.31A158.03 158.03 0 0 0 93.71 1173.29" fill="none" stroke="rgb(57,0,0)" stroke-width="2.09" stroke-dasharray="7.15 2.45 4.59 2.79 3.87 4.03" stroke-dashoffset="8.54" class="p"/><path d="M88.56 1194.06A149.8 149.8 0 0 0 85.67 1175.08" fill="none" stroke="rgb(33,0,0)" stroke-width="2.02" stroke-dasharray="7.53 5.83 8.75 3.93 5.32 4.06" stroke-dashoffset="14" class="p"/><path d="M89.04 1174.33A153.25 153.25 0 0 0 82.13 1151.19" fill="none" stroke="rgb(66,0,0)" stroke-width="2.13" stroke-dasharray="7.62 5.04 3.13 3.66 5.4 5.25" stroke-dashoffset="10.19" class="p"/><path d="M92.75 1173.51A157.04 157.04 0 0 0 85.66 1149.8" fill="none" stroke="rgb(53,0,0)" stroke-width="2.42" stroke-dasharray="8.78 5.06 4.11 5.83 9.32 4.74" stroke-dashoffset="2.84" class="p"/><path d="M85.21 1175.18A149.33 149.33 0 0 0 78.47 1152.64" fill="none" stroke="rgb(38,0,0)" stroke-width="2.75" stroke-dasharray="9.91 4.58 8.01 6.18 4.38 6.72" stroke-dashoffset="1.66" class="p"/><path d="M81.6 1151.4A152.69 152.69 0 0 0 75.05 1136.7" fill="none" stroke="rgb(53,0,0)" stroke-width="3.17" stroke-dasharray="7.88 3.65 9.5 3.81 6.24 2.62" stroke-dashoffset="18.08" class="p"/><path d="M84.84 1150.12A156.16 156.16 0 0 0 78.13 1135.08" fill="none" stroke="rgb(41,0,0)" stroke-width="2.72" stroke-dasharray="6.93 4.8 4.85 6.55 9.94 6.09" stroke-dashoffset="16.49" class="p"/><path d="M78.11 1152.78A148.94 148.94 0 0 0 71.72 1138.44" fill="none" stroke="rgb(24,0,0)" stroke-width="2.09" stroke-dasharray="9.28 3.2 7.02 6.15 4.3 4.74" stroke-dashoffset="3.6" class="p"/><path d="M74.8 1136.83A152.41 152.41 0 0 0 62.28 1116.34" fill="none" stroke="rgb(65,0,0)" stroke-width="2.96" stroke-dasharray="7.61 3.54 7.7 5.69 5.67 4.96" stroke-dashoffset="3.99" class="p"/><path d="M78.57 1134.85A156.65 156.65 0 0 0 65.7 1113.8" fill="none" stroke="rgb(36,0,0)" stroke-width="2.68" stroke-dasharray="4 3.93 6.99 2.87 6.64 3.32" stroke-dashoffset="12.83" class="p"/><path d="M73.08 1137.72A150.48 150.48 0 0 0 60.72 1117.5" fill="none" stroke="rgb(16,0,0)" stroke-width="2.75" stroke-dasharray="7.7 2.72 9.72 5 6.29 4.06" stroke-dashoffset="15.16" class="p"/><path d="M63.24 1115.63A153.6 153.6 0 0 0 49.38 1099.04" fill="none" stroke="rgb(42,0,0)" stroke-width="3.09" stroke-dasharray="9.96 6.19 8.99 4.05 6.04 4.83" stroke-dashoffset="10.5" class="p"/><path d="M66.49 1113.21A157.63 157.63 0 0 0 52.27 1096.19" fill="none" stroke="rgb(32,0,0)" stroke-width="2.72" stroke-dasharray="9.33 3.6 3.38 5.63 9.3 5.66" stroke-dashoffset="6.1" class="p"/><path d="M60.41 1117.73A150.09 150.09 0 0 0 46.87 1101.52" fill="none" stroke="rgb(28,0,0)" stroke-width="2.83" stroke-dasharray="3.49 2.62 6.13 4.51 5.78 2.26" stroke-dashoffset="4.78" class="p"/><path d="M48.72 1343.23A172.8 172.8 0 0 0 66.24 1326.52" fill="none" stroke="rgb(37,0,0)" stroke-width="2" stroke-dasharray="9.32 2.49 8.55 2.62 6.76 6.75" stroke-dashoffset="5.99" class="p"/><path d="M50.62 1345.59A175.81 175.81 0 0 0 68.45 1328.59" fill="none" stroke="rgb(24,0,0)" stroke-width="2.06" stroke-dasharray="3.44 6.48 8.71 3.99 5.5 4.93" stroke-dashoffset="17.97" class="p"/><path d="M47.46 1341.68A170.82 170.82 0 0 0 64.79 1325.16" fill="none" stroke="rgb(17,0,0)" stroke-width="3.11" stroke-dasharray="6.49 6.67 9.84 4.36 4.45 3.48" stroke-dashoffset="3.91" class="p"/><path d="M67.34 1327.55A174.29 174.29 0 0 0 83.16 1307.44" fill="none" stroke="rgb(34,0,0)" stroke-width="2.23" stroke-dasharray="6.31 2.86 9.16 6.98 4.41 5.16" stroke-dashoffset="1" class="p"/><path d="M70.01 1330.05A177.93 177.93 0 0 0 86.17 1309.52" fill="none" stroke="rgb(20,0,0)" stroke-width="2.84" stroke-dasharray="8.08 3.56 9.3 6.35 7.99 2.67" stroke-dashoffset="8.9" class="p"/><path d="M64.61 1324.99A170.57 170.57 0 0 0 80.1 1305.31" fill="none" stroke="rgb(14,0,0)" stroke-width="2.8" stroke-dasharray="4.56 3.54 7.97 2.98 4.27 3.18" stroke-dashoffset="7.45" class="p"/><path d="M81.64 1306.38A172.44 172.44 0 0 0 93.34 1286.31" fill="none" stroke="rgb(59,0,0)" stroke-width="2.77" stroke-dasharray="7.13 3.14 5.11 6.63 7.67 3.38" stroke-dashoffset="19.66" class="p"/><path d="M84.53 1308.38A175.94 175.94 0 0 0 96.47 1287.91" fill="none" stroke="rgb(33,0,0)" stroke-width="2.96" stroke-dasharray="6.7 4.65 3.32 5 4.99 3.25" stroke-dashoffset="5.7" class="p"/><path d="M79.47 1304.87A169.81 169.81 0 0 0 90.99 1285.11" fill="none" stroke="rgb(32,0,0)" stroke-width="2.04" stroke-dasharray="4.72 3.4 6.84 2.93 9.28 6.94" stroke-dashoffset="15.01" class="p"/><path d="M94.23 1286.77A173.44 173.44 0 0 0 102.12 1268.38" fill="none" stroke="rgb(66,0,0)" stroke-width="2.94" stroke-dasharray="6.5 2.9 6.89 5.22 5.52 5.29" stroke-dashoffset="10.11" class="p"/><path d="M96.78 1288.07A176.29 176.29 0 0 0 104.79 1269.38" fill="none" stroke="rgb(50,0,0)" stroke-width="2.73" stroke-dasharray="7.79 4.6 9.66 2.87 8.46 2.83" stroke-dashoffset="8.81" class="p"/><path d="M90.1 1284.66A168.81 168.81 0 0 0 97.77 1266.76" fill="none" stroke="rgb(36,0,0)" stroke-width="2.6" stroke-dasharray="8.51 5.96 4.65 4.45 4.55 4.9" stroke-dashoffset="11.94" class="p"/><path d="M101.56 1268.17A172.85 172.85 0 0 0 108.2 1245.13" fill="none" stroke="rgb(54,0,0)" stroke-width="2.53" stroke-dasharray="9.11 2.9 4.06 2.09 6.47 4.17" stroke-dashoffset="15.97" class="p"/><path d="M104.37 1269.22A175.84 175.84 0 0 0 111.12 1245.78" fill="none" stroke="rgb(24,0,0)" stroke-width="2.37" stroke-dasharray="9.35 4.84 6.8 5.96 4.67 2.73" stroke-dashoffset="6.29" class="p"/><path d="M98.04 1266.86A169.1 169.1 0 0 0 104.54 1244.32" fill="none" stroke="rgb(34,0,0)" stroke-width="2.31" stroke-dasharray="6.68 3.32 7.12 2.44 8.74 2.86" stroke-dashoffset="13.81" class="p"/><path d="M109.34 1245.38A174.01 174.01 0 0 0 112.94 1220.05" fill="none" stroke="rgb(67,0,0)" stroke-width="2.59" stroke-dasharray="3.43 4.05 5.55 3.08 9.79 2.21" stroke-dashoffset="19.72" class="p"/><path d="M111.71 1245.91A176.43 176.43 0 0 0 115.36 1220.22" fill="none" stroke="rgb(28,0,0)" stroke-width="2.47" stroke-dasharray="6.19 5.72 3.27 3.2 9.23 2.71" stroke-dashoffset="8.49" class="p"/><path d="M104.73 1244.36A169.29 169.29 0 0 0 108.23 1219.71" fill="none" stroke="rgb(19,0,0)" stroke-width="2.66" stroke-dasharray="3.24 6.98 8.34 5.67 4.61 3.27" stroke-dashoffset="9.23" class="p"/><path d="M111.97 1219.98A173.03 173.03 0 0 0 111.81 1193.29" fill="none" stroke="rgb(47,0,0)" stroke-width="2.07" stroke-dasharray="5.36 6.91 7.28 2.2 5.82 5.25" stroke-dashoffset="13.89" class="p"/><path d="M115.16 1220.21A176.24 176.24 0 0 0 115.01 1193.03" fill="none" stroke="rgb(57,0,0)" stroke-width="2.94" stroke-dasharray="7.13 6.43 6.24 3.96 8.9 3.91" stroke-dashoffset="6.95" class="p"/><path d="M109.98 1219.84A171.05 171.05 0 0 0 109.83 1193.46" fill="none" stroke="rgb(23,0,0)" stroke-width="2.54" stroke-dasharray="6.85 2.82 4.43 3.07 6.27 3.54" stroke-dashoffset="13.58" class="p"/><path d="M111.62 1193.31A172.85 172.85 0 0 0 107.67 1167.81" fill="none" stroke="rgb(38,0,0)" stroke-width="2.22" stroke-dasharray="5.68 2.36 7.84 3.81 4.92 2.09" stroke-dashoffset="7.86" class="p"/><path d="M116.19 1192.93A177.43 177.43 0 0 0 112.14 1166.75" fill="none" stroke="rgb(59,0,0)" stroke-width="2.92" stroke-dasharray="8.01 3.34 5.53 2.77 9.56 3.8" stroke-dashoffset="18.14" class="p"/><path d="M107.65 1193.64A168.85 168.85 0 0 0 103.79 1168.73" fill="none" stroke="rgb(17,0,0)" stroke-width="2.62" stroke-dasharray="5.25 3.92 3.58 6.41 5.28 5.85" stroke-dashoffset="7.88" class="p"/><path d="M108.69 1167.57A173.88 173.88 0 0 0 103.67 1149.99" fill="none" stroke="rgb(29,0,0)" stroke-width="2.16" stroke-dasharray="4.06 4.98 3.22 3.56 5.97 4.72" stroke-dashoffset="5.21" class="p"/><path d="M112.46 1166.68A177.76 177.76 0 0 0 107.33 1148.7" fill="none" stroke="rgb(49,0,0)" stroke-width="2.46" stroke-dasharray="7.66 2.74 4.43 3.4 7.99 4.03" stroke-dashoffset="4.52" class="p"/><path d="M105.88 1168.23A171.01 171.01 0 0 0 100.95 1150.94" fill="none" stroke="rgb(24,0,0)" stroke-width="2.97" stroke-dasharray="5.41 3.08 3.28 2.12 7.41 4.83" stroke-dashoffset="5.96" class="p"/><path d="M102.31 1150.47A172.44 172.44 0 0 0 93.3 1128.91" fill="none" stroke="rgb(66,0,0)" stroke-width="2.76" stroke-dasharray="4.51 5.45 7.67 6.78 9.08 3.17" stroke-dashoffset="8.55" class="p"/><path d="M106.47 1149.01A176.85 176.85 0 0 0 97.24 1126.9" fill="none" stroke="rgb(34,0,0)" stroke-width="2.48" stroke-dasharray="3.42 3.92 5.3 4.49 4.96 2.79" stroke-dashoffset="3.33" class="p"/><path d="M100.02 1151.27A170.02 170.02 0 0 0 91.14 1130.01" fill="none" stroke="rgb(33,0,0)" stroke-width="2.84" stroke-dasharray="4.68 2.47 5.39 4.11 4.06 4.91" stroke-dashoffset="14" class="p"/><path d="M93.79 1128.66A172.99 172.99 0 0 0 86.27 1115.08" fill="none" stroke="rgb(40,0,0)" stroke-width="2.56" stroke-dasharray="5.55 2.31 5.83 2.27 6.47 4.93" stroke-dashoffset="5.07" class="p"/><path d="M97.53 1126.75A177.18 177.18 0 0 0 89.82 1112.84" fill="none" stroke="rgb(20,0,0)" stroke-width="2.56" stroke-dasharray="5.43 6.46 6.96 3.31 7.68 2.93" stroke-dashoffset="19.09" class="p"/><path d="M90.56 1130.31A169.37 169.37 0 0 0 83.19 1117.02" fill="none" stroke="rgb(23,0,0)" stroke-width="2.5" stroke-dasharray="7.03 6.71 8.4 5.14 7.35 4.05" stroke-dashoffset="16.59" class="p"/><path d="M85.92 1115.3A172.58 172.58 0 0 0 70.8 1094.32" fill="none" stroke="rgb(36,0,0)" stroke-width="3.17" stroke-dasharray="9.37 2.19 3.95 4.54 5.16 3.8" stroke-dashoffset="3.85" class="p"/><path d="M89.89 1112.8A177.26 177.26 0 0 0 74.36 1091.25" fill="none" stroke="rgb(24,0,0)" stroke-width="2.59" stroke-dasharray="7.76 3.17 3.01 4.72 5.76 3.2" stroke-dashoffset="10.96" class="p"/><path d="M84.06 1116.47A170.4 170.4 0 0 0 69.14 1095.75" fill="none" stroke="rgb(27,0,0)" stroke-width="2.38" stroke-dasharray="6.93 6.16 9.78 3.67 5.43 6.43" stroke-dashoffset="13.91" class="p"/><path d="M71.87 1093.4A173.98 173.98 0 0 0 55.46 1076.34" fill="none" stroke="rgb(52,0,0)" stroke-width="2.34" stroke-dasharray="8.77 2.8 7.35 4.45 6.95 3.85" stroke-dashoffset="10.68" class="p"/><path d="M73.38 1092.09A175.98 175.98 0 0 0 56.79 1074.84" fill="none" stroke="rgb(22,0,0)" stroke-width="2.08" stroke-dasharray="4.75 3.62 4.24 4.57 3.88 2.32" stroke-dashoffset="14.1" class="p"/><path d="M68.31 1096.46A169.32 169.32 0 0 0 52.35 1079.86" fill="none" stroke="rgb(14,0,0)" stroke-width="2.06" stroke-dasharray="6.16 5.86 6.36 2.81 9.06 6.35" stroke-dashoffset="10.15" class="p"/><path d="M65.36 1354.24A191.84 191.84 0 0 0 82.66 1336.9" fill="none" stroke="rgb(29,0,0)" stroke-width="2.8" stroke-dasharray="7.95 5.11 8.82 6.01 3.88 3.88" stroke-dashoffset="3.69" class="p"/><path d="M67.92 1357.21A195.74 195.74 0 0 0 85.57 1339.53" fill="none" stroke="rgb(13,0,0)" stroke-width="2.76" stroke-dasharray="7.1 6.71 9.79 2.67 7.81 4.1" stroke-dashoffset="18.67" class="p"/><path d="M62.89 1351.36A188.08 188.08 0 0 0 79.85 1334.37" fill="none" stroke="rgb(27,0,0)" stroke-width="3.19" stroke-dasharray="3.34 5.57 3.83 2.21 5 5.66" stroke-dashoffset="6.6" class="p"/><path d="M83.33 1337.51A192.75 192.75 0 0 0 94.17 1324.01" fill="none" stroke="rgb(36,0,0)" stroke-width="2.47" stroke-dasharray="6.38 3.87 5.16 6 8.87 3.42" stroke-dashoffset="15.31" class="p"/><path d="M86.5 1340.37A196.99 196.99 0 0 0 97.58 1326.57" fill="none" stroke="rgb(40,0,0)" stroke-width="2.13" stroke-dasharray="5.73 5.47 6.82 6 4.03 2.88" stroke-dashoffset="5.03" class="p"/><path d="M80.03 1334.54A188.33 188.33 0 0 0 90.62 1321.35" fill="none" stroke="rgb(20,0,0)" stroke-width="2.33" stroke-dasharray="3.84 3.62 3.13 4.83 4.01 5.13" stroke-dashoffset="9.64" class="p"/><path d="M94.88 1324.55A193.63 193.63 0 0 0 106.88 1306.07" fill="none" stroke="rgb(29,0,0)" stroke-width="2.58" stroke-dasharray="3.36 2.32 9.25 3.55 3.55 2.91" stroke-dashoffset="4.04" class="p"/><path d="M96.99 1326.14A196.26 196.26 0 0 0 109.15 1307.4" fill="none" stroke="rgb(40,0,0)" stroke-width="2.79" stroke-dasharray="6.39 4.07 8.65 3.98 3.4 4.75" stroke-dashoffset="5.54" class="p"/><path d="M90.51 1321.26A188.19 188.19 0 0 0 102.17 1303.3" fill="none" stroke="rgb(32,0,0)" stroke-width="2.03" stroke-dasharray="9.05 6.97 6.1 6.17 8.07 2.88" stroke-dashoffset="2.38" class="p"/><path d="M105.93 1305.51A192.53 192.53 0 0 0 114.13 1289.5" fill="none" stroke="rgb(36,0,0)" stroke-width="2.01" stroke-dasharray="8.27 3.55 6.6 2.05 4.47 6.8" stroke-dashoffset="16.2" class="p"/><path d="M109.81 1307.79A197.03 197.03 0 0 0 118.21 1291.41" fill="none" stroke="rgb(42,0,0)" stroke-width="2.12" stroke-dasharray="8.15 4 8.62 6.14 8.37 6.93" stroke-dashoffset="8.05" class="p"/><path d="M103.16 1303.88A189.33 189.33 0 0 0 111.23 1288.14" fill="none" stroke="rgb(29,0,0)" stroke-width="2.44" stroke-dasharray="4.75 6.55 3.16 4.88 4.59 3.94" stroke-dashoffset="16.22" class="p"/><path d="M113.46 1289.19A191.8 191.8 0 0 0 121.41 1268.82" fill="none" stroke="rgb(50,0,0)" stroke-width="2.89" stroke-dasharray="5.48 3.4 9.34 3.61 3.66 3.67" stroke-dashoffset="14.86" class="p"/><path d="M117.26 1290.97A195.98 195.98 0 0 0 125.38 1270.16" fill="none" stroke="rgb(37,0,0)" stroke-width="2.01" stroke-dasharray="7.76 2.89 3.74 2.71 5.45 4.15" stroke-dashoffset="8.07" class="p"/><path d="M111.93 1288.47A190.1 190.1 0 0 0 119.8 1268.28" fill="none" stroke="rgb(22,0,0)" stroke-width="2.13" stroke-dasharray="6.76 6.76 4.43 6.4 5.25 5.77" stroke-dashoffset="8.6" class="p"/><path d="M121.35 1268.8A191.73 191.73 0 0 0 128.46 1239.7" fill="none" stroke="rgb(35,0,0)" stroke-width="2.39" stroke-dasharray="5.86 5.53 4.24 3.37 7.74 6.74" stroke-dashoffset="7.14" class="p"/><path d="M126.17 1270.42A196.81 196.81 0 0 0 133.47 1240.55" fill="none" stroke="rgb(56,0,0)" stroke-width="3.07" stroke-dasharray="4.04 5.17 5.65 5.22 4.49 5.08" stroke-dashoffset="12.57" class="p"/><path d="M118.47 1267.84A188.7 188.7 0 0 0 125.47 1239.19" fill="none" stroke="rgb(29,0,0)" stroke-width="2.5" stroke-dasharray="6.97 2.57 8.86 5.45 6.17 5.33" stroke-dashoffset="4.6" class="p"/><path d="M128.39 1239.69A191.66 191.66 0 0 0 130.89 1214.74" fill="none" stroke="rgb(53,0,0)" stroke-width="3.12" stroke-dasharray="6.61 2.16 7.39 4.23 7.15 4.97" stroke-dashoffset="9.37" class="p"/><path d="M133.78 1240.6A197.12 197.12 0 0 0 136.35 1214.94" fill="none" stroke="rgb(58,0,0)" stroke-width="2.15" stroke-dasharray="8.17 3.56 8.16 6.95 5.81 6.34" stroke-dashoffset="9.82" class="p"/><path d="M124.73 1239.07A187.95 187.95 0 0 0 127.18 1214.6" fill="none" stroke="rgb(23,0,0)" stroke-width="3.19" stroke-dasharray="8.88 5.25 9.56 6.15 8.58 4.56" stroke-dashoffset="17.4" class="p"/><path d="M130.71 1214.73A191.47 191.47 0 0 0 129.87 1188.2" fill="none" stroke="rgb(39,0,0)" stroke-width="2.77" stroke-dasharray="8.65 4.27 6.75 6.33 4.37 3.4" stroke-dashoffset="11.1" class="p"/><path d="M135.9 1214.93A196.67 196.67 0 0 0 135.04 1187.67" fill="none" stroke="rgb(51,0,0)" stroke-width="3.09" stroke-dasharray="6.44 3.21 8.6 6.28 8.4 4.75" stroke-dashoffset="3.04" class="p"/><path d="M127.94 1214.63A188.71 188.71 0 0 0 127.11 1188.48" fill="none" stroke="rgb(27,0,0)" stroke-width="2.22" stroke-dasharray="3.7 2.18 5.42 6.32 8.84 2.59" stroke-dashoffset="16.98" class="p"/><path d="M131.25 1188.06A192.86 192.86 0 0 0 127.11 1162.95" fill="none" stroke="rgb(68,0,0)" stroke-width="2.24" stroke-dasharray="3.5 6.94 4.45 5.15 9.14 5.64" stroke-dashoffset="8.62" class="p"/><path d="M133.48 1187.83A195.11 195.11 0 0 0 129.29 1162.43" fill="none" stroke="rgb(22,0,0)" stroke-width="2.22" stroke-dasharray="5.38 3.58 7.41 3.39 7.22 5.47" stroke-dashoffset="13.88" class="p"/><path d="M127.82 1188.41A189.41 189.41 0 0 0 123.75 1163.75" fill="none" stroke="rgb(29,0,0)" stroke-width="3.19" stroke-dasharray="3.9 2.58 9.59 5.05 5.5 2.98" stroke-dashoffset="14.73" class="p"/><path d="M126.74 1163.04A192.49 192.49 0 0 0 120.62 1142.01" fill="none" stroke="rgb(38,0,0)" stroke-width="2.55" stroke-dasharray="5.86 2.73 7.42 4.12 8.74 4.04" stroke-dashoffset="18.83" class="p"/><path d="M130.54 1162.13A196.39 196.39 0 0 0 124.3 1140.68" fill="none" stroke="rgb(32,0,0)" stroke-width="3.03" stroke-dasharray="7.93 3.18 7.05 3.42 9.11 3.43" stroke-dashoffset="9.1" class="p"/><path d="M123.18 1163.88A188.83 188.83 0 0 0 117.18 1143.26" fill="none" stroke="rgb(39,0,0)" stroke-width="2.34" stroke-dasharray="5.71 5.72 7.21 4.24 3.45 4.1" stroke-dashoffset="19.09" class="p"/><path d="M120.26 1142.15A192.1 192.1 0 0 0 112.26 1122.82" fill="none" stroke="rgb(52,0,0)" stroke-width="2.5" stroke-dasharray="7.7 3.22 5.88 2.66 9.27 3.26" stroke-dashoffset="16.41" class="p"/><path d="M124.4 1140.65A196.5 196.5 0 0 0 116.22 1120.88" fill="none" stroke="rgb(46,0,0)" stroke-width="2.45" stroke-dasharray="7.13 4.73 3.7 6.48 3.62 3.82" stroke-dashoffset="13.38" class="p"/><path d="M116.9 1143.36A188.54 188.54 0 0 0 109.05 1124.39" fill="none" stroke="rgb(22,0,0)" stroke-width="2.56" stroke-dasharray="9.29 6.75 3.16 5.16 6.28 3.81" stroke-dashoffset="13.42" class="p"/><path d="M111.68 1123.1A191.46 191.46 0 0 0 99.46 1101.25" fill="none" stroke="rgb(57,0,0)" stroke-width="3.2" stroke-dasharray="9.84 6.96 5.77 6.14 7.55 5.51" stroke-dashoffset="9.24" class="p"/><path d="M116.26 1120.86A196.54 196.54 0 0 0 103.71 1098.43" fill="none" stroke="rgb(29,0,0)" stroke-width="2.47" stroke-dasharray="7.59 3.09 9.93 3.05 5.59 2.71" stroke-dashoffset="1.67" class="p"/><path d="M108.64 1124.59A188.08 188.08 0 0 0 96.63 1103.13" fill="none" stroke="rgb(16,0,0)" stroke-width="2.93" stroke-dasharray="7.54 5.12 8.19 3.27 8.68 5.65" stroke-dashoffset="9.37" class="p"/><path d="M100.87 1100.31A193.15 193.15 0 0 0 90.89 1086.29" fill="none" stroke="rgb(48,0,0)" stroke-width="2.13" stroke-dasharray="9.61 6.48 3.17 3.76 6.75 4.67" stroke-dashoffset="6.03" class="p"/><path d="M102.74 1099.07A195.38 195.38 0 0 0 92.65 1084.88" fill="none" stroke="rgb(29,0,0)" stroke-width="2.93" stroke-dasharray="3.87 4.84 3.91 2.44 6.59 3.47" stroke-dashoffset="8.28" class="p"/><path d="M96.7 1103.09A188.16 188.16 0 0 0 86.98 1089.42" fill="none" stroke="rgb(13,0,0)" stroke-width="3.02" stroke-dasharray="4.52 4.26 6.91 4.3 8.96 2.52" stroke-dashoffset="19.41" class="p"/><path d="M90.79 1086.37A193.02 193.02 0 0 0 74.84 1068.33" fill="none" stroke="rgb(30,0,0)" stroke-width="2.98" stroke-dasharray="7.29 6.32 9.75 4.07 3.07 2.77" stroke-dashoffset="14.25" class="p"/><path d="M92.28 1085.18A194.92 194.92 0 0 0 76.17 1066.96" fill="none" stroke="rgb(18,0,0)" stroke-width="3.02" stroke-dasharray="6.72 2.14 3.77 3.5 9.76 5.22" stroke-dashoffset="8.32" class="p"/><path d="M88.43 1088.26A190.01 190.01 0 0 0 72.73 1070.5" fill="none" stroke="rgb(12,0,0)" stroke-width="3.06" stroke-dasharray="4.83 2.56 9.43 3.64 6.42 5.27" stroke-dashoffset="11.36" class="p"/><path d="M74.22 1068.97A192.14 192.14 0 0 0 56.53 1053.34" fill="none" stroke="rgb(40,0,0)" stroke-width="2.57" stroke-dasharray="5.76 3.5 8.18 3.29 5.58 4.15" stroke-dashoffset="8.61" class="p"/><path d="M76.26 1066.87A195.04 195.04 0 0 0 58.3 1051.01" fill="none" stroke="rgb(22,0,0)" stroke-width="2.27" stroke-dasharray="3.35 6.18 3.43 4.64 6.83 4" stroke-dashoffset="7.44" class="p"/><path d="M71.19 1072.09A187.81 187.81 0 0 0 53.89 1056.81" fill="none" stroke="rgb(14,0,0)" stroke-width="3.16" stroke-dasharray="6.39 3.15 8.25 4.44 3.06 4.03" stroke-dashoffset="11.87" class="p"/><path d="M48.89 1391.97A212.32 212.32 0 0 0 70.21 1377.09" fill="none" stroke="rgb(22,0,0)" stroke-width="2.51" stroke-dasharray="8.28 2.27 3.65 3.26 4.89 5.98" stroke-dashoffset="8.05" class="p"/><path d="M50.61 1394.87A215.66 215.66 0 0 0 72.27 1379.75" fill="none" stroke="rgb(14,0,0)" stroke-width="2.98" stroke-dasharray="7.76 2.43 9.89 6.16 5.3 3.59" stroke-dashoffset="12.85" class="p"/><path d="M69.81 1376.57A211.67 211.67 0 0 0 91.88 1356.38" fill="none" stroke="rgb(14,0,0)" stroke-width="2.9" stroke-dasharray="7.37 4.76 9.49 5.19 3.16 6.67" stroke-dashoffset="0.11" class="p"/><path d="M72.22 1379.69A215.57 215.57 0 0 0 94.69 1359.13" fill="none" stroke="rgb(24,0,0)" stroke-width="2.53" stroke-dasharray="5.93 5.4 9.89 6.58 3.52 5.91" stroke-dashoffset="7.56" class="p"/><path d="M67.77 1373.93A208.36 208.36 0 0 0 89.5 1354.06" fill="none" stroke="rgb(14,0,0)" stroke-width="3" stroke-dasharray="6.06 2.59 5.24 5.67 3.5 2.58" stroke-dashoffset="10.96" class="p"/><path d="M92.31 1356.81A212.27 212.27 0 0 0 105.61 1341.4" fill="none" stroke="rgb(18,0,0)" stroke-width="2.64" stroke-dasharray="5.17 6.77 6.92 6.61 4.48 4.07" stroke-dashoffset="2.47" class="p"/><path d="M94.59 1359.02A215.43 215.43 0 0 0 108.08 1343.39" fill="none" stroke="rgb(31,0,0)" stroke-width="2.59" stroke-dasharray="6.31 2.16 6.02 3.89 7.72 6.64" stroke-dashoffset="7.76" class="p"/><path d="M88.96 1353.54A207.62 207.62 0 0 0 101.97 1338.47" fill="none" stroke="rgb(22,0,0)" stroke-width="2.2" stroke-dasharray="3.74 5.71 4.17 4.93 4.41 3.73" stroke-dashoffset="11.83" class="p"/><path d="M105.35 1341.19A211.94 211.94 0 0 0 120.33 1319.44" fill="none" stroke="rgb(29,0,0)" stroke-width="2.39" stroke-dasharray="7.02 6.21 5.51 4.92 6.36 6.9" stroke-dashoffset="4.67" class="p"/><path d="M107.61 1343.01A214.83 214.83 0 0 0 122.79 1320.97" fill="none" stroke="rgb(20,0,0)" stroke-width="2.86" stroke-dasharray="8.11 4.87 4.8 2.32 8.77 3.89" stroke-dashoffset="12.35" class="p"/><path d="M101.89 1338.41A207.52 207.52 0 0 0 116.55 1317.11" fill="none" stroke="rgb(20,0,0)" stroke-width="2.12" stroke-dasharray="9.83 6.55 6.19 4.43 4.62 5.77" stroke-dashoffset="16.95" class="p"/><path d="M119.13 1318.7A210.54 210.54 0 0 0 128.23 1301.94" fill="none" stroke="rgb(43,0,0)" stroke-width="2.97" stroke-dasharray="6.98 4.76 5.33 2.76 9.66 5.82" stroke-dashoffset="15.68" class="p"/><path d="M123.77 1321.57A215.98 215.98 0 0 0 133.1 1304.37" fill="none" stroke="rgb(21,0,0)" stroke-width="3.08" stroke-dasharray="4.39 4.67 7.27 2.6 8.35 4.91" stroke-dashoffset="13.79" class="p"/><path d="M115.98 1316.76A206.85 206.85 0 0 0 124.92 1300.29" fill="none" stroke="rgb(19,0,0)" stroke-width="2.3" stroke-dasharray="9.66 5.59 5.04 6.29 8.09 3.32" stroke-dashoffset="10.74" class="p"/><path d="M129.85 1302.75A212.35 212.35 0 0 0 138.64 1282" fill="none" stroke="rgb(32,0,0)" stroke-width="2.61" stroke-dasharray="4.77 2.66 6.39 3.36 5 3.39" stroke-dashoffset="3.2" class="p"/><path d="M132.79 1304.22A215.63 215.63 0 0 0 141.71 1283.15" fill="none" stroke="rgb(42,0,0)" stroke-width="3.1" stroke-dasharray="8.98 5.05 6.81 5.67 6.74 5.3" stroke-dashoffset="5.2" class="p"/><path d="M126.85 1301.25A209.01 209.01 0 0 0 135.5 1280.83" fill="none" stroke="rgb(14,0,0)" stroke-width="2.88" stroke-dasharray="9.56 3.81 8.51 3.17 6.17 3.85" stroke-dashoffset="10.11" class="p"/><path d="M136.94 1281.37A210.55 210.55 0 0 0 144.56 1255.46" fill="none" stroke="rgb(37,0,0)" stroke-width="3.08" stroke-dasharray="4.63 6.75 3.77 6.7 7.6 2.36" stroke-dashoffset="11.31" class="p"/><path d="M141.26 1282.98A215.15 215.15 0 0 0 149.04 1256.5" fill="none" stroke="rgb(22,0,0)" stroke-width="2.04" stroke-dasharray="9.92 3.55 9.1 2.31 7.66 2.34" stroke-dashoffset="19.66" class="p"/><path d="M134.21 1280.35A207.64 207.64 0 0 0 141.72 1254.8" fill="none" stroke="rgb(30,0,0)" stroke-width="2.63" stroke-dasharray="8.99 5.92 6.65 2.39 6.69 2.92" stroke-dashoffset="9.98" class="p"/><path d="M144.63 1255.48A210.63 210.63 0 0 0 148.35 1234.25" fill="none" stroke="rgb(55,0,0)" stroke-width="2.67" stroke-dasharray="5.92 4.43 3.55 4.43 6.9 6.86" stroke-dashoffset="6" class="p"/><path d="M147.79 1256.21A213.87 213.87 0 0 0 151.56 1234.66" fill="none" stroke="rgb(31,0,0)" stroke-width="3.12" stroke-dasharray="7.91 6.69 9.83 6.75 9.48 6.29" stroke-dashoffset="9.79" class="p"/><path d="M140.98 1254.63A206.88 206.88 0 0 0 144.63 1233.77" fill="none" stroke="rgb(30,0,0)" stroke-width="3.15" stroke-dasharray="7.8 5.06 7.29 6.67 3.6 4.6" stroke-dashoffset="2.23" class="p"/><path d="M149.91 1234.45A212.2 212.2 0 0 0 151.5 1202.71" fill="none" stroke="rgb(68,0,0)" stroke-width="2.91" stroke-dasharray="3.17 2.16 8.81 5.44 6.64 4.9" stroke-dashoffset="0.01" class="p"/><path d="M153.3 1234.88A215.62 215.62 0 0 0 154.92 1202.63" fill="none" stroke="rgb(23,0,0)" stroke-width="2.02" stroke-dasharray="8.56 6.88 8.83 4.04 5.35 3.73" stroke-dashoffset="5.25" class="p"/><path d="M144.9 1233.81A207.16 207.16 0 0 0 146.46 1202.82" fill="none" stroke="rgb(31,0,0)" stroke-width="2.21" stroke-dasharray="6.68 3.68 7.72 4.27 4.64 6.41" stroke-dashoffset="5.07" class="p"/><path d="M150.05 1202.74A210.74 210.74 0 0 0 147.93 1177.07" fill="none" stroke="rgb(60,0,0)" stroke-width="3.05" stroke-dasharray="5.33 3.19 7.58 3.3 6.66 3.27" stroke-dashoffset="4.64" class="p"/><path d="M153.69 1202.65A214.39 214.39 0 0 0 151.54 1176.54" fill="none" stroke="rgb(31,0,0)" stroke-width="2.92" stroke-dasharray="5.31 5.63 7.72 5.95 6.78 2.39" stroke-dashoffset="4.36" class="p"/><path d="M147.96 1202.79A208.65 208.65 0 0 0 145.86 1177.37" fill="none" stroke="rgb(26,0,0)" stroke-width="2.16" stroke-dasharray="9.93 3.85 5.5 6.56 9.93 3.94" stroke-dashoffset="15.65" class="p"/><path d="M148.66 1176.96A211.48 211.48 0 0 0 144.02 1153.68" fill="none" stroke="rgb(58,0,0)" stroke-width="2.02" stroke-dasharray="5.66 3.44 7.15 5.71 6.33 6.09" stroke-dashoffset="7.61" class="p"/><path d="M153.13 1176.3A215.99 215.99 0 0 0 148.39 1152.53" fill="none" stroke="rgb(22,0,0)" stroke-width="2.41" stroke-dasharray="9.4 2.72 4.44 6.39 9.72 6.66" stroke-dashoffset="2.84" class="p"/><path d="M145.09 1177.48A207.87 207.87 0 0 0 140.53 1154.6" fill="none" stroke="rgb(33,0,0)" stroke-width="3.14" stroke-dasharray="9.62 2.96 3.95 5.39 9.18 5.63" stroke-dashoffset="7.45" class="p"/><path d="M143.17 1153.91A210.6 210.6 0 0 0 137.17 1134.43" fill="none" stroke="rgb(34,0,0)" stroke-width="2.22" stroke-dasharray="9.57 2.36 4.29 3.74 3.34 3.53" stroke-dashoffset="10.54" class="p"/><path d="M146.99 1152.9A214.54 214.54 0 0 0 140.88 1133.05" fill="none" stroke="rgb(36,0,0)" stroke-width="2.09" stroke-dasharray="6.97 5.81 6.69 6.74 3.57 3.11" stroke-dashoffset="15.21" class="p"/><path d="M140.54 1154.6A207.88 207.88 0 0 0 134.62 1135.37" fill="none" stroke="rgb(36,0,0)" stroke-width="3.17" stroke-dasharray="6.53 2.8 5.31 4.84 5.06 5.96" stroke-dashoffset="12.06" class="p"/><path d="M137.26 1134.39A210.69 210.69 0 0 0 124.61 1105.93" fill="none" stroke="rgb(38,0,0)" stroke-width="2.06" stroke-dasharray="4.34 6.72 9.85 2.12 8.34 4" stroke-dashoffset="3.46" class="p"/><path d="M140.6 1133.16A214.24 214.24 0 0 0 127.73 1104.22" fill="none" stroke="rgb(38,0,0)" stroke-width="2.56" stroke-dasharray="4.48 2.1 4.54 6 6.49 5.26" stroke-dashoffset="0.3" class="p"/><path d="M134.4 1135.45A207.64 207.64 0 0 0 121.92 1107.41" fill="none" stroke="rgb(19,0,0)" stroke-width="2.38" stroke-dasharray="3.29 3.3 7.33 3.85 6.31 5.12" stroke-dashoffset="17.68" class="p"/><path d="M126.08 1105.12A212.37 212.37 0 0 0 111.66 1081.84" fill="none" stroke="rgb(31,0,0)" stroke-width="3.02" stroke-dasharray="6.78 4.3 5.33 6.57 4.63 6.68" stroke-dashoffset="3.25" class="p"/><path d="M129.3 1103.36A216.03 216.03 0 0 0 114.63 1079.67" fill="none" stroke="rgb(27,0,0)" stroke-width="2.19" stroke-dasharray="9.89 3.44 4.2 5.62 4.65 4.92" stroke-dashoffset="5.68" class="p"/><path d="M121.19 1107.81A206.81 206.81 0 0 0 107.15 1085.13" fill="none" stroke="rgb(13,0,0)" stroke-width="2.45" stroke-dasharray="7.81 3.74 6.92 4.49 9.46 4.57" stroke-dashoffset="9.93" class="p"/><path d="M110.52 1082.67A210.97 210.97 0 0 0 96.51 1065.01" fill="none" stroke="rgb(32,0,0)" stroke-width="3.16" stroke-dasharray="7.42 4.31 3.63 4.49 6.37 5.21" stroke-dashoffset="8.85" class="p"/><path d="M113.64 1080.39A214.81 214.81 0 0 0 99.37 1062.41" fill="none" stroke="rgb(15,0,0)" stroke-width="2.6" stroke-dasharray="8.6 3.17 8.8 5.99 4.78 6.51" stroke-dashoffset="11.1" class="p"/><path d="M107.56 1084.84A207.31 207.31 0 0 0 93.78 1067.49" fill="none" stroke="rgb(25,0,0)" stroke-width="2.24" stroke-dasharray="6.43 4.41 5.03 6.21 6.52 3.71" stroke-dashoffset="16.68" class="p"/><path d="M97.44 1064.17A212.22 212.22 0 0 0 75.59 1042.76" fill="none" stroke="rgb(37,0,0)" stroke-width="2.21" stroke-dasharray="9.42 5.43 8.58 5.56 8.67 6.01" stroke-dashoffset="6.07" class="p"/><path d="M100.25 1061.61A216 216 0 0 0 78.01 1039.82" fill="none" stroke="rgb(16,0,0)" stroke-width="3.09" stroke-dasharray="9.44 2.11 6.58 3.72 8.54 5.05" stroke-dashoffset="12.89" class="p"/><path d="M94.73 1066.63A208.58 208.58 0 0 0 73.25 1045.58" fill="none" stroke="rgb(9,0,0)" stroke-width="2.83" stroke-dasharray="7.67 2.55 9.88 6.36 5.17 2.93" stroke-dashoffset="19.7" class="p"/><path d="M75.78 1042.52A212.52 212.52 0 0 0 53.37 1025.91" fill="none" stroke="rgb(14,0,0)" stroke-width="2.68" stroke-dasharray="8.09 2.29 9.07 5.84 8.5 6.37" stroke-dashoffset="12.78" class="p"/><path d="M77.78 1040.1A215.63 215.63 0 0 0 55.04 1023.25" fill="none" stroke="rgb(18,0,0)" stroke-width="2.78" stroke-dasharray="5.69 3.77 3.16 2.81 8.57 3.14" stroke-dashoffset="13.89" class="p"/><path d="M73.5 1045.28A208.97 208.97 0 0 0 51.47 1028.94" fill="none" stroke="rgb(13,0,0)" stroke-width="2.4" stroke-dasharray="5.21 3.36 4.31 5.24 7.8 6.71" stroke-dashoffset="18.23" class="p"/><path d="M57.39 1410.32A232.23 232.23 0 0 0 81.17 1394" fill="none" stroke="rgb(17,0,0)" stroke-width="2.24" stroke-dasharray="3.25 6.31 6.75 4.37 8.21 3.25" stroke-dashoffset="4.83" class="p"/><path d="M58.96 1413.02A235.32 235.32 0 0 0 83.06 1396.49" fill="none" stroke="rgb(11,0,0)" stroke-width="2.5" stroke-dasharray="3.49 2.26 5.49 4.63 9.64 5.2" stroke-dashoffset="4.71" class="p"/><path d="M56.03 1407.99A229.56 229.56 0 0 0 79.54 1391.86" fill="none" stroke="rgb(10,0,0)" stroke-width="2.77" stroke-dasharray="9.71 2.61 6.03 5.43 8.34 4.78" stroke-dashoffset="18.05" class="p"/><path d="M80.73 1393.43A231.51 231.51 0 0 0 99.13 1377.42" fill="none" stroke="rgb(21,0,0)" stroke-width="2.66" stroke-dasharray="9.98 4.64 4.33 5.83 3.4 2.75" stroke-dashoffset="14.39" class="p"/><path d="M83.16 1396.62A235.48 235.48 0 0 0 101.88 1380.34" fill="none" stroke="rgb(19,0,0)" stroke-width="2.13" stroke-dasharray="5.24 5.83 7.53 5.53 6.2 4.16" stroke-dashoffset="19.09" class="p"/><path d="M79.02 1391.18A228.7 228.7 0 0 0 97.2 1375.36" fill="none" stroke="rgb(16,0,0)" stroke-width="2.51" stroke-dasharray="3.39 2.36 4.89 5.47 6.06 2.64" stroke-dashoffset="14.88" class="p"/><path d="M98.72 1376.98A230.91 230.91 0 0 0 116.9 1357.26" fill="none" stroke="rgb(26,0,0)" stroke-width="2.57" stroke-dasharray="7.77 5.08 3.32 5.55 3.9 2.27" stroke-dashoffset="1.46" class="p"/><path d="M102.7 1381.21A236.67 236.67 0 0 0 121.33 1361" fill="none" stroke="rgb(17,0,0)" stroke-width="2.38" stroke-dasharray="6.28 2.53 9.68 6.26 6.41 4.94" stroke-dashoffset="2.4" class="p"/><path d="M97.55 1375.74A229.21 229.21 0 0 0 115.6 1356.16" fill="none" stroke="rgb(11,0,0)" stroke-width="2.31" stroke-dasharray="4.55 6.33 6.56 4.05 5.79 6.44" stroke-dashoffset="14.16" class="p"/><path d="M117.69 1357.92A231.93 231.93 0 0 0 133.98 1335.49" fill="none" stroke="rgb(24,0,0)" stroke-width="2.93" stroke-dasharray="6.06 4.27 5.21 5.12 5.88 3.52" stroke-dashoffset="9.47" class="p"/><path d="M120.9 1360.63A236.11 236.11 0 0 0 137.48 1337.79" fill="none" stroke="rgb(30,0,0)" stroke-width="2.81" stroke-dasharray="6.18 3.88 9.29 6.88 8.5 4.01" stroke-dashoffset="5.93" class="p"/><path d="M115.14 1355.78A228.62 228.62 0 0 0 131.2 1333.67" fill="none" stroke="rgb(20,0,0)" stroke-width="2.92" stroke-dasharray="9.65 5.28 7.68 4.18 7.57 3.13" stroke-dashoffset="19.6" class="p"/><path d="M135.04 1336.19A233.19 233.19 0 0 0 147.89 1313.41" fill="none" stroke="rgb(38,0,0)" stroke-width="2.48" stroke-dasharray="3.12 4.08 8.36 3.3 7.29 3.1" stroke-dashoffset="3.93" class="p"/><path d="M137.52 1337.82A236.15 236.15 0 0 0 150.54 1314.75" fill="none" stroke="rgb(35,0,0)" stroke-width="2.85" stroke-dasharray="3.42 4.91 8.75 6.19 5.74 4.95" stroke-dashoffset="14.93" class="p"/><path d="M130.78 1333.39A228.12 228.12 0 0 0 143.36 1311.11" fill="none" stroke="rgb(20,0,0)" stroke-width="2.94" stroke-dasharray="4.76 5.53 6.93 4.72 9.91 2.68" stroke-dashoffset="14.53" class="p"/><path d="M146.42 1312.66A231.54 231.54 0 0 0 159.84 1279.32" fill="none" stroke="rgb(29,0,0)" stroke-width="2.8" stroke-dasharray="6.97 4.64 6.47 2.84 7.38 6.47" stroke-dashoffset="16.12" class="p"/><path d="M149.69 1314.32A235.2 235.2 0 0 0 163.32 1280.45" fill="none" stroke="rgb(27,0,0)" stroke-width="3.14" stroke-dasharray="4.02 5.03 6.22 4.65 9.94 4.85" stroke-dashoffset="15.18" class="p"/><path d="M143.81 1311.33A228.62 228.62 0 0 0 157.05 1278.41" fill="none" stroke="rgb(13,0,0)" stroke-width="2.43" stroke-dasharray="5.1 5.46 7.83 6.14 5.66 3.37" stroke-dashoffset="0.48" class="p"/><path d="M159.39 1279.17A231.07 231.07 0 0 0 165.96 1253.48" fill="none" stroke="rgb(47,0,0)" stroke-width="2.14" stroke-dasharray="4.04 3.56 9.11 6.67 4.75 2.89" stroke-dashoffset="15.88" class="p"/><path d="M164.1 1280.7A236.02 236.02 0 0 0 170.81 1254.46" fill="none" stroke="rgb(40,0,0)" stroke-width="2.25" stroke-dasharray="4.85 4.45 7.87 2.14 8.73 6.3" stroke-dashoffset="13.99" class="p"/><path d="M157.21 1278.46A228.79 228.79 0 0 0 163.72 1253.02" fill="none" stroke="rgb(21,0,0)" stroke-width="2.68" stroke-dasharray="9.15 3.09 6.32 3.57 6.09 6.06" stroke-dashoffset="19.74" class="p"/><path d="M167.86 1253.86A233.01 233.01 0 0 0 171.34 1229.84" fill="none" stroke="rgb(32,0,0)" stroke-width="2.99" stroke-dasharray="7.34 2.75 9.75 3.71 6.08 4.16" stroke-dashoffset="13.54" class="p"/><path d="M169.73 1254.24A234.91 234.91 0 0 0 173.23 1230.02" fill="none" stroke="rgb(24,0,0)" stroke-width="2.44" stroke-dasharray="5.49 5.53 4.51 6.41 9.11 3.13" stroke-dashoffset="14.37" class="p"/><path d="M163.14 1252.91A228.19 228.19 0 0 0 166.54 1229.38" fill="none" stroke="rgb(15,0,0)" stroke-width="2.05" stroke-dasharray="7.87 2.31 8.89 4.72 7.08 2.48" stroke-dashoffset="19.69" class="p"/><path d="M170.83 1229.79A232.49 232.49 0 0 0 171.71 1199.4" fill="none" stroke="rgb(60,0,0)" stroke-width="2.8" stroke-dasharray="3.44 2.51 3.15 5.48 4.23 3.36" stroke-dashoffset="6.45" class="p"/><path d="M172.73 1229.97A234.41 234.41 0 0 0 173.63 1199.33" fill="none" stroke="rgb(35,0,0)" stroke-width="2.31" stroke-dasharray="5.02 4.81 5.49 3.8 4.74 3.46" stroke-dashoffset="6.21" class="p"/><path d="M167.47 1229.47A229.13 229.13 0 0 0 168.34 1199.52" fill="none" stroke="rgb(29,0,0)" stroke-width="3.06" stroke-dasharray="4.88 2.56 8.92 4.35 6.58 3.56" stroke-dashoffset="12.45" class="p"/><path d="M171.93 1199.39A232.71 232.71 0 0 0 168.78 1168.14" fill="none" stroke="rgb(52,0,0)" stroke-width="2.64" stroke-dasharray="6.5 4.07 5.73 4.52 6.28 4.64" stroke-dashoffset="17.85" class="p"/><path d="M175.62 1199.26A236.4 236.4 0 0 0 172.42 1167.51" fill="none" stroke="rgb(26,0,0)" stroke-width="2.23" stroke-dasharray="3.16 3.51 3.22 5.98 7.34 3.43" stroke-dashoffset="16.72" class="p"/><path d="M168.73 1199.5A229.51 229.51 0 0 0 165.62 1168.68" fill="none" stroke="rgb(31,0,0)" stroke-width="3.19" stroke-dasharray="7.84 5.72 6.18 3.99 6.87 6.4" stroke-dashoffset="16.71" class="p"/><path d="M167.14 1168.42A231.05 231.05 0 0 0 162.59 1147.28" fill="none" stroke="rgb(32,0,0)" stroke-width="3.19" stroke-dasharray="9.8 4.72 6.6 3.55 9.03 4.58" stroke-dashoffset="19.87" class="p"/><path d="M172.18 1167.55A236.16 236.16 0 0 0 167.53 1145.94" fill="none" stroke="rgb(18,0,0)" stroke-width="2.52" stroke-dasharray="4.04 3.95 7.48 2.55 6.94 6.7" stroke-dashoffset="11.84" class="p"/><path d="M164.29 1168.91A228.15 228.15 0 0 0 159.79 1148.03" fill="none" stroke="rgb(27,0,0)" stroke-width="2.65" stroke-dasharray="4.21 4.32 9.3 5.37 4.52 4.23" stroke-dashoffset="11.56" class="p"/><path d="M163.68 1146.98A232.17 232.17 0 0 0 153.91 1117.73" fill="none" stroke="rgb(21,0,0)" stroke-width="3.15" stroke-dasharray="4.54 5.28 4.5 2.36 8.33 3.67" stroke-dashoffset="2.03" class="p"/><path d="M166.13 1146.32A234.7 234.7 0 0 0 156.25 1116.75" fill="none" stroke="rgb(35,0,0)" stroke-width="2.96" stroke-dasharray="4.84 6.07 8.07 5.79 3.4 2.17" stroke-dashoffset="4.04" class="p"/><path d="M160.47 1147.85A228.85 228.85 0 0 0 150.83 1119.02" fill="none" stroke="rgb(13,0,0)" stroke-width="2.22" stroke-dasharray="4.14 4.37 9.71 3.61 4.82 6.14" stroke-dashoffset="12.3" class="p"/><path d="M154.79 1117.36A233.13 233.13 0 0 0 138.75 1085.23" fill="none" stroke="rgb(19,0,0)" stroke-width="2.59" stroke-dasharray="6.94 3.91 8.77 3.26 8 2.93" stroke-dashoffset="4.8" class="p"/><path d="M157.45 1116.25A236.01 236.01 0 0 0 141.21 1083.72" fill="none" stroke="rgb(21,0,0)" stroke-width="3.01" stroke-dasharray="9.42 5.37 3.46 2.93 4.66 3.45" stroke-dashoffset="19.59" class="p"/><path d="M150.61 1119.11A228.6 228.6 0 0 0 134.88 1087.61" fill="none" stroke="rgb(23,0,0)" stroke-width="2.46" stroke-dasharray="7.4 3.92 8.02 4.47 3.41 4.46" stroke-dashoffset="0.97" class="p"/><path d="M137.81 1085.81A232.04 232.04 0 0 0 126.31 1068.37" fill="none" stroke="rgb(42,0,0)" stroke-width="2.6" stroke-dasharray="5.6 3.65 4.04 4.96 9.4 2.9" stroke-dashoffset="15.32" class="p"/><path d="M140.75 1084.01A235.47 235.47 0 0 0 129.08 1066.31" fill="none" stroke="rgb(25,0,0)" stroke-width="2.23" stroke-dasharray="4.67 2.95 8.07 2.39 9.05 2.17" stroke-dashoffset="16.88" class="p"/><path d="M133.89 1088.22A227.45 227.45 0 0 0 122.62 1071.13" fill="none" stroke="rgb(19,0,0)" stroke-width="2.19" stroke-dasharray="8.22 5.81 8.06 2.26 8.78 2.74" stroke-dashoffset="0.57" class="p"/><path d="M125.91 1068.67A231.54 231.54 0 0 0 103.57 1042.23" fill="none" stroke="rgb(22,0,0)" stroke-width="2.14" stroke-dasharray="3.61 2.23 8.92 5.01 9.41 2.19" stroke-dashoffset="3.82" class="p"/><path d="M129.26 1066.17A235.7 235.7 0 0 0 106.52 1039.26" fill="none" stroke="rgb(13,0,0)" stroke-width="2.18" stroke-dasharray="4.4 5.2 4.18 2.84 6.75 3.88" stroke-dashoffset="10.16" class="p"/><path d="M123.65 1070.35A228.74 228.74 0 0 0 101.58 1044.24" fill="none" stroke="rgb(13,0,0)" stroke-width="3.07" stroke-dasharray="6.32 2.2 7.31 2.97 5.35 2.05" stroke-dashoffset="7.84" class="p"/><path d="M103.56 1042.24A231.53 231.53 0 0 0 81.91 1022.77" fill="none" stroke="rgb(29,0,0)" stroke-width="2.05" stroke-dasharray="3.92 3.92 7.96 3.86 7.95 6.54" stroke-dashoffset="5.86" class="p"/><path d="M105.77 1040.02A234.64 234.64 0 0 0 83.83 1020.29" fill="none" stroke="rgb(20,0,0)" stroke-width="2.92" stroke-dasharray="8.49 5.5 9.47 2.93 5.75 6.26" stroke-dashoffset="19.6" class="p"/><path d="M102.26 1043.55A229.7 229.7 0 0 0 80.78 1024.24" fill="none" stroke="rgb(15,0,0)" stroke-width="3.07" stroke-dasharray="9.06 3.81 7.24 6.79 9.29 4.89" stroke-dashoffset="16.78" class="p"/><path d="M81.91 1022.78A231.52 231.52 0 0 0 56.45 1005.25" fill="none" stroke="rgb(24,0,0)" stroke-width="2.75" stroke-dasharray="4.01 4.02 6.95 2.66 8.47 2.31" stroke-dashoffset="6.46" class="p"/><path d="M83.94 1020.15A234.82 234.82 0 0 0 58.11 1002.37" fill="none" stroke="rgb(15,0,0)" stroke-width="2.83" stroke-dasharray="4.34 4.24 9 6.93 4.84 3.83" stroke-dashoffset="16.98" class="p"/><path d="M69.49 1423.87A249.92 249.92 0 0 0 96.4 1404.66" fill="none" stroke="rgb(8,0,0)" stroke-width="2.51" stroke-dasharray="8.01 3.16 6.37 5.61 9 6.68" stroke-dashoffset="7.95" class="p"/><path d="M71.68 1427.5A254.13 254.13 0 0 0 99.04 1407.98" fill="none" stroke="rgb(9,0,0)" stroke-width="2.24" stroke-dasharray="8.19 4.31 7.8 2.76 8.48 6.83" stroke-dashoffset="3.24" class="p"/><path d="M96.61 1404.93A250.25 250.25 0 0 0 118.12 1385.13" fill="none" stroke="rgb(12,0,0)" stroke-width="2.04" stroke-dasharray="8.11 4.86 7.72 6.84 3.41 2.49" stroke-dashoffset="16.49" class="p"/><path d="M98.18 1406.9A252.75 252.75 0 0 0 119.9 1386.9" fill="none" stroke="rgb(16,0,0)" stroke-width="2.28" stroke-dasharray="6.83 6.28 5.61 2.56 7.49 2.13" stroke-dashoffset="3.23" class="p"/><path d="M118.27 1385.28A250.47 250.47 0 0 0 138.64 1361.42" fill="none" stroke="rgb(14,0,0)" stroke-width="3.06" stroke-dasharray="7.22 6.12 5.41 2.6 7.7 5.64" stroke-dashoffset="11.64" class="p"/><path d="M120.65 1387.64A253.8 253.8 0 0 0 141.28 1363.46" fill="none" stroke="rgb(23,0,0)" stroke-width="2.01" stroke-dasharray="7.74 6.87 5.01 5.87 7.43 4.34" stroke-dashoffset="5.27" class="p"/><path d="M116.17 1383.19A247.53 247.53 0 0 0 136.29 1359.61" fill="none" stroke="rgb(14,0,0)" stroke-width="3.19" stroke-dasharray="6.57 4.55 3.41 2.66 7.25 5.41" stroke-dashoffset="5.8" class="p"/><path d="M139.47 1362.06A251.52 251.52 0 0 0 156.15 1336.88" fill="none" stroke="rgb(26,0,0)" stroke-width="2.43" stroke-dasharray="8.63 3.97 9.44 4.42 5.79 4.4" stroke-dashoffset="0.93" class="p"/><path d="M141.22 1363.41A253.72 253.72 0 0 0 158.05 1338.01" fill="none" stroke="rgb(19,0,0)" stroke-width="2.92" stroke-dasharray="3.56 5.39 4.05 2.75 5.96 5.01" stroke-dashoffset="5.9" class="p"/><path d="M136.47 1359.75A247.76 247.76 0 0 0 152.91 1334.94" fill="none" stroke="rgb(14,0,0)" stroke-width="2.16" stroke-dasharray="9.22 3.07 3.08 6.43 6.38 2.66" stroke-dashoffset="14.98" class="p"/><path d="M155.71 1336.61A251 251 0 0 0 166.46 1315.98" fill="none" stroke="rgb(35,0,0)" stroke-width="2.17" stroke-dasharray="4.5 4.23 7.24 2.25 9.55 3.68" stroke-dashoffset="2.18" class="p"/><path d="M158.11 1338.04A253.78 253.78 0 0 0 168.98 1317.18" fill="none" stroke="rgb(14,0,0)" stroke-width="2.72" stroke-dasharray="7.56 4.35 9.3 5.95 4.45 2.23" stroke-dashoffset="6.02" class="p"/><path d="M152.57 1334.74A247.37 247.37 0 0 0 163.17 1314.41" fill="none" stroke="rgb(25,0,0)" stroke-width="2.38" stroke-dasharray="4.46 5.22 3.51 6.62 9.64 5.09" stroke-dashoffset="18.07" class="p"/><path d="M165.48 1315.51A249.92 249.92 0 0 0 178.33 1281.81" fill="none" stroke="rgb(20,0,0)" stroke-width="2.66" stroke-dasharray="6.53 2.7 6.82 6.75 9.05 3.24" stroke-dashoffset="3.37" class="p"/><path d="M168.18 1316.8A252.91 252.91 0 0 0 181.18 1282.7" fill="none" stroke="rgb(34,0,0)" stroke-width="2.14" stroke-dasharray="8.32 3.68 5.94 5.48 8.09 4.32" stroke-dashoffset="3.39" class="p"/><path d="M161.91 1313.81A245.97 245.97 0 0 0 174.55 1280.64" fill="none" stroke="rgb(27,0,0)" stroke-width="2.73" stroke-dasharray="6.47 5.22 5.55 3.84 4.23 6.87" stroke-dashoffset="14.05" class="p"/><path d="M178.53 1281.88A250.14 250.14 0 0 0 185.97 1250.08" fill="none" stroke="rgb(43,0,0)" stroke-width="2.45" stroke-dasharray="8.39 5.04 9.14 6.85 5.85 5.24" stroke-dashoffset="7.32" class="p"/><path d="M182.4 1283.08A254.19 254.19 0 0 0 189.96 1250.77" fill="none" stroke="rgb(36,0,0)" stroke-width="2.46" stroke-dasharray="5.47 3.76 8.93 6 7.73 6.22" stroke-dashoffset="5.02" class="p"/><path d="M175.69 1281A247.17 247.17 0 0 0 183.04 1249.58" fill="none" stroke="rgb(20,0,0)" stroke-width="2.17" stroke-dasharray="3.7 5.99 9.45 3.51 5.65 2.59" stroke-dashoffset="17.84" class="p"/><path d="M186 1250.09A250.17 250.17 0 0 0 188.83 1226.66" fill="none" stroke="rgb(32,0,0)" stroke-width="2.35" stroke-dasharray="8.31 3.13 9.14 3.76 6.31 3.01" stroke-dashoffset="5.56" class="p"/><path d="M190.31 1250.83A254.54 254.54 0 0 0 193.18 1226.99" fill="none" stroke="rgb(41,0,0)" stroke-width="2.09" stroke-dasharray="3.21 5.19 8.62 3.63 4.34 2.6" stroke-dashoffset="12.06" class="p"/><path d="M182.4 1249.47A246.52 246.52 0 0 0 185.18 1226.38" fill="none" stroke="rgb(14,0,0)" stroke-width="3.17" stroke-dasharray="6.17 4.99 5.24 2.17 5.95 3.77" stroke-dashoffset="18.45" class="p"/><path d="M188.2 1226.61A249.55 249.55 0 0 0 188.24 1189.25" fill="none" stroke="rgb(46,0,0)" stroke-width="2.49" stroke-dasharray="3.88 6.04 3.63 4.79 3.68 2.46" stroke-dashoffset="19.84" class="p"/><path d="M191.7 1226.88A253.05 253.05 0 0 0 191.74 1189" fill="none" stroke="rgb(37,0,0)" stroke-width="2.8" stroke-dasharray="9.28 6.78 8.31 5.23 6.31 5.89" stroke-dashoffset="10.6" class="p"/><path d="M184.68 1226.34A246.01 246.01 0 0 0 184.72 1189.51" fill="none" stroke="rgb(24,0,0)" stroke-width="2.11" stroke-dasharray="6.61 5.57 7.82 4.85 8.52 6.13" stroke-dashoffset="0.94" class="p"/><path d="M189.85 1189.14A251.16 251.16 0 0 0 186.84 1164.27" fill="none" stroke="rgb(60,0,0)" stroke-width="2.4" stroke-dasharray="5.17 4.2 6.26 4.82 4.96 5.89" stroke-dashoffset="16.07" class="p"/><path d="M192.93 1188.91A254.24 254.24 0 0 0 189.88 1163.74" fill="none" stroke="rgb(18,0,0)" stroke-width="2.71" stroke-dasharray="6.83 2.47 9.19 2.35 4.87 5.84" stroke-dashoffset="8.26" class="p"/><path d="M185.63 1189.45A246.92 246.92 0 0 0 182.67 1165" fill="none" stroke="rgb(26,0,0)" stroke-width="2.24" stroke-dasharray="4.42 4.31 4.8 5.38 3.75 2.69" stroke-dashoffset="11.63" class="p"/><path d="M186.78 1164.28A251.09 251.09 0 0 0 182.09 1142.54" fill="none" stroke="rgb(58,0,0)" stroke-width="2.91" stroke-dasharray="8.85 3.9 4.11 6.13 9.84 2.89" stroke-dashoffset="18.74" class="p"/><path d="M189.16 1163.86A253.51 253.51 0 0 0 184.43 1141.92" fill="none" stroke="rgb(23,0,0)" stroke-width="2.15" stroke-dasharray="3.84 2.82 4.62 6.5 9.37 4.37" stroke-dashoffset="4.82" class="p"/><path d="M183.02 1164.94A247.28 247.28 0 0 0 178.4 1143.53" fill="none" stroke="rgb(27,0,0)" stroke-width="2.55" stroke-dasharray="8.04 5.88 6.06 4.28 6.28 3.85" stroke-dashoffset="14.23" class="p"/><path d="M182.37 1142.47A251.38 251.38 0 0 0 173.84 1115.82" fill="none" stroke="rgb(39,0,0)" stroke-width="2.51" stroke-dasharray="4.02 2.23 5.71 3.8 3.23 2.4" stroke-dashoffset="16.75" class="p"/><path d="M184.03 1142.02A253.1 253.1 0 0 0 175.44 1115.19" fill="none" stroke="rgb(16,0,0)" stroke-width="2.46" stroke-dasharray="5.22 3.84 5.18 2.69 7.13 6.2" stroke-dashoffset="2.11" class="p"/><path d="M178.59 1143.48A247.47 247.47 0 0 0 170.19 1117.25" fill="none" stroke="rgb(12,0,0)" stroke-width="2.38" stroke-dasharray="8.36 3.15 8.07 5.95 3.58 2.94" stroke-dashoffset="14.74" class="p"/><path d="M173.88 1115.8A251.42 251.42 0 0 0 162.69 1090.63" fill="none" stroke="rgb(31,0,0)" stroke-width="2.72" stroke-dasharray="5.49 4.36 8.56 3.31 8.67 6.6" stroke-dashoffset="18.76" class="p"/><path d="M176.54 1114.76A254.28 254.28 0 0 0 165.23 1089.3" fill="none" stroke="rgb(18,0,0)" stroke-width="3.01" stroke-dasharray="9.94 3 8.63 2.61 5.12 4.21" stroke-dashoffset="4.08" class="p"/><path d="M169.81 1117.39A247.07 247.07 0 0 0 158.82 1092.66" fill="none" stroke="rgb(27,0,0)" stroke-width="3.13" stroke-dasharray="9.06 4.55 3.35 3.43 5.05 4.09" stroke-dashoffset="16.39" class="p"/><path d="M161.53 1091.24A250.11 250.11 0 0 0 150 1070.99" fill="none" stroke="rgb(22,0,0)" stroke-width="2.66" stroke-dasharray="8.12 3.7 4.59 2.32 3.36 4.06" stroke-dashoffset="11.3" class="p"/><path d="M164.43 1089.72A253.38 253.38 0 0 0 152.75 1069.21" fill="none" stroke="rgb(18,0,0)" stroke-width="2.06" stroke-dasharray="3.12 5.37 5.35 4.46 5.64 3.35" stroke-dashoffset="5.96" class="p"/><path d="M157.64 1093.28A245.73 245.73 0 0 0 146.31 1073.39" fill="none" stroke="rgb(11,0,0)" stroke-width="2.63" stroke-dasharray="3.21 4.4 3.14 6.39 5.52 4.22" stroke-dashoffset="2.03" class="p"/><path d="M150.65 1070.58A250.88 250.88 0 0 0 129.36 1041.64" fill="none" stroke="rgb(25,0,0)" stroke-width="3.07" stroke-dasharray="6.45 3.72 8.26 4.52 8.55 6.18" stroke-dashoffset="13.48" class="p"/><path d="M153.38 1068.8A254.13 254.13 0 0 0 131.82 1039.49" fill="none" stroke="rgb(18,0,0)" stroke-width="2.9" stroke-dasharray="6.73 4.9 6.68 6.1 9.01 2.26" stroke-dashoffset="11.97" class="p"/><path d="M147.75 1072.46A247.44 247.44 0 0 0 126.76 1043.91" fill="none" stroke="rgb(20,0,0)" stroke-width="2.17" stroke-dasharray="3.35 4.38 5.63 6.74 4.15 4.82" stroke-dashoffset="9.78" class="p"/><path d="M128.22 1042.64A249.37 249.37 0 0 0 103.91 1017.78" fill="none" stroke="rgb(16,0,0)" stroke-width="2.33" stroke-dasharray="9.18 2.04 4.57 5.67 9.15 5.89" stroke-dashoffset="14.19" class="p"/><path d="M132.3 1039.07A254.75 254.75 0 0 0 107.46 1013.68" fill="none" stroke="rgb(18,0,0)" stroke-width="2.13" stroke-dasharray="3.42 6.67 6.69 2.17 6.36 3.69" stroke-dashoffset="18.69" class="p"/><path d="M105.23 1016.25A251.38 251.38 0 0 0 81.77 997.74" fill="none" stroke="rgb(12,0,0)" stroke-width="2.72" stroke-dasharray="7.71 2.55 5.33 4.05 6.31 4.18" stroke-dashoffset="18.63" class="p"/><path d="M107.63 1013.49A255 255 0 0 0 83.82 994.71" fill="none" stroke="rgb(17,0,0)" stroke-width="2.42" stroke-dasharray="8.8 3.14 4.71 4.3 7.5 5.03" stroke-dashoffset="6.25" class="p"/><path d="M80.87 999.06A249.8 249.8 0 0 0 61.01 986.57" fill="none" stroke="rgb(9,0,0)" stroke-width="3.08" stroke-dasharray="8.12 6.2 3.29 3.18 4.7 5.93" stroke-dashoffset="2.05" class="p"/><path d="M83.2 995.62A253.91 253.91 0 0 0 63.02 982.92" fill="none" stroke="rgb(15,0,0)" stroke-width="2.33" stroke-dasharray="9.8 5.58 6.31 5.73 8.37 4.55" stroke-dashoffset="13.25" class="p"/><path d="M87.51 1434.06A268.08 268.08 0 0 0 119.6 1408.75" fill="none" stroke="rgb(16,0,0)" stroke-width="3.01" stroke-dasharray="8.94 6.11 6.97 2.37 8.12 6.18" stroke-dashoffset="1.23" class="p"/><path d="M89.86 1437.66A272.34 272.34 0 0 0 122.47 1411.94" fill="none" stroke="rgb(12,0,0)" stroke-width="2.83" stroke-dasharray="6.42 6.47 9.94 4.23 7.73 5.33" stroke-dashoffset="12.79" class="p"/><path d="M119.54 1408.68A267.99 267.99 0 0 0 147.18 1379.11" fill="none" stroke="rgb(20,0,0)" stroke-width="2.13" stroke-dasharray="8.62 4.31 4.44 4.26 7.76 4.74" stroke-dashoffset="7.96" class="p"/><path d="M123.25 1412.82A273.51 273.51 0 0 0 151.46 1382.65" fill="none" stroke="rgb(10,0,0)" stroke-width="2.02" stroke-dasharray="4.59 3.11 5.91 5.48 9.39 5.38" stroke-dashoffset="12.18" class="p"/><path d="M118.61 1407.64A266.6 266.6 0 0 0 146.1 1378.23" fill="none" stroke="rgb(12,0,0)" stroke-width="2.82" stroke-dasharray="7.3 3.77 5.37 2.36 7.65 2.27" stroke-dashoffset="13.36" class="p"/><path d="M148.74 1380.4A270 270 0 0 0 169.01 1351.53" fill="none" stroke="rgb(28,0,0)" stroke-width="2.77" stroke-dasharray="9.72 6.06 9.93 4.3 3.1 5.07" stroke-dashoffset="12.24" class="p"/><path d="M151.69 1382.83A273.8 273.8 0 0 0 172.24 1353.56" fill="none" stroke="rgb(15,0,0)" stroke-width="2.93" stroke-dasharray="3.03 6.15 7.37 6.93 7.15 6.26" stroke-dashoffset="9.25" class="p"/><path d="M145.7 1377.9A266.09 266.09 0 0 0 165.68 1349.45" fill="none" stroke="rgb(18,0,0)" stroke-width="2.33" stroke-dasharray="5.78 2.06 5.28 3.76 9.95 3.97" stroke-dashoffset="1.95" class="p"/><path d="M168.35 1351.12A269.22 269.22 0 0 0 182.34 1325.12" fill="none" stroke="rgb(24,0,0)" stroke-width="2.23" stroke-dasharray="3.87 4.99 5.96 6.01 5.38 6.89" stroke-dashoffset="4.53" class="p"/><path d="M170.41 1352.41A271.64 271.64 0 0 0 184.53 1326.18" fill="none" stroke="rgb(12,0,0)" stroke-width="2.64" stroke-dasharray="5.11 6.48 5.04 4.44 6.67 3.33" stroke-dashoffset="6.99" class="p"/><path d="M164.57 1348.75A264.78 264.78 0 0 0 178.34 1323.18" fill="none" stroke="rgb(13,0,0)" stroke-width="2.07" stroke-dasharray="8.71 5.85 7.91 4.97 9.07 5.71" stroke-dashoffset="14.96" class="p"/><path d="M182.3 1325.1A269.17 269.17 0 0 0 196.57 1288.06" fill="none" stroke="rgb(46,0,0)" stroke-width="3.16" stroke-dasharray="8.43 2.79 6.97 5.12 7.23 2.67" stroke-dashoffset="5.38" class="p"/><path d="M185.06 1326.44A272.23 272.23 0 0 0 199.49 1288.98" fill="none" stroke="rgb(37,0,0)" stroke-width="2.73" stroke-dasharray="5.69 2.35 7.68 3.3 4.53 3.51" stroke-dashoffset="13.29" class="p"/><path d="M178.22 1323.13A264.65 264.65 0 0 0 192.25 1286.71" fill="none" stroke="rgb(26,0,0)" stroke-width="2.7" stroke-dasharray="9.94 6.44 9.45 3.27 8.77 2.45" stroke-dashoffset="1.98" class="p"/><path d="M196.54 1288.05A269.14 269.14 0 0 0 205.65 1247.26" fill="none" stroke="rgb(24,0,0)" stroke-width="2.98" stroke-dasharray="8.02 4.64 3.01 5.97 3.43 6.43" stroke-dashoffset="8.93" class="p"/><path d="M200.35 1289.24A273.13 273.13 0 0 0 209.59 1247.85" fill="none" stroke="rgb(17,0,0)" stroke-width="2.87" stroke-dasharray="7.9 2.2 6.68 6.63 7.75 2.58" stroke-dashoffset="6.59" class="p"/><path d="M193.8 1287.2A266.28 266.28 0 0 0 202.81 1246.84" fill="none" stroke="rgb(28,0,0)" stroke-width="2.42" stroke-dasharray="7.05 4.07 6.68 3.38 5.01 6.44" stroke-dashoffset="7.34" class="p"/><path d="M205.91 1247.3A269.41 269.41 0 0 0 208.5 1219.98" fill="none" stroke="rgb(22,0,0)" stroke-width="2.06" stroke-dasharray="9.74 5.76 9.87 4.95 3.44 2.82" stroke-dashoffset="12.44" class="p"/><path d="M208.82 1247.73A272.35 272.35 0 0 0 211.43 1220.12" fill="none" stroke="rgb(46,0,0)" stroke-width="2.5" stroke-dasharray="5.07 3.17 4.55 2.74 3.2 4.47" stroke-dashoffset="19.02" class="p"/><path d="M202.65 1246.81A266.12 266.12 0 0 0 205.2 1219.83" fill="none" stroke="rgb(20,0,0)" stroke-width="2.06" stroke-dasharray="8.79 4.66 3.72 2.15 7.27 6.37" stroke-dashoffset="4.65" class="p"/><path d="M207.19 1219.92A268.1 268.1 0 0 0 206.37 1183.22" fill="none" stroke="rgb(54,0,0)" stroke-width="2.65" stroke-dasharray="8.09 3.22 4.09 6.84 9.41 6.62" stroke-dashoffset="7.38" class="p"/><path d="M211.04 1220.1A271.96 271.96 0 0 0 210.22 1182.87" fill="none" stroke="rgb(45,0,0)" stroke-width="2.43" stroke-dasharray="3.47 3.48 3.3 6.4 5.48 2.41" stroke-dashoffset="8.67" class="p"/><path d="M205.49 1219.85A266.4 266.4 0 0 0 204.68 1183.38" fill="none" stroke="rgb(27,0,0)" stroke-width="2.31" stroke-dasharray="7.61 2.48 6.74 2.28 6.09 6.04" stroke-dashoffset="4.88" class="p"/><path d="M206.72 1183.19A268.45 268.45 0 0 0 202.2 1152.34" fill="none" stroke="rgb(50,0,0)" stroke-width="2.27" stroke-dasharray="3.03 4.77 6.76 5.57 9.64 5.47" stroke-dashoffset="9.64" class="p"/><path d="M211.72 1182.73A273.47 273.47 0 0 0 207.12 1151.3" fill="none" stroke="rgb(25,0,0)" stroke-width="3.12" stroke-dasharray="6.87 2.45 7.86 4.08 3.35 2.6" stroke-dashoffset="17.62" class="p"/><path d="M202.96 1183.53A264.67 264.67 0 0 0 198.5 1153.11" fill="none" stroke="rgb(21,0,0)" stroke-width="2.15" stroke-dasharray="9.89 2.85 8.08 6.71 4.46 2.02" stroke-dashoffset="16.07" class="p"/><path d="M203.63 1152.03A269.91 269.91 0 0 0 194.33 1117.9" fill="none" stroke="rgb(35,0,0)" stroke-width="2.96" stroke-dasharray="3.8 5.21 3.96 2.67 7.16 5.22" stroke-dashoffset="2.74" class="p"/><path d="M207.26 1151.27A273.62 273.62 0 0 0 197.83 1116.66" fill="none" stroke="rgb(23,0,0)" stroke-width="2.59" stroke-dasharray="4.01 4.46 3.2 6.34 7.77 6.04" stroke-dashoffset="16.7" class="p"/><path d="M198.97 1153.02A265.15 265.15 0 0 0 189.83 1119.48" fill="none" stroke="rgb(28,0,0)" stroke-width="3.18" stroke-dasharray="8.64 3.08 5.42 2.28 8.35 4.37" stroke-dashoffset="8.62" class="p"/><path d="M194.6 1117.8A270.21 270.21 0 0 0 178.77 1080.7" fill="none" stroke="rgb(44,0,0)" stroke-width="2.81" stroke-dasharray="8.3 6.41 9.47 3.36 7.32 2.32" stroke-dashoffset="10.12" class="p"/><path d="M197.7 1116.71A273.48 273.48 0 0 0 181.67 1079.16" fill="none" stroke="rgb(16,0,0)" stroke-width="2.89" stroke-dasharray="6.98 2.33 6.23 2.4 5.92 6.09" stroke-dashoffset="9.15" class="p"/><path d="M189.45 1119.61A264.76 264.76 0 0 0 173.94 1083.26" fill="none" stroke="rgb(17,0,0)" stroke-width="2.08" stroke-dasharray="3.39 5.95 6.99 4.04 4.02 4.29" stroke-dashoffset="1.59" class="p"/><path d="M178.01 1081.1A269.35 269.35 0 0 0 161.81 1053.75" fill="none" stroke="rgb(16,0,0)" stroke-width="3.01" stroke-dasharray="8.79 5.05 9.07 4.77 4.12 3.38" stroke-dashoffset="12.92" class="p"/><path d="M180 1080.05A271.59 271.59 0 0 0 163.66 1052.47" fill="none" stroke="rgb(22,0,0)" stroke-width="2.31" stroke-dasharray="3.34 3 6.02 6.22 9.6 4.96" stroke-dashoffset="11.18" class="p"/><path d="M174.01 1083.22A264.83 264.83 0 0 0 158.08 1056.33" fill="none" stroke="rgb(14,0,0)" stroke-width="3.05" stroke-dasharray="9.52 3.03 4.43 2.08 3.2 6.04" stroke-dashoffset="0.31" class="p"/><path d="M161.18 1054.19A268.58 268.58 0 0 0 140.12 1026.85" fill="none" stroke="rgb(15,0,0)" stroke-width="2.91" stroke-dasharray="7.3 6.56 8.23 3.4 7.25 3.45" stroke-dashoffset="17.39" class="p"/><path d="M163.79 1052.38A271.75 271.75 0 0 0 142.49 1024.72" fill="none" stroke="rgb(19,0,0)" stroke-width="2.37" stroke-dasharray="9.24 3.73 9.68 4.91 4.8 5.23" stroke-dashoffset="0.79" class="p"/><path d="M159.58 1055.29A266.65 266.65 0 0 0 138.68 1028.15" fill="none" stroke="rgb(13,0,0)" stroke-width="2.44" stroke-dasharray="4.69 2.5 8.44 2.71 8.28 3.36" stroke-dashoffset="16.57" class="p"/><path d="M140.1 1026.87A268.56 268.56 0 0 0 112.11 999.28" fill="none" stroke="rgb(22,0,0)" stroke-width="2.68" stroke-dasharray="7.23 6.68 7.36 4.91 5.27 3.9" stroke-dashoffset="12.84" class="p"/><path d="M143.2 1024.08A272.7 272.7 0 0 0 114.77 996.07" fill="none" stroke="rgb(16,0,0)" stroke-width="2.66" stroke-dasharray="8.04 3.13 3.19 3.83 6.04 6.23" stroke-dashoffset="12.11" class="p"/><path d="M138.7 1028.13A266.69 266.69 0 0 0 110.91 1000.73" fill="none" stroke="rgb(10,0,0)" stroke-width="3.06" stroke-dasharray="7.75 4.79 6.87 3.18 3.86 4.2" stroke-dashoffset="5.86" class="p"/><path d="M112.03 999.38A268.43 268.43 0 0 0 84.52 978.84" fill="none" stroke="rgb(12,0,0)" stroke-width="2.24" stroke-dasharray="6.18 2.89 8.52 2.43 4.6 3.39" stroke-dashoffset="1.6" class="p"/><path d="M114.69 996.17A272.57 272.57 0 0 0 86.76 975.31" fill="none" stroke="rgb(10,0,0)" stroke-width="2.35" stroke-dasharray="4.2 5.21 7.2 5.12 6.36 5.06" stroke-dashoffset="13.77" class="p"/><path d="M116.71 1438.4A288.63 288.63 0 0 0 142.17 1415.75" fill="none" stroke="rgb(14,0,0)" stroke-width="2.75" stroke-dasharray="8.03 2.93 9.68 6.91 6.47 6.98" stroke-dashoffset="1.74" class="p"/><path d="M142.46 1416.05A289.04 289.04 0 0 0 168.72 1385.89" fill="none" stroke="rgb(17,0,0)" stroke-width="2.8" stroke-dasharray="8.48 4.18 8.19 5.02 7.44 4.74" stroke-dashoffset="1.81" class="p"/><path d="M144.27 1417.91A291.62 291.62 0 0 0 170.77 1387.48" fill="none" stroke="rgb(14,0,0)" stroke-width="2.43" stroke-dasharray="7.93 4.14 9.79 4.41 4.16 4.56" stroke-dashoffset="17.77" class="p"/><path d="M168.51 1385.73A288.78 288.78 0 0 0 190.36 1352.35" fill="none" stroke="rgb(14,0,0)" stroke-width="3.09" stroke-dasharray="6.62 6.98 3.62 6.29 3.04 6.89" stroke-dashoffset="12.75" class="p"/><path d="M171.48 1388.04A292.52 292.52 0 0 0 193.62 1354.23" fill="none" stroke="rgb(15,0,0)" stroke-width="2.57" stroke-dasharray="4.15 3.78 6.09 6.35 3.8 4.7" stroke-dashoffset="15.85" class="p"/><path d="M166.1 1383.85A285.74 285.74 0 0 0 187.72 1350.83" fill="none" stroke="rgb(13,0,0)" stroke-width="2.06" stroke-dasharray="5.26 6.77 7.19 3.36 6.83 6.34" stroke-dashoffset="9.75" class="p"/><path d="M191.07 1352.76A289.59 289.59 0 0 0 204.96 1324.59" fill="none" stroke="rgb(17,0,0)" stroke-width="2.57" stroke-dasharray="4.62 4.19 5.95 5.01 4.89 5.1" stroke-dashoffset="16.09" class="p"/><path d="M193.02 1353.88A291.83 291.83 0 0 0 207.02 1325.49" fill="none" stroke="rgb(15,0,0)" stroke-width="2.82" stroke-dasharray="9.84 4.73 5.34 3.27 7.99 4.18" stroke-dashoffset="17.2" class="p"/><path d="M188.33 1351.18A286.44 286.44 0 0 0 202.08 1323.32" fill="none" stroke="rgb(12,0,0)" stroke-width="2.67" stroke-dasharray="9.09 4.19 5.81 4.89 6.66 4.74" stroke-dashoffset="14.86" class="p"/><path d="M205.07 1324.63A289.7 289.7 0 0 0 214.7 1298.92" fill="none" stroke="rgb(43,0,0)" stroke-width="2.59" stroke-dasharray="3.11 2.26 8.73 3.38 3.21 2.88" stroke-dashoffset="0.4" class="p"/><path d="M207.74 1325.81A292.61 292.61 0 0 0 217.47 1299.84" fill="none" stroke="rgb(16,0,0)" stroke-width="3.03" stroke-dasharray="3.09 2.27 5.21 4.45 9.78 5.24" stroke-dashoffset="18.21" class="p"/><path d="M201.1 1322.88A285.37 285.37 0 0 0 210.59 1297.56" fill="none" stroke="rgb(21,0,0)" stroke-width="2.24" stroke-dasharray="4.68 3.86 6.36 2.55 9.47 4.41" stroke-dashoffset="16.1" class="p"/><path d="M214.13 1298.73A289.1 289.1 0 0 0 222.12 1268.66" fill="none" stroke="rgb(36,0,0)" stroke-width="2.83" stroke-dasharray="3.64 3.21 4.31 4.53 7.81 3.14" stroke-dashoffset="15.02" class="p"/><path d="M216.39 1299.48A291.47 291.47 0 0 0 224.44 1269.16" fill="none" stroke="rgb(39,0,0)" stroke-width="2.77" stroke-dasharray="5.33 6.98 6.19 4.55 4.24 2.42" stroke-dashoffset="0.7" class="p"/><path d="M211.71 1297.93A286.55 286.55 0 0 0 219.62 1268.12" fill="none" stroke="rgb(12,0,0)" stroke-width="2.82" stroke-dasharray="6.8 2.98 4.84 5.84 6.12 2.74" stroke-dashoffset="12.44" class="p"/><path d="M221.94 1268.62A288.91 288.91 0 0 0 227.07 1234.39" fill="none" stroke="rgb(39,0,0)" stroke-width="2.15" stroke-dasharray="7.92 6.19 8.5 3.24 8.46 2.52" stroke-dashoffset="3.69" class="p"/><path d="M225.33 1269.35A292.38 292.38 0 0 0 230.52 1234.71" fill="none" stroke="rgb(31,0,0)" stroke-width="2.92" stroke-dasharray="4.99 6.72 6.03 6.08 9.61 4.26" stroke-dashoffset="7.99" class="p"/><path d="M219.12 1268.01A286.03 286.03 0 0 0 224.19 1234.12" fill="none" stroke="rgb(15,0,0)" stroke-width="2.47" stroke-dasharray="7.61 6.61 7.81 3.58 6.68 3.78" stroke-dashoffset="0.13" class="p"/><path d="M227.48 1234.43A289.33 289.33 0 0 0 228.56 1199.02" fill="none" stroke="rgb(39,0,0)" stroke-width="2.52" stroke-dasharray="4.03 5.66 4.78 4.02 4.73 4.99" stroke-dashoffset="8.5" class="p"/><path d="M231.1 1234.76A292.96 292.96 0 0 0 232.19 1198.91" fill="none" stroke="rgb(39,0,0)" stroke-width="2.58" stroke-dasharray="6.86 2.53 6.44 3.26 5.09 6.74" stroke-dashoffset="3.12" class="p"/><path d="M222.42 1233.96A284.25 284.25 0 0 0 223.49 1199.17" fill="none" stroke="rgb(26,0,0)" stroke-width="2.44" stroke-dasharray="3.83 3.11 3.89 2.12 9.35 6.82" stroke-dashoffset="14.68" class="p"/><path d="M228.83 1199.01A289.6 289.6 0 0 0 225.12 1160.04" fill="none" stroke="rgb(22,0,0)" stroke-width="2.61" stroke-dasharray="8.37 2.34 4.63 5.89 8.37 3.17" stroke-dashoffset="12.07" class="p"/><path d="M231.78 1198.93A292.55 292.55 0 0 0 228.03 1159.55" fill="none" stroke="rgb(31,0,0)" stroke-width="2.76" stroke-dasharray="4.29 2.34 4.32 4.62 7.17 4.3" stroke-dashoffset="12.91" class="p"/><path d="M224.75 1199.14A285.51 285.51 0 0 0 221.09 1160.71" fill="none" stroke="rgb(21,0,0)" stroke-width="2.83" stroke-dasharray="8.89 4.66 9.16 6.93 8.79 5.86" stroke-dashoffset="4.95" class="p"/><path d="M224.88 1160.08A289.36 289.36 0 0 0 219.18 1133.01" fill="none" stroke="rgb(41,0,0)" stroke-width="2.36" stroke-dasharray="4.74 5.06 6.85 5.04 6 3.2" stroke-dashoffset="17.71" class="p"/><path d="M228.41 1159.49A292.93 292.93 0 0 0 222.64 1132.09" fill="none" stroke="rgb(24,0,0)" stroke-width="2.97" stroke-dasharray="5.2 4.24 6 5.16 8.29 5.84" stroke-dashoffset="19.44" class="p"/><path d="M220.66 1160.78A285.07 285.07 0 0 0 215.04 1134.11" fill="none" stroke="rgb(20,0,0)" stroke-width="2.62" stroke-dasharray="6.13 5.26 5.2 6.15 5.92 4.78" stroke-dashoffset="0.21" class="p"/><path d="M219.6 1132.9A289.78 289.78 0 0 0 210.15 1103.08" fill="none" stroke="rgb(31,0,0)" stroke-width="2.02" stroke-dasharray="9.66 2.69 9.32 6.86 8.54 3.4" stroke-dashoffset="1.37" class="p"/><path d="M221.86 1132.3A292.12 292.12 0 0 0 212.33 1102.24" fill="none" stroke="rgb(21,0,0)" stroke-width="2.11" stroke-dasharray="9.57 5.37 8.77 6.17 4.25 4.52" stroke-dashoffset="9.92" class="p"/><path d="M215.83 1133.9A285.89 285.89 0 0 0 206.51 1104.49" fill="none" stroke="rgb(25,0,0)" stroke-width="2.7" stroke-dasharray="5.02 5.33 3.99 3.28 3.41 4.9" stroke-dashoffset="8.39" class="p"/><path d="M209.71 1103.25A289.31 289.31 0 0 0 190.9 1062.8" fill="none" stroke="rgb(32,0,0)" stroke-width="3.15" stroke-dasharray="6.98 6.37 4.26 3.46 6.86 5" stroke-dashoffset="0.93" class="p"/><path d="M212.53 1102.16A292.33 292.33 0 0 0 193.52 1061.29" fill="none" stroke="rgb(30,0,0)" stroke-width="2.31" stroke-dasharray="6.27 3.03 8.34 5.14 8.98 4.76" stroke-dashoffset="9.32" class="p"/><path d="M205.83 1104.75A285.16 285.16 0 0 0 187.29 1064.88" fill="none" stroke="rgb(14,0,0)" stroke-width="2.89" stroke-dasharray="7.06 2.75 4.77 2.59 3.19 4.63" stroke-dashoffset="18.04" class="p"/><path d="M189.88 1063.39A288.14 288.14 0 0 0 169.36 1031.76" fill="none" stroke="rgb(23,0,0)" stroke-width="2.82" stroke-dasharray="5 6.49 5.44 6.23 4.71 6.76" stroke-dashoffset="14.63" class="p"/><path d="M194.18 1060.91A293.09 293.09 0 0 0 173.31 1028.74" fill="none" stroke="rgb(11,0,0)" stroke-width="2.11" stroke-dasharray="5.7 3.89 5.34 3.81 4.12 4" stroke-dashoffset="7.08" class="p"/><path d="M187.31 1064.87A285.19 285.19 0 0 0 167 1033.56" fill="none" stroke="rgb(14,0,0)" stroke-width="3.12" stroke-dasharray="6 6.87 9.16 5.53 8.89 6.57" stroke-dashoffset="11.86" class="p"/><path d="M170.6 1030.81A289.69 289.69 0 0 0 153.57 1010.01" fill="none" stroke="rgb(14,0,0)" stroke-width="2.58" stroke-dasharray="5.3 5.11 3.05 5.77 3.52 4.11" stroke-dashoffset="12.65" class="p"/><path d="M172.4 1029.43A291.96 291.96 0 0 0 155.24 1008.47" fill="none" stroke="rgb(9,0,0)" stroke-width="2.33" stroke-dasharray="7.66 3.18 7.32 4.07 9.69 4.25" stroke-dashoffset="19.15" class="p"/><path d="M167.15 1033.45A285.38 285.38 0 0 0 150.38 1012.96" fill="none" stroke="rgb(8,0,0)" stroke-width="2.87" stroke-dasharray="4.7 4.68 7.69 6.7 3.56 3.65" stroke-dashoffset="13.82" class="p"/><path d="M138.81 1450.19A311.56 311.56 0 0 0 166.36 1423.9" fill="none" stroke="rgb(10,0,0)" stroke-width="2.99" stroke-dasharray="6.54 4.62 5.62 2.14 8.75 3.95" stroke-dashoffset="8.64" class="p"/><path d="M167.27 1424.77A312.81 312.81 0 0 0 187.15 1401.12" fill="none" stroke="rgb(15,0,0)" stroke-width="2.21" stroke-dasharray="9.57 7 6.81 5.66 7.21 4.39" stroke-dashoffset="8.86" class="p"/><path d="M161.95 1419.71A305.52 305.52 0 0 0 181.37 1396.6" fill="none" stroke="rgb(9,0,0)" stroke-width="2.94" stroke-dasharray="3.29 3.47 3.79 5.81 6.35 3.43" stroke-dashoffset="5.81" class="p"/><path d="M184.45 1399.01A309.4 309.4 0 0 0 204.44 1369.33" fill="none" stroke="rgb(9,0,0)" stroke-width="2.65" stroke-dasharray="3.42 2.18 9.73 6.39 6.81 6.7" stroke-dashoffset="2.09" class="p"/><path d="M186.76 1400.81A312.31 312.31 0 0 0 206.94 1370.86" fill="none" stroke="rgb(13,0,0)" stroke-width="2.59" stroke-dasharray="7.28 4.05 7.57 3.72 7.58 3.04" stroke-dashoffset="10.52" class="p"/><path d="M203.86 1368.97A308.71 308.71 0 0 0 218.98 1340.22" fill="none" stroke="rgb(26,0,0)" stroke-width="3.16" stroke-dasharray="4.16 4.38 9.96 5.05 8.14 5.85" stroke-dashoffset="7.91" class="p"/><path d="M207.47 1371.18A312.93 312.93 0 0 0 222.8 1342.03" fill="none" stroke="rgb(21,0,0)" stroke-width="2.61" stroke-dasharray="3.18 4.34 4.9 4.78 8.13 6.31" stroke-dashoffset="1.58" class="p"/><path d="M201.67 1367.64A306.16 306.16 0 0 0 216.66 1339.13" fill="none" stroke="rgb(15,0,0)" stroke-width="2.24" stroke-dasharray="9.51 5.08 6.43 4.55 5.88 2.9" stroke-dashoffset="10.31" class="p"/><path d="M218.51 1340A308.19 308.19 0 0 0 229.11 1314.06" fill="none" stroke="rgb(29,0,0)" stroke-width="2.55" stroke-dasharray="8.81 5.26 4.26 6.76 4.27 4.54" stroke-dashoffset="5.34" class="p"/><path d="M222.3 1341.8A312.38 312.38 0 0 0 233.05 1315.5" fill="none" stroke="rgb(15,0,0)" stroke-width="2.51" stroke-dasharray="4.17 2.21 7.52 5.33 4.76 6.76" stroke-dashoffset="18.55" class="p"/><path d="M216.25 1338.93A305.7 305.7 0 0 0 226.77 1313.2" fill="none" stroke="rgb(18,0,0)" stroke-width="2.9" stroke-dasharray="6.26 5.73 8.18 3.54 3.49 5.66" stroke-dashoffset="2.34" class="p"/><path d="M228.83 1313.95A307.89 307.89 0 0 0 240.59 1272.21" fill="none" stroke="rgb(22,0,0)" stroke-width="2.13" stroke-dasharray="8.58 5.11 7.46 2.38 5.55 5.66" stroke-dashoffset="8.27" class="p"/><path d="M233.69 1315.74A313.06 313.06 0 0 0 245.65 1273.3" fill="none" stroke="rgb(33,0,0)" stroke-width="2.25" stroke-dasharray="7.41 3.15 3.57 6.18 8.9 5.51" stroke-dashoffset="0.2" class="p"/><path d="M225.62 1312.77A304.48 304.48 0 0 0 237.25 1271.5" fill="none" stroke="rgb(13,0,0)" stroke-width="2.32" stroke-dasharray="5.24 6.78 3.25 2.8 8.14 5.81" stroke-dashoffset="17.08" class="p"/><path d="M242.74 1272.67A310.09 310.09 0 0 0 249 1224.43" fill="none" stroke="rgb(50,0,0)" stroke-width="2.6" stroke-dasharray="6.96 2.43 8.18 5.25 8.82 5.8" stroke-dashoffset="9.24" class="p"/><path d="M244.72 1273.1A312.12 312.12 0 0 0 251.03 1224.54" fill="none" stroke="rgb(27,0,0)" stroke-width="3.05" stroke-dasharray="7.46 5.94 7.11 6.7 4.9 6.48" stroke-dashoffset="0.57" class="p"/><path d="M238.08 1271.68A305.32 305.32 0 0 0 244.25 1224.17" fill="none" stroke="rgb(24,0,0)" stroke-width="2.8" stroke-dasharray="7.34 6.8 6.91 5.62 8.32 2.84" stroke-dashoffset="4.32" class="p"/><path d="M248.56 1224.41A309.64 309.64 0 0 0 248.57 1191.02" fill="none" stroke="rgb(33,0,0)" stroke-width="3" stroke-dasharray="8.14 4.76 5.24 2.28 8.51 5.77" stroke-dashoffset="1.26" class="p"/><path d="M250.29 1224.5A311.38 311.38 0 0 0 250.3 1190.93" fill="none" stroke="rgb(24,0,0)" stroke-width="2.06" stroke-dasharray="6.24 3.49 8.77 3.02 3.1 4.26" stroke-dashoffset="12.12" class="p"/><path d="M244.35 1224.18A305.43 305.43 0 0 0 244.36 1191.25" fill="none" stroke="rgb(25,0,0)" stroke-width="2.19" stroke-dasharray="6.8 2.35 6.92 4.61 5.13 3.12" stroke-dashoffset="7.34" class="p"/><path d="M248.6 1191.02A309.67 309.67 0 0 0 243.97 1151.11" fill="none" stroke="rgb(42,0,0)" stroke-width="2.88" stroke-dasharray="4.93 5.04 4.81 5.73 4.43 4.97" stroke-dashoffset="10.62" class="p"/><path d="M250.45 1190.92A311.53 311.53 0 0 0 245.79 1150.77" fill="none" stroke="rgb(40,0,0)" stroke-width="2.21" stroke-dasharray="9.9 5.96 5.51 3.33 7.39 2.64" stroke-dashoffset="13.02" class="p"/><path d="M245.27 1191.2A306.34 306.34 0 0 0 240.68 1151.72" fill="none" stroke="rgb(19,0,0)" stroke-width="2.13" stroke-dasharray="9.45 6.03 6.72 3.7 5.24 2.26" stroke-dashoffset="5.96" class="p"/><path d="M242.18 1151.44A307.86 307.86 0 0 0 236.15 1124.74" fill="none" stroke="rgb(48,0,0)" stroke-width="2.78" stroke-dasharray="5.66 5.87 6.17 6.84 3.56 4.37" stroke-dashoffset="18.35" class="p"/><path d="M246.8 1150.59A312.55 312.55 0 0 0 240.67 1123.48" fill="none" stroke="rgb(22,0,0)" stroke-width="3.1" stroke-dasharray="7.75 2.39 3.55 2.43 8.52 6.71" stroke-dashoffset="1.83" class="p"/><path d="M239.67 1151.91A305.31 305.31 0 0 0 233.69 1125.43" fill="none" stroke="rgb(25,0,0)" stroke-width="2.1" stroke-dasharray="6.55 5.91 7.44 4.83 4.2 2.71" stroke-dashoffset="5.78" class="p"/><path d="M236.99 1124.5A308.74 308.74 0 0 0 220.9 1079.26" fill="none" stroke="rgb(16,0,0)" stroke-width="2.7" stroke-dasharray="8.31 2.6 3.72 6.61 4.54 4.97" stroke-dashoffset="7" class="p"/><path d="M241.57 1123.22A313.49 313.49 0 0 0 225.23 1077.28" fill="none" stroke="rgb(15,0,0)" stroke-width="2.42" stroke-dasharray="7.87 3.86 7.21 6.09 3.53 4.12" stroke-dashoffset="12.42" class="p"/><path d="M233.2 1125.56A304.8 304.8 0 0 0 217.31 1080.89" fill="none" stroke="rgb(12,0,0)" stroke-width="2.65" stroke-dasharray="6.21 2.07 6.6 2.35 3.97 4.54" stroke-dashoffset="11.67" class="p"/><path d="M221.99 1078.76A309.94 309.94 0 0 0 206.48 1048.36" fill="none" stroke="rgb(26,0,0)" stroke-width="2.11" stroke-dasharray="3.37 6.21 6.14 2.86 5.04 5.14" stroke-dashoffset="4.42" class="p"/><path d="M223.55 1078.05A311.64 311.64 0 0 0 207.95 1047.48" fill="none" stroke="rgb(16,0,0)" stroke-width="2.77" stroke-dasharray="3.51 4.28 9.73 2.93 4.25 4.73" stroke-dashoffset="4.38" class="p"/><path d="M217.51 1080.8A305.02 305.02 0 0 0 202.24 1050.89" fill="none" stroke="rgb(15,0,0)" stroke-width="2.26" stroke-dasharray="4.68 2.14 7.86 6.34 8.64 6.28" stroke-dashoffset="12" class="p"/><path d="M206.41 1048.4A309.85 309.85 0 0 0 183.73 1014.6" fill="none" stroke="rgb(19,0,0)" stroke-width="2.1" stroke-dasharray="6.87 3.17 4.67 2.42 3.4 4.91" stroke-dashoffset="19.18" class="p"/><path d="M208.15 1047.36A311.88 311.88 0 0 0 185.33 1013.34" fill="none" stroke="rgb(9,0,0)" stroke-width="2.08" stroke-dasharray="9.76 5.12 3.04 3.92 5.53 3.55" stroke-dashoffset="0.35" class="p"/><path d="M203.14 1050.35A306.06 306.06 0 0 0 180.74 1016.97" fill="none" stroke="rgb(10,0,0)" stroke-width="2.42" stroke-dasharray="6.37 3.16 9.47 6.43 6.5 6.01" stroke-dashoffset="15.56" class="p"/><path d="M183.61 1014.7A309.69 309.69 0 0 0 160.83 988.28" fill="none" stroke="rgb(15,0,0)" stroke-width="2.6" stroke-dasharray="5.46 2.87 5.93 2.57 8.03 3.26" stroke-dashoffset="11.97" class="p"/><path d="M185.89 1012.89A312.6 312.6 0 0 0 162.9 986.23" fill="none" stroke="rgb(14,0,0)" stroke-width="2.79" stroke-dasharray="8.08 5.46 8.19 5.45 9.43 4.97" stroke-dashoffset="10.68" class="p"/><path d="M179.74 1017.76A304.79 304.79 0 0 0 157.32 991.76" fill="none" stroke="rgb(11,0,0)" stroke-width="2" stroke-dasharray="5.1 2.95 6.51 3.56 8 5.18" stroke-dashoffset="12.38" class="p"/><path d="M176.14 1436A326.87 326.87 0 0 0 208.33 1395.86" fill="none" stroke="rgb(16,0,0)" stroke-width="2.25" stroke-dasharray="6.04 6.07 7.67 6.03 9.99 2.36" stroke-dashoffset="16.37" class="p"/><path d="M178.44 1438.22A330.04 330.04 0 0 0 210.95 1397.69" fill="none" stroke="rgb(13,0,0)" stroke-width="3.11" stroke-dasharray="4.58 4.43 9.23 5.61 7.11 6.47" stroke-dashoffset="19.32" class="p"/><path d="M209.31 1396.54A328.05 328.05 0 0 0 231.22 1359.44" fill="none" stroke="rgb(21,0,0)" stroke-width="2.75" stroke-dasharray="5.06 3.53 9.34 5.96 9.84 2.47" stroke-dashoffset="19.13" class="p"/><path d="M210.94 1397.68A330.03 330.03 0 0 0 232.98 1360.36" fill="none" stroke="rgb(17,0,0)" stroke-width="2.18" stroke-dasharray="4.96 2.5 4.21 3.3 6.99 3.61" stroke-dashoffset="13.71" class="p"/><path d="M206.68 1394.7A324.86 324.86 0 0 0 228.38 1357.96" fill="none" stroke="rgb(13,0,0)" stroke-width="2.03" stroke-dasharray="3.86 4.57 9.86 3.8 6.74 6.05" stroke-dashoffset="15.49" class="p"/><path d="M230.07 1358.84A326.77 326.77 0 0 0 247.91 1316.67" fill="none" stroke="rgb(20,0,0)" stroke-width="2.18" stroke-dasharray="6.44 6.7 3.43 2.41 7.48 6.76" stroke-dashoffset="9.2" class="p"/><path d="M232.99 1360.36A330.04 330.04 0 0 0 251 1317.77" fill="none" stroke="rgb(24,0,0)" stroke-width="2.11" stroke-dasharray="6.95 5.3 3.36 3 7.1 5.62" stroke-dashoffset="6.29" class="p"/><path d="M226.83 1357.16A323.12 323.12 0 0 0 244.46 1315.46" fill="none" stroke="rgb(13,0,0)" stroke-width="3.1" stroke-dasharray="5.33 2.85 3.52 5.23 9.68 5.17" stroke-dashoffset="12.32" class="p"/><path d="M248.73 1316.96A327.64 327.64 0 0 0 258.9 1281" fill="none" stroke="rgb(39,0,0)" stroke-width="2.1" stroke-dasharray="7.19 5.07 9.4 6.78 3.96 4.19" stroke-dashoffset="4.48" class="p"/><path d="M252.51 1318.3A331.64 331.64 0 0 0 262.8 1281.9" fill="none" stroke="rgb(28,0,0)" stroke-width="2.07" stroke-dasharray="5.49 2.04 9.22 2.63 4.88 4.6" stroke-dashoffset="14.33" class="p"/><path d="M245.62 1315.87A324.35 324.35 0 0 0 255.69 1280.26" fill="none" stroke="rgb(11,0,0)" stroke-width="2.65" stroke-dasharray="7.35 2.64 6.71 2.47 4.97 4.25" stroke-dashoffset="18.54" class="p"/><path d="M258.62 1280.94A327.35 327.35 0 0 0 264.66 1244.76" fill="none" stroke="rgb(29,0,0)" stroke-width="3" stroke-dasharray="4.46 5.69 5.57 3.06 4.35 4.1" stroke-dashoffset="16.27" class="p"/><path d="M261.7 1281.64A330.51 330.51 0 0 0 267.8 1245.12" fill="none" stroke="rgb(26,0,0)" stroke-width="2.3" stroke-dasharray="7.07 3.28 5.87 5.62 3.59 4.27" stroke-dashoffset="6.76" class="p"/><path d="M256.23 1280.39A324.9 324.9 0 0 0 262.22 1244.48" fill="none" stroke="rgb(14,0,0)" stroke-width="2.82" stroke-dasharray="7.03 2.2 4.67 3.32 4.27 6.17" stroke-dashoffset="2.66" class="p"/><path d="M264.63 1244.75A327.33 327.33 0 0 0 266.67 1211.54" fill="none" stroke="rgb(29,0,0)" stroke-width="2.4" stroke-dasharray="6.56 6.17 8.84 6.3 3.12 2.14" stroke-dashoffset="0.13" class="p"/><path d="M268.14 1245.15A330.86 330.86 0 0 0 270.2 1211.58" fill="none" stroke="rgb(25,0,0)" stroke-width="2.14" stroke-dasharray="3.89 6.37 4.47 3.59 4.22 6.24" stroke-dashoffset="4.41" class="p"/><path d="M260.68 1244.3A323.35 323.35 0 0 0 262.69 1211.49" fill="none" stroke="rgb(16,0,0)" stroke-width="2.76" stroke-dasharray="9.96 5.57 8.15 3.78 9.84 6.83" stroke-dashoffset="0.97" class="p"/><path d="M266.15 1211.53A326.81 326.81 0 0 0 264.07 1170.12" fill="none" stroke="rgb(35,0,0)" stroke-width="2.05" stroke-dasharray="9.04 6.99 8.72 3.21 9.89 5.06" stroke-dashoffset="19.17" class="p"/><path d="M270.31 1211.58A330.97 330.97 0 0 0 268.2 1169.64" fill="none" stroke="rgb(37,0,0)" stroke-width="2.65" stroke-dasharray="8.18 5.31 3.16 6.68 5.09 5.86" stroke-dashoffset="10.53" class="p"/><path d="M263.1 1211.49A323.76 323.76 0 0 0 261.03 1170.47" fill="none" stroke="rgb(30,0,0)" stroke-width="2.06" stroke-dasharray="8.85 3.97 8.97 2.88 5.44 3.6" stroke-dashoffset="0.04" class="p"/><path d="M264.93 1170.02A327.68 327.68 0 0 0 255.3 1119.57" fill="none" stroke="rgb(42,0,0)" stroke-width="2.51" stroke-dasharray="6.35 2.31 4.84 5.86 5.06 2.47" stroke-dashoffset="2.53" class="p"/><path d="M269.19 1169.53A331.97 331.97 0 0 0 259.44 1118.42" fill="none" stroke="rgb(23,0,0)" stroke-width="2.1" stroke-dasharray="6.9 5.72 5.85 6.96 4.79 5.75" stroke-dashoffset="10.9" class="p"/><path d="M261.77 1170.39A324.5 324.5 0 0 0 252.24 1120.43" fill="none" stroke="rgb(14,0,0)" stroke-width="2.95" stroke-dasharray="8.7 6.42 3.91 6.41 9.71 3.78" stroke-dashoffset="11.34" class="p"/><path d="M254.04 1119.92A326.37 326.37 0 0 0 242.12 1084.13" fill="none" stroke="rgb(22,0,0)" stroke-width="2.26" stroke-dasharray="8.71 5.91 9.62 2.34 6.99 5.53" stroke-dashoffset="17.87" class="p"/><path d="M258.42 1118.7A330.91 330.91 0 0 0 246.33 1082.41" fill="none" stroke="rgb(27,0,0)" stroke-width="2.85" stroke-dasharray="7.99 3.66 6.07 6.06 3.65 5.61" stroke-dashoffset="19.06" class="p"/><path d="M252.67 1120.31A324.95 324.95 0 0 0 240.79 1084.67" fill="none" stroke="rgb(18,0,0)" stroke-width="3.19" stroke-dasharray="9.19 2.97 5.86 3.46 6.49 5.77" stroke-dashoffset="17.06" class="p"/><path d="M242.6 1083.93A326.89 326.89 0 0 0 220.05 1037.87" fill="none" stroke="rgb(25,0,0)" stroke-width="2.45" stroke-dasharray="8.16 2.45 5.85 4.45 3.74 6.51" stroke-dashoffset="1.64" class="p"/><path d="M246.65 1082.28A331.26 331.26 0 0 0 223.8 1035.6" fill="none" stroke="rgb(17,0,0)" stroke-width="2.83" stroke-dasharray="5.36 6.74 7.44 4.15 4.1 2.24" stroke-dashoffset="9.9" class="p"/><path d="M239.76 1085.09A323.83 323.83 0 0 0 217.42 1039.46" fill="none" stroke="rgb(12,0,0)" stroke-width="2.4" stroke-dasharray="5.87 6.53 3.39 3.16 8.56 3.58" stroke-dashoffset="5.92" class="p"/><path d="M220.2 1037.78A327.07 327.07 0 0 0 194 999.65" fill="none" stroke="rgb(9,0,0)" stroke-width="2.12" stroke-dasharray="6.89 5.57 5.4 5.65 5.48 5.11" stroke-dashoffset="11.21" class="p"/><path d="M223.04 1036.06A330.37 330.37 0 0 0 196.58 997.55" fill="none" stroke="rgb(13,0,0)" stroke-width="2.75" stroke-dasharray="6.25 2.19 6.77 6.33 4.9 3.04" stroke-dashoffset="2.04" class="p"/><path d="M195.14 998.72A328.53 328.53 0 0 0 166.04 966.68" fill="none" stroke="rgb(13,0,0)" stroke-width="3.17" stroke-dasharray="8.4 4.95 9.12 6.24 4.88 3.91" stroke-dashoffset="12.82" class="p"/><path d="M197.81 996.54A331.96 331.96 0 0 0 168.41 964.16" fill="none" stroke="rgb(9,0,0)" stroke-width="2.76" stroke-dasharray="5.4 2.45 5.31 3.15 7.42 5.28" stroke-dashoffset="0.01" class="p"/><path d="M260.77 1339.16A346.62 346.62 0 0 0 272.74 1303.81" fill="none" stroke="rgb(11,0,0)" stroke-width="2.94" stroke-dasharray="4.59 5.47 3.61 2.59 6.55 6.95" stroke-dashoffset="14.83" class="p"/><path d="M256.54 1337.43A342.06 342.06 0 0 0 268.36 1302.54" fill="none" stroke="rgb(8,0,0)" stroke-width="2.57" stroke-dasharray="3.12 4.6 3.23 2.58 3.85 3.73" stroke-dashoffset="1.55" class="p"/><path d="M272.7 1303.8A346.58 346.58 0 0 0 280.24 1271.06" fill="none" stroke="rgb(32,0,0)" stroke-width="2.18" stroke-dasharray="9.89 6.57 3.96 3.01 9.15 2.08" stroke-dashoffset="19.29" class="p"/><path d="M276.38 1304.86A350.4 350.4 0 0 0 284.01 1271.76" fill="none" stroke="rgb(25,0,0)" stroke-width="2.91" stroke-dasharray="8.91 3.59 8.14 6.68 9.3 6.85" stroke-dashoffset="14.04" class="p"/><path d="M268.95 1302.72A342.68 342.68 0 0 0 276.41 1270.35" fill="none" stroke="rgb(12,0,0)" stroke-width="2.85" stroke-dasharray="7.01 6.65 7 2.13 6.13 6.36" stroke-dashoffset="18.68" class="p"/><path d="M279.48 1270.92A345.81 345.81 0 0 0 284.87 1222.18" fill="none" stroke="rgb(23,0,0)" stroke-width="2.01" stroke-dasharray="7.91 6.35 3.05 6.69 6.02 6.24" stroke-dashoffset="6.08" class="p"/><path d="M284.02 1271.76A350.42 350.42 0 0 0 289.48 1222.38" fill="none" stroke="rgb(18,0,0)" stroke-width="2.48" stroke-dasharray="7.6 5.98 7.55 6.55 3.8 3.43" stroke-dashoffset="14.76" class="p"/><path d="M277.21 1270.5A343.5 343.5 0 0 0 282.56 1222.09" fill="none" stroke="rgb(27,0,0)" stroke-width="3.02" stroke-dasharray="9.11 4.65 8.18 6.09 6.64 5.4" stroke-dashoffset="3.15" class="p"/><path d="M285.58 1222.21A346.52 346.52 0 0 0 285.48 1190.85" fill="none" stroke="rgb(42,0,0)" stroke-width="2.79" stroke-dasharray="8.71 2.95 8.96 5.78 4.15 2.77" stroke-dashoffset="3.2" class="p"/><path d="M288.66 1222.34A349.6 349.6 0 0 0 288.56 1190.7" fill="none" stroke="rgb(39,0,0)" stroke-width="3.1" stroke-dasharray="4.51 6.17 9.62 2.6 7.91 4.75" stroke-dashoffset="8.24" class="p"/><path d="M282.84 1222.1A343.77 343.77 0 0 0 282.74 1190.98" fill="none" stroke="rgb(16,0,0)" stroke-width="2.87" stroke-dasharray="8.93 3.6 9.38 2.17 9.22 2.1" stroke-dashoffset="6.43" class="p"/><path d="M285.93 1190.83A346.97 346.97 0 0 0 280.94 1145.95" fill="none" stroke="rgb(29,0,0)" stroke-width="2.28" stroke-dasharray="3.46 6.2 6.46 6.01 3.25 2.82" stroke-dashoffset="0.47" class="p"/><path d="M289.32 1190.66A350.36 350.36 0 0 0 284.28 1145.35" fill="none" stroke="rgb(14,0,0)" stroke-width="2.43" stroke-dasharray="5.64 3.93 8.93 6.29 4.68 5.71" stroke-dashoffset="13.19" class="p"/><path d="M282.45 1190.99A343.49 343.49 0 0 0 277.52 1146.57" fill="none" stroke="rgb(11,0,0)" stroke-width="2.62" stroke-dasharray="6.29 4.12 6.22 4.78 7.83 4.01" stroke-dashoffset="13.62" class="p"/><path d="M280.78 1145.98A346.8 346.8 0 0 0 272.93 1111.49" fill="none" stroke="rgb(15,0,0)" stroke-width="2.44" stroke-dasharray="4.9 6.76 5.71 6.4 9.75 5.49" stroke-dashoffset="10.04" class="p"/><path d="M284.08 1145.38A350.16 350.16 0 0 0 276.15 1110.56" fill="none" stroke="rgb(26,0,0)" stroke-width="2.51" stroke-dasharray="6.51 5.18 7.79 5.15 4.25 4.84" stroke-dashoffset="15.49" class="p"/><path d="M277.59 1146.56A343.56 343.56 0 0 0 269.81 1112.39" fill="none" stroke="rgb(10,0,0)" stroke-width="2.94" stroke-dasharray="5.59 3.28 9.73 4.45 6.15 6.82" stroke-dashoffset="10.06" class="p"/><path d="M271.65 1111.86A345.48 345.48 0 0 0 261.05 1079.99" fill="none" stroke="rgb(13,0,0)" stroke-width="2.2" stroke-dasharray="3.59 4 6.16 4.4 9.85 4.66" stroke-dashoffset="13.59" class="p"/><path d="M275.19 1110.84A349.15 349.15 0 0 0 264.47 1078.63" fill="none" stroke="rgb(12,0,0)" stroke-width="2.59" stroke-dasharray="5.87 4.47 5.87 5.39 7.15 2.24" stroke-dashoffset="11.65" class="p"/><path d="M268.32 1112.82A342.01 342.01 0 0 0 257.82 1081.27" fill="none" stroke="rgb(8,0,0)" stroke-width="2.88" stroke-dasharray="8.33 6.82 8.19 5.09 6.55 2.57" stroke-dashoffset="7.59" class="p"/><path d="M273.34 1358.2A365.54 365.54 0 0 0 291.35 1307.56" fill="none" stroke="rgb(12,0,0)" stroke-width="3" stroke-dasharray="9.87 6 6.8 4.96 5.92 6.54" stroke-dashoffset="18.03" class="p"/><path d="M278.07 1360.33A370.71 370.71 0 0 0 296.32 1308.98" fill="none" stroke="rgb(10,0,0)" stroke-width="3.11" stroke-dasharray="5.52 5.72 5.95 5.47 6.53 5.15" stroke-dashoffset="9.61" class="p"/><path d="M291.58 1307.63A365.77 365.77 0 0 0 301.76 1257.88" fill="none" stroke="rgb(27,0,0)" stroke-width="2.3" stroke-dasharray="3.67 4.55 4.96 5.24 4.17 3.49" stroke-dashoffset="11.31" class="p"/><path d="M296.02 1308.89A370.38 370.38 0 0 0 306.33 1258.51" fill="none" stroke="rgb(25,0,0)" stroke-width="2.25" stroke-dasharray="7.49 5.23 8.33 3.95 6 5.26" stroke-dashoffset="18.42" class="p"/><path d="M288.94 1306.88A363.03 363.03 0 0 0 299.05 1257.51" fill="none" stroke="rgb(19,0,0)" stroke-width="2.22" stroke-dasharray="3.46 6.58 4.57 2.65 7.32 3.73" stroke-dashoffset="10.73" class="p"/><path d="M301.37 1257.83A365.38 365.38 0 0 0 304.72 1211.8" fill="none" stroke="rgb(33,0,0)" stroke-width="2.77" stroke-dasharray="7.32 5.89 8.05 5.53 8.79 4.35" stroke-dashoffset="1.63" class="p"/><path d="M304.94 1258.32A368.98 368.98 0 0 0 308.32 1211.84" fill="none" stroke="rgb(25,0,0)" stroke-width="3.16" stroke-dasharray="7.77 3.17 9.72 3.45 6.44 4.34" stroke-dashoffset="5.03" class="p"/><path d="M299.8 1257.61A363.8 363.8 0 0 0 303.14 1211.78" fill="none" stroke="rgb(22,0,0)" stroke-width="2.29" stroke-dasharray="5.54 3.72 3.92 6.59 6.1 4.89" stroke-dashoffset="2.12" class="p"/><path d="M306.76 1211.82A367.42 367.42 0 0 0 303.93 1161.32" fill="none" stroke="rgb(20,0,0)" stroke-width="2.28" stroke-dasharray="6.72 3.63 9.66 4.19 8.87 2.15" stroke-dashoffset="7.39" class="p"/><path d="M308.39 1211.84A369.05 369.05 0 0 0 305.54 1161.12" fill="none" stroke="rgb(15,0,0)" stroke-width="2.56" stroke-dasharray="4.82 3.81 6.69 3.91 5.13 4.37" stroke-dashoffset="10.36" class="p"/><path d="M301.92 1211.77A362.59 362.59 0 0 0 299.13 1161.93" fill="none" stroke="rgb(21,0,0)" stroke-width="2.36" stroke-dasharray="7.01 5.7 6.17 3.06 9.6 2.59" stroke-dashoffset="8.25" class="p"/><path d="M303.33 1161.4A366.83 366.83 0 0 0 296.8 1124.09" fill="none" stroke="rgb(34,0,0)" stroke-width="2.65" stroke-dasharray="5.12 4.74 7.26 2.65 6.02 2.66" stroke-dashoffset="17.08" class="p"/><path d="M305.28 1161.15A368.78 368.78 0 0 0 298.7 1123.64" fill="none" stroke="rgb(29,0,0)" stroke-width="3.04" stroke-dasharray="3.79 4.29 7.66 3.87 9.61 4.47" stroke-dashoffset="7.77" class="p"/><path d="M298.42 1162.02A361.88 361.88 0 0 0 291.97 1125.21" fill="none" stroke="rgb(18,0,0)" stroke-width="2.62" stroke-dasharray="8.86 4.48 9.01 5.8 5.89 5.54" stroke-dashoffset="17.99" class="p"/><path d="M296.39 1124.18A366.4 366.4 0 0 0 280.58 1072.36" fill="none" stroke="rgb(20,0,0)" stroke-width="2.46" stroke-dasharray="4.65 5.88 3.27 4.5 5.12 4.53" stroke-dashoffset="8.68" class="p"/><path d="M300.29 1123.27A370.41 370.41 0 0 0 284.31 1070.88" fill="none" stroke="rgb(15,0,0)" stroke-width="2.61" stroke-dasharray="7.6 3.39 4.39 3.19 5.29 4.12" stroke-dashoffset="19.65" class="p"/><path d="M305.38 1331.92A386.02 386.02 0 0 0 316.22 1292.34" fill="none" stroke="rgb(20,0,0)" stroke-width="2.72" stroke-dasharray="7.54 2.67 7.93 6.39 3.46 2.09" stroke-dashoffset="11.01" class="p"/><path d="M308.46 1332.97A389.26 389.26 0 0 0 319.39 1293.05" fill="none" stroke="rgb(13,0,0)" stroke-width="3.06" stroke-dasharray="5.85 4.83 9.39 4.99 8.22 4.33" stroke-dashoffset="10.17" class="p"/><path d="M315.31 1292.14A385.09 385.09 0 0 0 322.12 1250.49" fill="none" stroke="rgb(37,0,0)" stroke-width="3.09" stroke-dasharray="7.48 2.36 6.64 4.14 7.19 3.42" stroke-dashoffset="16.57" class="p"/><path d="M318.46 1292.85A388.31 388.31 0 0 0 325.33 1250.84" fill="none" stroke="rgb(16,0,0)" stroke-width="2.64" stroke-dasharray="9.21 4.73 6.82 4.17 9.6 4.81" stroke-dashoffset="9.15" class="p"/><path d="M312.86 1291.58A382.57 382.57 0 0 0 319.62 1250.21" fill="none" stroke="rgb(12,0,0)" stroke-width="2.11" stroke-dasharray="6.11 3.32 3.54 3.83 3.19 5.32" stroke-dashoffset="6.34" class="p"/><path d="M322.6 1250.54A385.57 385.57 0 0 0 324.93 1209.12" fill="none" stroke="rgb(34,0,0)" stroke-width="3.06" stroke-dasharray="5.04 5.62 5.13 6.61 3.29 2.28" stroke-dashoffset="5.27" class="p"/><path d="M325.81 1250.9A388.8 388.8 0 0 0 328.15 1209.14" fill="none" stroke="rgb(30,0,0)" stroke-width="2.31" stroke-dasharray="5.52 4.54 4.92 4.7 7.54 6.23" stroke-dashoffset="11.34" class="p"/><path d="M318.75 1250.11A381.69 381.69 0 0 0 321.05 1209.11" fill="none" stroke="rgb(27,0,0)" stroke-width="2.7" stroke-dasharray="6.36 6.32 9.47 4.04 5.84 6.84" stroke-dashoffset="15.55" class="p"/><path d="M325.59 1209.13A386.23 386.23 0 0 0 322.54 1158.58" fill="none" stroke="rgb(33,0,0)" stroke-width="2.88" stroke-dasharray="7.61 3.31 5.65 2.04 8.04 6.12" stroke-dashoffset="15.11" class="p"/><path d="M328.53 1209.14A389.18 389.18 0 0 0 325.46 1158.21" fill="none" stroke="rgb(17,0,0)" stroke-width="2.25" stroke-dasharray="5.25 6.61 3.75 6.39 8.58 2.74" stroke-dashoffset="13.06" class="p"/><path d="M321.93 1209.11A382.57 382.57 0 0 0 318.91 1159.05" fill="none" stroke="rgb(11,0,0)" stroke-width="2.01" stroke-dasharray="6.71 2.94 9.01 4.68 3.09 3.98" stroke-dashoffset="17.75" class="p"/><path d="M321.98 1158.66A385.67 385.67 0 0 0 311.76 1106.01" fill="none" stroke="rgb(12,0,0)" stroke-width="2.29" stroke-dasharray="9.57 3.32 7.55 5.82 6.91 2.58" stroke-dashoffset="2.47" class="p"/><path d="M325.69 1158.18A389.4 389.4 0 0 0 315.36 1105.03" fill="none" stroke="rgb(16,0,0)" stroke-width="2.44" stroke-dasharray="9.52 4.04 4.07 5.25 5.45 5.95" stroke-dashoffset="16.51" class="p"/><path d="M319.02 1159.04A382.68 382.68 0 0 0 308.87 1106.8" fill="none" stroke="rgb(10,0,0)" stroke-width="2.07" stroke-dasharray="6.83 4.23 3.86 6.56 5.39 5.06" stroke-dashoffset="19.61" class="p"/><path d="M315.16 1105.08A389.19 389.19 0 0 0 298.11 1054.75" fill="none" stroke="rgb(10,0,0)" stroke-width="2.9" stroke-dasharray="6.28 4.37 4.53 2.76 8.91 5.02" stroke-dashoffset="8.03" class="p"/><path d="M321.47 1341.11A404.17 404.17 0 0 0 334.15 1295.39" fill="none" stroke="rgb(19,0,0)" stroke-width="2.42" stroke-dasharray="4.76 4.12 9.36 4.26 8.69 4.67" stroke-dashoffset="13.06" class="p"/><path d="M323.29 1341.75A406.1 406.1 0 0 0 336.03 1295.81" fill="none" stroke="rgb(10,0,0)" stroke-width="2.9" stroke-dasharray="9.99 2.46 8.95 5.6 7.97 4.37" stroke-dashoffset="13.41" class="p"/><path d="M317.72 1339.8A400.2 400.2 0 0 0 330.27 1294.53" fill="none" stroke="rgb(11,0,0)" stroke-width="2.14" stroke-dasharray="5.86 5.7 7.87 4.51 8.39 4.42" stroke-dashoffset="15.06" class="p"/><path d="M333.16 1295.18A403.16 403.16 0 0 0 339.76 1255.41" fill="none" stroke="rgb(23,0,0)" stroke-width="2.69" stroke-dasharray="8.84 2.07 9.04 3.76 5.54 5.49" stroke-dashoffset="3.11" class="p"/><path d="M336.26 1295.86A406.33 406.33 0 0 0 342.91 1255.79" fill="none" stroke="rgb(18,0,0)" stroke-width="2.19" stroke-dasharray="9.23 6.97 8.02 5.48 7.81 6.57" stroke-dashoffset="16.87" class="p"/><path d="M340.44 1255.49A403.85 403.85 0 0 0 343.2 1204.95" fill="none" stroke="rgb(29,0,0)" stroke-width="2.56" stroke-dasharray="9.43 5.12 4.58 2.32 6.31 4.76" stroke-dashoffset="1.23" class="p"/><path d="M343.33 1255.84A406.76 406.76 0 0 0 346.11 1204.93" fill="none" stroke="rgb(22,0,0)" stroke-width="2.49" stroke-dasharray="8.81 3.44 4.32 2.89 9.57 6.35" stroke-dashoffset="7.36" class="p"/><path d="M337.32 1255.12A400.71 400.71 0 0 0 340.06 1204.97" fill="none" stroke="rgb(26,0,0)" stroke-width="2.2" stroke-dasharray="9.36 6.76 8.99 5.4 3.82 6.71" stroke-dashoffset="7.14" class="p"/><path d="M342.56 1204.95A403.21 403.21 0 0 0 340.7 1168.31" fill="none" stroke="rgb(37,0,0)" stroke-width="2.34" stroke-dasharray="4.78 6.44 4.27 5.34 6.06 2.24" stroke-dashoffset="15.5" class="p"/><path d="M345.36 1204.93A406.01 406.01 0 0 0 343.48 1168.04" fill="none" stroke="rgb(32,0,0)" stroke-width="2.9" stroke-dasharray="9.55 2.83 4.48 3.87 5.24 3.03" stroke-dashoffset="10.74" class="p"/><path d="M338.93 1204.98A399.57 399.57 0 0 0 337.08 1168.67" fill="none" stroke="rgb(13,0,0)" stroke-width="3.19" stroke-dasharray="5.19 3.46 6.24 6.7 8.15 4.15" stroke-dashoffset="3.77" class="p"/><path d="M341.23 1168.26A403.75 403.75 0 0 0 332.65 1115.13" fill="none" stroke="rgb(31,0,0)" stroke-width="2.96" stroke-dasharray="8.07 4.54 8.06 3.66 9.64 5.7" stroke-dashoffset="18.36" class="p"/><path d="M345.43 1167.85A407.96 407.96 0 0 0 336.76 1114.17" fill="none" stroke="rgb(19,0,0)" stroke-width="2.66" stroke-dasharray="9.66 4.22 9.66 3.59 6.61 4.8" stroke-dashoffset="16.95" class="p"/><path d="M337.82 1168.6A400.32 400.32 0 0 0 329.31 1115.92" fill="none" stroke="rgb(10,0,0)" stroke-width="2.87" stroke-dasharray="7.94 4.63 5.83 2.58 9.37 6.94" stroke-dashoffset="1.66" class="p"/><path d="M332.68 1115.12A403.78 403.78 0 0 0 320.33 1072.05" fill="none" stroke="rgb(11,0,0)" stroke-width="3.14" stroke-dasharray="3.61 3.88 5.57 4.07 3.48 2.66" stroke-dashoffset="4.66" class="p"/><path d="M336.69 1114.18A407.9 407.9 0 0 0 324.21 1070.67" fill="none" stroke="rgb(10,0,0)" stroke-width="3.15" stroke-dasharray="5.54 4.43 4.24 5.72 9.53 5.14" stroke-dashoffset="10.74" class="p"/><path d="M338.57 1355.83A425.14 425.14 0 0 0 356.11 1292.84" fill="none" stroke="rgb(13,0,0)" stroke-width="3.07" stroke-dasharray="5.12 5.17 6.51 4.49 7.45 5.56" stroke-dashoffset="19.23" class="p"/><path d="M341.35 1356.86A428.11 428.11 0 0 0 359.01 1293.43" fill="none" stroke="rgb(13,0,0)" stroke-width="2.02" stroke-dasharray="7.78 6 4.36 2.99 8.9 4.18" stroke-dashoffset="2.68" class="p"/><path d="M354.35 1292.48A423.35 423.35 0 0 0 362.23 1228" fill="none" stroke="rgb(19,0,0)" stroke-width="2.86" stroke-dasharray="8.79 3.33 8.56 3.91 6.94 5.42" stroke-dashoffset="13.42" class="p"/><path d="M358.14 1293.25A427.21 427.21 0 0 0 366.09 1228.19" fill="none" stroke="rgb(15,0,0)" stroke-width="2.21" stroke-dasharray="4.71 5.89 4.07 4.07 3.8 4.91" stroke-dashoffset="19.58" class="p"/><path d="M350.76 1291.74A419.69 419.69 0 0 0 358.58 1227.83" fill="none" stroke="rgb(15,0,0)" stroke-width="2.21" stroke-dasharray="6.51 2.16 4.84 2.53 7.34 2.77" stroke-dashoffset="14.81" class="p"/><path d="M362.4 1228.01A423.52 423.52 0 0 0 361.33 1171.07" fill="none" stroke="rgb(26,0,0)" stroke-width="2.75" stroke-dasharray="5.2 3.38 6.83 4.85 3.93 2.77" stroke-dashoffset="13.31" class="p"/><path d="M365.76 1228.17A426.88 426.88 0 0 0 364.68 1170.78" fill="none" stroke="rgb(18,0,0)" stroke-width="2.76" stroke-dasharray="3.69 2.35 9 4.68 3.14 3.78" stroke-dashoffset="16.64" class="p"/><path d="M358.31 1227.81A419.42 419.42 0 0 0 357.26 1171.42" fill="none" stroke="rgb(10,0,0)" stroke-width="2.91" stroke-dasharray="6.68 4.87 4.32 6.94 6.82 2.65" stroke-dashoffset="13.64" class="p"/><path d="M360.93 1171.11A423.11 423.11 0 0 0 351.24 1109.53" fill="none" stroke="rgb(26,0,0)" stroke-width="2.98" stroke-dasharray="3.16 2.32 8.81 6.23 4.89 6.64" stroke-dashoffset="17.7" class="p"/><path d="M365.76 1170.69A427.96 427.96 0 0 0 355.96 1108.41" fill="none" stroke="rgb(10,0,0)" stroke-width="2.25" stroke-dasharray="5.27 3.05 4.47 4.5 3.32 6.83" stroke-dashoffset="7.03" class="p"/><path d="M358.65 1171.3A420.82 420.82 0 0 0 349.02 1110.06" fill="none" stroke="rgb(19,0,0)" stroke-width="2.96" stroke-dasharray="6.92 4.48 8.32 4.81 6.16 2.87" stroke-dashoffset="9.27" class="p"/><path d="M352.47 1109.24A424.37 424.37 0 0 0 332.32 1045.29" fill="none" stroke="rgb(9,0,0)" stroke-width="3.19" stroke-dasharray="8.19 2.82 5.52 5.15 4.81 6.98" stroke-dashoffset="14.38" class="p"/><path d="M347.48 1381.71A442.79 442.79 0 0 0 368.98 1316.27" fill="none" stroke="rgb(8,0,0)" stroke-width="2.79" stroke-dasharray="3.62 4.61 4.9 3.39 3.53 5.46" stroke-dashoffset="4.61" class="p"/><path d="M351.06 1383.24A446.67 446.67 0 0 0 372.75 1317.22" fill="none" stroke="rgb(9,0,0)" stroke-width="2.13" stroke-dasharray="6.87 5.49 4.72 6.71 8.03 4.54" stroke-dashoffset="0.5" class="p"/><path d="M369.63 1316.44A443.46 443.46 0 0 0 380.49 1253.71" fill="none" stroke="rgb(13,0,0)" stroke-width="2.05" stroke-dasharray="4.44 3.71 9.77 2.82 5.91 4.66" stroke-dashoffset="1.4" class="p"/><path d="M372.47 1317.15A446.39 446.39 0 0 0 383.4 1254.01" fill="none" stroke="rgb(14,0,0)" stroke-width="2.19" stroke-dasharray="5.26 6.99 6.07 3.5 5.3 3.5" stroke-dashoffset="13.83" class="p"/><path d="M366.2 1315.57A439.93 439.93 0 0 0 376.97 1253.34" fill="none" stroke="rgb(11,0,0)" stroke-width="3.16" stroke-dasharray="4.61 2.19 8.51 3.49 4.89 6.24" stroke-dashoffset="1.39" class="p"/><path d="M379.6 1253.61A442.57 442.57 0 0 0 381.52 1188.39" fill="none" stroke="rgb(38,0,0)" stroke-width="2.25" stroke-dasharray="3.12 3.44 8.85 4.38 4.24 6.92" stroke-dashoffset="13.89" class="p"/><path d="M384.22 1254.1A447.22 447.22 0 0 0 386.16 1188.19" fill="none" stroke="rgb(36,0,0)" stroke-width="2.14" stroke-dasharray="7.95 2.1 3.14 3.07 7.65 6.8" stroke-dashoffset="13.5" class="p"/><path d="M377.14 1253.36A440.1 440.1 0 0 0 379.05 1188.5" fill="none" stroke="rgb(10,0,0)" stroke-width="2.07" stroke-dasharray="9.32 3.57 5.62 5.96 6.8 5.13" stroke-dashoffset="2.98" class="p"/><path d="M383.43 1188.3A444.48 444.48 0 0 0 376.03 1123.58" fill="none" stroke="rgb(32,0,0)" stroke-width="2.02" stroke-dasharray="7.54 5.22 9.83 6.15 8.01 3.8" stroke-dashoffset="1.28" class="p"/><path d="M385.42 1188.22A446.47 446.47 0 0 0 377.98 1123.2" fill="none" stroke="rgb(12,0,0)" stroke-width="2.43" stroke-dasharray="7.16 6.96 6.12 3.05 3.13 2.81" stroke-dashoffset="5.38" class="p"/><path d="M378.33 1188.53A439.38 439.38 0 0 0 371.02 1124.55" fill="none" stroke="rgb(21,0,0)" stroke-width="2.6" stroke-dasharray="10 6.89 4.37 5.49 4.15 4.31" stroke-dashoffset="15.68" class="p"/><path d="M375.27 1123.73A443.71 443.71 0 0 0 364.49 1078.93" fill="none" stroke="rgb(18,0,0)" stroke-width="2.29" stroke-dasharray="8.36 5.15 3.53 2.61 8.64 6.79" stroke-dashoffset="15.16" class="p"/><path d="M378.65 1123.08A447.15 447.15 0 0 0 367.79 1077.93" fill="none" stroke="rgb(15,0,0)" stroke-width="2.2" stroke-dasharray="3.95 3.02 3.44 5.47 5.51 5.49" stroke-dashoffset="5.45" class="p"/><path d="M388.15 1323.99A463.24 463.24 0 0 0 398.28 1271.58" fill="none" stroke="rgb(11,0,0)" stroke-width="3.04" stroke-dasharray="7.38 3.65 8.51 2.22 8.32 2.8" stroke-dashoffset="7.12" class="p"/><path d="M398.32 1271.59A463.27 463.27 0 0 0 402.35 1224.01" fill="none" stroke="rgb(36,0,0)" stroke-width="3.01" stroke-dasharray="8.65 2.12 3.06 4.8 6.18 4.76" stroke-dashoffset="2.7" class="p"/><path d="M400.45 1271.88A465.42 465.42 0 0 0 404.5 1224.08" fill="none" stroke="rgb(28,0,0)" stroke-width="2.65" stroke-dasharray="6.21 4.35 4.06 3.19 4.3 3.4" stroke-dashoffset="5.38" class="p"/><path d="M394.72 1271.08A459.64 459.64 0 0 0 398.72 1223.88" fill="none" stroke="rgb(9,0,0)" stroke-width="2.02" stroke-dasharray="3.48 6.55 6.07 4.26 3.92 6.92" stroke-dashoffset="0.87" class="p"/><path d="M401.52 1223.98A462.44 462.44 0 0 0 400.58 1173.68" fill="none" stroke="rgb(27,0,0)" stroke-width="2.33" stroke-dasharray="6.19 5.52 6.99 5.51 3.47 3.47" stroke-dashoffset="8.38" class="p"/><path d="M405.32 1224.11A466.25 466.25 0 0 0 404.38 1173.4" fill="none" stroke="rgb(14,0,0)" stroke-width="2.24" stroke-dasharray="3.9 2.3 3.38 5.24 9.75 4.97" stroke-dashoffset="9.9" class="p"/><path d="M398.59 1223.87A459.51 459.51 0 0 0 397.66 1173.9" fill="none" stroke="rgb(13,0,0)" stroke-width="2.58" stroke-dasharray="8.63 3.31 5.14 2.23 4.69 6.61" stroke-dashoffset="9.8" class="p"/><path d="M400.7 1173.67A462.55 462.55 0 0 0 394.58 1124.5" fill="none" stroke="rgb(19,0,0)" stroke-width="2.57" stroke-dasharray="6.56 3.54 6.61 2.13 5.71 2.58" stroke-dashoffset="18.22" class="p"/><path d="M404.85 1173.37A466.72 466.72 0 0 0 398.68 1123.75" fill="none" stroke="rgb(23,0,0)" stroke-width="2.07" stroke-dasharray="9.25 4.22 5.06 6.24 3.83 3.9" stroke-dashoffset="14.9" class="p"/><path d="M398.17 1173.86A460.02 460.02 0 0 0 392.08 1124.95" fill="none" stroke="rgb(18,0,0)" stroke-width="2.57" stroke-dasharray="4.3 6.18 7.88 4.72 6.1 6.03" stroke-dashoffset="18.51" class="p"/><path d="M394.89 1124.44A462.87 462.87 0 0 0 382.73 1072.96" fill="none" stroke="rgb(12,0,0)" stroke-width="2.8" stroke-dasharray="6.01 6.51 8.98 4 5.57 3.59" stroke-dashoffset="12.42" class="p"/><path d="M398.94 1123.7A466.99 466.99 0 0 0 386.68 1071.76" fill="none" stroke="rgb(10,0,0)" stroke-width="2.27" stroke-dasharray="7.7 2.03 6.35 5.47 8.11 6.07" stroke-dashoffset="19.38" class="p"/><path d="M414.22 1287.16A481.3 481.3 0 0 0 419.93 1234.58" fill="none" stroke="rgb(15,0,0)" stroke-width="2.36" stroke-dasharray="9.59 3.36 4.6 5.7 9.57 3.18" stroke-dashoffset="1.22" class="p"/><path d="M411.93 1286.77A478.98 478.98 0 0 0 417.61 1234.45" fill="none" stroke="rgb(10,0,0)" stroke-width="2.89" stroke-dasharray="4.72 3.17 8.64 4.41 6.95 5.28" stroke-dashoffset="19.4" class="p"/><path d="M420.79 1234.63A482.17 482.17 0 0 0 421.15 1188.19" fill="none" stroke="rgb(23,0,0)" stroke-width="2.97" stroke-dasharray="3.17 2.6 4.79 2.65 4.07 3.17" stroke-dashoffset="10.03" class="p"/><path d="M422.92 1234.75A484.3 484.3 0 0 0 423.27 1188.1" fill="none" stroke="rgb(16,0,0)" stroke-width="3.17" stroke-dasharray="8.23 4.95 3.54 4.3 4.42 4.35" stroke-dashoffset="6.45" class="p"/><path d="M416.76 1234.4A478.13 478.13 0 0 0 417.11 1188.35" fill="none" stroke="rgb(12,0,0)" stroke-width="3.07" stroke-dasharray="7.61 3.53 5.76 4.49 9.51 2.25" stroke-dashoffset="18.33" class="p"/><path d="M420.87 1188.2A481.89 481.89 0 0 0 415.53 1132.57" fill="none" stroke="rgb(18,0,0)" stroke-width="2.67" stroke-dasharray="3.16 3.11 7.54 3.65 6.62 6.91" stroke-dashoffset="11.28" class="p"/><path d="M422.98 1188.11A484.01 484.01 0 0 0 417.61 1132.24" fill="none" stroke="rgb(10,0,0)" stroke-width="2.51" stroke-dasharray="9.9 3.9 3.17 4.13 5.9 3.03" stroke-dashoffset="18.82" class="p"/><path d="M417.6 1188.33A478.62 478.62 0 0 0 412.29 1133.08" fill="none" stroke="rgb(10,0,0)" stroke-width="3.11" stroke-dasharray="5.01 4.74 7.14 3.95 8.67 4.28" stroke-dashoffset="13.85" class="p"/><path d="M415.57 1132.56A481.94 481.94 0 0 0 405.96 1085.42" fill="none" stroke="rgb(11,0,0)" stroke-width="3.06" stroke-dasharray="9.86 6.07 3.31 3.42 3.01 5.32" stroke-dashoffset="13.28" class="p"/><path d="M432.98 1290.99A500.42 500.42 0 0 0 439.23 1231.51" fill="none" stroke="rgb(11,0,0)" stroke-width="2.18" stroke-dasharray="5.52 4.42 4.85 2.65 7.04 2.62" stroke-dashoffset="14.56" class="p"/><path d="M436.34 1291.55A503.83 503.83 0 0 0 442.63 1231.67" fill="none" stroke="rgb(10,0,0)" stroke-width="2.79" stroke-dasharray="4.52 3.2 9.79 4.9 8.58 7" stroke-dashoffset="19.64" class="p"/><path d="M440.63 1231.58A501.82 501.82 0 0 0 440.78 1187.11" fill="none" stroke="rgb(15,0,0)" stroke-width="2.1" stroke-dasharray="7.54 3.16 6.32 3.51 8.42 4" stroke-dashoffset="6.62" class="p"/><path d="M440.62 1187.12A501.67 501.67 0 0 0 436.35 1138.34" fill="none" stroke="rgb(10,0,0)" stroke-width="2.77" stroke-dasharray="6.11 2.61 9.68 5.47 3.39 6.5" stroke-dashoffset="15.44" class="p"/>
<ellipse cx="307.64" cy="1113.15" rx="1.07" ry="5.59" transform="rotate(-12.05 307.64 1113.15)" fill="rgb(12,0,0)" class="p"/><ellipse cx="211.34" cy="1414.45" rx="1.12" ry="7.26" transform="rotate(39.21 211.34 1414.45)" fill="rgb(17,0,0)" class="p"/><ellipse cx="286.25" cy="1106.24" rx="1.4" ry="7.38" transform="rotate(-18.58 286.25 1106.24)" fill="rgb(35,0,0)" class="p"/><ellipse cx="275.37" cy="1311.6" rx="1.42" ry="7.29" transform="rotate(17.89 275.37 1311.6)" fill="rgb(27,0,0)" class="p"/><ellipse cx="249.19" cy="1025.92" rx="1.53" ry="7.29" transform="rotate(-40.99 249.19 1025.92)" fill="rgb(37,0,0)" class="p"/><ellipse cx="130.22" cy="1388.86" rx="1.06" ry="4.68" transform="rotate(59.85 130.22 1388.86)" fill="rgb(52,0,0)" class="p"/><ellipse cx="330.79" cy="1375.8" rx="1.6" ry="5.47" transform="rotate(19.57 330.79 1375.8)" fill="rgb(19,0,0)" class="p"/><ellipse cx="321.95" cy="1318.88" rx="1.37" ry="6.88" transform="rotate(13.7 321.95 1318.88)" fill="rgb(15,0,0)" class="p"/><ellipse cx="137.64" cy="1086.76" rx="1.4" ry="7.55" transform="rotate(-39.86 137.64 1086.76)" fill="rgb(20,0,0)" class="p"/><ellipse cx="386.1" cy="1307.69" rx="1.34" ry="6.56" transform="rotate(16.16 386.1 1307.69)" fill="rgb(15,0,0)" class="p"/><ellipse cx="88.33" cy="1342.82" rx="1.47" ry="5.11" transform="rotate(62.38 88.33 1342.82)" fill="rgb(42,0,0)" class="p"/><ellipse cx="147.5" cy="1415.01" rx="1.23" ry="7.2" transform="rotate(55.81 147.5 1415.01)" fill="rgb(38,0,0)" class="p"/><ellipse cx="163.39" cy="1016.19" rx="1.09" ry="6.33" transform="rotate(-56.64 163.39 1016.19)" fill="rgb(42,0,0)" class="p"/><ellipse cx="240.21" cy="1370.35" rx="1.57" ry="4.24" transform="rotate(32.31 240.21 1370.35)" fill="rgb(38,0,0)" class="p"/><ellipse cx="138.17" cy="1000.69" rx="1.18" ry="6.55" transform="rotate(-50.98 138.17 1000.69)" fill="rgb(47,0,0)" class="p"/><ellipse cx="243.26" cy="1011.75" rx="1.59" ry="4.44" transform="rotate(-34.99 243.26 1011.75)" fill="rgb(36,0,0)" class="p"/><ellipse cx="79.61" cy="1405.88" rx="1.3" ry="5.99" transform="rotate(61.06 79.61 1405.88)" fill="rgb(50,0,0)" class="p"/><ellipse cx="325.56" cy="1296.37" rx="1.59" ry="5.35" transform="rotate(20.87 325.56 1296.37)" fill="rgb(11,0,0)" class="p"/><ellipse cx="262.97" cy="1122.36" rx="1.46" ry="6.05" transform="rotate(-20.21 262.97 1122.36)" fill="rgb(32,0,0)" class="p"/><ellipse cx="272.84" cy="1063.47" rx="1.07" ry="5.4" transform="rotate(-27.55 272.84 1063.47)" fill="rgb(24,0,0)" class="p"/><ellipse cx="313.06" cy="1324.68" rx="1.23" ry="6.69" transform="rotate(16.42 313.06 1324.68)" fill="rgb(28,0,0)" class="p"/><ellipse cx="342.51" cy="1347.71" rx="1.15" ry="7.77" transform="rotate(16.29 342.51 1347.71)" fill="rgb(16,0,0)" class="p"/><ellipse cx="274.84" cy="1064.85" rx="1.4" ry="6.98" transform="rotate(-31.13 274.84 1064.85)" fill="rgb(33,0,0)" class="p"/><ellipse cx="269.29" cy="1101.91" rx="1.09" ry="5.79" transform="rotate(-28.68 269.29 1101.91)" fill="rgb(36,0,0)" class="p"/><ellipse cx="274.46" cy="1014" rx="1.6" ry="4.18" transform="rotate(-39.66 274.46 1014)" fill="rgb(33,0,0)" class="p"/><ellipse cx="218.49" cy="1067.28" rx="1.33" ry="5.86" transform="rotate(-31.1 218.49 1067.28)" fill="rgb(18,0,0)" class="p"/><ellipse cx="394.41" cy="1037.69" rx="1.12" ry="5.11" transform="rotate(-21.28 394.41 1037.69)" fill="rgb(7,0,0)" class="p"/><ellipse cx="301.56" cy="1304.05" rx="1.48" ry="5.82" transform="rotate(23.89 301.56 1304.05)" fill="rgb(21,0,0)" class="p"/><ellipse cx="152.71" cy="1108.95" rx="1.11" ry="6.9" transform="rotate(-36.27 152.71 1108.95)" fill="rgb(47,0,0)" class="p"/><ellipse cx="197.2" cy="1284.73" rx="1.19" ry="4.48" transform="rotate(28.27 197.2 1284.73)" fill="rgb(42,0,0)" class="p"/><ellipse cx="318.19" cy="1137.47" rx="1.15" ry="7.36" transform="rotate(-8.13 318.19 1137.47)" fill="rgb(28,0,0)" class="p"/><ellipse cx="116.97" cy="1025.85" rx="1.08" ry="6.54" transform="rotate(-50.63 116.97 1025.85)" fill="rgb(49,0,0)" class="p"/><ellipse cx="222.3" cy="1283.86" rx="1.31" ry="6.64" transform="rotate(17.68 222.3 1283.86)" fill="rgb(39,0,0)" class="p"/><ellipse cx="148.52" cy="1300.46" rx="1.16" ry="4.2" transform="rotate(33.09 148.52 1300.46)" fill="rgb(31,0,0)" class="p"/><ellipse cx="386.55" cy="1052.45" rx="1.35" ry="6.84" transform="rotate(-23.6 386.55 1052.45)" fill="rgb(17,0,0)" class="p"/><ellipse cx="240.23" cy="1107.64" rx="1.31" ry="4.57" transform="rotate(-25.06 240.23 1107.64)" fill="rgb(36,0,0)" class="p"/><ellipse cx="197.63" cy="1271.4" rx="1.39" ry="6.75" transform="rotate(18.15 197.63 1271.4)" fill="rgb(23,0,0)" class="p"/><ellipse cx="291.32" cy="1358.95" rx="1.42" ry="4.81" transform="rotate(33.3 291.32 1358.95)" fill="rgb(14,0,0)" class="p"/><ellipse cx="313.4" cy="1380.88" rx="1.33" ry="7.95" transform="rotate(21.04 313.4 1380.88)" fill="rgb(24,0,0)" class="p"/><ellipse cx="280.44" cy="1045.97" rx="1.16" ry="7.49" transform="rotate(-34.32 280.44 1045.97)" fill="rgb(20,0,0)" class="p"/><ellipse cx="373.91" cy="1024.31" rx="1.42" ry="5.72" transform="rotate(-19.72 373.91 1024.31)" fill="rgb(11,0,0)" class="p"/><ellipse cx="291.07" cy="1101.79" rx="1.52" ry="4.42" transform="rotate(-26.73 291.07 1101.79)" fill="rgb(26,0,0)" class="p"/><ellipse cx="353.12" cy="1269.09" rx="1.5" ry="4.11" transform="rotate(17.68 353.12 1269.09)" fill="rgb(18,0,0)" class="p"/><ellipse cx="254.07" cy="1134.83" rx="1.04" ry="6.45" transform="rotate(-12.49 254.07 1134.83)" fill="rgb(31,0,0)" class="p"/><ellipse cx="354.92" cy="1357.73" rx="1.13" ry="5.51" transform="rotate(28.75 354.92 1357.73)" fill="rgb(23,0,0)" class="p"/><ellipse cx="71.61" cy="1083.11" rx="1.2" ry="4.53" transform="rotate(-53.94 71.61 1083.11)" fill="rgb(24,0,0)" class="p"/><ellipse cx="65.27" cy="1042.52" rx="1.38" ry="6.54" transform="rotate(-65.26 65.27 1042.52)" fill="rgb(58,0,0)" class="p"/><ellipse cx="84.15" cy="1330.59" rx="1.36" ry="6.96" transform="rotate(60.87 84.15 1330.59)" fill="rgb(47,0,0)" class="p"/><ellipse cx="137.12" cy="1289.05" rx="1.28" ry="6.07" transform="rotate(34.99 137.12 1289.05)" fill="rgb(23,0,0)" class="p"/><ellipse cx="194.88" cy="1036.03" rx="1.54" ry="7.13" transform="rotate(-32.76 194.88 1036.03)" fill="rgb(29,0,0)" class="p"/><ellipse cx="262.85" cy="1135.62" rx="1.14" ry="4.17" transform="rotate(-19.18 262.85 1135.62)" fill="rgb(34,0,0)" class="p"/><ellipse cx="181.08" cy="1094.24" rx="1.14" ry="7.03" transform="rotate(-27.51 181.08 1094.24)" fill="rgb(28,0,0)" class="p"/><ellipse cx="384.02" cy="1142.4" rx="1.48" ry="6.31" transform="rotate(-4.84 384.02 1142.4)" fill="rgb(17,0,0)" class="p"/><ellipse cx="99.4" cy="1061.35" rx="1.11" ry="5.5" transform="rotate(-50.59 99.4 1061.35)" fill="rgb(38,0,0)" class="p"/><ellipse cx="273.21" cy="1399.84" rx="1.31" ry="5.84" transform="rotate(33.3 273.21 1399.84)" fill="rgb(20,0,0)" class="p"/><ellipse cx="90.18" cy="1123.79" rx="1.09" ry="5.95" transform="rotate(-42.13 90.18 1123.79)" fill="rgb(29,0,0)" class="p"/><ellipse cx="284.07" cy="1413.3" rx="1.57" ry="5.24" transform="rotate(36.78 284.07 1413.3)" fill="rgb(13,0,0)" class="p"/><ellipse cx="184.15" cy="1387.33" rx="1.07" ry="6.93" transform="rotate(46.27 184.15 1387.33)" fill="rgb(42,0,0)" class="p"/><ellipse cx="389.03" cy="1349.33" rx="1.58" ry="6.59" transform="rotate(17.03 389.03 1349.33)" fill="rgb(12,0,0)" class="p"/><ellipse cx="227.69" cy="1269.66" rx="1.15" ry="4.87" transform="rotate(15.37 227.69 1269.66)" fill="rgb(31,0,0)" class="p"/><ellipse cx="323.41" cy="1348.21" rx="1.43" ry="5.09" transform="rotate(19.71 323.41 1348.21)" fill="rgb(21,0,0)" class="p"/><ellipse cx="181.91" cy="1055.15" rx="1.5" ry="6.51" transform="rotate(-35.22 181.91 1055.15)" fill="rgb(30,0,0)" class="p"/><ellipse cx="164.87" cy="1074.33" rx="1.05" ry="4.61" transform="rotate(-36.78 164.87 1074.33)" fill="rgb(33,0,0)" class="p"/><ellipse cx="349.45" cy="1011.54" rx="1.11" ry="4.17" transform="rotate(-29.95 349.45 1011.54)" fill="rgb(20,0,0)" class="p"/><ellipse cx="259.34" cy="1408.59" rx="1.05" ry="5.52" transform="rotate(30.66 259.34 1408.59)" fill="rgb(19,0,0)" class="p"/><ellipse cx="247.12" cy="1124.55" rx="1.08" ry="7.32" transform="rotate(-13.09 247.12 1124.55)" fill="rgb(22,0,0)" class="p"/><ellipse cx="185.9" cy="1307.02" rx="1.14" ry="7.32" transform="rotate(34.57 185.9 1307.02)" fill="rgb(34,0,0)" class="p"/><ellipse cx="358.31" cy="1098.9" rx="1.18" ry="4.13" transform="rotate(-17.95 358.31 1098.9)" fill="rgb(20,0,0)" class="p"/><ellipse cx="324.74" cy="1391.15" rx="1.46" ry="6.04" transform="rotate(29.99 324.74 1391.15)" fill="rgb(14,0,0)" class="p"/><ellipse cx="161" cy="1317.33" rx="1.48" ry="7.1" transform="rotate(38.28 161 1317.33)" fill="rgb(41,0,0)" class="p"/><ellipse cx="105.03" cy="1130.52" rx="1.53" ry="6.14" transform="rotate(-39.5 105.03 1130.52)" fill="rgb(53,0,0)" class="p"/><ellipse cx="239.69" cy="1274.16" rx="1.02" ry="7.63" transform="rotate(12.36 239.69 1274.16)" fill="rgb(30,0,0)" class="p"/><ellipse cx="85.47" cy="1013.13" rx="1.23" ry="6.6" transform="rotate(-71.45 85.47 1013.13)" fill="rgb(27,0,0)" class="p"/><ellipse cx="307.56" cy="1112.31" rx="1.18" ry="6.09" transform="rotate(-22.21 307.56 1112.31)" fill="rgb(27,0,0)" class="p"/><ellipse cx="248.44" cy="1058.25" rx="1.33" ry="4.66" transform="rotate(-36.25 248.44 1058.25)" fill="rgb(22,0,0)" class="p"/><ellipse cx="180.13" cy="1294.25" rx="1.3" ry="7.63" transform="rotate(27.83 180.13 1294.25)" fill="rgb(24,0,0)" class="p"/><ellipse cx="172.42" cy="1093.66" rx="1.45" ry="7.05" transform="rotate(-25.66 172.42 1093.66)" fill="rgb(25,0,0)" class="p"/><ellipse cx="275.97" cy="1059.73" rx="1.39" ry="7.29" transform="rotate(-33.3 275.97 1059.73)" fill="rgb(30,0,0)" class="p"/><ellipse cx="200.06" cy="1138.22" rx="1.56" ry="6.55" transform="rotate(-14.84 200.06 1138.22)" fill="rgb(22,0,0)" class="p"/><ellipse cx="175.12" cy="1037.09" rx="1.21" ry="4.24" transform="rotate(-49.13 175.12 1037.09)" fill="rgb(35,0,0)" class="p"/><ellipse cx="393.94" cy="1112.07" rx="1.04" ry="7.6" transform="rotate(-21.34 393.94 1112.07)" fill="rgb(13,0,0)" class="p"/><ellipse cx="337.06" cy="1349.6" rx="1.16" ry="7.08" transform="rotate(16.49 337.06 1349.6)" fill="rgb(16,0,0)" class="p"/><ellipse cx="122.5" cy="1292.22" rx="1.03" ry="6.68" transform="rotate(38.98 122.5 1292.22)" fill="rgb(20,0,0)" class="p"/><ellipse cx="230.42" cy="1004.43" rx="1.17" ry="4.75" transform="rotate(-47.81 230.42 1004.43)" fill="rgb(42,0,0)" class="p"/><ellipse cx="329.21" cy="1317.96" rx="1.42" ry="4.86" transform="rotate(12.28 329.21 1317.96)" fill="rgb(11,0,0)" class="p"/><ellipse cx="107.93" cy="1411.07" rx="1.43" ry="5.22" transform="rotate(61.29 107.93 1411.07)" fill="rgb(49,0,0)" class="p"/><ellipse cx="352.84" cy="1349.16" rx="1.11" ry="5.2" transform="rotate(14.39 352.84 1349.16)" fill="rgb(11,0,0)" class="p"/><ellipse cx="76.4" cy="1077.63" rx="1.5" ry="5.64" transform="rotate(-57.64 76.4 1077.63)" fill="rgb(37,0,0)" class="p"/><ellipse cx="368.65" cy="1054.81" rx="1.51" ry="7.59" transform="rotate(-14.84 368.65 1054.81)" fill="rgb(16,0,0)" class="p"/><ellipse cx="313.22" cy="1134.11" rx="1.12" ry="7.88" transform="rotate(-10.45 313.22 1134.11)" fill="rgb(19,0,0)" class="p"/><ellipse cx="195.36" cy="1313.74" rx="1.47" ry="5.27" transform="rotate(31.64 195.36 1313.74)" fill="rgb(39,0,0)" class="p"/><ellipse cx="176.3" cy="1333.91" rx="1.46" ry="4.57" transform="rotate(35.98 176.3 1333.91)" fill="rgb(33,0,0)" class="p"/><ellipse cx="134.28" cy="1297.3" rx="1.49" ry="7.52" transform="rotate(28.82 134.28 1297.3)" fill="rgb(31,0,0)" class="p"/><ellipse cx="127.49" cy="1061.71" rx="1.03" ry="5.22" transform="rotate(-40.35 127.49 1061.71)" fill="rgb(45,0,0)" class="p"/><ellipse cx="316.9" cy="1102.96" rx="1.18" ry="4.41" transform="rotate(-20.59 316.9 1102.96)" fill="rgb(21,0,0)" class="p"/><ellipse cx="231.38" cy="1322.24" rx="1.22" ry="5.46" transform="rotate(27.78 231.38 1322.24)" fill="rgb(43,0,0)" class="p"/><ellipse cx="156.08" cy="1395.19" rx="1.21" ry="7.9" transform="rotate(53.57 156.08 1395.19)" fill="rgb(32,0,0)" class="p"/><ellipse cx="265.52" cy="1094.38" rx="1.17" ry="4.71" transform="rotate(-16.62 265.52 1094.38)" fill="rgb(32,0,0)" class="p"/><ellipse cx="322.39" cy="999.37" rx="1.01" ry="5.88" transform="rotate(-38.47 322.39 999.37)" fill="rgb(26,0,0)" class="p"/><ellipse cx="113.75" cy="1009.45" rx="1.19" ry="5.36" transform="rotate(-62.36 113.75 1009.45)" fill="rgb(52,0,0)" class="p"/><ellipse cx="178.32" cy="998.64" rx="1.43" ry="6.71" transform="rotate(-52.54 178.32 998.64)" fill="rgb(20,0,0)" class="p"/><ellipse cx="389.68" cy="1068.88" rx="1.03" ry="7.26" transform="rotate(-19.68 389.68 1068.88)" fill="rgb(16,0,0)" class="p"/><ellipse cx="87.59" cy="1380.26" rx="1.55" ry="4.55" transform="rotate(59.74 87.59 1380.26)" fill="rgb(49,0,0)" class="p"/><ellipse cx="235.76" cy="1345.63" rx="1.39" ry="5.94" transform="rotate(28.2 235.76 1345.63)" fill="rgb(39,0,0)" class="p"/><ellipse cx="299.03" cy="1040.67" rx="1.39" ry="7.18" transform="rotate(-33.26 299.03 1040.67)" fill="rgb(28,0,0)" class="p"/><ellipse cx="311.06" cy="1342.61" rx="1.23" ry="5.23" transform="rotate(30.93 311.06 1342.61)" fill="rgb(14,0,0)" class="p"/><ellipse cx="249.06" cy="1063.49" rx="1.08" ry="4.56" transform="rotate(-28.7 249.06 1063.49)" fill="rgb(30,0,0)" class="p"/><ellipse cx="227.31" cy="1071.11" rx="1.53" ry="7.9" transform="rotate(-37.88 227.31 1071.11)" fill="rgb(20,0,0)" class="p"/><ellipse cx="338.65" cy="1377.23" rx="1.37" ry="6.15" transform="rotate(30.46 338.65 1377.23)" fill="rgb(25,0,0)" class="p"/><ellipse cx="73.18" cy="1043.75" rx="1.45" ry="4.82" transform="rotate(-67.4 73.18 1043.75)" fill="rgb(26,0,0)" class="p"/><ellipse cx="120.33" cy="1019.31" rx="1.12" ry="7.46" transform="rotate(-61.8 120.33 1019.31)" fill="rgb(42,0,0)" class="p"/><ellipse cx="312.36" cy="1317.58" rx="1.24" ry="4.28" transform="rotate(13.87 312.36 1317.58)" fill="rgb(14,0,0)" class="p"/><ellipse cx="162.27" cy="1330.32" rx="1.08" ry="7.25" transform="rotate(36.3 162.27 1330.32)" fill="rgb(43,0,0)" class="p"/><ellipse cx="207.4" cy="1135.6" rx="1.53" ry="4.33" transform="rotate(-24.09 207.4 1135.6)" fill="rgb(23,0,0)" class="p"/><ellipse cx="316.55" cy="1330.69" rx="1.39" ry="5.93" transform="rotate(18.48 316.55 1330.69)" fill="rgb(19,0,0)" class="p"/><ellipse cx="297.67" cy="1007.24" rx="1.45" ry="7.35" transform="rotate(-26.07 297.67 1007.24)" fill="rgb(27,0,0)" class="p"/><ellipse cx="233.14" cy="1141.41" rx="1.36" ry="4.41" transform="rotate(-16.65 233.14 1141.41)" fill="rgb(27,0,0)" class="p"/><ellipse cx="286.39" cy="1367.97" rx="1.14" ry="6.76" transform="rotate(32.88 286.39 1367.97)" fill="rgb(28,0,0)" class="p"/><ellipse cx="375.33" cy="1059.55" rx="1.33" ry="5.32" transform="rotate(-22.03 375.33 1059.55)" fill="rgb(15,0,0)" class="p"/><ellipse cx="122.45" cy="1385.91" rx="1.36" ry="4.82" transform="rotate(61.2 122.45 1385.91)" fill="rgb(54,0,0)" class="p"/><ellipse cx="249" cy="1412.05" rx="1.22" ry="7.52" transform="rotate(35.4 249 1412.05)" fill="rgb(29,0,0)" class="p"/><ellipse cx="100.82" cy="1278.51" rx="1.07" ry="7.42" transform="rotate(32.91 100.82 1278.51)" fill="rgb(44,0,0)" class="p"/><ellipse cx="133.48" cy="1308.72" rx="1.55" ry="7.14" transform="rotate(35.9 133.48 1308.72)" fill="rgb(52,0,0)" class="p"/><ellipse cx="249.66" cy="1331.66" rx="1.55" ry="4.1" transform="rotate(32.74 249.66 1331.66)" fill="rgb(36,0,0)" class="p"/><ellipse cx="330.6" cy="1039.37" rx="1.56" ry="7.18" transform="rotate(-31.2 330.6 1039.37)" fill="rgb(22,0,0)" class="p"/><ellipse cx="143.55" cy="1280.21" rx="1.04" ry="6.89" transform="rotate(19.83 143.55 1280.21)" fill="rgb(41,0,0)" class="p"/><ellipse cx="325.8" cy="1403.04" rx="1.07" ry="7.66" transform="rotate(27.42 325.8 1403.04)" fill="rgb(11,0,0)" class="p"/><ellipse cx="330.72" cy="1286.96" rx="1.35" ry="6.47" transform="rotate(5.24 330.72 1286.96)" fill="rgb(18,0,0)" class="p"/><ellipse cx="155.09" cy="1139.18" rx="1.09" ry="7.54" transform="rotate(-23.11 155.09 1139.18)" fill="rgb(24,0,0)" class="p"/><ellipse cx="160.81" cy="1333.01" rx="1.38" ry="7.3" transform="rotate(41.61 160.81 1333.01)" fill="rgb(31,0,0)" class="p"/><ellipse cx="232.77" cy="1107.39" rx="1.38" ry="5.55" transform="rotate(-27.53 232.77 1107.39)" fill="rgb(27,0,0)" class="p"/><ellipse cx="216.58" cy="1128.72" rx="1.49" ry="6.42" transform="rotate(-25.02 216.58 1128.72)" fill="rgb(37,0,0)" class="p"/><ellipse cx="66.63" cy="1391.14" rx="1.36" ry="7.76" transform="rotate(73.39 66.63 1391.14)" fill="rgb(56,0,0)" class="p"/><ellipse cx="250.53" cy="1117.52" rx="1.16" ry="5.1" transform="rotate(-21.57 250.53 1117.52)" fill="rgb(23,0,0)" class="p"/><ellipse cx="124.7" cy="1368.9" rx="1.16" ry="6.36" transform="rotate(52.24 124.7 1368.9)" fill="rgb(32,0,0)" class="p"/><ellipse cx="129.61" cy="1379.92" rx="1.22" ry="7.48" transform="rotate(59.6 129.61 1379.92)" fill="rgb(40,0,0)" class="p"/><ellipse cx="117.67" cy="1006.44" rx="1" ry="4.43" transform="rotate(-64.59 117.67 1006.44)" fill="rgb(51,0,0)" class="p"/><ellipse cx="350.51" cy="1127.34" rx="1.35" ry="4.75" transform="rotate(-11.46 350.51 1127.34)" fill="rgb(15,0,0)" class="p"/><ellipse cx="389.01" cy="1085.44" rx="1.38" ry="5.12" transform="rotate(-12.54 389.01 1085.44)" fill="rgb(15,0,0)" class="p"/><ellipse cx="72.9" cy="1397.93" rx="1.32" ry="6.15" transform="rotate(75.94 72.9 1397.93)" fill="rgb(36,0,0)" class="p"/><ellipse cx="268.14" cy="1144.41" rx="1.43" ry="4.23" transform="rotate(-8.07 268.14 1144.41)" fill="rgb(26,0,0)" class="p"/><ellipse cx="91.09" cy="1062.61" rx="1.22" ry="6.99" transform="rotate(-61.57 91.09 1062.61)" fill="rgb(35,0,0)" class="p"/><ellipse cx="289.62" cy="1005.94" rx="1.37" ry="7.72" transform="rotate(-37.75 289.62 1005.94)" fill="rgb(21,0,0)" class="p"/><ellipse cx="297.88" cy="1391.13" rx="1.15" ry="6.72" transform="rotate(33.31 297.88 1391.13)" fill="rgb(13,0,0)" class="p"/><ellipse cx="324.66" cy="1295.48" rx="1.5" ry="6.82" transform="rotate(9.37 324.66 1295.48)" fill="rgb(18,0,0)" class="p"/><ellipse cx="249.05" cy="1377.34" rx="1.57" ry="7.09" transform="rotate(28.56 249.05 1377.34)" fill="rgb(27,0,0)" class="p"/><ellipse cx="228.03" cy="1117.39" rx="1.4" ry="7.25" transform="rotate(-28.29 228.03 1117.39)" fill="rgb(22,0,0)" class="p"/><ellipse cx="150.78" cy="1297.85" rx="1.4" ry="5.14" transform="rotate(26.1 150.78 1297.85)" fill="rgb(42,0,0)" class="p"/><ellipse cx="348.49" cy="1041.59" rx="1.03" ry="6.68" transform="rotate(-30.81 348.49 1041.59)" fill="rgb(11,0,0)" class="p"/><ellipse cx="280.53" cy="1328.56" rx="1.59" ry="7.99" transform="rotate(28.16 280.53 1328.56)" fill="rgb(27,0,0)" class="p"/><ellipse cx="330.5" cy="1128.42" rx="1.27" ry="6.92" transform="rotate(-9.18 330.5 1128.42)" fill="rgb(19,0,0)" class="p"/><ellipse cx="365.69" cy="1366.49" rx="1.29" ry="5.69" transform="rotate(17.06 365.69 1366.49)" fill="rgb(15,0,0)" class="p"/><ellipse cx="288.99" cy="1107.96" rx="1.46" ry="5.35" transform="rotate(-21.09 288.99 1107.96)" fill="rgb(24,0,0)" class="p"/><ellipse cx="341.58" cy="1333.72" rx="1.21" ry="5.1" transform="rotate(14.66 341.58 1333.72)" fill="rgb(12,0,0)" class="p"/><ellipse cx="379.65" cy="1339.44" rx="1.43" ry="5.87" transform="rotate(20.73 379.65 1339.44)" fill="rgb(10,0,0)" class="p"/><ellipse cx="290.7" cy="1087.28" rx="1.03" ry="7.61" transform="rotate(-20.31 290.7 1087.28)" fill="rgb(26,0,0)" class="p"/><ellipse cx="193.04" cy="1364.3" rx="1.55" ry="7.5" transform="rotate(31.41 193.04 1364.3)" fill="rgb(39,0,0)" class="p"/><ellipse cx="328.34" cy="1073.73" rx="1.21" ry="5.06" transform="rotate(-25.63 328.34 1073.73)" fill="rgb(23,0,0)" class="p"/><ellipse cx="279.66" cy="1079.34" rx="1.25" ry="7.16" transform="rotate(-18.25 279.66 1079.34)" fill="rgb(28,0,0)" class="p"/><ellipse cx="252.77" cy="1393.95" rx="1.35" ry="5.39" transform="rotate(30.81 252.77 1393.95)" fill="rgb(18,0,0)" class="p"/><ellipse cx="162.43" cy="1295.31" rx="1.48" ry="7.14" transform="rotate(22.67 162.43 1295.31)" fill="rgb(38,0,0)" class="p"/><ellipse cx="203.52" cy="1411.83" rx="1.23" ry="5.99" transform="rotate(38.32 203.52 1411.83)" fill="rgb(29,0,0)" class="p"/><ellipse cx="144.92" cy="1363.38" rx="1.09" ry="5.78" transform="rotate(41.32 144.92 1363.38)" fill="rgb(40,0,0)" class="p"/><ellipse cx="290.26" cy="1074.02" rx="1.14" ry="5.6" transform="rotate(-25.44 290.26 1074.02)" fill="rgb(27,0,0)" class="p"/><ellipse cx="108.97" cy="1021.53" rx="1.41" ry="5.44" transform="rotate(-57.95 108.97 1021.53)" fill="rgb(23,0,0)" class="p"/><ellipse cx="388.62" cy="1148" rx="1.5" ry="7.31" transform="rotate(-2.26 388.62 1148)" fill="rgb(8,0,0)" class="p"/><ellipse cx="164.51" cy="1042.09" rx="1.29" ry="5.61" transform="rotate(-45.19 164.51 1042.09)" fill="rgb(40,0,0)" class="p"/><ellipse cx="70.02" cy="1003.51" rx="1.36" ry="4.83" transform="rotate(-63.59 70.02 1003.51)" fill="rgb(43,0,0)" class="p"/><ellipse cx="232.3" cy="1017.86" rx="1.09" ry="6.6" transform="rotate(-31.45 232.3 1017.86)" fill="rgb(34,0,0)" class="p"/><ellipse cx="265.45" cy="1288.78" rx="1.26" ry="5.45" transform="rotate(10.4 265.45 1288.78)" fill="rgb(28,0,0)" class="p"/><ellipse cx="181.76" cy="1053.58" rx="1.5" ry="5.91" transform="rotate(-33.35 181.76 1053.58)" fill="rgb(21,0,0)" class="p"/><ellipse cx="260.94" cy="1024.73" rx="1.38" ry="4.48" transform="rotate(-37.31 260.94 1024.73)" fill="rgb(34,0,0)" class="p"/><ellipse cx="331.32" cy="1035.16" rx="1.29" ry="4.69" transform="rotate(-29.35 331.32 1035.16)" fill="rgb(12,0,0)" class="p"/><ellipse cx="215.67" cy="1062.17" rx="1.19" ry="7.05" transform="rotate(-35.12 215.67 1062.17)" fill="rgb(45,0,0)" class="p"/><ellipse cx="152.44" cy="1352.16" rx="1.36" ry="4.01" transform="rotate(46.17 152.44 1352.16)" fill="rgb(30,0,0)" class="p"/><ellipse cx="175.29" cy="1057.01" rx="1.21" ry="4.88" transform="rotate(-42.22 175.29 1057.01)" fill="rgb(22,0,0)" class="p"/><ellipse cx="361.95" cy="1279.78" rx="1.48" ry="7.14" transform="rotate(7.25 361.95 1279.78)" fill="rgb(13,0,0)" class="p"/><ellipse cx="272.75" cy="1083.9" rx="1.01" ry="6.09" transform="rotate(-26.24 272.75 1083.9)" fill="rgb(29,0,0)" class="p"/><ellipse cx="354.46" cy="1068.7" rx="1.5" ry="4.21" transform="rotate(-17.82 354.46 1068.7)" fill="rgb(15,0,0)" class="p"/><ellipse cx="263.77" cy="1375.68" rx="1.55" ry="5.24" transform="rotate(27.86 263.77 1375.68)" fill="rgb(17,0,0)" class="p"/><ellipse cx="357.45" cy="1099.92" rx="1.35" ry="4.52" transform="rotate(-9.55 357.45 1099.92)" fill="rgb(24,0,0)" class="p"/><ellipse cx="116.42" cy="1351.91" rx="1.49" ry="5.85" transform="rotate(56.3 116.42 1351.91)" fill="rgb(40,0,0)" class="p"/><ellipse cx="227.51" cy="1284.97" rx="1.4" ry="7.12" transform="rotate(12.22 227.51 1284.97)" fill="rgb(27,0,0)" class="p"/><ellipse cx="274.52" cy="1394.92" rx="1.09" ry="6.62" transform="rotate(30.62 274.52 1394.92)" fill="rgb(32,0,0)" class="p"/><ellipse cx="179.35" cy="1141.03" rx="1.13" ry="6.6" transform="rotate(-13.08 179.35 1141.03)" fill="rgb(23,0,0)" class="p"/><ellipse cx="373.36" cy="1054.01" rx="1.3" ry="5.37" transform="rotate(-26.35 373.36 1054.01)" fill="rgb(21,0,0)" class="p"/><ellipse cx="343.17" cy="1338.75" rx="1.07" ry="6.88" transform="rotate(16.67 343.17 1338.75)" fill="rgb(14,0,0)" class="p"/><ellipse cx="229.75" cy="998.87" rx="1.49" ry="4.78" transform="rotate(-48.54 229.75 998.87)" fill="rgb(43,0,0)" class="p"/><ellipse cx="317.44" cy="1067.49" rx="1.38" ry="7.68" transform="rotate(-21.34 317.44 1067.49)" fill="rgb(12,0,0)" class="p"/><ellipse cx="388.62" cy="1059.02" rx="1.12" ry="4.83" transform="rotate(-22.79 388.62 1059.02)" fill="rgb(18,0,0)" class="p"/><ellipse cx="335.16" cy="1359.63" rx="1.31" ry="7.31" transform="rotate(30.02 335.16 1359.63)" fill="rgb(27,0,0)" class="p"/><ellipse cx="237.99" cy="1408.72" rx="1.08" ry="6.22" transform="rotate(34.96 237.99 1408.72)" fill="rgb(38,0,0)" class="p"/><ellipse cx="88.27" cy="1075.55" rx="1.03" ry="4.7" transform="rotate(-51.13 88.27 1075.55)" fill="rgb(29,0,0)" class="p"/><ellipse cx="393.01" cy="1389.96" rx="1.26" ry="5.39" transform="rotate(30.41 393.01 1389.96)" fill="rgb(17,0,0)" class="p"/><ellipse cx="274.98" cy="1133.23" rx="1.53" ry="7.53" transform="rotate(-21.22 274.98 1133.23)" fill="rgb(26,0,0)" class="p"/><ellipse cx="151.68" cy="1063.44" rx="1.55" ry="5.51" transform="rotate(-47.09 151.68 1063.44)" fill="rgb(48,0,0)" class="p"/><ellipse cx="87.58" cy="1298.74" rx="1.36" ry="4.27" transform="rotate(43.14 87.58 1298.74)" fill="rgb(35,0,0)" class="p"/><ellipse cx="317.79" cy="1081.94" rx="1.55" ry="6.08" transform="rotate(-25.38 317.79 1081.94)" fill="rgb(21,0,0)" class="p"/><ellipse cx="244.31" cy="1049.32" rx="1.18" ry="4.85" transform="rotate(-38.47 244.31 1049.32)" fill="rgb(37,0,0)" class="p"/><ellipse cx="233.53" cy="1068.97" rx="1.33" ry="5.01" transform="rotate(-34.65 233.53 1068.97)" fill="rgb(21,0,0)" class="p"/><ellipse cx="354.69" cy="1041" rx="1.43" ry="6.58" transform="rotate(-26.44 354.69 1041)" fill="rgb(13,0,0)" class="p"/><ellipse cx="235.51" cy="1405.99" rx="1.52" ry="4.92" transform="rotate(40.28 235.51 1405.99)" fill="rgb(22,0,0)" class="p"/><ellipse cx="351.34" cy="999.53" rx="1.52" ry="7.24" transform="rotate(-22.78 351.34 999.53)" fill="rgb(18,0,0)" class="p"/><ellipse cx="344.88" cy="1116.19" rx="1.28" ry="6.54" transform="rotate(-14.43 344.88 1116.19)" fill="rgb(12,0,0)" class="p"/><ellipse cx="364.2" cy="1272.84" rx="1.26" ry="5.2" transform="rotate(2.44 364.2 1272.84)" fill="rgb(9,0,0)" class="p"/><ellipse cx="238.31" cy="1103.14" rx="1.46" ry="7.45" transform="rotate(-16.42 238.31 1103.14)" fill="rgb(26,0,0)" class="p"/><ellipse cx="145.82" cy="1294.6" rx="1.15" ry="4.13" transform="rotate(28.55 145.82 1294.6)" fill="rgb(51,0,0)" class="p"/><ellipse cx="330.96" cy="1000.93" rx="1.36" ry="6.51" transform="rotate(-30.27 330.96 1000.93)" fill="rgb(16,0,0)" class="p"/><ellipse cx="318.65" cy="1270.13" rx="1.15" ry="4.23" transform="rotate(15 318.65 1270.13)" fill="rgb(27,0,0)" class="p"/><ellipse cx="88.1" cy="1142.15" rx="1.39" ry="5.8" transform="rotate(-34.22 88.1 1142.15)" fill="rgb(43,0,0)" class="p"/><ellipse cx="213.29" cy="1005.58" rx="1.25" ry="4.28" transform="rotate(-49.61 213.29 1005.58)" fill="rgb(37,0,0)" class="p"/><ellipse cx="309.22" cy="1089.55" rx="1.55" ry="4.07" transform="rotate(-25.09 309.22 1089.55)" fill="rgb(31,0,0)" class="p"/><ellipse cx="333.27" cy="1318.27" rx="1.3" ry="7.1" transform="rotate(13.81 333.27 1318.27)" fill="rgb(12,0,0)" class="p"/><ellipse cx="138.49" cy="1340.06" rx="1.48" ry="5" transform="rotate(50.87 138.49 1340.06)" fill="rgb(45,0,0)" class="p"/><ellipse cx="171.75" cy="1001.35" rx="1.37" ry="6.85" transform="rotate(-45 171.75 1001.35)" fill="rgb(46,0,0)" class="p"/><ellipse cx="352.5" cy="1122.71" rx="1.58" ry="5.26" transform="rotate(-14.79 352.5 1122.71)" fill="rgb(13,0,0)" class="p"/><ellipse cx="333.32" cy="1036.15" rx="1.12" ry="7.49" transform="rotate(-33.13 333.32 1036.15)" fill="rgb(25,0,0)" class="p"/><ellipse cx="68.49" cy="1394.45" rx="1.52" ry="6.09" transform="rotate(63.04 68.49 1394.45)" fill="rgb(29,0,0)" class="p"/><ellipse cx="216.82" cy="1302" rx="1.26" ry="5.99" transform="rotate(17.61 216.82 1302)" fill="rgb(39,0,0)" class="p"/><ellipse cx="351.33" cy="1375.33" rx="1.22" ry="7.28" transform="rotate(17.58 351.33 1375.33)" fill="rgb(20,0,0)" class="p"/><ellipse cx="263.76" cy="1305.61" rx="1.52" ry="6.05" transform="rotate(14.16 263.76 1305.61)" fill="rgb(19,0,0)" class="p"/><ellipse cx="345.24" cy="1070.75" rx="1.57" ry="6.51" transform="rotate(-17.81 345.24 1070.75)" fill="rgb(11,0,0)" class="p"/><ellipse cx="160.04" cy="1357.2" rx="1.17" ry="5.08" transform="rotate(48.71 160.04 1357.2)" fill="rgb(32,0,0)" class="p"/><ellipse cx="153.08" cy="1000.27" rx="1.46" ry="4.52" transform="rotate(-51.3 153.08 1000.27)" fill="rgb(43,0,0)" class="p"/><ellipse cx="389.94" cy="1010.63" rx="1.06" ry="6.35" transform="rotate(-19.27 389.94 1010.63)" fill="rgb(14,0,0)" class="p"/><ellipse cx="268.57" cy="1029.12" rx="1.58" ry="5.44" transform="rotate(-36.7 268.57 1029.12)" fill="rgb(28,0,0)" class="p"/><ellipse cx="81" cy="1271.62" rx="1.52" ry="6.47" transform="rotate(34.9 81 1271.62)" fill="rgb(30,0,0)" class="p"/><ellipse cx="153.79" cy="1311.33" rx="1.53" ry="5.56" transform="rotate(36.37 153.79 1311.33)" fill="rgb(51,0,0)" class="p"/><ellipse cx="107.35" cy="1293.98" rx="1.52" ry="6.29" transform="rotate(42.15 107.35 1293.98)" fill="rgb(51,0,0)" class="p"/><ellipse cx="277.09" cy="1327.77" rx="1.15" ry="6.63" transform="rotate(25.09 277.09 1327.77)" fill="rgb(32,0,0)" class="p"/><ellipse cx="138.3" cy="1124.98" rx="1.59" ry="6.53" transform="rotate(-25.32 138.3 1124.98)" fill="rgb(26,0,0)" class="p"/><ellipse cx="267.46" cy="1398.83" rx="1.37" ry="4.62" transform="rotate(42.28 267.46 1398.83)" fill="rgb(14,0,0)" class="p"/><ellipse cx="74.28" cy="1125.89" rx="1.59" ry="5.29" transform="rotate(-49.11 74.28 1125.89)" fill="rgb(48,0,0)" class="p"/><ellipse cx="298.35" cy="1026.03" rx="1.18" ry="7.83" transform="rotate(-31.81 298.35 1026.03)" fill="rgb(15,0,0)" class="p"/><ellipse cx="307.71" cy="1327.59" rx="1.34" ry="4.86" transform="rotate(21.3 307.71 1327.59)" fill="rgb(25,0,0)" class="p"/><ellipse cx="213.57" cy="1060.64" rx="1.03" ry="7.62" transform="rotate(-30.5 213.57 1060.64)" fill="rgb(35,0,0)" class="p"/><ellipse cx="331.4" cy="1267.74" rx="1.53" ry="5.08" transform="rotate(5.36 331.4 1267.74)" fill="rgb(15,0,0)" class="p"/><ellipse cx="195.4" cy="1300.57" rx="1.5" ry="5.54" transform="rotate(23.48 195.4 1300.57)" fill="rgb(41,0,0)" class="p"/><ellipse cx="271.95" cy="1404.14" rx="1.54" ry="6.52" transform="rotate(41.81 271.95 1404.14)" fill="rgb(22,0,0)" class="p"/><ellipse cx="288.76" cy="1355.78" rx="1.22" ry="6.16" transform="rotate(28.09 288.76 1355.78)" fill="rgb(24,0,0)" class="p"/><ellipse cx="267.47" cy="1104.09" rx="1.03" ry="5.25" transform="rotate(-21.64 267.47 1104.09)" fill="rgb(17,0,0)" class="p"/><ellipse cx="232.9" cy="1000.4" rx="1.53" ry="5.32" transform="rotate(-33.26 232.9 1000.4)" fill="rgb(37,0,0)" class="p"/><ellipse cx="123.42" cy="1039" rx="1.35" ry="4.3" transform="rotate(-50.78 123.42 1039)" fill="rgb(21,0,0)" class="p"/><ellipse cx="188.64" cy="1386.53" rx="1.51" ry="4.44" transform="rotate(41.68 188.64 1386.53)" fill="rgb(31,0,0)" class="p"/><ellipse cx="389.26" cy="1274.81" rx="1.12" ry="6" transform="rotate(1.83 389.26 1274.81)" fill="rgb(13,0,0)" class="p"/><ellipse cx="214.52" cy="1123.27" rx="1.01" ry="7.84" transform="rotate(-19.92 214.52 1123.27)" fill="rgb(39,0,0)" class="p"/><ellipse cx="124.6" cy="1325.67" rx="1.29" ry="7.79" transform="rotate(34.82 124.6 1325.67)" fill="rgb(54,0,0)" class="p"/><ellipse cx="173.65" cy="1392.72" rx="1.43" ry="7.42" transform="rotate(44.47 173.65 1392.72)" fill="rgb(48,0,0)" class="p"/><ellipse cx="335.57" cy="1022.55" rx="1.54" ry="7.49" transform="rotate(-21.64 335.57 1022.55)" fill="rgb(23,0,0)" class="p"/><ellipse cx="125.45" cy="1120.74" rx="1.25" ry="7.04" transform="rotate(-34.44 125.45 1120.74)" fill="rgb(45,0,0)" class="p"/><ellipse cx="349.02" cy="1070.93" rx="1.56" ry="5.23" transform="rotate(-20.42 349.02 1070.93)" fill="rgb(11,0,0)" class="p"/><ellipse cx="281.27" cy="1080.18" rx="1.11" ry="5.35" transform="rotate(-20.51 281.27 1080.18)" fill="rgb(23,0,0)" class="p"/><ellipse cx="140.52" cy="1388.17" rx="1.2" ry="7.92" transform="rotate(58.01 140.52 1388.17)" fill="rgb(45,0,0)" class="p"/><ellipse cx="185.32" cy="1115.27" rx="1.51" ry="6.71" transform="rotate(-20.36 185.32 1115.27)" fill="rgb(43,0,0)" class="p"/><ellipse cx="393.05" cy="1044.46" rx="1.04" ry="7.95" transform="rotate(-15.35 393.05 1044.46)" fill="rgb(11,0,0)" class="p"/><ellipse cx="303.13" cy="1313.31" rx="1.07" ry="6.98" transform="rotate(18.8 303.13 1313.31)" fill="rgb(29,0,0)" class="p"/><ellipse cx="271.11" cy="1406.05" rx="1.05" ry="7.57" transform="rotate(30.45 271.11 1406.05)" fill="rgb(35,0,0)" class="p"/><ellipse cx="145.6" cy="1410.3" rx="1.13" ry="6.05" transform="rotate(57.8 145.6 1410.3)" fill="rgb(33,0,0)" class="p"/><ellipse cx="104.73" cy="1127.11" rx="1.59" ry="6.46" transform="rotate(-44.23 104.73 1127.11)" fill="rgb(36,0,0)" class="p"/><ellipse cx="175.9" cy="1411.44" rx="1.57" ry="5.65" transform="rotate(41.63 175.9 1411.44)" fill="rgb(24,0,0)" class="p"/>
<ellipse cx="87.42" cy="1227.98" rx="1.84" ry="5.7" transform="rotate(4.67 87.42 1227.98)" fill="rgb(63,0,0)" class="p"/><ellipse cx="122.29" cy="1259.6" rx="1.36" ry="6.83" transform="rotate(19.29 122.29 1259.6)" fill="rgb(67,0,0)" class="p"/><ellipse cx="154.47" cy="1245.75" rx="1.97" ry="3.68" transform="rotate(9.77 154.47 1245.75)" fill="rgb(78,0,0)" class="p"/><ellipse cx="171.2" cy="1157.33" rx="1.6" ry="5.13" transform="rotate(-16.09 171.2 1157.33)" fill="rgb(113,0,0)" class="p"/><ellipse cx="206.11" cy="1287.06" rx="1.24" ry="6.14" transform="rotate(12.06 206.11 1287.06)" fill="rgb(41,0,0)" class="p"/><ellipse cx="141.81" cy="1143.21" rx="1.6" ry="6.83" transform="rotate(-23.07 141.81 1143.21)" fill="rgb(125,0,0)" class="p"/><ellipse cx="230.71" cy="1142.23" rx="1.89" ry="6.65" transform="rotate(-20.42 230.71 1142.23)" fill="rgb(36,0,0)" class="p"/><ellipse cx="230.25" cy="1304.31" rx="1.4" ry="5.18" transform="rotate(18.22 230.25 1304.31)" fill="rgb(39,0,0)" class="p"/><ellipse cx="221.26" cy="1183.16" rx="1.31" ry="6.31" transform="rotate(0.68 221.26 1183.16)" fill="rgb(46,0,0)" class="p"/><ellipse cx="80.94" cy="1188.09" rx="1.33" ry="5.04" transform="rotate(-9.68 80.94 1188.09)" fill="rgb(126,0,0)" class="p"/><ellipse cx="176.3" cy="1108.19" rx="1.7" ry="4.64" transform="rotate(-23.03 176.3 1108.19)" fill="rgb(71,0,0)" class="p"/><ellipse cx="165.22" cy="1354.58" rx="1.39" ry="4.79" transform="rotate(24.62 165.22 1354.58)" fill="rgb(101,0,0)" class="p"/><ellipse cx="183.47" cy="1137.17" rx="1.22" ry="4.07" transform="rotate(-10 183.47 1137.17)" fill="rgb(94,0,0)" class="p"/><ellipse cx="124.14" cy="1268.25" rx="1.56" ry="5.48" transform="rotate(25.14 124.14 1268.25)" fill="rgb(84,0,0)" class="p"/><ellipse cx="165.3" cy="1213.4" rx="1.23" ry="4.24" transform="rotate(3.56 165.3 1213.4)" fill="rgb(106,0,0)" class="p"/><ellipse cx="89.79" cy="1122.05" rx="1.78" ry="6.66" transform="rotate(-26.75 89.79 1122.05)" fill="rgb(50,0,0)" class="p"/><ellipse cx="107.48" cy="1062.04" rx="1.53" ry="6.83" transform="rotate(-34.48 107.48 1062.04)" fill="rgb(137,0,0)" class="p"/><ellipse cx="194.36" cy="1215.26" rx="1.77" ry="6.94" transform="rotate(-3.99 194.36 1215.26)" fill="rgb(44,0,0)" class="p"/><ellipse cx="215.98" cy="1221.27" rx="1.72" ry="4.93" transform="rotate(-5.44 215.98 1221.27)" fill="rgb(38,0,0)" class="p"/><ellipse cx="183.88" cy="1144.99" rx="1.54" ry="3.84" transform="rotate(-4.34 183.88 1144.99)" fill="rgb(101,0,0)" class="p"/><ellipse cx="129.59" cy="1151.8" rx="1.99" ry="5.94" transform="rotate(-17.02 129.59 1151.8)" fill="rgb(138,0,0)" class="p"/><ellipse cx="96.21" cy="1190.87" rx="1.54" ry="5.93" transform="rotate(-8.78 96.21 1190.87)" fill="rgb(95,0,0)" class="p"/><ellipse cx="155.66" cy="1299.91" rx="1.45" ry="3.32" transform="rotate(14.26 155.66 1299.91)" fill="rgb(113,0,0)" class="p"/><ellipse cx="81.36" cy="1304.28" rx="1.22" ry="5.9" transform="rotate(31.85 81.36 1304.28)" fill="rgb(61,0,0)" class="p"/><ellipse cx="150.19" cy="1200.86" rx="1.5" ry="6.53" transform="rotate(-4.76 150.19 1200.86)" fill="rgb(72,0,0)" class="p"/><ellipse cx="84.67" cy="1194.85" rx="1.98" ry="6.87" transform="rotate(-9.27 84.67 1194.85)" fill="rgb(75,0,0)" class="p"/><ellipse cx="109.25" cy="1119.9" rx="1.77" ry="6" transform="rotate(-17.36 109.25 1119.9)" fill="rgb(52,0,0)" class="p"/><ellipse cx="114.51" cy="1236.88" rx="1.73" ry="6.43" transform="rotate(2.63 114.51 1236.88)" fill="rgb(127,0,0)" class="p"/><ellipse cx="183.32" cy="1275.35" rx="1.35" ry="6.71" transform="rotate(17.24 183.32 1275.35)" fill="rgb(103,0,0)" class="p"/><ellipse cx="199" cy="1188.37" rx="1.76" ry="6.17" transform="rotate(5.32 199 1188.37)" fill="rgb(53,0,0)" class="p"/><ellipse cx="154.54" cy="1122.21" rx="1.94" ry="4.63" transform="rotate(-16.23 154.54 1122.21)" fill="rgb(69,0,0)" class="p"/><ellipse cx="114.19" cy="1233.57" rx="1.33" ry="4.01" transform="rotate(6.23 114.19 1233.57)" fill="rgb(60,0,0)" class="p"/><ellipse cx="201.04" cy="1112.18" rx="1.64" ry="6.71" transform="rotate(-23.27 201.04 1112.18)" fill="rgb(41,0,0)" class="p"/><ellipse cx="123.55" cy="1170.23" rx="1.85" ry="3.49" transform="rotate(-12.89 123.55 1170.23)" fill="rgb(97,0,0)" class="p"/><ellipse cx="86.27" cy="1164.71" rx="1.3" ry="6.83" transform="rotate(-23.56 86.27 1164.71)" fill="rgb(104,0,0)" class="p"/><ellipse cx="222.53" cy="1191.72" rx="1.81" ry="5.32" transform="rotate(-7.91 222.53 1191.72)" fill="rgb(41,0,0)" class="p"/><ellipse cx="216.58" cy="1208.61" rx="1.87" ry="6.95" transform="rotate(-8.52 216.58 1208.61)" fill="rgb(49,0,0)" class="p"/><ellipse cx="219.02" cy="1241.59" rx="1.52" ry="4" transform="rotate(2.66 219.02 1241.59)" fill="rgb(41,0,0)" class="p"/><ellipse cx="187.41" cy="1169.26" rx="1.9" ry="3.33" transform="rotate(-5.63 187.41 1169.26)" fill="rgb(40,0,0)" class="p"/><ellipse cx="173.53" cy="1275.71" rx="1.35" ry="4.74" transform="rotate(13.62 173.53 1275.71)" fill="rgb(111,0,0)" class="p"/><ellipse cx="88.88" cy="1292.88" rx="1.42" ry="6.64" transform="rotate(28.7 88.88 1292.88)" fill="rgb(136,0,0)" class="p"/><ellipse cx="169.04" cy="1272" rx="1.3" ry="6.18" transform="rotate(18.12 169.04 1272)" fill="rgb(56,0,0)" class="p"/><ellipse cx="179.85" cy="1248.71" rx="1.36" ry="3.87" transform="rotate(3.86 179.85 1248.71)" fill="rgb(68,0,0)" class="p"/><ellipse cx="99.38" cy="1205.15" rx="1.38" ry="5.82" transform="rotate(8.8 99.38 1205.15)" fill="rgb(120,0,0)" class="p"/><ellipse cx="134.54" cy="1109.6" rx="1.89" ry="5.62" transform="rotate(-36.23 134.54 1109.6)" fill="rgb(150,0,0)" class="p"/><ellipse cx="173.48" cy="1222.32" rx="1.39" ry="3.32" transform="rotate(7.83 173.48 1222.32)" fill="rgb(46,0,0)" class="p"/><ellipse cx="160.3" cy="1221.4" rx="1.45" ry="6.86" transform="rotate(0.29 160.3 1221.4)" fill="rgb(94,0,0)" class="p"/><ellipse cx="191.3" cy="1274.06" rx="1.26" ry="4.82" transform="rotate(5.27 191.3 1274.06)" fill="rgb(56,0,0)" class="p"/><ellipse cx="141.04" cy="1228.13" rx="1.28" ry="4.06" transform="rotate(12.41 141.04 1228.13)" fill="rgb(77,0,0)" class="p"/><ellipse cx="216.4" cy="1152.57" rx="1.85" ry="3.94" transform="rotate(-17.16 216.4 1152.57)" fill="rgb(42,0,0)" class="p"/><ellipse cx="148.3" cy="1347.26" rx="1.74" ry="4.9" transform="rotate(30.95 148.3 1347.26)" fill="rgb(140,0,0)" class="p"/><ellipse cx="103.74" cy="1246.14" rx="1.57" ry="4.38" transform="rotate(12.8 103.74 1246.14)" fill="rgb(92,0,0)" class="p"/><ellipse cx="158.75" cy="1149.8" rx="1.47" ry="5.05" transform="rotate(-10.21 158.75 1149.8)" fill="rgb(53,0,0)" class="p"/><ellipse cx="130.5" cy="1198.33" rx="1.31" ry="3.79" transform="rotate(-5.66 130.5 1198.33)" fill="rgb(124,0,0)" class="p"/><ellipse cx="179.35" cy="1256.74" rx="1.83" ry="3.41" transform="rotate(3.34 179.35 1256.74)" fill="rgb(74,0,0)" class="p"/><ellipse cx="81.46" cy="1212.38" rx="1.99" ry="5.53" transform="rotate(4.38 81.46 1212.38)" fill="rgb(101,0,0)" class="p"/><ellipse cx="158.7" cy="1270.42" rx="1.45" ry="4.89" transform="rotate(9.34 158.7 1270.42)" fill="rgb(52,0,0)" class="p"/><ellipse cx="85.81" cy="1201.91" rx="1.5" ry="5.2" transform="rotate(-8.61 85.81 1201.91)" fill="rgb(83,0,0)" class="p"/><ellipse cx="168.45" cy="1267.75" rx="1.59" ry="4.85" transform="rotate(12.38 168.45 1267.75)" fill="rgb(78,0,0)" class="p"/><ellipse cx="170.17" cy="1224" rx="1.73" ry="3.1" transform="rotate(7.53 170.17 1224)" fill="rgb(89,0,0)" class="p"/><ellipse cx="213.63" cy="1222.6" rx="1.27" ry="6.42" transform="rotate(4.46 213.63 1222.6)" fill="rgb(33,0,0)" class="p"/><ellipse cx="152.15" cy="1224.19" rx="1.36" ry="4.78" transform="rotate(-2.3 152.15 1224.19)" fill="rgb(82,0,0)" class="p"/><ellipse cx="126.92" cy="1142.6" rx="1.75" ry="6.22" transform="rotate(-18.83 126.92 1142.6)" fill="rgb(107,0,0)" class="p"/><ellipse cx="110.5" cy="1142.51" rx="1.85" ry="3.44" transform="rotate(-17.78 110.5 1142.51)" fill="rgb(99,0,0)" class="p"/><ellipse cx="181.39" cy="1281.97" rx="1.91" ry="6.63" transform="rotate(7.76 181.39 1281.97)" fill="rgb(45,0,0)" class="p"/><ellipse cx="100.18" cy="1185.41" rx="1.6" ry="5.08" transform="rotate(-12.27 100.18 1185.41)" fill="rgb(140,0,0)" class="p"/><ellipse cx="171.84" cy="1112.45" rx="1.97" ry="4.11" transform="rotate(-13.01 171.84 1112.45)" fill="rgb(55,0,0)" class="p"/><ellipse cx="127.01" cy="1165.55" rx="1.94" ry="6.01" transform="rotate(-21.08 127.01 1165.55)" fill="rgb(78,0,0)" class="p"/><ellipse cx="158.79" cy="1230.91" rx="1.28" ry="4.64" transform="rotate(2.81 158.79 1230.91)" fill="rgb(72,0,0)" class="p"/><ellipse cx="180.91" cy="1222.59" rx="1.85" ry="3.99" transform="rotate(3.6 180.91 1222.59)" fill="rgb(74,0,0)" class="p"/><ellipse cx="132.68" cy="1156.04" rx="1.61" ry="5.86" transform="rotate(-21.45 132.68 1156.04)" fill="rgb(84,0,0)" class="p"/><ellipse cx="123.54" cy="1254.16" rx="1.94" ry="6.57" transform="rotate(5.74 123.54 1254.16)" fill="rgb(106,0,0)" class="p"/><ellipse cx="154.56" cy="1235.34" rx="1.45" ry="3.18" transform="rotate(3.51 154.56 1235.34)" fill="rgb(118,0,0)" class="p"/><ellipse cx="150.25" cy="1283.89" rx="1.92" ry="6.94" transform="rotate(12.4 150.25 1283.89)" fill="rgb(46,0,0)" class="p"/><ellipse cx="96.14" cy="1317.4" rx="1.69" ry="5.59" transform="rotate(44.38 96.14 1317.4)" fill="rgb(58,0,0)" class="p"/><ellipse cx="157.22" cy="1177.27" rx="1.92" ry="3.82" transform="rotate(-10.99 157.22 1177.27)" fill="rgb(123,0,0)" class="p"/><ellipse cx="160.9" cy="1166.52" rx="1.38" ry="4.03" transform="rotate(-15.67 160.9 1166.52)" fill="rgb(111,0,0)" class="p"/><ellipse cx="174.14" cy="1168.12" rx="1.83" ry="3.07" transform="rotate(-3.72 174.14 1168.12)" fill="rgb(66,0,0)" class="p"/><ellipse cx="90.06" cy="1157.43" rx="1.76" ry="6.35" transform="rotate(-23.94 90.06 1157.43)" fill="rgb(152,0,0)" class="p"/><ellipse cx="238.21" cy="1206.44" rx="1.9" ry="3.18" transform="rotate(-1.43 238.21 1206.44)" fill="rgb(33,0,0)" class="p"/><ellipse cx="213.04" cy="1235.12" rx="1.67" ry="5.09" transform="rotate(13.45 213.04 1235.12)" fill="rgb(53,0,0)" class="p"/><ellipse cx="90.55" cy="1160.04" rx="1.38" ry="4.62" transform="rotate(-24.88 90.55 1160.04)" fill="rgb(129,0,0)" class="p"/><ellipse cx="126.42" cy="1252.92" rx="1.35" ry="3.75" transform="rotate(12.82 126.42 1252.92)" fill="rgb(142,0,0)" class="p"/><ellipse cx="115.98" cy="1111.44" rx="1.36" ry="4.12" transform="rotate(-37.99 115.98 1111.44)" fill="rgb(53,0,0)" class="p"/><ellipse cx="208.09" cy="1077.98" rx="1.44" ry="4.83" transform="rotate(-23.96 208.09 1077.98)" fill="rgb(40,0,0)" class="p"/><ellipse cx="176.1" cy="1273.58" rx="1.38" ry="6.34" transform="rotate(12.75 176.1 1273.58)" fill="rgb(53,0,0)" class="p"/><ellipse cx="139.71" cy="1142.4" rx="1.64" ry="4.83" transform="rotate(-9.95 139.71 1142.4)" fill="rgb(130,0,0)" class="p"/><ellipse cx="137.32" cy="1229.37" rx="1.24" ry="6.85" transform="rotate(-3.04 137.32 1229.37)" fill="rgb(130,0,0)" class="p"/>
<rect x="64" y="1010.3" width="8.57" height="394.7" fill="rgb(0,10,0)" class="p"/>
<ellipse cx="67.9" cy="1282.64" rx="2.5" ry="5" fill="rgb(0,82,0)" class="p"/>
<ellipse cx="67.9" cy="1369.48" rx="2.5" ry="5" fill="rgb(0,71,0)" class="p"/>
<ellipse cx="67.9" cy="1243.17" rx="2.5" ry="5" fill="rgb(0,41,0)" class="p"/>
<ellipse cx="67.9" cy="1156.34" rx="2.5" ry="5" fill="rgb(0,41,0)" class="p"/>
<ellipse cx="67.9" cy="1065.56" rx="2.5" ry="5" fill="rgb(0,41,0)" class="p"/>
<ellipse cx="67.9" cy="1026.09" rx="2.5" ry="5" fill="rgb(82,0,0)" class="p"/>
<ellipse cx="67.9" cy="1073.45" rx="2.5" ry="5" fill="rgb(61,0,0)" class="p"/>
<ellipse cx="67.9" cy="1322.11" rx="2.5" ry="5" fill="rgb(102,0,0)" class="p"/>
<ellipse cx="67.9" cy="1393.16" rx="2.5" ry="5" fill="rgb(61,0,0)" class="p"/>
<ellipse cx="67.9" cy="1172.13" rx="2.5" ry="5" fill="rgb(41,0,0)" class="p"/>
<ellipse cx="67.9" cy="1120.82" rx="2.5" ry="5" fill="rgb(0,31,0)" class="p"/>
<ellipse cx="67.9" cy="1341.85" rx="2.5" ry="5" fill="rgb(0,41,0)" class="p"/></g></g>
<g clip-path="url(#clipf)"><g filter="url(#cmf)"><rect x="620.2" y="1008.3" width="393.7" height="398.5" fill="rgb(2,0,0)"/>
<rect x="686.48" y="1132.69" width="1.26" height="13.51" fill="rgb(0,6,0)" class="p"/><rect x="937.02" y="1202.64" width="1" height="8.45" fill="rgb(0,4,0)" class="p"/><rect x="712.71" y="1313" width="1.89" height="14.5" fill="rgb(0,8,0)" class="p"/><rect x="862.21" y="1391.36" width="1.14" height="15.42" fill="rgb(0,6,0)" class="p"/><rect x="670.86" y="1038.73" width="1.41" height="9.82" fill="rgb(0,6,0)" class="p"/><rect x="713.73" y="1096.99" width="2.07" height="13.06" fill="rgb(0,8,0)" class="p"/><rect x="919.46" y="1175.69" width="1.57" height="13.92" fill="rgb(0,4,0)" class="p"/><rect x="781.82" y="1260.72" width="2.19" height="8.64" fill="rgb(0,5,0)" class="p"/><rect x="632.66" y="1368.01" width="1.6" height="9.9" fill="rgb(0,8,0)" class="p"/><rect x="836.7" y="1109.64" width="1.67" height="11.47" fill="rgb(0,6,0)" class="p"/><rect x="692.61" y="1337.7" width="1.42" height="11.17" fill="rgb(0,8,0)" class="p"/><rect x="741.69" y="1364.06" width="1.93" height="8.5" fill="rgb(0,7,0)" class="p"/><rect x="813.51" y="1256.64" width="1.19" height="4.83" fill="rgb(0,8,0)" class="p"/><rect x="936.02" y="1099.49" width="1.06" height="7.1" fill="rgb(0,7,0)" class="p"/><rect x="735.16" y="1239.29" width="1.41" height="14.79" fill="rgb(0,3,0)" class="p"/><rect x="1005.45" y="1110.56" width="2.15" height="10.31" fill="rgb(0,4,0)" class="p"/><rect x="906.14" y="1393.64" width="1.95" height="14.58" fill="rgb(0,7,0)" class="p"/><rect x="856.55" y="1236.71" width="1.37" height="10.41" fill="rgb(0,7,0)" class="p"/><rect x="729.75" y="1101.72" width="2.14" height="4.28" fill="rgb(0,7,0)" class="p"/><rect x="849.92" y="1303.34" width="2.09" height="5.6" fill="rgb(0,8,0)" class="p"/><rect x="659.16" y="1367.74" width="1.17" height="14.41" fill="rgb(0,5,0)" class="p"/><rect x="877.58" y="1354.88" width="1.59" height="6.64" fill="rgb(0,5,0)" class="p"/><rect x="686.92" y="1332.23" width="1.66" height="4.55" fill="rgb(0,7,0)" class="p"/><rect x="899.23" y="1060.06" width="1.01" height="9.57" fill="rgb(0,7,0)" class="p"/><rect x="646.94" y="1103.43" width="1.3" height="12.36" fill="rgb(0,7,0)" class="p"/><rect x="744.42" y="1388.27" width="2.08" height="7.54" fill="rgb(0,5,0)" class="p"/><rect x="660.61" y="1167.63" width="2.16" height="7.72" fill="rgb(0,7,0)" class="p"/><rect x="894.77" y="1197.38" width="1.98" height="15.72" fill="rgb(0,3,0)" class="p"/><rect x="664.13" y="1374.78" width="1.91" height="9.38" fill="rgb(0,7,0)" class="p"/><rect x="864.36" y="1397" width="1.62" height="8.67" fill="rgb(0,5,0)" class="p"/><rect x="778.67" y="1315.85" width="1.3" height="12.45" fill="rgb(0,5,0)" class="p"/><rect x="940.7" y="1119.28" width="1.46" height="9.84" fill="rgb(0,4,0)" class="p"/><rect x="868.42" y="1024.85" width="1.59" height="12.61" fill="rgb(0,6,0)" class="p"/><rect x="969.22" y="1097.28" width="1.8" height="14.31" fill="rgb(0,7,0)" class="p"/><rect x="894.61" y="1135.37" width="1.46" height="11.38" fill="rgb(0,8,0)" class="p"/><rect x="624.69" y="1281.47" width="1.17" height="10.64" fill="rgb(0,5,0)" class="p"/><rect x="653.19" y="1285.42" width="1.55" height="5.3" fill="rgb(0,7,0)" class="p"/><rect x="994.75" y="1127.09" width="1.77" height="12.18" fill="rgb(0,5,0)" class="p"/><rect x="723.86" y="1029.54" width="2.01" height="5.84" fill="rgb(0,4,0)" class="p"/><rect x="887.65" y="1325.95" width="1.45" height="15.29" fill="rgb(0,4,0)" class="p"/><rect x="731.56" y="1336.02" width="1.23" height="15.53" fill="rgb(0,4,0)" class="p"/><rect x="896.78" y="1397.31" width="1.73" height="12.4" fill="rgb(0,3,0)" class="p"/><rect x="659.03" y="1282.91" width="1.44" height="5.62" fill="rgb(0,8,0)" class="p"/><rect x="930.73" y="1080.38" width="1.23" height="8.84" fill="rgb(0,3,0)" class="p"/><rect x="629.06" y="1175.17" width="1.9" height="13.11" fill="rgb(0,8,0)" class="p"/><rect x="858.56" y="1160.1" width="1.41" height="7.24" fill="rgb(0,7,0)" class="p"/><rect x="969.09" y="1376.78" width="1.81" height="6.28" fill="rgb(0,6,0)" class="p"/><rect x="727.36" y="1381.62" width="1.82" height="11.84" fill="rgb(0,6,0)" class="p"/><rect x="832.08" y="1243.68" width="1.63" height="4.94" fill="rgb(0,7,0)" class="p"/><rect x="944.59" y="1320.49" width="1.64" height="11.54" fill="rgb(0,5,0)" class="p"/><rect x="690.04" y="1124.85" width="2.02" height="13.68" fill="rgb(0,4,0)" class="p"/><rect x="975.41" y="1136.75" width="2.08" height="10.4" fill="rgb(0,7,0)" class="p"/><rect x="976.23" y="1022.07" width="2.12" height="13.53" fill="rgb(0,8,0)" class="p"/><rect x="626.58" y="1265.97" width="1.91" height="11.76" fill="rgb(0,6,0)" class="p"/><rect x="685.13" y="1037.6" width="1.25" height="15.98" fill="rgb(0,8,0)" class="p"/><rect x="966.22" y="1261.85" width="1.21" height="10.48" fill="rgb(0,5,0)" class="p"/><rect x="939.8" y="1261.9" width="1.51" height="10.97" fill="rgb(0,3,0)" class="p"/><rect x="632.45" y="1142.28" width="2.11" height="10.28" fill="rgb(0,4,0)" class="p"/><rect x="971.01" y="1202.05" width="1.51" height="11.69" fill="rgb(0,4,0)" class="p"/><rect x="922.61" y="1108.38" width="1.52" height="8.54" fill="rgb(0,4,0)" class="p"/><rect x="812.99" y="1300.07" width="1.04" height="13.87" fill="rgb(0,5,0)" class="p"/><rect x="850.74" y="1088.11" width="2.19" height="8.52" fill="rgb(0,7,0)" class="p"/><rect x="938.78" y="1214.32" width="1.99" height="10" fill="rgb(0,5,0)" class="p"/><rect x="914.98" y="1256.9" width="1.95" height="15.14" fill="rgb(0,7,0)" class="p"/><rect x="652.29" y="1283.3" width="2" height="7.18" fill="rgb(0,4,0)" class="p"/><rect x="888.11" y="1288.1" width="1.6" height="12.56" fill="rgb(0,4,0)" class="p"/><rect x="707.1" y="1134.01" width="1.44" height="6.32" fill="rgb(0,6,0)" class="p"/><rect x="677.16" y="1382.02" width="1.15" height="14.57" fill="rgb(0,5,0)" class="p"/><rect x="877.37" y="1396.45" width="1.53" height="10.01" fill="rgb(0,6,0)" class="p"/><rect x="869.94" y="1260.52" width="1.76" height="9.48" fill="rgb(0,7,0)" class="p"/><rect x="629.95" y="1151.06" width="1.7" height="11" fill="rgb(0,4,0)" class="p"/><rect x="656.02" y="1211.45" width="1.39" height="7.94" fill="rgb(0,7,0)" class="p"/><rect x="706.14" y="1385.81" width="1.75" height="14.17" fill="rgb(0,4,0)" class="p"/><rect x="708.33" y="1360.71" width="1.49" height="13.13" fill="rgb(0,4,0)" class="p"/><rect x="701.37" y="1128.79" width="1.29" height="11.19" fill="rgb(0,3,0)" class="p"/><rect x="659.71" y="1324.45" width="1.62" height="11.96" fill="rgb(0,7,0)" class="p"/><rect x="625.73" y="1285.42" width="1.43" height="13.42" fill="rgb(0,8,0)" class="p"/><rect x="635.57" y="1208.17" width="1.7" height="6.19" fill="rgb(0,7,0)" class="p"/><rect x="924.69" y="1120.88" width="1.41" height="11.97" fill="rgb(0,4,0)" class="p"/><rect x="877.84" y="1251.22" width="1.34" height="5.09" fill="rgb(0,3,0)" class="p"/><rect x="680.41" y="1283.14" width="1.53" height="6.78" fill="rgb(0,6,0)" class="p"/><rect x="768.02" y="1063.48" width="1.75" height="9.68" fill="rgb(0,7,0)" class="p"/><rect x="839.03" y="1261.27" width="1.37" height="7.96" fill="rgb(0,6,0)" class="p"/><rect x="694.9" y="1044.48" width="1.04" height="6.57" fill="rgb(0,4,0)" class="p"/><rect x="960.64" y="1271.9" width="1.78" height="9.4" fill="rgb(0,4,0)" class="p"/><rect x="909.17" y="1196.33" width="1.71" height="13.98" fill="rgb(0,4,0)" class="p"/><rect x="891.71" y="1215.39" width="2.02" height="5.75" fill="rgb(0,8,0)" class="p"/><rect x="886.9" y="1100.21" width="2.05" height="6.95" fill="rgb(0,8,0)" class="p"/><rect x="1010.63" y="1275.55" width="1.2" height="8.75" fill="rgb(0,8,0)" class="p"/><rect x="866.12" y="1297.14" width="1.74" height="12.93" fill="rgb(0,7,0)" class="p"/><rect x="943.07" y="1018.8" width="1.62" height="15.63" fill="rgb(0,7,0)" class="p"/><rect x="877.47" y="1234.94" width="1.16" height="8.64" fill="rgb(0,5,0)" class="p"/><rect x="675.54" y="1403.22" width="1.92" height="4.58" fill="rgb(0,5,0)" class="p"/><rect x="870.32" y="1360.88" width="1.54" height="12.54" fill="rgb(0,5,0)" class="p"/><rect x="667.35" y="1267.15" width="2.18" height="7.09" fill="rgb(0,7,0)" class="p"/><rect x="865.84" y="1281.47" width="1.16" height="8.14" fill="rgb(0,7,0)" class="p"/><rect x="623.62" y="1270.49" width="1.26" height="4.3" fill="rgb(0,5,0)" class="p"/><rect x="935.18" y="1336.36" width="2.02" height="14.16" fill="rgb(0,6,0)" class="p"/><rect x="864.46" y="1338.16" width="2.11" height="7.7" fill="rgb(0,4,0)" class="p"/><rect x="720.7" y="1319.35" width="2.03" height="12.95" fill="rgb(0,7,0)" class="p"/><rect x="906.41" y="1308.51" width="1.52" height="14.49" fill="rgb(0,5,0)" class="p"/><rect x="927.92" y="1331.08" width="2.06" height="14.94" fill="rgb(0,8,0)" class="p"/><rect x="655.22" y="1122.87" width="1.2" height="10.59" fill="rgb(0,8,0)" class="p"/><rect x="669.2" y="1087.47" width="1.37" height="5.7" fill="rgb(0,3,0)" class="p"/><rect x="869.84" y="1156.27" width="2.16" height="9.29" fill="rgb(0,8,0)" class="p"/><rect x="845.95" y="1261.42" width="1.53" height="13" fill="rgb(0,5,0)" class="p"/><rect x="684.36" y="1242.64" width="1.42" height="10.45" fill="rgb(0,4,0)" class="p"/><rect x="667.43" y="1194.44" width="1.24" height="6.88" fill="rgb(0,3,0)" class="p"/><rect x="878.62" y="1218.13" width="1.38" height="11.39" fill="rgb(0,7,0)" class="p"/><rect x="912.7" y="1194.01" width="2.11" height="7.17" fill="rgb(0,6,0)" class="p"/><rect x="883.91" y="1019.44" width="1.11" height="12.68" fill="rgb(0,8,0)" class="p"/><rect x="725.61" y="1108.81" width="1.3" height="7.08" fill="rgb(0,6,0)" class="p"/><rect x="959.48" y="1151.01" width="1.35" height="15.62" fill="rgb(0,4,0)" class="p"/><rect x="926.71" y="1311.29" width="1.82" height="12.1" fill="rgb(0,5,0)" class="p"/><rect x="723.91" y="1131.65" width="1.35" height="8.52" fill="rgb(0,3,0)" class="p"/><rect x="645.45" y="1261.87" width="1.51" height="4.69" fill="rgb(0,5,0)" class="p"/><rect x="886.83" y="1027.35" width="1.4" height="13.56" fill="rgb(0,4,0)" class="p"/><rect x="710.47" y="1100.67" width="1.87" height="12.09" fill="rgb(0,6,0)" class="p"/><rect x="655.11" y="1027.41" width="2.03" height="11.21" fill="rgb(0,6,0)" class="p"/><rect x="802.92" y="1388.27" width="1.7" height="11.73" fill="rgb(0,4,0)" class="p"/><rect x="755.82" y="1139.68" width="1.22" height="5.36" fill="rgb(0,6,0)" class="p"/><rect x="753.43" y="1359.43" width="1.66" height="13.55" fill="rgb(0,6,0)" class="p"/><rect x="826.49" y="1306.01" width="1.38" height="5.22" fill="rgb(0,6,0)" class="p"/><rect x="919.01" y="1056.04" width="1.77" height="4.65" fill="rgb(0,5,0)" class="p"/><rect x="931.64" y="1125.5" width="1.33" height="13.54" fill="rgb(0,5,0)" class="p"/><rect x="925.25" y="1254.84" width="2.09" height="6.28" fill="rgb(0,8,0)" class="p"/><rect x="657.35" y="1296.68" width="2.14" height="9.63" fill="rgb(0,8,0)" class="p"/><rect x="930.18" y="1021.22" width="1.31" height="13.39" fill="rgb(0,4,0)" class="p"/><rect x="700.55" y="1156.76" width="1.62" height="9.89" fill="rgb(0,8,0)" class="p"/><rect x="974.31" y="1108.01" width="1.48" height="15.62" fill="rgb(0,7,0)" class="p"/><rect x="997.51" y="1210.23" width="1.33" height="6.47" fill="rgb(0,4,0)" class="p"/><rect x="687.74" y="1116.75" width="1.72" height="12.83" fill="rgb(0,6,0)" class="p"/><rect x="843.33" y="1038.99" width="1.7" height="7.23" fill="rgb(0,4,0)" class="p"/><rect x="947.07" y="1308.38" width="1.41" height="8.49" fill="rgb(0,5,0)" class="p"/><rect x="808.38" y="1146.8" width="1.15" height="15.62" fill="rgb(0,6,0)" class="p"/><rect x="837.22" y="1172.37" width="1.85" height="14.92" fill="rgb(0,7,0)" class="p"/><rect x="848.49" y="1298.36" width="1.89" height="7.68" fill="rgb(0,3,0)" class="p"/><rect x="902.54" y="1352.75" width="1.04" height="7.17" fill="rgb(0,4,0)" class="p"/><rect x="952.83" y="1251.48" width="2.17" height="7.11" fill="rgb(0,7,0)" class="p"/><rect x="892.68" y="1096.37" width="1.57" height="13.41" fill="rgb(0,5,0)" class="p"/><rect x="953.93" y="1308.63" width="1.19" height="9.72" fill="rgb(0,4,0)" class="p"/><rect x="686.23" y="1195.58" width="2.1" height="5.73" fill="rgb(0,4,0)" class="p"/><rect x="672.97" y="1267.56" width="1.36" height="8.63" fill="rgb(0,8,0)" class="p"/><rect x="702.97" y="1081.54" width="1.41" height="10.6" fill="rgb(0,7,0)" class="p"/><rect x="963.81" y="1299.6" width="1.69" height="8.89" fill="rgb(0,6,0)" class="p"/><rect x="873.92" y="1280.69" width="1.73" height="10.89" fill="rgb(0,3,0)" class="p"/><rect x="933.81" y="1342.95" width="1.63" height="13.98" fill="rgb(0,5,0)" class="p"/><rect x="824.47" y="1232.94" width="2.05" height="10.21" fill="rgb(0,4,0)" class="p"/><rect x="1003.64" y="1236.62" width="1.34" height="4.22" fill="rgb(0,8,0)" class="p"/><rect x="648.28" y="1272.91" width="1.21" height="12.53" fill="rgb(0,5,0)" class="p"/><rect x="792.33" y="1130.61" width="1.61" height="15.7" fill="rgb(0,7,0)" class="p"/><rect x="939.07" y="1120.11" width="1.45" height="4.92" fill="rgb(0,6,0)" class="p"/><rect x="806.61" y="1017.92" width="1.69" height="13.82" fill="rgb(0,5,0)" class="p"/><rect x="825.14" y="1093.05" width="1.96" height="11.2" fill="rgb(0,7,0)" class="p"/><rect x="630.32" y="1145.63" width="1.14" height="13.16" fill="rgb(0,5,0)" class="p"/><rect x="687.8" y="1121.08" width="1.83" height="15.09" fill="rgb(0,4,0)" class="p"/><rect x="650.08" y="1162.43" width="1.09" height="4.2" fill="rgb(0,6,0)" class="p"/><rect x="652.88" y="1053.27" width="1.16" height="12.23" fill="rgb(0,6,0)" class="p"/><rect x="952.85" y="1013.38" width="1.41" height="13.37" fill="rgb(0,6,0)" class="p"/><rect x="1007.74" y="1094.24" width="1.43" height="8.76" fill="rgb(0,4,0)" class="p"/><rect x="901.54" y="1302.36" width="1.37" height="11.71" fill="rgb(0,5,0)" class="p"/><rect x="791.35" y="1018.35" width="1.76" height="9.51" fill="rgb(0,8,0)" class="p"/><rect x="652.55" y="1149.6" width="1.86" height="10.38" fill="rgb(0,5,0)" class="p"/><rect x="657.37" y="1065.78" width="1.91" height="14.51" fill="rgb(0,6,0)" class="p"/><rect x="681.75" y="1187.16" width="1.87" height="11.91" fill="rgb(0,7,0)" class="p"/><rect x="938.18" y="1267.65" width="1.42" height="6.39" fill="rgb(0,4,0)" class="p"/><rect x="856.1" y="1228.78" width="1.68" height="5.73" fill="rgb(0,5,0)" class="p"/><rect x="1002.77" y="1262.43" width="1.45" height="7.32" fill="rgb(0,5,0)" class="p"/><rect x="955.04" y="1376.53" width="1.58" height="7.89" fill="rgb(0,6,0)" class="p"/><rect x="810.86" y="1380.13" width="1.92" height="9.16" fill="rgb(0,5,0)" class="p"/><rect x="784.03" y="1146.77" width="1.23" height="11.41" fill="rgb(0,6,0)" class="p"/><rect x="932.06" y="1014.83" width="1.53" height="8.4" fill="rgb(0,8,0)" class="p"/><rect x="935.91" y="1285.95" width="1.81" height="12.43" fill="rgb(0,4,0)" class="p"/><rect x="753.86" y="1388.34" width="1.98" height="10.35" fill="rgb(0,4,0)" class="p"/><rect x="860.79" y="1039.05" width="1.94" height="11.29" fill="rgb(0,4,0)" class="p"/><rect x="1003.51" y="1352.85" width="1.3" height="10.26" fill="rgb(0,7,0)" class="p"/><rect x="804.71" y="1020.67" width="1.25" height="14.84" fill="rgb(0,4,0)" class="p"/><rect x="956.58" y="1211.71" width="2.02" height="8.93" fill="rgb(0,6,0)" class="p"/><rect x="944.24" y="1228.62" width="1.27" height="10.01" fill="rgb(0,5,0)" class="p"/><rect x="692.08" y="1259.01" width="1.01" height="14.42" fill="rgb(0,5,0)" class="p"/><rect x="735.01" y="1298.4" width="2.18" height="5.74" fill="rgb(0,6,0)" class="p"/><rect x="717.67" y="1051.23" width="1.87" height="4.01" fill="rgb(0,6,0)" class="p"/><rect x="892.92" y="1220.51" width="1.13" height="7.89" fill="rgb(0,6,0)" class="p"/><rect x="635.92" y="1201.63" width="1.27" height="4.79" fill="rgb(0,5,0)" class="p"/><rect x="635.12" y="1122.18" width="1.37" height="15.77" fill="rgb(0,6,0)" class="p"/><rect x="936.96" y="1245.17" width="1.19" height="14.49" fill="rgb(0,8,0)" class="p"/><rect x="863.48" y="1181.12" width="1.11" height="6.99" fill="rgb(0,6,0)" class="p"/><rect x="760" y="1317.47" width="1.51" height="12.89" fill="rgb(0,7,0)" class="p"/><rect x="774.95" y="1033.32" width="1.51" height="13.49" fill="rgb(0,6,0)" class="p"/><rect x="673.19" y="1189.45" width="1.28" height="10.51" fill="rgb(0,6,0)" class="p"/><rect x="998.94" y="1228.02" width="2.16" height="4.01" fill="rgb(0,6,0)" class="p"/><rect x="915.57" y="1097.15" width="1.18" height="5.2" fill="rgb(0,6,0)" class="p"/><rect x="825.36" y="1287.23" width="1.28" height="15.04" fill="rgb(0,6,0)" class="p"/><rect x="624.57" y="1088.43" width="1.73" height="9.5" fill="rgb(0,8,0)" class="p"/><rect x="970.9" y="1141.86" width="1.41" height="13.76" fill="rgb(0,6,0)" class="p"/><rect x="916.24" y="1324.68" width="1.4" height="5.89" fill="rgb(0,3,0)" class="p"/><rect x="739.04" y="1091.58" width="2.11" height="13.26" fill="rgb(0,8,0)" class="p"/><rect x="715.02" y="1290.19" width="2.11" height="4.24" fill="rgb(0,6,0)" class="p"/><rect x="655.76" y="1080.45" width="1.22" height="15.72" fill="rgb(0,8,0)" class="p"/><rect x="943.03" y="1241.2" width="1.31" height="7.66" fill="rgb(0,7,0)" class="p"/><rect x="756.22" y="1269.55" width="1.06" height="6.2" fill="rgb(0,7,0)" class="p"/><rect x="649.67" y="1305.36" width="1.43" height="6.09" fill="rgb(0,7,0)" class="p"/><rect x="891.76" y="1049.62" width="1.49" height="15.22" fill="rgb(0,3,0)" class="p"/><rect x="645.37" y="1350.33" width="1.54" height="4.54" fill="rgb(0,7,0)" class="p"/><rect x="836.87" y="1365.48" width="2.12" height="5.23" fill="rgb(0,3,0)" class="p"/><rect x="807.36" y="1080.88" width="1.95" height="10.77" fill="rgb(0,5,0)" class="p"/><rect x="941.24" y="1025.09" width="1.6" height="4.15" fill="rgb(0,3,0)" class="p"/><rect x="997.2" y="1289.55" width="1.51" height="13.19" fill="rgb(0,8,0)" class="p"/><rect x="682.44" y="1229.25" width="1.22" height="14.31" fill="rgb(0,5,0)" class="p"/><rect x="761.61" y="1044.77" width="1.15" height="12.1" fill="rgb(0,7,0)" class="p"/><rect x="993.04" y="1157.21" width="2.16" height="13.87" fill="rgb(0,8,0)" class="p"/><rect x="674.42" y="1380.95" width="1.32" height="13.85" fill="rgb(0,8,0)" class="p"/><rect x="996.6" y="1033.33" width="2.15" height="15.58" fill="rgb(0,4,0)" class="p"/><rect x="689.03" y="1333.41" width="1.12" height="5.92" fill="rgb(0,4,0)" class="p"/><rect x="681.76" y="1050.93" width="1.73" height="12.12" fill="rgb(0,5,0)" class="p"/><rect x="669.74" y="1037.07" width="2.02" height="4.25" fill="rgb(0,6,0)" class="p"/><rect x="1010.24" y="1333.7" width="1.53" height="6.11" fill="rgb(0,7,0)" class="p"/><rect x="885.16" y="1091.4" width="1.16" height="8.87" fill="rgb(0,5,0)" class="p"/><rect x="977.54" y="1071.57" width="1.16" height="10.46" fill="rgb(0,5,0)" class="p"/><rect x="941.32" y="1329.6" width="1.54" height="9.77" fill="rgb(0,3,0)" class="p"/><rect x="651.08" y="1179.52" width="1.24" height="13.41" fill="rgb(0,3,0)" class="p"/><rect x="685.28" y="1153.21" width="2.05" height="8.76" fill="rgb(0,5,0)" class="p"/><rect x="964.92" y="1081.03" width="1.4" height="15.46" fill="rgb(0,4,0)" class="p"/><rect x="725.05" y="1171.92" width="1.83" height="14.68" fill="rgb(0,7,0)" class="p"/><rect x="853.54" y="1361.25" width="2.13" height="10.23" fill="rgb(0,6,0)" class="p"/><rect x="894.41" y="1155.33" width="1.25" height="14.31" fill="rgb(0,6,0)" class="p"/><rect x="899.4" y="1342.43" width="1.69" height="5.46" fill="rgb(0,7,0)" class="p"/><rect x="959.61" y="1116.41" width="2.04" height="10.91" fill="rgb(0,7,0)" class="p"/><rect x="991.73" y="1192.59" width="2" height="15" fill="rgb(0,6,0)" class="p"/><rect x="916.52" y="1033.19" width="1.07" height="6.01" fill="rgb(0,5,0)" class="p"/><rect x="641.38" y="1039.7" width="1.93" height="9.44" fill="rgb(0,8,0)" class="p"/><rect x="841.92" y="1394.74" width="1.06" height="7.83" fill="rgb(0,5,0)" class="p"/><rect x="824.42" y="1341.12" width="1.55" height="14.04" fill="rgb(0,3,0)" class="p"/><rect x="935.44" y="1090.8" width="1.2" height="7.34" fill="rgb(0,3,0)" class="p"/><rect x="753.56" y="1168.55" width="1.2" height="12.86" fill="rgb(0,5,0)" class="p"/><rect x="1010.15" y="1127.97" width="1.96" height="10.45" fill="rgb(0,7,0)" class="p"/><rect x="869.24" y="1064.71" width="1.2" height="14.03" fill="rgb(0,7,0)" class="p"/><rect x="844.72" y="1329.43" width="1.53" height="7.75" fill="rgb(0,7,0)" class="p"/><rect x="742.9" y="1213.12" width="1.66" height="7.45" fill="rgb(0,4,0)" class="p"/><rect x="808.47" y="1077.81" width="1.24" height="6.22" fill="rgb(0,8,0)" class="p"/><rect x="647.29" y="1126.32" width="1.76" height="15.86" fill="rgb(0,4,0)" class="p"/><rect x="707.07" y="1377.32" width="1.76" height="8.92" fill="rgb(0,7,0)" class="p"/><rect x="671.19" y="1336.91" width="1.65" height="12.91" fill="rgb(0,6,0)" class="p"/><rect x="824.48" y="1262.63" width="1.21" height="12.64" fill="rgb(0,4,0)" class="p"/><rect x="794.21" y="1395.98" width="1.07" height="4.27" fill="rgb(0,5,0)" class="p"/><rect x="854.89" y="1315.77" width="1.28" height="7.95" fill="rgb(0,4,0)" class="p"/><rect x="655.06" y="1021.69" width="1.13" height="12.16" fill="rgb(0,7,0)" class="p"/><rect x="700.19" y="1204.41" width="1.12" height="4.09" fill="rgb(0,8,0)" class="p"/><rect x="849.82" y="1197.65" width="1.44" height="12.56" fill="rgb(0,4,0)" class="p"/><rect x="852.87" y="1280.05" width="2.07" height="7.29" fill="rgb(0,3,0)" class="p"/><rect x="649.9" y="1289.73" width="1.06" height="10.48" fill="rgb(0,6,0)" class="p"/><rect x="874.22" y="1193.29" width="1.47" height="12.98" fill="rgb(0,4,0)" class="p"/><rect x="733.38" y="1078.93" width="2.08" height="11.96" fill="rgb(0,5,0)" class="p"/><rect x="729.7" y="1260.48" width="1.44" height="14.05" fill="rgb(0,7,0)" class="p"/><rect x="893.27" y="1077.06" width="1.82" height="9.23" fill="rgb(0,4,0)" class="p"/><rect x="642.08" y="1227.26" width="1.32" height="15.46" fill="rgb(0,3,0)" class="p"/><rect x="882.94" y="1233.68" width="1.68" height="7.13" fill="rgb(0,5,0)" class="p"/><rect x="955.37" y="1091.6" width="1.45" height="13.25" fill="rgb(0,6,0)" class="p"/><rect x="947.68" y="1039.62" width="1.26" height="5.33" fill="rgb(0,8,0)" class="p"/><rect x="783.34" y="1149.62" width="2.16" height="13.35" fill="rgb(0,6,0)" class="p"/><rect x="944.73" y="1342.29" width="1.44" height="14.61" fill="rgb(0,4,0)" class="p"/><rect x="859.19" y="1021.46" width="1.12" height="5.75" fill="rgb(0,4,0)" class="p"/><rect x="802.56" y="1106.7" width="1.08" height="14.24" fill="rgb(0,5,0)" class="p"/><rect x="886.99" y="1301.65" width="2.12" height="12.92" fill="rgb(0,6,0)" class="p"/><rect x="981.68" y="1012.85" width="1.56" height="5.34" fill="rgb(0,4,0)" class="p"/><rect x="810.83" y="1082.92" width="1.31" height="13.79" fill="rgb(0,7,0)" class="p"/><rect x="651.9" y="1357.83" width="1.03" height="12.33" fill="rgb(0,6,0)" class="p"/><rect x="785.01" y="1047.87" width="1.9" height="8.49" fill="rgb(0,7,0)" class="p"/><rect x="925.83" y="1168.19" width="1.18" height="10.27" fill="rgb(0,5,0)" class="p"/><rect x="688.93" y="1045.42" width="1.68" height="6.25" fill="rgb(0,4,0)" class="p"/><rect x="987.51" y="1345.11" width="1.04" height="5.5" fill="rgb(0,5,0)" class="p"/><rect x="821.23" y="1322.29" width="1.8" height="11.49" fill="rgb(0,4,0)" class="p"/><rect x="651.68" y="1134.72" width="1.05" height="12.26" fill="rgb(0,8,0)" class="p"/><rect x="746.58" y="1240.31" width="1.76" height="5.56" fill="rgb(0,3,0)" class="p"/><rect x="955.66" y="1364.7" width="1.04" height="5.37" fill="rgb(0,6,0)" class="p"/><rect x="815.48" y="1250.84" width="1.28" height="13.77" fill="rgb(0,4,0)" class="p"/><rect x="675.55" y="1106.21" width="1.93" height="14.58" fill="rgb(0,7,0)" class="p"/><rect x="774.29" y="1020.24" width="1.99" height="5.82" fill="rgb(0,6,0)" class="p"/><rect x="639.92" y="1130.93" width="1.59" height="6.06" fill="rgb(0,4,0)" class="p"/><rect x="727.61" y="1324.85" width="2.01" height="12.78" fill="rgb(0,7,0)" class="p"/><rect x="793.52" y="1040.96" width="1.03" height="8.27" fill="rgb(0,6,0)" class="p"/><rect x="866.8" y="1278.8" width="1.97" height="4.52" fill="rgb(0,3,0)" class="p"/><rect x="810.15" y="1145.35" width="1.65" height="9.48" fill="rgb(0,7,0)" class="p"/><rect x="935.26" y="1033.99" width="2.19" height="8.05" fill="rgb(0,4,0)" class="p"/><rect x="765.54" y="1188.93" width="1.33" height="9.3" fill="rgb(0,5,0)" class="p"/><rect x="892.13" y="1157.94" width="1.68" height="15.26" fill="rgb(0,8,0)" class="p"/><rect x="663.32" y="1263.47" width="1.55" height="7.84" fill="rgb(0,7,0)" class="p"/><rect x="753.58" y="1213.73" width="1.75" height="4.24" fill="rgb(0,6,0)" class="p"/><rect x="853.14" y="1115.71" width="1.92" height="10.06" fill="rgb(0,8,0)" class="p"/><rect x="844.53" y="1087.35" width="1.6" height="10.07" fill="rgb(0,5,0)" class="p"/><rect x="642.4" y="1206.34" width="1.65" height="12.4" fill="rgb(0,7,0)" class="p"/><rect x="832.33" y="1163.89" width="1.36" height="10.85" fill="rgb(0,8,0)" class="p"/><rect x="638.21" y="1090.57" width="1.42" height="13.61" fill="rgb(0,5,0)" class="p"/><rect x="968.62" y="1186.09" width="1.03" height="8.46" fill="rgb(0,6,0)" class="p"/><rect x="798.32" y="1385.64" width="1.15" height="6.27" fill="rgb(0,4,0)" class="p"/><rect x="662.28" y="1325.94" width="1.75" height="11.01" fill="rgb(0,4,0)" class="p"/><rect x="881.57" y="1026.82" width="2.16" height="7.63" fill="rgb(0,5,0)" class="p"/><rect x="756.69" y="1288.46" width="1.61" height="7.09" fill="rgb(0,5,0)" class="p"/><rect x="817.12" y="1038.03" width="2.1" height="12.52" fill="rgb(0,4,0)" class="p"/><rect x="935.24" y="1179.71" width="1.22" height="7.53" fill="rgb(0,5,0)" class="p"/><rect x="905.82" y="1209.72" width="2.12" height="5.42" fill="rgb(0,6,0)" class="p"/><rect x="658.56" y="1101.34" width="1.61" height="12.04" fill="rgb(0,6,0)" class="p"/><rect x="871.23" y="1247.29" width="2.01" height="9.48" fill="rgb(0,8,0)" class="p"/><rect x="623.38" y="1181.05" width="1.65" height="10.15" fill="rgb(0,8,0)" class="p"/><rect x="858.82" y="1106.17" width="1.31" height="4.95" fill="rgb(0,6,0)" class="p"/><rect x="652.44" y="1334.31" width="1.94" height="12.23" fill="rgb(0,4,0)" class="p"/><rect x="771.85" y="1334.08" width="2" height="12.28" fill="rgb(0,8,0)" class="p"/><rect x="772.2" y="1075.42" width="2.08" height="12.05" fill="rgb(0,5,0)" class="p"/><rect x="644.21" y="1377.66" width="1.53" height="10.37" fill="rgb(0,7,0)" class="p"/><rect x="675.29" y="1166.22" width="1.25" height="11.1" fill="rgb(0,5,0)" class="p"/><rect x="945.34" y="1194.63" width="1.85" height="12.36" fill="rgb(0,6,0)" class="p"/><rect x="626.23" y="1023.75" width="1.87" height="13.12" fill="rgb(0,3,0)" class="p"/><rect x="765.03" y="1168.1" width="1.81" height="13.68" fill="rgb(0,7,0)" class="p"/><rect x="806.88" y="1041.92" width="1.11" height="7.88" fill="rgb(0,3,0)" class="p"/><rect x="709.73" y="1313.8" width="2.07" height="15.15" fill="rgb(0,6,0)" class="p"/><rect x="856.53" y="1117.34" width="1.38" height="4.14" fill="rgb(0,3,0)" class="p"/><rect x="888.1" y="1022.8" width="1.68" height="15.67" fill="rgb(0,7,0)" class="p"/><rect x="687.35" y="1179.45" width="1.26" height="13.38" fill="rgb(0,5,0)" class="p"/><rect x="881.92" y="1325.4" width="2" height="15.97" fill="rgb(0,6,0)" class="p"/><rect x="989.33" y="1108.35" width="1.52" height="10.38" fill="rgb(0,7,0)" class="p"/><rect x="631.41" y="1399.41" width="1.33" height="15.6" fill="rgb(0,6,0)" class="p"/><rect x="648.8" y="1059.65" width="1.99" height="11.38" fill="rgb(0,4,0)" class="p"/><rect x="791.52" y="1232.41" width="1.91" height="9.67" fill="rgb(0,8,0)" class="p"/><rect x="801.08" y="1335.46" width="1.76" height="11.18" fill="rgb(0,7,0)" class="p"/><rect x="722.25" y="1156.66" width="1.37" height="15.55" fill="rgb(0,7,0)" class="p"/><rect x="892.06" y="1196.46" width="1.32" height="4.29" fill="rgb(0,6,0)" class="p"/><rect x="798.53" y="1288.81" width="1.25" height="15.75" fill="rgb(0,4,0)" class="p"/><rect x="769.53" y="1109.52" width="1.83" height="9.23" fill="rgb(0,4,0)" class="p"/><rect x="934.12" y="1396.38" width="1.27" height="12.59" fill="rgb(0,6,0)" class="p"/><rect x="698.62" y="1362.01" width="1.48" height="13.4" fill="rgb(0,3,0)" class="p"/><rect x="689.97" y="1292.9" width="2.04" height="14.01" fill="rgb(0,4,0)" class="p"/><rect x="668.85" y="1144.63" width="1.48" height="4.32" fill="rgb(0,3,0)" class="p"/><rect x="745.55" y="1356.24" width="1.88" height="8.58" fill="rgb(0,4,0)" class="p"/><rect x="654.63" y="1186.55" width="1.89" height="6.97" fill="rgb(0,7,0)" class="p"/><rect x="837.4" y="1164" width="1.38" height="9.95" fill="rgb(0,5,0)" class="p"/><rect x="733.64" y="1277.8" width="2.04" height="8.16" fill="rgb(0,4,0)" class="p"/><rect x="997.58" y="1307.97" width="1.53" height="12.13" fill="rgb(0,8,0)" class="p"/><rect x="924.53" y="1252.01" width="2.04" height="10.88" fill="rgb(0,3,0)" class="p"/><rect x="852.9" y="1360.97" width="1.12" height="4.22" fill="rgb(0,6,0)" class="p"/><rect x="1009.3" y="1041.4" width="1.46" height="8.37" fill="rgb(0,7,0)" class="p"/><rect x="847.41" y="1388.37" width="1.71" height="12.96" fill="rgb(0,3,0)" class="p"/><rect x="645.77" y="1149.63" width="1.94" height="7.79" fill="rgb(0,5,0)" class="p"/><rect x="697.06" y="1242" width="1.25" height="8.77" fill="rgb(0,7,0)" class="p"/><rect x="926.13" y="1222.26" width="1.42" height="10.37" fill="rgb(0,4,0)" class="p"/><rect x="925.94" y="1011.16" width="1.91" height="9.59" fill="rgb(0,6,0)" class="p"/><rect x="708.49" y="1065.59" width="1.45" height="14.86" fill="rgb(0,4,0)" class="p"/><rect x="809.79" y="1268.58" width="1.67" height="11.18" fill="rgb(0,5,0)" class="p"/><rect x="936.06" y="1055.14" width="2.01" height="5.91" fill="rgb(0,5,0)" class="p"/><rect x="796.96" y="1023.77" width="1.51" height="9.77" fill="rgb(0,5,0)" class="p"/><rect x="921.75" y="1361.71" width="2.15" height="14.25" fill="rgb(0,5,0)" class="p"/><rect x="627.05" y="1129.41" width="1.78" height="12.11" fill="rgb(0,5,0)" class="p"/><rect x="870.14" y="1316.53" width="1.33" height="10.44" fill="rgb(0,7,0)" class="p"/><rect x="930.05" y="1271.68" width="1.09" height="12.71" fill="rgb(0,8,0)" class="p"/><rect x="937.32" y="1048.02" width="2.04" height="10.13" fill="rgb(0,8,0)" class="p"/><rect x="891.8" y="1044.32" width="1.48" height="12.19" fill="rgb(0,3,0)" class="p"/><rect x="630.39" y="1360.95" width="1.02" height="13.37" fill="rgb(0,7,0)" class="p"/><rect x="860.34" y="1254.53" width="1.17" height="12.24" fill="rgb(0,4,0)" class="p"/><rect x="887.98" y="1161.15" width="1.15" height="15.23" fill="rgb(0,4,0)" class="p"/><rect x="735.28" y="1240.46" width="1.39" height="6.38" fill="rgb(0,3,0)" class="p"/><rect x="662.77" y="1038.08" width="1.32" height="13.43" fill="rgb(0,5,0)" class="p"/><rect x="960.3" y="1153.5" width="1.04" height="11.98" fill="rgb(0,6,0)" class="p"/><rect x="748.15" y="1159.46" width="1.71" height="9.22" fill="rgb(0,4,0)" class="p"/><rect x="882.52" y="1185.61" width="1.1" height="4.93" fill="rgb(0,4,0)" class="p"/><rect x="899.41" y="1274.28" width="2.03" height="11.52" fill="rgb(0,3,0)" class="p"/><rect x="643.5" y="1332.4" width="1.32" height="9.78" fill="rgb(0,7,0)" class="p"/><rect x="978.99" y="1140.44" width="2.16" height="9.7" fill="rgb(0,5,0)" class="p"/><rect x="634.33" y="1140.16" width="1.67" height="7.39" fill="rgb(0,7,0)" class="p"/><rect x="768.49" y="1352.63" width="1.16" height="4.61" fill="rgb(0,6,0)" class="p"/><rect x="868.65" y="1153.24" width="1.1" height="10.25" fill="rgb(0,5,0)" class="p"/><rect x="737.54" y="1047.36" width="1.77" height="7.55" fill="rgb(0,7,0)" class="p"/><rect x="854.7" y="1378.47" width="1.05" height="10.7" fill="rgb(0,7,0)" class="p"/><rect x="944.32" y="1280.15" width="1.08" height="5.01" fill="rgb(0,4,0)" class="p"/><rect x="643.94" y="1318.68" width="1.58" height="14.02" fill="rgb(0,5,0)" class="p"/></g></g>
<line x1="287.41" y1="13" x2="287.41" y2="410.5" stroke="#222" stroke-width="1.4" stroke-dasharray="4.5 3.2"/>
<g clip-path="url(#clipa)"><path d="M261.1 27.18 L274.25 33.8 L261.1 40.43 L274.25 47.05 L261.1 53.68 L274.25 60.3 L261.1 66.93 L274.25 73.55 L261.1 80.18 L274.25 86.8 L261.1 93.43 L274.25 100.05 L261.1 106.68 L274.25 113.3 L261.1 119.93 L274.25 126.55 L261.1 133.18 L274.25 139.8 L261.1 146.43 L274.25 153.05 L261.1 159.68 L274.25 166.3 L261.1 172.93 L274.25 179.55 L261.1 186.18 L274.25 192.8 L261.1 199.43 L274.25 206.05 L261.1 212.68 L274.25 219.3 L261.1 225.93 L274.25 232.55 L261.1 239.18 L274.25 245.8 L261.1 252.43 L274.25 259.05 L261.1 265.68 L274.25 272.3 L261.1 278.93 L274.25 285.55 L261.1 292.18 L274.25 298.8 L261.1 305.43 L274.25 312.05 L261.1 318.68 L274.25 325.3 L261.1 331.93 L274.25 338.55 L261.1 345.18 L274.25 351.8 L261.1 358.43 L274.25 365.05 L261.1 371.68 L274.25 378.3 L261.1 384.93 L274.25 391.55 L261.1 398.18 L274.25 404.8 L261.1 411.43 L274.25 418.05" fill="none" stroke="#111" stroke-width="1.7" stroke-dasharray="4.5 2" stroke-linejoin="round"/></g>
<line x1="832.67" y1="13" x2="832.67" y2="410.5" stroke="#222" stroke-width="1.4" stroke-dasharray="4.5 3.2"/>
<line x1="845.83" y1="13" x2="845.83" y2="410.5" stroke="#222" stroke-width="1.4" stroke-dasharray="4.5 3.2"/>
<g filter="url(#cmca)"><rect x="470.2" y="13.4" width="15" height="397.2" fill="url(#cbg)"/></g>
<path d="M470.2 13.4h3.5M485.2 13.4h-3.5M470.2 79.6h3.5M485.2 79.6h-3.5M470.2 145.8h3.5M485.2 145.8h-3.5M470.2 212h3.5M485.2 212h-3.5M470.2 278.2h3.5M485.2 278.2h-3.5M470.2 344.4h3.5M485.2 344.4h-3.5M470.2 410.6h3.5M485.2 410.6h-3.5" stroke="#1a1a1a" stroke-width="1.2" fill="none" opacity="0.8"/>
<rect x="470.2" y="13.4" width="15" height="397.2" fill="none" stroke="#1a1a1a" stroke-width="1" opacity="0.7"/>
<text x="487" y="23.12" font-size="27" font-weight="bold">3</text>
<text x="487" y="89.32" font-size="27" font-weight="bold">2</text>
<text x="487" y="155.52" font-size="27" font-weight="bold">1</text>
<text x="487" y="221.72" font-size="27" font-weight="bold">0</text>
<text x="487" y="287.92" font-size="27" font-weight="bold">-1</text>
<text x="487" y="354.12" font-size="27" font-weight="bold">-2</text>
<text x="487" y="420.32" font-size="27" font-weight="bold">-3</text>
<g filter="url(#cmcb)"><rect x="1029" y="13.4" width="15" height="397.2" fill="url(#cbg)"/></g>
<path d="M1029 13.4h3.5M1044 13.4h-3.5M1029 79.6h3.5M1044 79.6h-3.5M1029 145.8h3.5M1044 145.8h-3.5M1029 212h3.5M1044 212h-3.5M1029 278.2h3.5M1044 278.2h-3.5M1029 344.4h3.5M1044 344.4h-3.5M1029 410.6h3.5M1044 410.6h-3.5" stroke="#1a1a1a" stroke-width="1.2" fill="none" opacity="0.8"/>
<rect x="1029" y="13.4" width="15" height="397.2" fill="none" stroke="#1a1a1a" stroke-width="1" opacity="0.7"/>
<text x="1045.8" y="23.12" font-size="27" font-weight="bold">3</text>
<text x="1045.8" y="89.32" font-size="27" font-weight="bold">2</text>
<text x="1045.8" y="155.52" font-size="27" font-weight="bold">1</text>
<text x="1045.8" y="221.72" font-size="27" font-weight="bold">0</text>
<text x="1045.8" y="287.92" font-size="27" font-weight="bold">-1</text>
<text x="1045.8" y="354.12" font-size="27" font-weight="bold">-2</text>
<text x="1045.8" y="420.32" font-size="27" font-weight="bold">-3</text>
<g filter="url(#cmce)"><rect x="466.2" y="1010.3" width="17.8" height="394.7" fill="url(#cbg)"/></g>
<path d="M466.2 1010.3h3.5M484 1010.3h-3.5M466.2 1108.97h3.5M484 1108.97h-3.5M466.2 1207.65h3.5M484 1207.65h-3.5M466.2 1306.33h3.5M484 1306.33h-3.5M466.2 1405h3.5M484 1405h-3.5" stroke="#1a1a1a" stroke-width="1.2" fill="none" opacity="0.8"/>
<rect x="466.2" y="1010.3" width="17.8" height="394.7" fill="none" stroke="#1a1a1a" stroke-width="1" opacity="0.7"/>
<text x="485" y="1019.48" font-size="25.5" font-weight="bold">1</text>
<text x="485" y="1118.15" font-size="25.5" font-weight="bold">0.5</text>
<text x="485" y="1216.83" font-size="25.5" font-weight="bold">0</text>
<text x="485" y="1315.51" font-size="25.5" font-weight="bold">-0.5</text>
<text x="485" y="1414.18" font-size="25.5" font-weight="bold">-1</text>
<g filter="url(#cmcf)"><rect x="1024.9" y="1010.3" width="17.4" height="394.5" fill="url(#cbg)"/></g>
<path d="M1024.9 1010.3h3.5M1042.3 1010.3h-3.5M1024.9 1108.92h3.5M1042.3 1108.92h-3.5M1024.9 1207.55h3.5M1042.3 1207.55h-3.5M1024.9 1306.17h3.5M1042.3 1306.17h-3.5M1024.9 1404.8h3.5M1042.3 1404.8h-3.5" stroke="#1a1a1a" stroke-width="1.2" fill="none" opacity="0.8"/>
<rect x="1024.9" y="1010.3" width="17.4" height="394.5" fill="none" stroke="#1a1a1a" stroke-width="1" opacity="0.7"/>
<text x="1043.6" y="1019.48" font-size="25.5" font-weight="bold">1</text>
<text x="1043.6" y="1118.11" font-size="25.5" font-weight="bold">0.5</text>
<text x="1043.6" y="1216.73" font-size="25.5" font-weight="bold">0</text>
<text x="1043.6" y="1315.36" font-size="25.5" font-weight="bold">-0.5</text>
<text x="1043.6" y="1413.98" font-size="25.5" font-weight="bold">-1</text>
<path d="M63.8 711.2 64.72 711.42 65.65 711.95 66.58 712.48 67.5 712.7 69.28 711.88 71.05 709.9 72.82 707.92 74.6 707.1 76.27 708.08 77.95 710.45 79.62 712.82 81.3 713.8 83.17 712.6 85.05 709.7 86.92 706.8 88.8 705.6 89.62 706.14 90.45 707.45 91.27 708.76 92.1 709.3 92.66 710.95 93.22 715.64 93.79 722.66 94.35 730.95 94.91 739.24 95.47 746.26 96.04 750.95 96.6 752.6 97.6 748.82 98.6 738.07 99.6 721.98 100.6 703 101.6 684.02 102.6 667.93 103.6 657.18 104.6 653.4 105.57 657.82 106.55 670.4 107.53 689.24 108.5 711.45 109.47 733.66 110.45 752.5 111.43 765.08 112.4 769.5 113.25 764.65 114.1 750.83 114.95 730.15 115.8 705.75 116.65 681.35 117.5 660.67 118.35 646.85 119.2 642 120.15 647.38 121.1 662.71 122.05 685.64 123 712.7 123.95 739.76 124.9 762.69 125.85 778.02 126.8 783.4 127.65 777.54 128.5 760.85 129.35 735.87 130.2 706.4 131.05 676.93 131.9 651.95 132.75 635.26 133.6 629.4 134.47 635.67 135.35 653.53 136.22 680.27 137.1 711.8 137.97 743.33 138.85 770.07 139.72 787.93 140.6 794.2 141.49 787.59 142.38 768.78 143.26 740.62 144.15 707.4 145.04 674.18 145.92 646.02 146.81 627.21 147.7 620.6 148.64 627.64 149.57 647.68 150.51 677.67 151.45 713.05 152.39 748.43 153.32 778.42 154.26 798.46 155.2 805.5 156.11 797.96 157.02 776.47 157.94 744.32 158.85 706.4 159.76 668.48 160.68 636.33 161.59 614.84 162.5 607.3 163.39 615.39 164.28 638.43 165.16 672.92 166.05 713.6 166.94 754.28 167.82 788.77 168.71 811.81 169.6 819.9 170.51 811.29 171.43 786.77 172.34 750.08 173.25 706.8 174.16 663.52 175.07 626.83 175.99 602.31 176.9 593.7 177.78 602.79 178.65 628.67 179.53 667.41 180.4 713.1 181.28 758.79 182.15 797.53 183.03 823.41 183.9 832.5 184.81 823 185.72 795.93 186.64 755.43 187.55 707.65 188.46 659.87 189.38 619.37 190.29 592.3 191.2 582.8 192.11 592.67 193.02 620.76 193.94 662.8 194.85 712.4 195.76 762 196.68 804.04 197.59 832.13 198.5 842 199.39 831.77 200.28 802.65 201.16 759.06 202.05 707.65 202.94 656.24 203.82 612.65 204.71 583.53 205.6 573.3 206.51 583.9 207.43 614.1 208.34 659.29 209.25 712.6 210.16 765.91 211.07 811.1 211.99 841.3 212.9 851.9 213.81 840.92 214.72 809.66 215.64 762.88 216.55 707.7 217.46 652.52 218.38 605.74 219.29 574.48 220.2 563.5 221.11 574.79 222.02 606.95 222.94 655.08 223.85 711.85 224.76 768.62 225.68 816.75 226.59 848.91 227.5 860.2 228.39 848.62 229.28 815.64 230.16 766.28 231.05 708.05 231.94 649.82 232.82 600.46 233.71 567.48 234.6 555.9 235.47 567.82 236.35 601.75 237.22 652.54 238.1 712.45 238.97 772.36 239.85 823.15 240.72 857.08 241.6 869 242.51 856.84 243.43 822.2 244.34 770.35 245.25 709.2 246.16 648.05 247.07 596.2 247.99 561.56 248.9 549.4 249.79 561.74 250.68 596.86 251.56 649.44 252.45 711.45 253.34 773.46 254.22 826.04 255.11 861.16 256 873.5 256.94 860.97 257.88 825.29 258.81 771.89 259.75 708.9 260.69 645.91 261.62 592.51 262.56 556.83 263.5 544.3 264.39 556.96 265.27 593.02 266.16 646.99 267.05 710.65 267.94 774.31 268.83 828.28 269.71 864.34 270.6 877 271.51 864.22 272.43 827.84 273.34 773.38 274.25 709.15 275.16 644.92 276.07 590.46 276.99 554.08 277.9 541.3 278.81 554.18 279.72 590.84 280.64 645.72 281.55 710.45 282.46 775.18 283.38 830.06 284.29 866.72 285.2 879.6 286.07 866.69 286.95 829.94 287.82 774.93 288.7 710.05 289.57 645.17 290.45 590.16 291.32 553.41 292.2 540.5 294.6 640 295.8 709.5 296.3 711.24 297.31 710.23 298.32 710.3 299.33 709.32 300.34 708.89 301.35 710.01 302.36 710.03 303.37 708.05 304.38 709.71 305.39 710.12 306.4 708.64 307.41 710.32 308.42 709.7 309.43 710.73 310.44 710.29 311.45 711.29 312.46 709.76 313.47 708.78 314.48 709.25 315.49 708.4 316.5 708.41 317.51 709.93 318.52 708.4 319.53 709.13 320.54 710.24 321.54 711.3 322.55 709.56 323.56 710.72 324.57 710.12 325.58 709.56 326.59 709.67 327.6 708.77 328.61 709.67 329.62 708.33 330.63 709 331.64 707.75 332.65 708.03 333.66 710.25 334.67 710.53 335.68 710.74 336.69 709.23 337.7 710.77 338.71 710.36 339.72 711.05 340.73 710.28 341.74 710.21 342.75 709.89 343.76 708.95 344.77 708.7 345.78 707.82 346.79 708.46 347.8 708.1 348.81 708.64 349.81 708.71 350.82 709.87 351.83 711.4 352.84 709.78 353.85 709.46 354.86 709.38 355.87 709.87 356.88 709.1 357.89 709.97 358.9 708.15 359.91 708.65 360.92 709.4 361.93 710.15 362.94 708.53 363.95 708.59 364.96 711.22 365.97 709.76 366.98 710.89 367.99 711.52 369 710.98 370.01 709.48 371.02 708.82 372.03 710.49 373.04 708.74 374.05 709.98 375.06 708.28 376.07 709.41 377.07 708.34 378.08 708.48 379.09 710.08 380.1 709.18 381.11 711.14 382.12 711.78 383.13 710.3 384.14 711.47 385.15 710.65 386.16 709.69 387.17 708.79 388.18 709.74 389.19 709.97 390.2 707.9 391.21 709.66 392.22 708.33 393.23 708.93 394.24 710.74 395.25 710.8 396.26 710.74 397.27 710.3 398.28 710.16 399.29 709.85 400.3 709.2 401.31 707.8 402.32 708.75 403.33 708.83 404.33 708.01 405.34 709.77 406.35 710.01 407.36 708.38 408.37 710.33 409.38 710.62 410.39 712.59 411.4 711.22 412.41 710.4 413.42 711.87 414.43 709.27 415.44 708.65 416.45 710.23 417.46 707.97 418.47 708.56 419.48 708.04 420.49 709.7 421.5 708.98 422.51 709.46 423.52 712.65 424.53 712.8 425.54 710.49 426.55 709.14 427.56 711.41 428.57 710.01 429.58 708.85 430.59 709.39 431.6 708.89 432.6 709.03 433.61 709.03 434.62 708.6 435.63 710.34 436.64 710.67 437.65 709.69 438.66 712.88 439.67 710.9 440.68 710.1 441.69 711.28 442.7 711.03 443.71 708.3 444.72 709.83 445.73 709.65 446.74 708.65 447.75 707.87 448.76 710.3 449.77 710.04 450.78 710.55 451.79 709.37 452.8 711.04 453.81 709.81 454.82 711.93 455.83 711.08 456.84 709.64 457.85 708.42 458.86 709.29 459.86 709.62 460.87 709.77 461.88 708.61 462.89 709.85 463.9 708.47 464.91 708.85 465.92 711.15 466.93 711.21 467.94 709.92 468.95 710.36 469.96 709.7 470.97 710.6 471.98 710.74 472.99 709.88 474 708.21 475.01 709.4 476.02 709.19 477.03 709.18 478.04 709.49 479.05 709.92 480.06 709.03 481.07 711.32 482.08 711.91 483.09 709.57 484.1 709.59 485.11 709.03 486.12 710.03 487.12 708.33 488.13 708.04 489.14 709.57 490.15 708.2 491.16 708.09 492.17 708.8 493.18 709.53 494.19 710.51 495.2 710.74 496.21 711.27" fill="none" stroke="#000" stroke-width="2.4" stroke-linejoin="round"/>
<path d="M63.8 706 64.35 706.49 64.9 707.9 65.45 710.01 66 712.5 66.55 714.99 67.1 717.1 67.65 718.51 68.2 719 69.05 718.32 69.9 716.38 70.75 713.48 71.6 710.05 72.45 706.62 73.3 703.72 74.15 701.78 75 701.1 75.89 701.86 76.78 704.01 77.66 707.24 78.55 711.05 79.44 714.86 80.32 718.09 81.21 720.24 82.1 721 83.02 720.09 83.95 717.49 84.88 713.59 85.8 709 86.72 704.41 87.65 700.51 88.58 697.91 89.5 697 90.22 698.07 90.95 701.13 91.67 705.7 92.4 711.1 93.12 716.5 93.85 721.07 94.58 724.13 95.3 725.2 96.24 724.1 97.17 720.98 98.11 716.31 99.05 710.8 99.99 705.29 100.92 700.62 101.86 697.5 102.8 696.4 103.81 697.54 104.83 700.79 105.84 705.66 106.85 711.4 107.86 717.14 108.88 722.01 109.89 725.26 110.9 726.4 111.94 725.09 112.98 721.35 114.01 715.75 115.05 709.15 116.09 702.55 117.12 696.95 118.16 693.21 119.2 691.9 119.98 693.36 120.75 697.51 121.53 703.72 122.3 711.05 123.08 718.38 123.85 724.59 124.62 728.74 125.4 730.2 126.43 728.63 127.45 724.15 128.47 717.45 129.5 709.55 130.53 701.65 131.55 694.95 132.57 690.47 133.6 688.9 134.35 690.65 135.1 695.62 135.85 703.07 136.6 711.85 137.35 720.63 138.1 728.08 138.85 733.05 139.6 734.8 140.61 732.86 141.62 727.33 142.64 719.06 143.65 709.3 144.66 699.54 145.67 691.27 146.69 685.74 147.7 683.8 148.51 685.9 149.32 691.88 150.14 700.84 150.95 711.4 151.76 721.96 152.57 730.92 153.39 736.9 154.2 739 155.24 736.66 156.27 729.99 157.31 720.02 158.35 708.25 159.39 696.48 160.43 686.51 161.46 679.84 162.5 677.5 163.25 680.03 164 687.24 164.75 698.03 165.5 710.75 166.25 723.47 167 734.26 167.75 741.47 168.5 744 169.55 741.28 170.6 733.53 171.65 721.93 172.7 708.25 173.75 694.57 174.8 682.97 175.85 675.22 176.9 672.5 177.68 675.32 178.45 683.35 179.22 695.37 180 709.55 180.78 723.73 181.55 735.75 182.32 743.78 183.1 746.6 184.11 743.59 185.12 735.02 186.14 722.19 187.15 707.05 188.16 691.91 189.17 679.08 190.19 670.51 191.2 667.5 191.97 670.8 192.75 680.18 193.53 694.23 194.3 710.8 195.07 727.37 195.85 741.42 196.62 750.8 197.4 754.1 198.43 750.61 199.45 740.67 200.47 725.8 201.5 708.25 202.53 690.7 203.55 675.83 204.57 665.89 205.6 662.4 206.4 666.03 207.2 676.39 208 691.88 208.8 710.15 209.6 728.42 210.4 743.91 211.2 754.27 212 757.9 213.03 754.04 214.05 743.06 215.07 726.63 216.1 707.25 217.12 687.87 218.15 671.44 219.17 660.46 220.2 656.6 221 660.82 221.8 672.84 222.6 690.83 223.4 712.05 224.2 733.27 225 751.26 225.8 763.28 226.6 767.5 227.6 762.83 228.6 749.53 229.6 729.63 230.6 706.15 231.6 682.67 232.6 662.77 233.6 649.47 234.6 644.8 235.4 649.95 236.2 664.61 237 686.56 237.8 712.45 238.6 738.34 239.4 760.29 240.2 774.95 241 780.1 241.99 774.43 242.97 758.26 243.96 734.08 244.95 705.55 245.94 677.02 246.93 652.84 247.91 636.67 248.9 631 249.7 637.12 250.5 654.56 251.3 680.66 252.1 711.45 252.9 742.24 253.7 768.34 254.5 785.78 255.3 791.9 256.32 785.39 257.35 766.86 258.38 739.12 259.4 706.4 260.43 673.68 261.45 645.94 262.48 627.41 263.5 620.9 264.35 627.79 265.2 647.42 266.05 676.8 266.9 711.45 267.75 746.1 268.6 775.48 269.45 795.11 270.3 802 271.25 794.72 272.2 774 273.15 742.98 274.1 706.4 275.05 669.82 276 638.8 276.95 618.08 277.9 610.8 278.75 616.71 279.6 633.53 280.45 658.7 281.3 688.4 282.15 718.1 283 743.27 283.85 760.09 284.7 766 285.43 763.37 286.15 755.9 286.88 744.7 287.6 731.5 288.32 718.3 289.05 707.1 289.77 699.63 290.5 697 292.02 697.71 293.54 699.64 295.06 702.27 296.58 704.91 298.1 706.84 299.62 707.54 300.58 707.87 301.54 708.76 302.51 709.97 303.47 711.19 304.43 712.07 305.39 712.4 306.18 711.99 306.98 710.85 307.77 709.31 308.56 707.76 309.36 706.63 310.15 706.22 310.92 707.02 311.69 709.2 312.46 712.18 313.23 715.16 314 717.34 314.77 718.14 316.02 716.97 317.27 713.78 318.52 709.42 319.77 705.06 321.02 701.86 322.27 700.7 323.3 701.83 324.33 704.95 325.37 709.2 326.4 713.45 327.43 716.56 328.47 717.7 329.74 716.43 331.02 712.97 332.29 708.25 333.56 703.52 334.84 700.06 336.11 698.8 337.15 700.36 338.18 704.63 339.21 710.46 340.25 716.29 341.28 720.55 342.31 722.12 343.71 720.31 345.1 715.38 346.5 708.65 347.89 701.91 349.29 696.98 350.68 695.17 351.59 697.25 352.51 702.9 353.42 710.63 354.33 718.36 355.25 724.02 356.16 726.09 357.63 723.87 359.09 717.81 360.56 709.53 362.03 701.25 363.49 695.19 364.96 692.97 365.99 695.26 367.03 701.52 368.06 710.08 369.09 718.64 370.13 724.9 371.16 727.2 372.41 724.84 373.66 718.42 374.91 709.64 376.16 700.86 377.41 694.44 378.66 692.08 379.72 694.39 380.78 700.7 381.83 709.31 382.89 717.92 383.95 724.23 385.01 726.53 386.33 724.46 387.65 718.8 388.97 711.08 390.3 703.35 391.62 697.69 392.94 695.62 394.12 697.63 395.3 703.12 396.47 710.63 397.65 718.14 398.83 723.64 400.01 725.65 401.19 723.59 402.36 717.97 403.54 710.28 404.72 702.6 405.9 696.97 407.08 694.91 408.33 696.85 409.58 702.15 410.83 709.4 412.08 716.64 413.33 721.94 414.58 723.88 415.83 722.03 417.08 716.96 418.33 710.04 419.58 703.11 420.83 698.05 422.08 696.19 423.21 697.94 424.34 702.73 425.47 709.26 426.59 715.8 427.72 720.59 428.85 722.34 430.13 720.75 431.4 716.43 432.68 710.52 433.95 704.62 435.22 700.29 436.5 698.71 437.6 700.1 438.71 703.9 439.82 709.09 440.92 714.28 442.03 718.08 443.13 719.47 444.19 718.34 445.25 715.27 446.31 711.08 447.36 706.88 448.42 703.81 449.48 702.68 450.66 703.67 451.84 706.38 453.01 710.08 454.19 713.78 455.37 716.49 456.55 717.48 457.36 716.58 458.18 714.11 459 710.74 459.82 707.38 460.63 704.91 461.45 704.01 463.01 704.74 464.58 706.74 466.14 709.46 467.7 712.19 469.26 714.19 470.83 714.92 471.5 714.28 472.17 712.52 472.85 710.13 473.52 707.73 474.19 705.98 474.87 705.33 476.96 705.82 479.05 707.17 481.14 709 483.23 710.83 485.32 712.17 487.41 712.66 488.21 712.47 489 711.94 489.79 711.21 490.59 710.48 491.38 709.95 492.17 709.75 492.89 709.75 493.62 709.75 494.34 709.75 495.06 709.75 495.78 709.75 496.5 709.75" fill="none" stroke="#ff0000" stroke-width="2.0" stroke-dasharray="5 2.6" stroke-linejoin="round"/>
<rect x="302.7" y="687.4" width="193.8" height="48.8" fill="none" stroke="#222" stroke-width="1.3" stroke-dasharray="5.5 3"/>
<line x1="319.6" y1="683.2" x2="357.5" y2="643.5" stroke="#000" stroke-width="1.2"/>
<polygon points="362.5,638.3 352.8,642.6 358.6,648.2" fill="#000"/>
<rect x="334.2" y="510.8" width="162.2" height="122.2" fill="#fff"/>
<clipPath id="cic"><rect x="334.2" y="510.8" width="162.2" height="122.2"/></clipPath>
<g clip-path="url(#cic)"><path d="M334.2 571.9 334.88 571.45 335.55 570.2 336.23 568.51 336.9 566.81 337.58 565.57 338.25 565.11 339.03 566.11 339.8 568.84 340.57 572.58 341.34 576.31 342.12 579.05 342.89 580.05 343.53 578.77 344.16 575.29 344.8 570.54 345.44 565.79 346.08 562.31 346.71 561.04 347.33 563.49 347.95 570.2 348.57 579.37 349.18 588.53 349.8 595.24 350.42 597.7 351.42 594.11 352.43 584.29 353.43 570.88 354.44 557.47 355.44 547.66 356.44 544.07 357.27 547.57 358.11 557.13 358.94 570.2 359.77 583.27 360.6 592.84 361.43 596.34 362.45 592.45 363.47 581.81 364.5 567.28 365.52 552.76 366.54 542.12 367.57 538.23 368.4 543.03 369.23 556.15 370.06 574.07 370.89 592 371.72 605.12 372.55 609.92 373.67 604.37 374.79 589.21 375.91 568.51 377.03 547.8 378.15 532.64 379.27 527.09 380 533.46 380.74 550.85 381.47 574.62 382.2 598.38 382.94 615.77 383.67 622.14 384.85 615.32 386.03 596.68 387.2 571.22 388.38 545.76 389.56 527.13 390.74 520.3 391.57 527.35 392.4 546.61 393.23 572.92 394.06 599.23 394.89 618.48 395.72 625.53 396.72 618.3 397.73 598.55 398.73 571.56 399.74 544.57 400.74 524.82 401.74 517.59 402.59 524.68 403.44 544.07 404.29 570.54 405.14 597.02 405.99 616.4 406.84 623.5 407.9 617.13 408.97 599.73 410.03 575.97 411.09 552.21 412.15 534.82 413.21 528.45 414.16 534.64 415.11 551.53 416.05 574.62 417 597.7 417.95 614.6 418.89 620.78 419.84 614.45 420.78 597.15 421.73 573.53 422.68 549.9 423.62 532.61 424.57 526.28 425.57 532.25 426.58 548.55 427.58 570.81 428.58 593.08 429.59 609.38 430.59 615.35 431.6 609.65 432.6 594.07 433.61 572.78 434.61 551.5 435.61 535.92 436.62 530.22 437.53 535.6 438.43 550.31 439.34 570.41 440.25 590.5 441.16 605.21 442.06 610.6 443.09 605.73 444.11 592.44 445.13 574.28 446.16 556.12 447.18 542.82 448.2 537.96 449.09 542.23 449.98 553.91 450.87 569.86 451.76 585.82 452.64 597.5 453.53 601.77 454.38 598.31 455.23 588.87 456.08 575.97 456.93 563.07 457.78 553.63 458.63 550.18 459.58 553.22 460.52 561.55 461.47 572.92 462.42 584.29 463.36 592.61 464.31 595.66 464.96 592.89 465.62 585.31 466.28 574.96 466.93 564.6 467.59 557.02 468.25 554.25 469.5 556.5 470.76 562.63 472.01 571.02 473.27 579.4 474.52 585.54 475.78 587.79 476.32 585.81 476.86 580.42 477.4 573.05 477.94 565.69 478.48 560.3 479.02 558.32 480.7 559.83 482.38 563.96 484.06 569.59 485.74 575.23 487.42 579.35 489.1 580.86 489.74 580.26 490.38 578.62 491.01 576.38 491.65 574.14 492.29 572.5 492.92 571.9 493.5 571.9 494.08 571.9 494.66 571.9 495.24 571.9 495.82 571.9 496.4 571.9" fill="none" stroke="#ff0000" stroke-width="2.0" stroke-dasharray="5 2.6"/><path d="M334.2 573.33 334.9 572.71 335.59 572.17 336.29 570.76 336.98 571.27 337.68 569.28 338.37 573.97 339.07 570.51 339.76 566.99 340.46 568.6 341.15 567.09 341.85 572.53 342.54 570.94 343.24 573.24 343.93 572.22 344.63 572.87 345.32 577.29 346.02 576.33 346.71 575.96 347.41 571.2 348.1 571.58 348.8 575.02 349.49 569.38 350.19 573.24 350.88 568.82 351.58 572.03 352.27 572.87 352.97 566.22 353.66 572.17 354.36 573.11 355.05 567.85 355.75 569.9 356.44 575.95 357.14 570.83 357.83 574.88 358.53 573.51 359.23 577.21 359.92 569.51 360.62 570.57 361.31 566.7 362.01 566.18 362.7 570.82 363.4 569.76 364.09 571.58 364.79 572.25 365.48 573.88 366.18 572.87 366.87 571.39 367.57 578.02 368.26 572.89 368.96 576.48 369.65 576.81 370.35 572.08 371.04 574.23 371.74 574.58 372.43 572.05 373.13 569.15 373.82 573.37 374.52 565.58 375.21 572.68 375.91 567.36 376.6 567.23 377.3 574.08 377.99 569.51 378.69 573.49 379.38 572.88 380.08 577.41 380.77 577.44 381.47 576.48 382.16 570.99 382.86 575.32 383.56 570.85 384.25 568.84 384.95 567.94 385.64 571.06 386.34 570.57 387.03 569.4 387.73 568.07 388.42 572.74 389.12 569.51 389.81 570.07 390.51 570.54 391.2 576.32 391.9 571.25 392.59 576.7 393.29 575.06 393.98 572.99 394.68 570.45 395.37 573.16 396.07 568.74 396.76 570.28 397.46 571.11 398.15 570.77 398.85 571.62 399.54 572.54 400.24 572.7 400.93 570.17 401.63 569.15 402.32 575.08 403.02 576.44 403.71 571.1 404.41 573.99 405.1 574.57 405.8 575.1 406.49 572.17 407.19 569.88 407.89 571.32 408.58 570.79 409.28 572.56 409.97 566.95 410.67 572.6 411.36 570.12 412.06 568.61 412.75 573.95 413.45 571.01 414.14 570.42 414.84 573.11 415.53 572.42 416.23 576.9 416.92 574.43 417.62 575.71 418.31 570.21 419.01 572.98 419.7 570.98 420.4 566.43 421.09 566.93 421.79 565.86 422.48 569.8 423.18 570.12 423.87 569.19 424.57 572.06 425.26 574.53 425.96 574.61 426.65 577.31 427.35 575.84 428.04 570.84 428.74 570.5 429.43 572.35 430.13 572.3 430.82 572.48 431.52 573.56 432.22 571.11 432.91 566.07 433.61 565.2 434.3 570.26 435 567.15 435.69 568.4 436.39 570.48 437.08 572.06 437.78 572.19 438.47 576.83 439.17 573.62 439.86 577.61 440.56 574.7 441.25 570.53 441.95 569.89 442.64 572.62 443.34 564.42 444.03 566.66 444.73 567 445.42 573.32 446.12 568.26 446.81 572.65 447.51 569.53 448.2 573.32 448.9 570.86 449.59 573.73 450.29 572.66 450.98 577.49 451.68 573.75 452.37 571.71 453.07 569.42 453.76 572.98 454.46 566.46 455.15 565.12 455.85 566.35 456.55 563.33 457.24 563.97 457.94 569.19 458.63 570.27 459.33 575.1 460.02 570.02 460.72 570.21 461.41 575.23 462.11 573.56 462.8 573.12 463.5 572.41 464.19 576.3 464.89 569.91 465.58 570.44 466.28 568.72 466.97 569.97 467.67 567.96 468.36 566.83 469.06 568.38 469.75 568.53 470.45 574.76 471.14 574.78 471.84 573.66 472.53 572.91 473.23 576.46 473.92 573.23 474.62 573.36 475.31 576.84 476.01 573.04 476.7 573.76 477.4 573.97 478.09 572.63 478.79 570.87 479.48 571.53 480.18 571.57 480.88 573.03 481.57 570.96 482.27 572.36 482.96 571.78 483.66 572.72 484.35 575.55 485.05 571.68 485.74 577.33 486.44 574.46 487.13 574.65 487.83 573.04 488.52 573.99 489.22 568.74 489.91 570.9 490.61 572.56 491.3 568.9" fill="none" stroke="#000" stroke-width="1.8" stroke-linejoin="round"/></g>
<path d="M380.54 633v-6.8M380.54 510.8v6.8M438.47 633v-6.8M438.47 510.8v6.8M496.4 633v-6.8M496.4 510.8v6.8M334.2 633v-3.3M334.2 510.8v3.3M339.99 633v-3.3M339.99 510.8v3.3M345.79 633v-3.3M345.79 510.8v3.3M351.58 633v-3.3M351.58 510.8v3.3M357.37 633v-3.3M357.37 510.8v3.3M363.16 633v-3.3M363.16 510.8v3.3M368.96 633v-3.3M368.96 510.8v3.3M374.75 633v-3.3M374.75 510.8v3.3M386.34 633v-3.3M386.34 510.8v3.3M392.13 633v-3.3M392.13 510.8v3.3M397.92 633v-3.3M397.92 510.8v3.3M403.71 633v-3.3M403.71 510.8v3.3M409.51 633v-3.3M409.51 510.8v3.3M415.3 633v-3.3M415.3 510.8v3.3M421.09 633v-3.3M421.09 510.8v3.3M426.89 633v-3.3M426.89 510.8v3.3M432.68 633v-3.3M432.68 510.8v3.3M444.26 633v-3.3M444.26 510.8v3.3M450.06 633v-3.3M450.06 510.8v3.3M455.85 633v-3.3M455.85 510.8v3.3M461.64 633v-3.3M461.64 510.8v3.3M467.44 633v-3.3M467.44 510.8v3.3M473.23 633v-3.3M473.23 510.8v3.3M479.02 633v-3.3M479.02 510.8v3.3M484.81 633v-3.3M484.81 510.8v3.3M490.61 633v-3.3M490.61 510.8v3.3M334.2 626.21h6.8M496.4 626.21h-6.8M334.2 571.9h6.8M496.4 571.9h-6.8M334.2 517.59h6.8M496.4 517.59h-6.8M334.2 631.64h3.3M496.4 631.64h-3.3M334.2 620.78h3.3M496.4 620.78h-3.3M334.2 615.35h3.3M496.4 615.35h-3.3M334.2 609.92h3.3M496.4 609.92h-3.3M334.2 604.49h3.3M496.4 604.49h-3.3M334.2 599.06h3.3M496.4 599.06h-3.3M334.2 593.62h3.3M496.4 593.62h-3.3M334.2 588.19h3.3M496.4 588.19h-3.3M334.2 582.76h3.3M496.4 582.76h-3.3M334.2 577.33h3.3M496.4 577.33h-3.3M334.2 566.47h3.3M496.4 566.47h-3.3M334.2 561.04h3.3M496.4 561.04h-3.3M334.2 555.61h3.3M496.4 555.61h-3.3M334.2 550.18h3.3M496.4 550.18h-3.3M334.2 544.74h3.3M496.4 544.74h-3.3M334.2 539.31h3.3M496.4 539.31h-3.3M334.2 533.88h3.3M496.4 533.88h-3.3M334.2 528.45h3.3M496.4 528.45h-3.3M334.2 523.02h3.3M496.4 523.02h-3.3M334.2 512.16h3.3M496.4 512.16h-3.3" stroke="#111" stroke-width="1.4" fill="none"/>
<rect x="334.2" y="510.8" width="162.2" height="122.2" stroke="#111" stroke-width="1.4" fill="none"/>
<text x="331" y="523.69" text-anchor="end" font-size="17" font-weight="bold">0.4</text>
<text x="331" y="578" text-anchor="end" font-size="17" font-weight="bold">0</text>
<text x="331" y="632.31" text-anchor="end" font-size="17" font-weight="bold">-0.4</text>
<text x="380.54" y="652" text-anchor="middle" font-size="17" font-weight="bold">5</text>
<text x="438.47" y="652" text-anchor="middle" font-size="17" font-weight="bold">10</text>
<text x="496.4" y="652" text-anchor="middle" font-size="17" font-weight="bold">15</text>
<path d="M622 700.6 622.55 702.37 623.1 707.41 623.65 714.95 624.2 723.85 624.75 732.75 625.3 740.29 625.85 745.33 626.4 747.1 627.82 743.97 629.25 735.05 630.67 721.7 632.1 705.95 633.52 690.2 634.95 676.85 636.38 667.93 637.8 664.8 639.12 668.18 640.45 677.82 641.77 692.24 643.1 709.25 644.42 726.26 645.75 740.68 647.07 750.32 648.4 753.7 649.76 750.15 651.12 740.04 652.49 724.9 653.85 707.05 655.21 689.2 656.57 674.06 657.94 663.95 659.3 660.4 660.67 664.2 662.05 675.03 663.42 691.23 664.8 710.35 666.17 729.47 667.55 745.67 668.92 756.5 670.3 760.3 671.67 756.58 673.05 745.99 674.42 730.14 675.8 711.45 677.17 692.76 678.55 676.91 679.92 666.32 681.3 662.6 682.67 666.15 684.05 676.26 685.42 691.4 686.8 709.25 688.17 727.1 689.55 742.24 690.92 752.35 692.3 755.9 693.62 752.1 694.95 741.27 696.27 725.07 697.6 705.95 698.92 686.83 700.25 670.63 701.57 659.8 702.9 656 704.19 660.22 705.48 672.24 706.76 690.23 708.05 711.45 709.34 732.67 710.62 750.66 711.91 762.68 713.2 766.9 714.62 762.22 716.05 748.9 717.48 728.97 718.9 705.45 720.33 681.93 721.75 662 723.18 648.68 724.6 644 725.93 649.01 727.25 663.29 728.58 684.65 729.9 709.85 731.23 735.05 732.55 756.41 733.88 770.69 735.2 775.7 736.58 770.69 737.95 756.41 739.33 735.05 740.7 709.85 742.08 684.65 743.45 663.29 744.83 649.01 746.2 644 747.56 649.26 748.93 664.25 750.29 686.69 751.65 713.15 753.01 739.61 754.38 762.05 755.74 777.04 757.1 782.3 758.48 776.49 759.85 759.95 761.23 735.2 762.6 706 763.98 676.8 765.35 652.05 766.73 635.51 768.1 629.7 769.34 635.42 770.58 651.73 771.81 676.12 773.05 704.9 774.29 733.68 775.52 758.07 776.76 774.38 778 780.1 779.38 773.83 780.75 755.98 782.12 729.26 783.5 697.75 784.88 666.24 786.25 639.52 787.62 621.67 789 615.4 795.6 708 797.37 710.54 799.53 710.35 801.7 710.89 803.86 711.75 806.02 712.27 808.19 712.07 810.36 711.29 812.52 710.53 814.68 710.36 816.85 710.9 819.01 711.76 821.18 712.28 823.35 712.06 825.51 711.28 827.67 710.52 829.84 710.36 832 710.92 834.17 711.78 836.34 712.28 838.5 711.31 839.94 710.08 841.39 707.62 842.83 706.39 844.85 711 846.87 720.23 848.89 724.84 852.5 716.42 856.11 699.56 859.72 691.13 862.89 700.18 866.07 718.26 869.24 727.3 872.92 715.99 876.6 693.35 880.28 682.03 883.89 697.04 887.5 727.06 891.11 742.07 894.79 725.15 898.47 691.32 902.15 674.4 905.25 689.16 908.36 718.69 911.46 733.46 915.14 720.6 918.82 694.89 922.5 682.03 926.11 694.33 929.72 718.94 933.33 731.24 937.01 719.92 940.69 697.29 944.37 685.97 947.54 697.53 950.72 720.66 953.89 732.23 958.01 720.78 962.12 697.9 966.24 686.46 968.98 696.67 971.72 717.09 974.46 727.3 978.5 717.83 982.54 698.88 986.59 689.41 989.76 697.72 992.94 714.32 996.11 722.63 1000.23 715.74 1004.34 701.96 1008.45 695.07 1011.63 701.1 1014.8 713.16 1017.98 719.18 1021.59 713.09 1025.2 700.91 1028.8 694.82 1032.05 701.47 1035.3 714.76 1038.55 721.4 1042.59 714.57 1046.63 700.91 1050.67 694.09 1052.11 695.01 1053.56 696.85 1055 697.78" fill="none" stroke="#ff0000" stroke-width="2.8" stroke-dasharray="6 2.8" stroke-linejoin="round"/>
<path d="M622 739 622.41 742.55 622.83 752.66 623.24 767.8 623.65 785.65 624.06 803.5 624.47 818.64 624.89 828.75 625.3 832.3 626.91 822.72 628.52 795.44 630.14 754.61 631.75 706.45 633.36 658.29 634.98 617.46 636.59 590.18 638.2 580.6 639.49 590.58 640.78 618.98 642.06 661.5 643.35 711.65 644.64 761.8 645.92 804.32 647.21 832.72 648.5 842.7 649.86 832.33 651.23 802.79 652.59 758.59 653.95 706.45 655.31 654.31 656.67 610.11 658.04 580.57 659.4 570.2 660.79 580.86 662.17 611.23 663.56 656.69 664.95 710.3 666.34 763.91 667.73 809.37 669.11 839.74 670.5 850.4 671.89 839.49 673.27 808.43 674.66 761.94 676.05 707.1 677.44 652.26 678.83 605.77 680.21 574.71 681.6 563.8 682.89 575 684.17 606.91 685.46 654.67 686.75 711 688.04 767.33 689.33 815.09 690.61 847 691.9 858.2 693.27 846.66 694.65 813.8 696.02 764.61 697.4 706.6 698.77 648.59 700.15 599.4 701.52 566.54 702.9 555 704.26 566.85 705.62 600.6 706.99 651.12 708.35 710.7 709.71 770.28 711.07 820.8 712.44 854.55 713.8 866.4 715.15 854.32 716.5 819.93 717.85 768.46 719.2 707.75 720.55 647.04 721.9 595.57 723.25 561.18 724.6 549.1 725.98 561.32 727.35 596.11 728.73 648.18 730.1 709.6 731.48 771.02 732.85 823.09 734.23 857.88 735.6 870.1 736.98 857.76 738.35 822.61 739.73 770 741.1 707.95 742.48 645.9 743.85 593.29 745.23 558.14 746.6 545.8 747.95 558.23 749.3 593.61 750.65 646.58 752 709.05 753.35 771.52 754.7 824.49 756.05 859.87 757.4 872.3 758.74 859.85 760.08 824.4 761.41 771.34 762.75 708.75 764.09 646.16 765.42 593.1 766.76 557.65 768.1 545.2 769.48 557.68 770.85 593.21 772.23 646.38 773.6 709.1 774.98 771.82 776.35 824.99 777.73 860.52 779.1 873 780.43 860.5 781.75 824.92 783.08 771.67 784.4 708.85 785.73 646.03 787.05 592.78 788.38 557.2 789.7 544.7 791.08 557.23 792.45 592.91 793.83 646.31 795.2 709.3 796.58 772.29 797.95 825.69 799.33 861.37 800.7 873.9 802.06 861.39 803.43 825.76 804.79 772.44 806.15 709.55 807.51 646.66 808.88 593.34 810.24 557.71 811.6 545.2 814.5 640 817.6 710 819.01 709.35 821.18 709.45 823.35 709.84 825.51 710.35 827.67 710.73 829.84 710.8 832 710.54 834.17 710.06 836.34 709.59 838.5 708.85 843.48 704.91 853.01 713.53 864.7 703.68 874.87 713.53 887 702.7 896.74 713.53 908.86 704.17 918.39 711.06 929.21 705.41 940.25 711.06 949.78 704.17 960.61 712.29 971.65 705.41 979.87 710.57 990.7 707.13 998.93 709.34 1009.53 708.36 1022.53 708.85 1055 708.85" fill="none" stroke="#000" stroke-width="2.8" stroke-linejoin="round"/>
<rect x="843.5" y="672.5" width="211.5" height="71" fill="none" stroke="#222" stroke-width="1.3" stroke-dasharray="5.5 3"/>
<line x1="863.5" y1="667.5" x2="883" y2="649.2" stroke="#000" stroke-width="1.6"/>
<polygon points="888.5,644.2 877.6,647.3 883.9,653.6" fill="#000"/>
<rect x="902.7" y="511.9" width="152.5" height="123.3" fill="#fff"/>
<clipPath id="cid"><rect x="902.7" y="511.9" width="152.5" height="123.3"/></clipPath>
<g clip-path="url(#cid)"><path d="M902.7 577.66 903.72 575.61 904.73 571.5 905.75 569.44 907.17 577.15 908.6 592.56 910.02 600.26 912.56 586.19 915.1 558.03 917.65 543.96 919.88 559.06 922.12 589.27 924.36 604.38 926.95 585.47 929.54 547.66 932.13 528.75 934.67 553.82 937.22 603.96 939.76 629.04 942.35 600.78 944.94 544.27 947.54 516.01 949.72 540.67 951.91 589.99 954.09 614.65 956.69 593.18 959.28 550.23 961.87 528.75 964.41 549.3 966.95 590.4 969.5 610.95 972.09 592.05 974.68 554.23 977.27 535.33 979.51 554.64 981.75 593.28 983.98 612.6 986.88 593.48 989.78 555.26 992.68 536.15 994.61 553.21 996.54 587.32 998.47 604.38 1001.32 588.55 1004.16 556.9 1007.01 541.08 1009.25 554.95 1011.48 582.69 1013.72 596.57 1016.62 585.06 1019.51 562.04 1022.41 550.53 1024.65 560.6 1026.89 580.74 1029.12 590.81 1031.66 580.64 1034.21 560.3 1036.75 550.12 1039.04 561.22 1041.32 583.41 1043.61 594.51 1046.46 583.11 1049.3 560.3 1052.15 548.89 1053.17 550.43 1054.18 553.51 1055.2 555.06" fill="none" stroke="#ff0000" stroke-width="3.0" stroke-dasharray="6 2.8"/><path d="M902.7 573.55 906.21 566.97 912.92 581.36 921.15 564.92 928.32 581.36 936.86 563.27 943.72 581.36 952.26 565.74 958.97 577.25 966.6 567.8 974.38 577.25 981.09 565.74 988.71 579.3 996.49 567.8 1002.28 576.43 1009.91 570.67 1015.7 574.37 1023.18 572.73 1032.33 573.55 1055.2 573.55" fill="none" stroke="#000" stroke-width="2.6" stroke-linejoin="round"/></g>
<path d="M948.45 635.2v-6.5M948.45 511.9v6.5M1024.7 635.2v-6.5M1024.7 511.9v6.5M906.51 635.2v-3.3M906.51 511.9v3.3M910.33 635.2v-3.3M910.33 511.9v3.3M914.14 635.2v-3.3M914.14 511.9v3.3M917.95 635.2v-3.3M917.95 511.9v3.3M921.76 635.2v-3.3M921.76 511.9v3.3M925.58 635.2v-3.3M925.58 511.9v3.3M929.39 635.2v-3.3M929.39 511.9v3.3M933.2 635.2v-3.3M933.2 511.9v3.3M937.01 635.2v-3.3M937.01 511.9v3.3M940.83 635.2v-3.3M940.83 511.9v3.3M944.64 635.2v-3.3M944.64 511.9v3.3M952.26 635.2v-3.3M952.26 511.9v3.3M956.08 635.2v-3.3M956.08 511.9v3.3M959.89 635.2v-3.3M959.89 511.9v3.3M963.7 635.2v-3.3M963.7 511.9v3.3M967.51 635.2v-3.3M967.51 511.9v3.3M971.33 635.2v-3.3M971.33 511.9v3.3M975.14 635.2v-3.3M975.14 511.9v3.3M978.95 635.2v-3.3M978.95 511.9v3.3M982.76 635.2v-3.3M982.76 511.9v3.3M986.58 635.2v-3.3M986.58 511.9v3.3M990.39 635.2v-3.3M990.39 511.9v3.3M994.2 635.2v-3.3M994.2 511.9v3.3M998.01 635.2v-3.3M998.01 511.9v3.3M1001.83 635.2v-3.3M1001.83 511.9v3.3M1005.64 635.2v-3.3M1005.64 511.9v3.3M1009.45 635.2v-3.3M1009.45 511.9v3.3M1013.26 635.2v-3.3M1013.26 511.9v3.3M1017.08 635.2v-3.3M1017.08 511.9v3.3M1020.89 635.2v-3.3M1020.89 511.9v3.3M1028.51 635.2v-3.3M1028.51 511.9v3.3M1032.33 635.2v-3.3M1032.33 511.9v3.3M1036.14 635.2v-3.3M1036.14 511.9v3.3M1039.95 635.2v-3.3M1039.95 511.9v3.3M1043.76 635.2v-3.3M1043.76 511.9v3.3M1047.58 635.2v-3.3M1047.58 511.9v3.3M1051.39 635.2v-3.3M1051.39 511.9v3.3M902.7 614.65h6.5M1055.2 614.65h-6.5M902.7 573.55h6.5M1055.2 573.55h-6.5M902.7 532.45h6.5M1055.2 532.45h-6.5M902.7 631.09h3.3M1055.2 631.09h-3.3M902.7 626.98h3.3M1055.2 626.98h-3.3M902.7 622.87h3.3M1055.2 622.87h-3.3M902.7 618.76h3.3M1055.2 618.76h-3.3M902.7 610.54h3.3M1055.2 610.54h-3.3M902.7 606.43h3.3M1055.2 606.43h-3.3M902.7 602.32h3.3M1055.2 602.32h-3.3M902.7 598.21h3.3M1055.2 598.21h-3.3M902.7 594.1h3.3M1055.2 594.1h-3.3M902.7 589.99h3.3M1055.2 589.99h-3.3M902.7 585.88h3.3M1055.2 585.88h-3.3M902.7 581.77h3.3M1055.2 581.77h-3.3M902.7 577.66h3.3M1055.2 577.66h-3.3M902.7 569.44h3.3M1055.2 569.44h-3.3M902.7 565.33h3.3M1055.2 565.33h-3.3M902.7 561.22h3.3M1055.2 561.22h-3.3M902.7 557.11h3.3M1055.2 557.11h-3.3M902.7 553h3.3M1055.2 553h-3.3M902.7 548.89h3.3M1055.2 548.89h-3.3M902.7 544.78h3.3M1055.2 544.78h-3.3M902.7 540.67h3.3M1055.2 540.67h-3.3M902.7 536.56h3.3M1055.2 536.56h-3.3M902.7 528.34h3.3M1055.2 528.34h-3.3M902.7 524.23h3.3M1055.2 524.23h-3.3M902.7 520.12h3.3M1055.2 520.12h-3.3M902.7 516.01h3.3M1055.2 516.01h-3.3" stroke="#111" stroke-width="1.4" fill="none"/>
<rect x="902.7" y="511.9" width="152.5" height="123.3" stroke="#111" stroke-width="1.4" fill="none"/>
<text x="899.2" y="538.45" text-anchor="end" font-size="17" font-weight="bold">1</text>
<text x="899.2" y="579.55" text-anchor="end" font-size="17" font-weight="bold">0</text>
<text x="899.2" y="620.65" text-anchor="end" font-size="17" font-weight="bold">-1</text>
<text x="948.45" y="653.7" text-anchor="middle" font-size="17" font-weight="bold">5</text>
<text x="1024.7" y="653.7" text-anchor="middle" font-size="17" font-weight="bold">10</text>
<text x="977.43" y="657.2" text-anchor="middle" font-size="14" font-weight="bold">x/<tspan font-weight="normal" font-family="Liberation Serif" font-style="italic">λ</tspan><tspan font-size="11" font-weight="normal" dy="4">0</tspan></text>
<text transform="translate(882.2,576.3) rotate(-90)" text-anchor="middle" font-size="12.5" font-weight="bold">E<tspan font-size="9" dy="4">y</tspan><tspan dy="-4">/E</tspan><tspan font-size="9" dy="4">0</tspan></text>
<path d="M129.57 410.5v-8.6M129.57 13v8.6M261.1 410.5v-8.6M261.1 13v8.6M392.63 410.5v-8.6M392.63 13v8.6M76.95 410.5v-4.6M76.95 13v4.6M90.11 410.5v-4.6M90.11 13v4.6M103.26 410.5v-4.6M103.26 13v4.6M116.41 410.5v-4.6M116.41 13v4.6M142.72 410.5v-4.6M142.72 13v4.6M155.87 410.5v-4.6M155.87 13v4.6M169.03 410.5v-4.6M169.03 13v4.6M182.18 410.5v-4.6M182.18 13v4.6M195.33 410.5v-4.6M195.33 13v4.6M208.49 410.5v-4.6M208.49 13v4.6M221.64 410.5v-4.6M221.64 13v4.6M234.79 410.5v-4.6M234.79 13v4.6M247.95 410.5v-4.6M247.95 13v4.6M274.25 410.5v-4.6M274.25 13v4.6M287.41 410.5v-4.6M287.41 13v4.6M300.56 410.5v-4.6M300.56 13v4.6M313.71 410.5v-4.6M313.71 13v4.6M326.87 410.5v-4.6M326.87 13v4.6M340.02 410.5v-4.6M340.02 13v4.6M353.17 410.5v-4.6M353.17 13v4.6M366.33 410.5v-4.6M366.33 13v4.6M379.48 410.5v-4.6M379.48 13v4.6M405.79 410.5v-4.6M405.79 13v4.6M418.94 410.5v-4.6M418.94 13v4.6M432.09 410.5v-4.6M432.09 13v4.6M445.25 410.5v-4.6M445.25 13v4.6M63.8 278h8.6M458.4 278h-8.6M63.8 145.5h8.6M458.4 145.5h-8.6M63.8 397.25h4.6M458.4 397.25h-4.6M63.8 384h4.6M458.4 384h-4.6M63.8 370.75h4.6M458.4 370.75h-4.6M63.8 357.5h4.6M458.4 357.5h-4.6M63.8 344.25h4.6M458.4 344.25h-4.6M63.8 331h4.6M458.4 331h-4.6M63.8 317.75h4.6M458.4 317.75h-4.6M63.8 304.5h4.6M458.4 304.5h-4.6M63.8 291.25h4.6M458.4 291.25h-4.6M63.8 264.75h4.6M458.4 264.75h-4.6M63.8 251.5h4.6M458.4 251.5h-4.6M63.8 238.25h4.6M458.4 238.25h-4.6M63.8 225h4.6M458.4 225h-4.6M63.8 211.75h4.6M458.4 211.75h-4.6M63.8 198.5h4.6M458.4 198.5h-4.6M63.8 185.25h4.6M458.4 185.25h-4.6M63.8 172h4.6M458.4 172h-4.6M63.8 158.75h4.6M458.4 158.75h-4.6M63.8 132.25h4.6M458.4 132.25h-4.6M63.8 119h4.6M458.4 119h-4.6M63.8 105.75h4.6M458.4 105.75h-4.6M63.8 92.5h4.6M458.4 92.5h-4.6M63.8 79.25h4.6M458.4 79.25h-4.6M63.8 66h4.6M458.4 66h-4.6M63.8 52.75h4.6M458.4 52.75h-4.6M63.8 39.5h4.6M458.4 39.5h-4.6M63.8 26.25h4.6M458.4 26.25h-4.6" stroke="#1a1a1a" stroke-width="1.3" fill="none"/>
<rect x="63.8" y="13" width="394.6" height="397.5" stroke="#1a1a1a" stroke-width="1.3" fill="none"/>
<text x="144.58" y="437.5" text-anchor="end" font-size="27" font-weight="bold">-10</text>
<text x="268.61" y="437.5" text-anchor="end" font-size="27" font-weight="bold">0</text>
<text x="407.65" y="437.5" text-anchor="end" font-size="27" font-weight="bold">10</text>
<text x="61.4" y="22.7" text-anchor="end" font-size="27" font-weight="bold">15</text>
<text x="61.4" y="155.2" text-anchor="end" font-size="27" font-weight="bold">5</text>
<text x="61.4" y="287.7" text-anchor="end" font-size="27" font-weight="bold">-5</text>
<text x="61.4" y="420.2" text-anchor="end" font-size="27" font-weight="bold">-15</text>
<path d="M687.83 410.5v-8.6M687.83 13v8.6M819.5 410.5v-8.6M819.5 13v8.6M951.17 410.5v-8.6M951.17 13v8.6M635.17 410.5v-4.6M635.17 13v4.6M648.33 410.5v-4.6M648.33 13v4.6M661.5 410.5v-4.6M661.5 13v4.6M674.67 410.5v-4.6M674.67 13v4.6M701 410.5v-4.6M701 13v4.6M714.17 410.5v-4.6M714.17 13v4.6M727.33 410.5v-4.6M727.33 13v4.6M740.5 410.5v-4.6M740.5 13v4.6M753.67 410.5v-4.6M753.67 13v4.6M766.83 410.5v-4.6M766.83 13v4.6M780 410.5v-4.6M780 13v4.6M793.17 410.5v-4.6M793.17 13v4.6M806.33 410.5v-4.6M806.33 13v4.6M832.67 410.5v-4.6M832.67 13v4.6M845.83 410.5v-4.6M845.83 13v4.6M859 410.5v-4.6M859 13v4.6M872.17 410.5v-4.6M872.17 13v4.6M885.33 410.5v-4.6M885.33 13v4.6M898.5 410.5v-4.6M898.5 13v4.6M911.67 410.5v-4.6M911.67 13v4.6M924.83 410.5v-4.6M924.83 13v4.6M938 410.5v-4.6M938 13v4.6M964.33 410.5v-4.6M964.33 13v4.6M977.5 410.5v-4.6M977.5 13v4.6M990.67 410.5v-4.6M990.67 13v4.6M1003.83 410.5v-4.6M1003.83 13v4.6M622 278h8.6M1017 278h-8.6M622 145.5h8.6M1017 145.5h-8.6M622 397.25h4.6M1017 397.25h-4.6M622 384h4.6M1017 384h-4.6M622 370.75h4.6M1017 370.75h-4.6M622 357.5h4.6M1017 357.5h-4.6M622 344.25h4.6M1017 344.25h-4.6M622 331h4.6M1017 331h-4.6M622 317.75h4.6M1017 317.75h-4.6M622 304.5h4.6M1017 304.5h-4.6M622 291.25h4.6M1017 291.25h-4.6M622 264.75h4.6M1017 264.75h-4.6M622 251.5h4.6M1017 251.5h-4.6M622 238.25h4.6M1017 238.25h-4.6M622 225h4.6M1017 225h-4.6M622 211.75h4.6M1017 211.75h-4.6M622 198.5h4.6M1017 198.5h-4.6M622 185.25h4.6M1017 185.25h-4.6M622 172h4.6M1017 172h-4.6M622 158.75h4.6M1017 158.75h-4.6M622 132.25h4.6M1017 132.25h-4.6M622 119h4.6M1017 119h-4.6M622 105.75h4.6M1017 105.75h-4.6M622 92.5h4.6M1017 92.5h-4.6M622 79.25h4.6M1017 79.25h-4.6M622 66h4.6M1017 66h-4.6M622 52.75h4.6M1017 52.75h-4.6M622 39.5h4.6M1017 39.5h-4.6M622 26.25h4.6M1017 26.25h-4.6" stroke="#1a1a1a" stroke-width="1.3" fill="none"/>
<rect x="622" y="13" width="395" height="397.5" stroke="#1a1a1a" stroke-width="1.3" fill="none"/>
<text x="702.85" y="437.5" text-anchor="end" font-size="27" font-weight="bold">-10</text>
<text x="827.01" y="437.5" text-anchor="end" font-size="27" font-weight="bold">0</text>
<text x="966.18" y="437.5" text-anchor="end" font-size="27" font-weight="bold">10</text>
<text x="619.6" y="22.7" text-anchor="end" font-size="27" font-weight="bold">15</text>
<text x="619.6" y="155.2" text-anchor="end" font-size="27" font-weight="bold">5</text>
<text x="619.6" y="287.7" text-anchor="end" font-size="27" font-weight="bold">-5</text>
<text x="619.6" y="420.2" text-anchor="end" font-size="27" font-weight="bold">-15</text>
<path d="M135.92 908.5v-8.6M135.92 511v8.6M280.15 908.5v-8.6M280.15 511v8.6M424.38 908.5v-8.6M424.38 511v8.6M78.22 908.5v-4.6M78.22 511v4.6M92.65 908.5v-4.6M92.65 511v4.6M107.07 908.5v-4.6M107.07 511v4.6M121.49 908.5v-4.6M121.49 511v4.6M150.34 908.5v-4.6M150.34 511v4.6M164.76 908.5v-4.6M164.76 511v4.6M179.19 908.5v-4.6M179.19 511v4.6M193.61 908.5v-4.6M193.61 511v4.6M208.03 908.5v-4.6M208.03 511v4.6M222.46 908.5v-4.6M222.46 511v4.6M236.88 908.5v-4.6M236.88 511v4.6M251.3 908.5v-4.6M251.3 511v4.6M265.73 908.5v-4.6M265.73 511v4.6M294.57 908.5v-4.6M294.57 511v4.6M309 908.5v-4.6M309 511v4.6M323.42 908.5v-4.6M323.42 511v4.6M337.84 908.5v-4.6M337.84 511v4.6M352.27 908.5v-4.6M352.27 511v4.6M366.69 908.5v-4.6M366.69 511v4.6M381.11 908.5v-4.6M381.11 511v4.6M395.54 908.5v-4.6M395.54 511v4.6M409.96 908.5v-4.6M409.96 511v4.6M438.81 908.5v-4.6M438.81 511v4.6M453.23 908.5v-4.6M453.23 511v4.6M467.65 908.5v-4.6M467.65 511v4.6M482.08 908.5v-4.6M482.08 511v4.6M63.8 886.42h8.6M496.5 886.42h-8.6M63.8 798.08h8.6M496.5 798.08h-8.6M63.8 709.75h8.6M496.5 709.75h-8.6M63.8 621.42h8.6M496.5 621.42h-8.6M63.8 533.08h8.6M496.5 533.08h-8.6M63.8 904.08h4.6M496.5 904.08h-4.6M63.8 895.25h4.6M496.5 895.25h-4.6M63.8 877.58h4.6M496.5 877.58h-4.6M63.8 868.75h4.6M496.5 868.75h-4.6M63.8 859.92h4.6M496.5 859.92h-4.6M63.8 851.08h4.6M496.5 851.08h-4.6M63.8 842.25h4.6M496.5 842.25h-4.6M63.8 833.42h4.6M496.5 833.42h-4.6M63.8 824.58h4.6M496.5 824.58h-4.6M63.8 815.75h4.6M496.5 815.75h-4.6M63.8 806.92h4.6M496.5 806.92h-4.6M63.8 789.25h4.6M496.5 789.25h-4.6M63.8 780.42h4.6M496.5 780.42h-4.6M63.8 771.58h4.6M496.5 771.58h-4.6M63.8 762.75h4.6M496.5 762.75h-4.6M63.8 753.92h4.6M496.5 753.92h-4.6M63.8 745.08h4.6M496.5 745.08h-4.6M63.8 736.25h4.6M496.5 736.25h-4.6M63.8 727.42h4.6M496.5 727.42h-4.6M63.8 718.58h4.6M496.5 718.58h-4.6M63.8 700.92h4.6M496.5 700.92h-4.6M63.8 692.08h4.6M496.5 692.08h-4.6M63.8 683.25h4.6M496.5 683.25h-4.6M63.8 674.42h4.6M496.5 674.42h-4.6M63.8 665.58h4.6M496.5 665.58h-4.6M63.8 656.75h4.6M496.5 656.75h-4.6M63.8 647.92h4.6M496.5 647.92h-4.6M63.8 639.08h4.6M496.5 639.08h-4.6M63.8 630.25h4.6M496.5 630.25h-4.6M63.8 612.58h4.6M496.5 612.58h-4.6M63.8 603.75h4.6M496.5 603.75h-4.6M63.8 594.92h4.6M496.5 594.92h-4.6M63.8 586.08h4.6M496.5 586.08h-4.6M63.8 577.25h4.6M496.5 577.25h-4.6M63.8 568.42h4.6M496.5 568.42h-4.6M63.8 559.58h4.6M496.5 559.58h-4.6M63.8 550.75h4.6M496.5 550.75h-4.6M63.8 541.92h4.6M496.5 541.92h-4.6M63.8 524.25h4.6M496.5 524.25h-4.6M63.8 515.42h4.6M496.5 515.42h-4.6" stroke="#1a1a1a" stroke-width="1.3" fill="none"/>
<rect x="63.8" y="511" width="432.7" height="397.5" stroke="#1a1a1a" stroke-width="1.3" fill="none"/>
<text x="150.93" y="935.5" text-anchor="end" font-size="27" font-weight="bold">-10</text>
<text x="287.66" y="935.5" text-anchor="end" font-size="27" font-weight="bold">0</text>
<text x="439.4" y="935.5" text-anchor="end" font-size="27" font-weight="bold">10</text>
<text x="61.4" y="542.78" text-anchor="end" font-size="27" font-weight="bold">4</text>
<text x="61.4" y="631.12" text-anchor="end" font-size="27" font-weight="bold">2</text>
<text x="61.4" y="719.45" text-anchor="end" font-size="27" font-weight="bold">0</text>
<text x="61.4" y="807.78" text-anchor="end" font-size="27" font-weight="bold">-2</text>
<text x="61.4" y="896.12" text-anchor="end" font-size="27" font-weight="bold">-4</text>
<path d="M686.95 905.7v-8.6M686.95 512v8.6M795.2 905.7v-8.6M795.2 512v8.6M903.45 905.7v-8.6M903.45 512v8.6M1011.7 905.7v-8.6M1011.7 512v8.6M632.83 905.7v-4.6M632.83 512v4.6M643.65 905.7v-4.6M643.65 512v4.6M654.48 905.7v-4.6M654.48 512v4.6M665.3 905.7v-4.6M665.3 512v4.6M676.12 905.7v-4.6M676.12 512v4.6M697.77 905.7v-4.6M697.77 512v4.6M708.6 905.7v-4.6M708.6 512v4.6M719.42 905.7v-4.6M719.42 512v4.6M730.25 905.7v-4.6M730.25 512v4.6M741.08 905.7v-4.6M741.08 512v4.6M751.9 905.7v-4.6M751.9 512v4.6M762.73 905.7v-4.6M762.73 512v4.6M773.55 905.7v-4.6M773.55 512v4.6M784.38 905.7v-4.6M784.38 512v4.6M806.02 905.7v-4.6M806.02 512v4.6M816.85 905.7v-4.6M816.85 512v4.6M827.67 905.7v-4.6M827.67 512v4.6M838.5 905.7v-4.6M838.5 512v4.6M849.33 905.7v-4.6M849.33 512v4.6M860.15 905.7v-4.6M860.15 512v4.6M870.98 905.7v-4.6M870.98 512v4.6M881.8 905.7v-4.6M881.8 512v4.6M892.62 905.7v-4.6M892.62 512v4.6M914.28 905.7v-4.6M914.28 512v4.6M925.1 905.7v-4.6M925.1 512v4.6M935.92 905.7v-4.6M935.92 512v4.6M946.75 905.7v-4.6M946.75 512v4.6M957.58 905.7v-4.6M957.58 512v4.6M968.4 905.7v-4.6M968.4 512v4.6M979.22 905.7v-4.6M979.22 512v4.6M990.05 905.7v-4.6M990.05 512v4.6M1000.88 905.7v-4.6M1000.88 512v4.6M1022.53 905.7v-4.6M1022.53 512v4.6M1033.35 905.7v-4.6M1033.35 512v4.6M1044.17 905.7v-4.6M1044.17 512v4.6M622 807.28h8.6M1055 807.28h-8.6M622 708.85h8.6M1055 708.85h-8.6M622 610.42h8.6M1055 610.42h-8.6M622 895.86h4.6M1055 895.86h-4.6M622 886.02h4.6M1055 886.02h-4.6M622 876.17h4.6M1055 876.17h-4.6M622 866.33h4.6M1055 866.33h-4.6M622 856.49h4.6M1055 856.49h-4.6M622 846.64h4.6M1055 846.64h-4.6M622 836.8h4.6M1055 836.8h-4.6M622 826.96h4.6M1055 826.96h-4.6M622 817.12h4.6M1055 817.12h-4.6M622 797.43h4.6M1055 797.43h-4.6M622 787.59h4.6M1055 787.59h-4.6M622 777.75h4.6M1055 777.75h-4.6M622 767.9h4.6M1055 767.9h-4.6M622 758.06h4.6M1055 758.06h-4.6M622 748.22h4.6M1055 748.22h-4.6M622 738.38h4.6M1055 738.38h-4.6M622 728.54h4.6M1055 728.54h-4.6M622 718.69h4.6M1055 718.69h-4.6M622 699.01h4.6M1055 699.01h-4.6M622 689.16h4.6M1055 689.16h-4.6M622 679.32h4.6M1055 679.32h-4.6M622 669.48h4.6M1055 669.48h-4.6M622 659.64h4.6M1055 659.64h-4.6M622 649.8h4.6M1055 649.8h-4.6M622 639.95h4.6M1055 639.95h-4.6M622 630.11h4.6M1055 630.11h-4.6M622 620.27h4.6M1055 620.27h-4.6M622 600.58h4.6M1055 600.58h-4.6M622 590.74h4.6M1055 590.74h-4.6M622 580.9h4.6M1055 580.9h-4.6M622 571.06h4.6M1055 571.06h-4.6M622 561.21h4.6M1055 561.21h-4.6M622 551.37h4.6M1055 551.37h-4.6M622 541.53h4.6M1055 541.53h-4.6M622 531.68h4.6M1055 531.68h-4.6M622 521.84h4.6M1055 521.84h-4.6" stroke="#1a1a1a" stroke-width="1.3" fill="none"/>
<rect x="622" y="512" width="433" height="393.7" stroke="#1a1a1a" stroke-width="1.3" fill="none"/>
<text x="694.46" y="932.7" text-anchor="end" font-size="27" font-weight="bold">-5</text>
<text x="802.71" y="932.7" text-anchor="end" font-size="27" font-weight="bold">0</text>
<text x="910.96" y="932.7" text-anchor="end" font-size="27" font-weight="bold">5</text>
<text x="1026.71" y="932.7" text-anchor="end" font-size="27" font-weight="bold">10</text>
<text x="619.6" y="521.7" text-anchor="end" font-size="27" font-weight="bold">8</text>
<text x="619.6" y="620.12" text-anchor="end" font-size="27" font-weight="bold">4</text>
<text x="619.6" y="718.55" text-anchor="end" font-size="27" font-weight="bold">0</text>
<text x="619.6" y="816.98" text-anchor="end" font-size="27" font-weight="bold">-4</text>
<text x="619.6" y="915.4" text-anchor="end" font-size="27" font-weight="bold">-8</text>
<path d="M64 1405v-8.6M64 1010.3v8.6M141.9 1405v-8.6M141.9 1010.3v8.6M219.8 1405v-8.6M219.8 1010.3v8.6M297.7 1405v-8.6M297.7 1010.3v8.6M375.6 1405v-8.6M375.6 1010.3v8.6M453.5 1405v-8.6M453.5 1010.3v8.6M79.58 1405v-4.6M79.58 1010.3v4.6M95.16 1405v-4.6M95.16 1010.3v4.6M110.74 1405v-4.6M110.74 1010.3v4.6M126.32 1405v-4.6M126.32 1010.3v4.6M157.48 1405v-4.6M157.48 1010.3v4.6M173.06 1405v-4.6M173.06 1010.3v4.6M188.64 1405v-4.6M188.64 1010.3v4.6M204.22 1405v-4.6M204.22 1010.3v4.6M235.38 1405v-4.6M235.38 1010.3v4.6M250.96 1405v-4.6M250.96 1010.3v4.6M266.54 1405v-4.6M266.54 1010.3v4.6M282.12 1405v-4.6M282.12 1010.3v4.6M313.28 1405v-4.6M313.28 1010.3v4.6M328.86 1405v-4.6M328.86 1010.3v4.6M344.44 1405v-4.6M344.44 1010.3v4.6M360.02 1405v-4.6M360.02 1010.3v4.6M391.18 1405v-4.6M391.18 1010.3v4.6M406.76 1405v-4.6M406.76 1010.3v4.6M422.34 1405v-4.6M422.34 1010.3v4.6M437.92 1405v-4.6M437.92 1010.3v4.6M64 1365.53h8.6M453.5 1365.53h-8.6M64 1286.59h8.6M453.5 1286.59h-8.6M64 1207.65h8.6M453.5 1207.65h-8.6M64 1128.71h8.6M453.5 1128.71h-8.6M64 1049.77h8.6M453.5 1049.77h-8.6M64 1397.11h4.6M453.5 1397.11h-4.6M64 1381.32h4.6M453.5 1381.32h-4.6M64 1349.74h4.6M453.5 1349.74h-4.6M64 1333.95h4.6M453.5 1333.95h-4.6M64 1318.17h4.6M453.5 1318.17h-4.6M64 1302.38h4.6M453.5 1302.38h-4.6M64 1270.8h4.6M453.5 1270.8h-4.6M64 1255.01h4.6M453.5 1255.01h-4.6M64 1239.23h4.6M453.5 1239.23h-4.6M64 1223.44h4.6M453.5 1223.44h-4.6M64 1191.86h4.6M453.5 1191.86h-4.6M64 1176.07h4.6M453.5 1176.07h-4.6M64 1160.29h4.6M453.5 1160.29h-4.6M64 1144.5h4.6M453.5 1144.5h-4.6M64 1112.92h4.6M453.5 1112.92h-4.6M64 1097.13h4.6M453.5 1097.13h-4.6M64 1081.35h4.6M453.5 1081.35h-4.6M64 1065.56h4.6M453.5 1065.56h-4.6M64 1033.98h4.6M453.5 1033.98h-4.6M64 1018.19h4.6M453.5 1018.19h-4.6" stroke="#555555" stroke-width="1.3" fill="none"/>
<rect x="64" y="1010.3" width="389.5" height="394.7" stroke="#555555" stroke-width="1.3" fill="none"/>
<text x="71.09" y="1430.8" text-anchor="end" font-size="25.5" font-weight="bold">2</text>
<text x="148.99" y="1430.8" text-anchor="end" font-size="25.5" font-weight="bold">4</text>
<text x="226.89" y="1430.8" text-anchor="end" font-size="25.5" font-weight="bold">6</text>
<text x="304.79" y="1430.8" text-anchor="end" font-size="25.5" font-weight="bold">8</text>
<text x="389.78" y="1430.8" text-anchor="end" font-size="25.5" font-weight="bold">10</text>
<text x="467.68" y="1430.8" text-anchor="end" font-size="25.5" font-weight="bold">12</text>
<text x="61.4" y="1058.87" text-anchor="end" font-size="25.5" font-weight="bold">4</text>
<text x="61.4" y="1137.81" text-anchor="end" font-size="25.5" font-weight="bold">2</text>
<text x="61.4" y="1216.75" text-anchor="end" font-size="25.5" font-weight="bold">0</text>
<text x="61.4" y="1295.69" text-anchor="end" font-size="25.5" font-weight="bold">-2</text>
<text x="61.4" y="1374.63" text-anchor="end" font-size="25.5" font-weight="bold">-4</text>
<path d="M622.2 1404.8v-8.6M622.2 1010.3v8.6M700.14 1404.8v-8.6M700.14 1010.3v8.6M778.08 1404.8v-8.6M778.08 1010.3v8.6M856.02 1404.8v-8.6M856.02 1010.3v8.6M933.96 1404.8v-8.6M933.96 1010.3v8.6M1011.9 1404.8v-8.6M1011.9 1010.3v8.6M637.79 1404.8v-4.6M637.79 1010.3v4.6M653.38 1404.8v-4.6M653.38 1010.3v4.6M668.96 1404.8v-4.6M668.96 1010.3v4.6M684.55 1404.8v-4.6M684.55 1010.3v4.6M715.73 1404.8v-4.6M715.73 1010.3v4.6M731.32 1404.8v-4.6M731.32 1010.3v4.6M746.9 1404.8v-4.6M746.9 1010.3v4.6M762.49 1404.8v-4.6M762.49 1010.3v4.6M793.67 1404.8v-4.6M793.67 1010.3v4.6M809.26 1404.8v-4.6M809.26 1010.3v4.6M824.84 1404.8v-4.6M824.84 1010.3v4.6M840.43 1404.8v-4.6M840.43 1010.3v4.6M871.61 1404.8v-4.6M871.61 1010.3v4.6M887.2 1404.8v-4.6M887.2 1010.3v4.6M902.78 1404.8v-4.6M902.78 1010.3v4.6M918.37 1404.8v-4.6M918.37 1010.3v4.6M949.55 1404.8v-4.6M949.55 1010.3v4.6M965.14 1404.8v-4.6M965.14 1010.3v4.6M980.72 1404.8v-4.6M980.72 1010.3v4.6M996.31 1404.8v-4.6M996.31 1010.3v4.6M622.2 1365.35h8.6M1011.9 1365.35h-8.6M622.2 1286.45h8.6M1011.9 1286.45h-8.6M622.2 1207.55h8.6M1011.9 1207.55h-8.6M622.2 1128.65h8.6M1011.9 1128.65h-8.6M622.2 1049.75h8.6M1011.9 1049.75h-8.6M622.2 1396.91h4.6M1011.9 1396.91h-4.6M622.2 1381.13h4.6M1011.9 1381.13h-4.6M622.2 1349.57h4.6M1011.9 1349.57h-4.6M622.2 1333.79h4.6M1011.9 1333.79h-4.6M622.2 1318.01h4.6M1011.9 1318.01h-4.6M622.2 1302.23h4.6M1011.9 1302.23h-4.6M622.2 1270.67h4.6M1011.9 1270.67h-4.6M622.2 1254.89h4.6M1011.9 1254.89h-4.6M622.2 1239.11h4.6M1011.9 1239.11h-4.6M622.2 1223.33h4.6M1011.9 1223.33h-4.6M622.2 1191.77h4.6M1011.9 1191.77h-4.6M622.2 1175.99h4.6M1011.9 1175.99h-4.6M622.2 1160.21h4.6M1011.9 1160.21h-4.6M622.2 1144.43h4.6M1011.9 1144.43h-4.6M622.2 1112.87h4.6M1011.9 1112.87h-4.6M622.2 1097.09h4.6M1011.9 1097.09h-4.6M622.2 1081.31h4.6M1011.9 1081.31h-4.6M622.2 1065.53h4.6M1011.9 1065.53h-4.6M622.2 1033.97h4.6M1011.9 1033.97h-4.6M622.2 1018.19h4.6M1011.9 1018.19h-4.6" stroke="#555555" stroke-width="1.3" fill="none"/>
<rect x="622.2" y="1010.3" width="389.7" height="394.5" stroke="#555555" stroke-width="1.3" fill="none"/>
<text x="629.29" y="1430.6" text-anchor="end" font-size="25.5" font-weight="bold">2</text>
<text x="707.23" y="1430.6" text-anchor="end" font-size="25.5" font-weight="bold">4</text>
<text x="785.17" y="1430.6" text-anchor="end" font-size="25.5" font-weight="bold">6</text>
<text x="863.11" y="1430.6" text-anchor="end" font-size="25.5" font-weight="bold">8</text>
<text x="948.14" y="1430.6" text-anchor="end" font-size="25.5" font-weight="bold">10</text>
<text x="1026.08" y="1430.6" text-anchor="end" font-size="25.5" font-weight="bold">12</text>
<text x="619.6" y="1058.85" text-anchor="end" font-size="25.5" font-weight="bold">4</text>
<text x="619.6" y="1137.75" text-anchor="end" font-size="25.5" font-weight="bold">2</text>
<text x="619.6" y="1216.65" text-anchor="end" font-size="25.5" font-weight="bold">0</text>
<text x="619.6" y="1295.55" text-anchor="end" font-size="25.5" font-weight="bold">-2</text>
<text x="619.6" y="1374.45" text-anchor="end" font-size="25.5" font-weight="bold">-4</text>
<text x="75.5" y="50.7" font-size="32" font-weight="bold">(a)</text>
<text x="634.9" y="55.0" font-size="32" font-weight="bold">(b)</text>
<text x="75.3" y="548.4" font-size="32" font-weight="bold">(c)</text>
<text x="632.5" y="548.1" font-size="32" font-weight="bold">(d)</text>
<text x="77.7" y="1055.1" font-size="32" font-weight="bold">(e)</text>
<text x="638.3" y="1052.4" font-size="32" font-weight="bold">(f)</text>
<text x="260" y="459" text-anchor="middle" font-size="23" font-weight="bold">x/<tspan font-weight="normal" font-family="Liberation Serif" font-style="italic">λ</tspan><tspan font-size="17.94" font-weight="normal" dy="10.12">0</tspan></text>
<text x="818.6" y="458.6" text-anchor="middle" font-size="23" font-weight="bold">x/<tspan font-weight="normal" font-family="Liberation Serif" font-style="italic">λ</tspan><tspan font-size="17.94" font-weight="normal" dy="10.12">0</tspan></text>
<text x="279.4" y="957.5" text-anchor="middle" font-size="24" font-weight="bold">x/<tspan font-weight="normal" font-family="Liberation Serif" font-style="italic">λ</tspan><tspan font-size="18.72" font-weight="normal" dy="10.56">0</tspan></text>
<text x="837.2" y="956.7" text-anchor="middle" font-size="24" font-weight="bold">x/<tspan font-weight="normal" font-family="Liberation Serif" font-style="italic">λ</tspan><tspan font-size="18.72" font-weight="normal" dy="10.56">0</tspan></text>
<text x="258.1" y="1454.3" text-anchor="middle" font-size="26.5" font-weight="bold">x/<tspan font-weight="normal" font-family="Liberation Serif" font-style="italic">λ</tspan><tspan font-size="20.67" font-weight="normal" dy="11.66">0</tspan></text>
<text x="815.9" y="1454.3" text-anchor="middle" font-size="26.5" font-weight="bold">x/<tspan font-weight="normal" font-family="Liberation Serif" font-style="italic">λ</tspan><tspan font-size="20.67" font-weight="normal" dy="11.66">0</tspan></text>
<text transform="translate(34.2,203.6) rotate(-90)" text-anchor="middle" font-size="24" font-weight="bold">y/<tspan font-weight="normal" font-family="Liberation Serif" font-style="italic">λ</tspan><tspan font-size="18" font-weight="normal" dy="10.08">0</tspan></text>
<text transform="translate(590.2,208.7) rotate(-90)" text-anchor="middle" font-size="24" font-weight="bold">y/<tspan font-weight="normal" font-family="Liberation Serif" font-style="italic">λ</tspan><tspan font-size="18" font-weight="normal" dy="10.08">0</tspan></text>
<text transform="translate(27.5,1207.4) rotate(-90)" text-anchor="middle" font-size="26.5" font-weight="bold">y/<tspan font-weight="normal" font-family="Liberation Serif" font-style="italic">λ</tspan><tspan font-size="19.88" font-weight="normal" dy="11.13">0</tspan></text>
<text transform="translate(585.5,1207.6) rotate(-90)" text-anchor="middle" font-size="26.5" font-weight="bold">y/<tspan font-weight="normal" font-family="Liberation Serif" font-style="italic">λ</tspan><tspan font-size="19.88" font-weight="normal" dy="11.13">0</tspan></text>
<text transform="translate(21,710.5) rotate(-90)" text-anchor="middle" font-size="23" font-weight="bold">E<tspan font-size="16" font-weight="normal" dy="10">y</tspan><tspan dy="-10" dx="-2">/E</tspan><tspan font-size="16" font-weight="normal" dy="11">0</tspan></text>
<text transform="translate(588,708.5) rotate(-90)" text-anchor="middle" font-size="23" font-weight="bold">E<tspan font-size="16" font-weight="normal" dy="10">y</tspan><tspan dy="-10" dx="-2">/E</tspan><tspan font-size="16" font-weight="normal" dy="11">0</tspan></text></svg></body></html>
